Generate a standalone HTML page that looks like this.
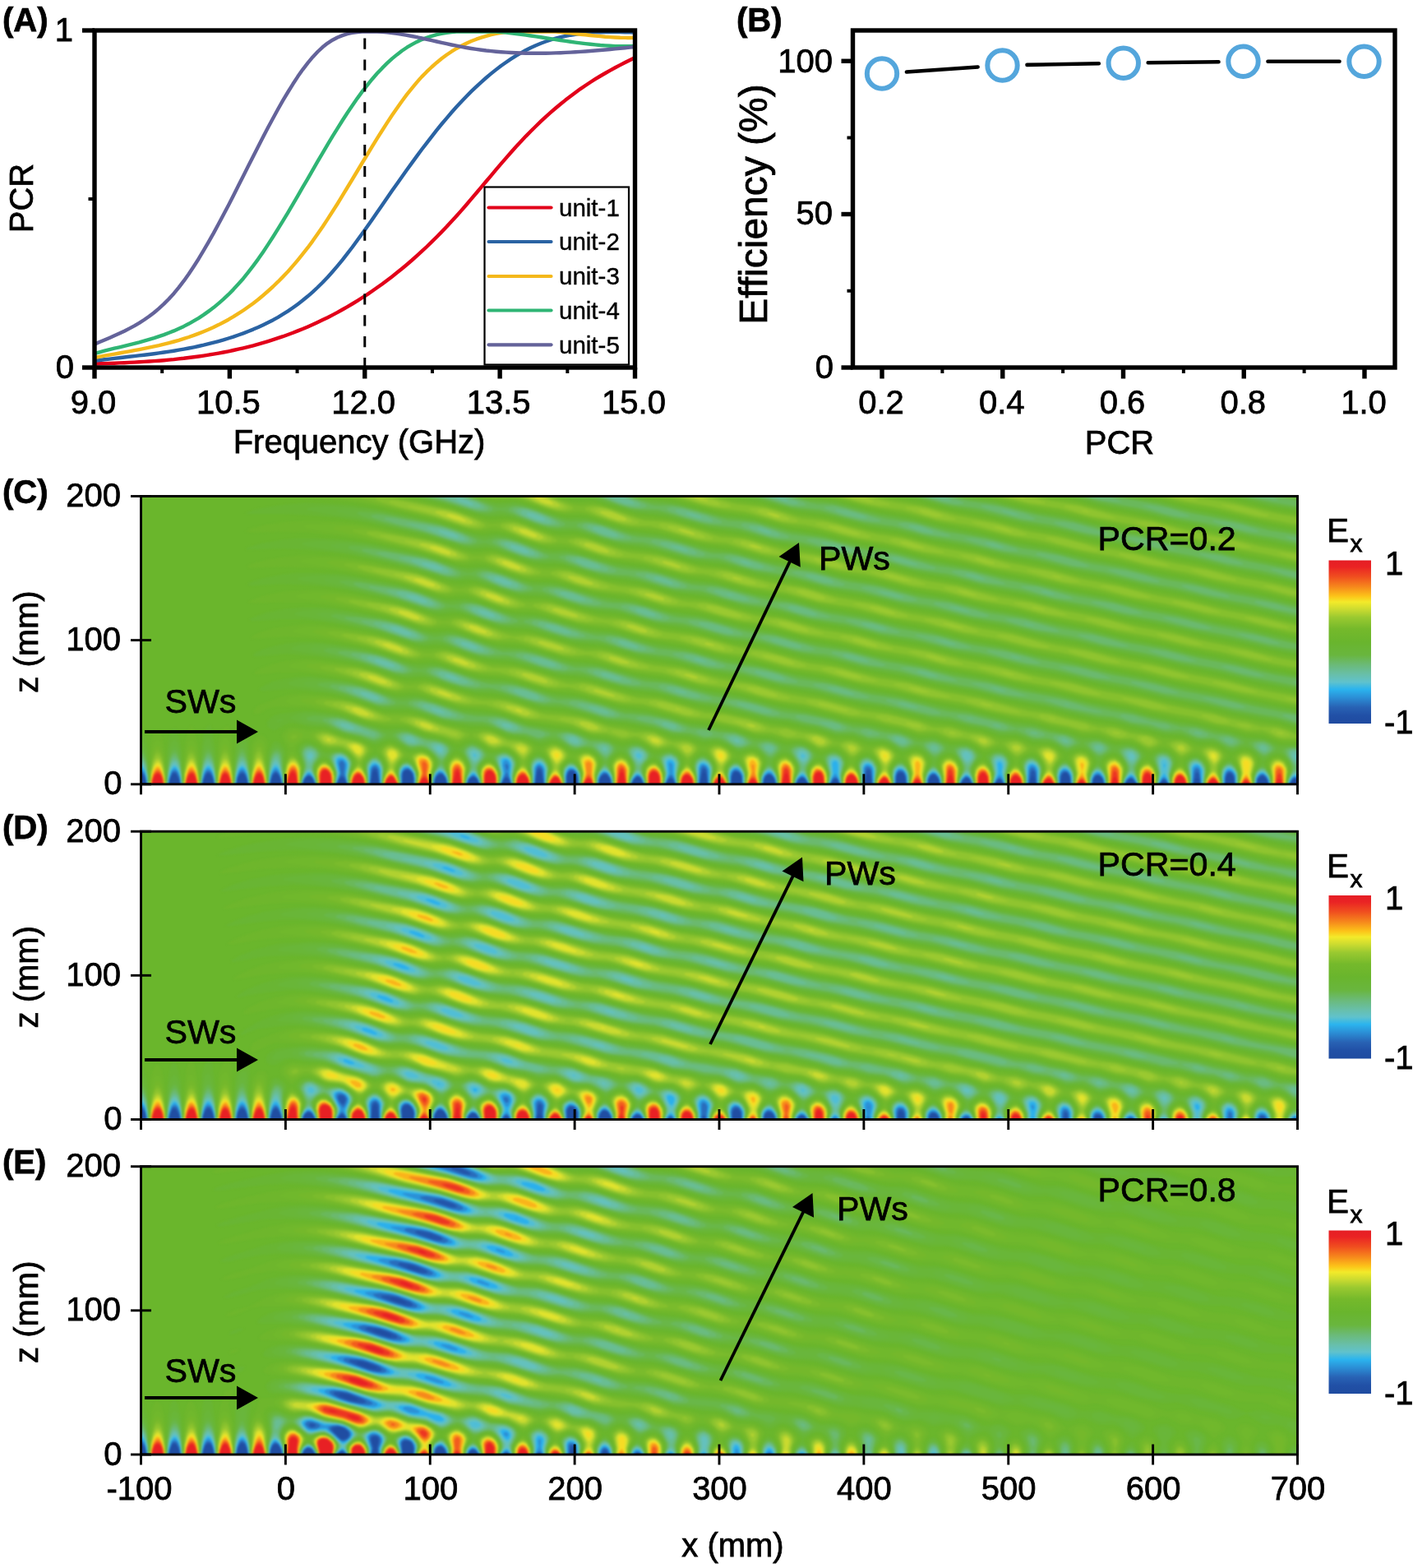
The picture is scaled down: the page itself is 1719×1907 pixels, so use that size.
<!DOCTYPE html>
<html lang="en"><head><meta charset="utf-8"><title>Figure</title>
<style>html,body{margin:0;padding:0;background:#fff;}body{width:1719px;height:1907px;overflow:hidden;}svg{display:block;}text{font-family:'Liberation Sans', sans-serif;font-size:40px;fill:#000;stroke:#000;stroke-width:0.75px;}</style></head><body>
<svg width="1719" height="1907" viewBox="0 0 1719 1907">
<defs><linearGradient id="cb" x1="0" y1="0" x2="0" y2="1"><stop offset="0" stop-color="#e51e25"/><stop offset="0.04" stop-color="#ea2324"/><stop offset="0.1" stop-color="#f04e1f"/><stop offset="0.16" stop-color="#f6861c"/><stop offset="0.22" stop-color="#fcc419"/><stop offset="0.255" stop-color="#f3ea2a"/><stop offset="0.3" stop-color="#cbdb30"/><stop offset="0.35" stop-color="#9ac930"/><stop offset="0.42" stop-color="#75b92b"/><stop offset="0.5" stop-color="#69b52d"/><stop offset="0.58" stop-color="#69b63e"/><stop offset="0.64" stop-color="#6bba78"/><stop offset="0.7" stop-color="#68bfaa"/><stop offset="0.745" stop-color="#60c2cc"/><stop offset="0.79" stop-color="#2bb4ee"/><stop offset="0.84" stop-color="#2b8fd6"/><stop offset="0.9" stop-color="#2862b4"/><stop offset="0.95" stop-color="#2150a6"/><stop offset="1" stop-color="#1f4ba0"/></linearGradient><filter id="blur" x="-2%" y="-5%" width="104%" height="110%" color-interpolation-filters="sRGB"><feGaussianBlur stdDeviation="1.3"/></filter></defs>
<rect width="1719" height="1907" fill="#fff"/>
<g id="panelA">
<clipPath id="clipA"><rect x="115" y="37" width="657.5" height="410"/></clipPath>
<g clip-path="url(#clipA)" fill="none" stroke-width="4.4" stroke-linejoin="round">
<path d="M115.0 442.5 121.0 442.3 127.1 442.1 133.1 441.9 139.1 441.7 145.2 441.4 151.2 441.2 157.2 440.9 163.3 440.6 169.3 440.3 175.3 439.9 181.4 439.5 187.4 439.1 193.4 438.7 199.4 438.2 205.5 437.6 211.5 437.1 217.5 436.4 223.6 435.8 229.6 435.0 235.6 434.3 241.7 433.5 247.7 432.6 253.7 431.6 259.8 430.6 265.8 429.6 271.8 428.5 277.9 427.3 283.9 426.0 289.9 424.7 296.0 423.3 302.0 421.8 308.0 420.3 314.1 418.6 320.1 416.9 326.1 415.1 332.2 413.2 338.2 411.2 344.2 409.2 350.3 407.0 356.3 404.8 362.3 402.4 368.3 400.0 374.4 397.4 380.4 394.8 386.4 392.0 392.5 389.1 398.5 386.2 404.5 383.1 410.6 379.9 416.6 376.5 422.6 373.1 428.7 369.5 434.7 365.8 440.7 362.0 446.8 358.1 452.8 354.0 458.8 349.8 464.9 345.5 470.9 341.0 476.9 336.4 483.0 331.6 489.0 326.7 495.0 321.7 501.1 316.5 507.1 311.1 513.1 305.6 519.2 300.0 525.2 294.2 531.2 288.2 537.2 282.1 543.3 275.8 549.3 269.3 555.3 262.7 561.4 255.9 567.4 249.0 573.4 241.9 579.5 234.8 585.5 227.7 591.5 220.5 597.6 213.3 603.6 206.1 609.6 199.1 615.7 192.1 621.7 185.2 627.7 178.5 633.8 172.0 639.8 165.6 645.8 159.5 651.9 153.5 657.9 147.7 663.9 142.1 670.0 136.7 676.0 131.5 682.0 126.5 688.1 121.6 694.1 117.0 700.1 112.5 706.1 108.1 712.2 104.0 718.2 100.0 724.2 96.2 730.3 92.5 736.3 89.0 742.3 85.6 748.4 82.3 754.4 79.1 760.4 76.0 766.5 73.0 772.5 70.1" stroke="#e2001a"/>
<path d="M115.0 438.8 121.0 438.0 127.1 437.3 133.1 436.6 139.1 435.9 145.2 435.2 151.2 434.5 157.2 433.8 163.3 433.1 169.3 432.4 175.3 431.7 181.4 431.0 187.4 430.2 193.4 429.4 199.4 428.5 205.5 427.6 211.5 426.7 217.5 425.7 223.6 424.6 229.6 423.5 235.6 422.3 241.7 421.0 247.7 419.7 253.7 418.2 259.8 416.7 265.8 415.1 271.8 413.4 277.9 411.5 283.9 409.6 289.9 407.5 296.0 405.4 302.0 403.0 308.0 400.6 314.1 398.0 320.1 395.2 326.1 392.3 332.2 389.2 338.2 385.8 344.2 382.2 350.3 378.4 356.3 374.3 362.3 369.9 368.3 365.3 374.4 360.3 380.4 355.1 386.4 349.5 392.5 343.5 398.5 337.2 404.5 330.5 410.6 323.4 416.6 316.1 422.6 308.4 428.7 300.5 434.7 292.3 440.7 284.0 446.8 275.5 452.8 266.9 458.8 258.3 464.9 249.5 470.9 240.8 476.9 232.1 483.0 223.5 489.0 214.9 495.0 206.5 501.1 198.1 507.1 189.9 513.1 181.8 519.2 173.8 525.2 166.1 531.2 158.4 537.2 151.0 543.3 143.8 549.3 136.8 555.3 130.0 561.4 123.5 567.4 117.2 573.4 111.1 579.5 105.3 585.5 99.8 591.5 94.5 597.6 89.4 603.6 84.6 609.6 80.0 615.7 75.7 621.7 71.6 627.7 67.8 633.8 64.3 639.8 61.0 645.8 58.0 651.9 55.2 657.9 52.7 663.9 50.5 670.0 48.5 676.0 46.7 682.0 45.2 688.1 43.9 694.1 42.7 700.1 41.8 706.1 41.0 712.2 40.3 718.2 39.8 724.2 39.4 730.3 39.2 736.3 39.0 742.3 39.0 748.4 39.0 754.4 39.0 760.4 39.2 766.5 39.3 772.5 39.5" stroke="#2a63a3"/>
<path d="M115.0 435.0 121.0 433.8 127.1 432.7 133.1 431.6 139.1 430.6 145.2 429.5 151.2 428.4 157.2 427.3 163.3 426.2 169.3 425.1 175.3 423.9 181.4 422.7 187.4 421.4 193.4 420.1 199.4 418.6 205.5 417.1 211.5 415.5 217.5 413.8 223.6 411.9 229.6 410.0 235.6 407.9 241.7 405.6 247.7 403.2 253.7 400.7 259.8 398.0 265.8 395.1 271.8 392.0 277.9 388.7 283.9 385.2 289.9 381.4 296.0 377.5 302.0 373.3 308.0 368.9 314.1 364.2 320.1 359.2 326.1 354.0 332.2 348.5 338.2 342.7 344.2 336.6 350.3 330.2 356.3 323.4 362.3 316.3 368.3 308.9 374.4 301.2 380.4 293.1 386.4 284.6 392.5 275.8 398.5 266.6 404.5 257.3 410.6 247.7 416.6 237.9 422.6 228.0 428.7 218.0 434.7 208.0 440.7 198.0 446.8 188.0 452.8 178.1 458.8 168.4 464.9 158.8 470.9 149.4 476.9 140.3 483.0 131.5 489.0 123.0 495.0 114.9 501.1 107.3 507.1 100.1 513.1 93.4 519.2 87.2 525.2 81.5 531.2 76.2 537.2 71.3 543.3 66.8 549.3 62.7 555.3 59.0 561.4 55.7 567.4 52.7 573.4 50.0 579.5 47.7 585.5 45.6 591.5 43.8 597.6 42.2 603.6 40.9 609.6 39.8 615.7 38.9 621.7 38.6 627.7 38.6 633.8 38.6 639.8 38.6 645.8 38.6 651.9 38.6 657.9 38.6 663.9 38.6 670.0 38.6 676.0 38.6 682.0 39.1 688.1 39.7 694.1 40.3 700.1 41.0 706.1 41.7 712.2 42.3 718.2 43.0 724.2 43.6 730.3 44.1 736.3 44.7 742.3 45.1 748.4 45.5 754.4 45.8 760.4 45.9 766.5 46.0 772.5 45.9" stroke="#f4b81a"/>
<path d="M115.0 430.0 121.0 428.3 127.1 426.7 133.1 425.2 139.1 423.7 145.2 422.3 151.2 420.8 157.2 419.3 163.3 417.8 169.3 416.3 175.3 414.6 181.4 412.9 187.4 411.1 193.4 409.1 199.4 407.1 205.5 404.8 211.5 402.4 217.5 399.7 223.6 396.9 229.6 393.8 235.6 390.4 241.7 386.8 247.7 382.9 253.7 378.6 259.8 374.1 265.8 369.1 271.8 363.9 277.9 358.2 283.9 352.1 289.9 345.6 296.0 338.7 302.0 331.2 308.0 323.4 314.1 315.1 320.1 306.4 326.1 297.4 332.2 288.0 338.2 278.4 344.2 268.6 350.3 258.6 356.3 248.4 362.3 238.1 368.3 227.7 374.4 217.3 380.4 206.8 386.4 196.4 392.5 186.1 398.5 175.9 404.5 165.9 410.6 156.1 416.6 146.5 422.6 137.2 428.7 128.2 434.7 119.6 440.7 111.4 446.8 103.6 452.8 96.2 458.8 89.3 464.9 82.9 470.9 76.9 476.9 71.4 483.0 66.4 489.0 61.8 495.0 57.7 501.1 54.1 507.1 50.9 513.1 48.1 519.2 45.8 525.2 43.8 531.2 42.2 537.2 40.9 543.3 39.8 549.3 39.0 555.3 38.6 561.4 38.6 567.4 38.6 573.4 38.6 579.5 38.6 585.5 38.6 591.5 38.6 597.6 38.6 603.6 38.6 609.6 39.1 615.7 39.6 621.7 40.3 627.7 41.0 633.8 41.8 639.8 42.6 645.8 43.5 651.9 44.4 657.9 45.3 663.9 46.2 670.0 47.1 676.0 48.1 682.0 49.0 688.1 49.9 694.1 50.7 700.1 51.6 706.1 52.4 712.2 53.1 718.2 53.8 724.2 54.4 730.3 55.0 736.3 55.4 742.3 55.8 748.4 56.1 754.4 56.2 760.4 56.3 766.5 56.2 772.5 56.0" stroke="#2fb574"/>
<path d="M115.0 418.7 121.0 416.1 127.1 413.5 133.1 410.9 139.1 408.3 145.2 405.5 151.2 402.7 157.2 399.6 163.3 396.4 169.3 392.8 175.3 389.0 181.4 384.8 187.4 380.2 193.4 375.1 199.4 369.6 205.5 363.5 211.5 356.9 217.5 349.6 223.6 341.7 229.6 333.2 235.6 324.2 241.7 314.7 247.7 304.7 253.7 294.3 259.8 283.6 265.8 272.5 271.8 261.2 277.9 249.7 283.9 237.9 289.9 226.1 296.0 214.1 302.0 202.1 308.0 190.2 314.1 178.3 320.1 166.6 326.1 155.0 332.2 143.8 338.2 132.8 344.2 122.2 350.3 112.0 356.3 102.3 362.3 93.1 368.3 84.6 374.4 76.6 380.4 69.4 386.4 63.0 392.5 57.3 398.5 52.6 404.5 48.7 410.6 45.5 416.6 43.1 422.6 41.2 428.7 39.9 434.7 39.0 440.7 38.6 446.8 38.6 452.8 38.6 458.8 38.6 464.9 38.8 470.9 39.3 476.9 40.0 483.0 40.8 489.0 41.8 495.0 42.8 501.1 44.0 507.1 45.2 513.1 46.5 519.2 47.8 525.2 49.1 531.2 50.5 537.2 51.8 543.3 53.2 549.3 54.5 555.3 55.7 561.4 56.9 567.4 58.0 573.4 59.0 579.5 59.9 585.5 60.7 591.5 61.5 597.6 62.1 603.6 62.7 609.6 63.2 615.7 63.6 621.7 64.0 627.7 64.3 633.8 64.5 639.8 64.7 645.8 64.7 651.9 64.8 657.9 64.8 663.9 64.7 670.0 64.6 676.0 64.4 682.0 64.2 688.1 63.9 694.1 63.6 700.1 63.3 706.1 62.9 712.2 62.5 718.2 62.0 724.2 61.5 730.3 61.0 736.3 60.5 742.3 60.0 748.4 59.4 754.4 58.8 760.4 58.2 766.5 57.6 772.5 57.0" stroke="#64639a"/>
</g>
<line x1="443.75" y1="46.5" x2="443.75" y2="445" stroke="#000" stroke-width="3" stroke-dasharray="13.2 12.7"/>
<rect x="589.5" y="227.5" width="175.5" height="216" fill="#fff" stroke="#000" stroke-width="2.2"/>
<line x1="594.5" y1="252.5" x2="670.5" y2="252.5" stroke="#e2001a" stroke-width="4.2" stroke-linecap="round"/>
<text x="680" y="262.8" style="font-size:29.5px;stroke-width:0.4px">unit-1</text>
<line x1="594.5" y1="294" x2="670.5" y2="294" stroke="#2a63a3" stroke-width="4.2" stroke-linecap="round"/>
<text x="680" y="304.3" style="font-size:29.5px;stroke-width:0.4px">unit-2</text>
<line x1="594.5" y1="336" x2="670.5" y2="336" stroke="#f4b81a" stroke-width="4.2" stroke-linecap="round"/>
<text x="680" y="346.3" style="font-size:29.5px;stroke-width:0.4px">unit-3</text>
<line x1="594.5" y1="377.5" x2="670.5" y2="377.5" stroke="#2fb574" stroke-width="4.2" stroke-linecap="round"/>
<text x="680" y="387.8" style="font-size:29.5px;stroke-width:0.4px">unit-4</text>
<line x1="594.5" y1="419.3" x2="670.5" y2="419.3" stroke="#64639a" stroke-width="4.2" stroke-linecap="round"/>
<text x="680" y="429.6" style="font-size:29.5px;stroke-width:0.4px">unit-5</text>
<g stroke="#000" stroke-width="5.4" fill="none">
<rect x="115" y="37" width="657.5" height="410"/>
<line x1="100" y1="37" x2="115" y2="37"/>
<line x1="100" y1="447" x2="115" y2="447"/>
<line x1="107.5" y1="242" x2="115" y2="242" stroke-width="4"/>
<line x1="115.00" y1="447" x2="115.00" y2="460.5"/>
<line x1="279.38" y1="447" x2="279.38" y2="460.5"/>
<line x1="443.75" y1="447" x2="443.75" y2="460.5"/>
<line x1="608.12" y1="447" x2="608.12" y2="460.5"/>
<line x1="772.50" y1="447" x2="772.50" y2="460.5"/>
<line x1="197.19" y1="447" x2="197.19" y2="454" stroke-width="4"/>
<line x1="361.56" y1="447" x2="361.56" y2="454" stroke-width="4"/>
<line x1="525.94" y1="447" x2="525.94" y2="454" stroke-width="4"/>
<line x1="690.31" y1="447" x2="690.31" y2="454" stroke-width="4"/>
</g>
<text x="3" y="38" font-weight="bold">(A)</text>
<text x="89" y="50" text-anchor="end">1</text>
<text x="90" y="460" text-anchor="end">0</text>
<text x="113.5" y="502.5" text-anchor="middle">9.0</text>
<text x="277.9" y="502.5" text-anchor="middle">10.5</text>
<text x="442.2" y="502.5" text-anchor="middle">12.0</text>
<text x="606.6" y="502.5" text-anchor="middle">13.5</text>
<text x="771.0" y="502.5" text-anchor="middle">15.0</text>
<text x="437" y="551" text-anchor="middle">Frequency (GHz)</text>
<text transform="translate(40,241) rotate(-90)" text-anchor="middle">PCR</text>
</g>
<g id="panelB">
<g stroke="#000" stroke-width="4.6" stroke-linecap="round">
<line x1="1102.9" y1="87.5" x2="1189.6" y2="81.5"/>
<line x1="1249.5" y1="78.9" x2="1336.8" y2="77.3"/>
<line x1="1396.7" y1="76.3" x2="1482.5" y2="75.2"/>
<line x1="1542.5" y1="74.8" x2="1629.5" y2="74.8"/>
</g>
<circle cx="1073" cy="89.5" r="18.2" fill="#fff" stroke="#54a6dc" stroke-width="6"/>
<circle cx="1219.5" cy="79.5" r="18.2" fill="#fff" stroke="#54a6dc" stroke-width="6"/>
<circle cx="1366.75" cy="76.75" r="18.2" fill="#fff" stroke="#54a6dc" stroke-width="6"/>
<circle cx="1512.5" cy="74.75" r="18.2" fill="#fff" stroke="#54a6dc" stroke-width="6"/>
<circle cx="1659.5" cy="74.75" r="18.2" fill="#fff" stroke="#54a6dc" stroke-width="6"/>
<g stroke="#000" stroke-width="5.4" fill="none">
<rect x="1037.5" y="37" width="659.5" height="410"/>
<line x1="1023.5" y1="74.25" x2="1037.5" y2="74.25"/>
<line x1="1023.5" y1="260.5" x2="1037.5" y2="260.5"/>
<line x1="1023.5" y1="447" x2="1037.5" y2="447"/>
<line x1="1030.5" y1="167.5" x2="1037.5" y2="167.5" stroke-width="4"/>
<line x1="1030.5" y1="353.75" x2="1037.5" y2="353.75" stroke-width="4"/>
<line x1="1073.00" y1="447" x2="1073.00" y2="460.5"/>
<line x1="1219.75" y1="447" x2="1219.75" y2="460.5"/>
<line x1="1366.50" y1="447" x2="1366.50" y2="460.5"/>
<line x1="1513.25" y1="447" x2="1513.25" y2="460.5"/>
<line x1="1660.00" y1="447" x2="1660.00" y2="460.5"/>
<line x1="1146.38" y1="447" x2="1146.38" y2="454" stroke-width="4"/>
<line x1="1293.12" y1="447" x2="1293.12" y2="454" stroke-width="4"/>
<line x1="1439.88" y1="447" x2="1439.88" y2="454" stroke-width="4"/>
<line x1="1586.62" y1="447" x2="1586.62" y2="454" stroke-width="4"/>
</g>
<text x="896" y="38" font-weight="bold">(B)</text>
<text x="1013" y="87.5" text-anchor="end">100</text>
<text x="1013" y="273" text-anchor="end">50</text>
<text x="1014" y="460" text-anchor="end">0</text>
<text x="1072.0" y="502.5" text-anchor="middle">0.2</text>
<text x="1218.8" y="502.5" text-anchor="middle">0.4</text>
<text x="1365.5" y="502.5" text-anchor="middle">0.6</text>
<text x="1512.2" y="502.5" text-anchor="middle">0.8</text>
<text x="1659.0" y="502.5" text-anchor="middle">1.0</text>
<text x="1362" y="552" text-anchor="middle">PCR</text>
<text transform="translate(932.5,248.5) rotate(-90)" text-anchor="middle" style="font-size:48px">Efficiency (%)</text>
</g>
<g id="panelC">
<clipPath id="clipC"><rect x="171.5" y="603.5" width="1407.0" height="350.3"/></clipPath>
<rect x="171.5" y="603.5" width="1407.0" height="350.3" fill="#6ab62c"/>
<g clip-path="url(#clipC)"><g transform="translate(171.5,603.5)" filter="url(#blur)">
<path fill="#6eb62c" d="M10 351l20 0 0-30-2-18-3-13-2-4-2-2-2 0-2 1-2 4-3 12-1 20zM51 351l21 0-1-30-2-19-4-17-2-4-2-1-2 2-2 3-3 14-2 20zM92 351l21 0-1-28-3-36-2-6-2-1-4 2-2 2-2 4-2 7-2 20zM134 351l20 0-1-34 1-18-1-3-2-3-4-3-4 1-2 1-4 5-2 6-1 12zM175 351l19 0 2-22-2-6-6-14 0-2 2-4 7-5 4-2 4 1 4 1 12 8 4 2 18 0 6 2 4 3 5 6 2 6-6 14-1 4 1 8 21 0 0-8-4-14 0-4 3-6 10-10-1-2-7-6-7-4-6-2-16-3-22-9-8 0-14 1-16-3-8 1-6 5-2 4 1 4 6 10 1 4-4 18zM215 351l20 0 1-10-1-7-4-8-4-4-2-1-2 0-4 1-4 4-2 3-1 6zM294 351l20 0-3-16 1-6 2-4 3-3 6-3 2 1 4 3 4 5 2 5 2 8-2 10 18 0 0-10 5-14-1-6-4-6-4-3-4-2-6-1-10 2-4 0-14-9-4-2-6-1-5 2-7 4-2 2-1 2 8 10 4 8 0 4-3 12zM376 351l18 0 0-8 3-10 0-6-2-4-4-6-4-3-2-1-4 1-4 3-3 4-2 4 0 4 3 14zM415 351l20 0 1-10-1-7-4-7-2-3-4-2-4 0-4 2-3 3-2 4 0 6zM454 351l21 0 0-10-4-16 1-4 3-4 4-4 4-2 4 1 4 3 4 6 3 6 0 6-3 10-1 8 20 0-3-16 0-4 2-4 4-4 4-3 4 0 2 1 4 4 4 8 1 8-1 10 18 0 0-10 5-14-1-6-4-6-6-4-6-1-12 2-4 0-12-8-8-4-6 0-12 4-4 0-14-8-6-1-16-2-18-8-6-2-6-1-14 1-6-1-28-6-26-9-14-4-32-1-10-3-28-10-28-6-32-3-18 1-8 2-27 10-6 4-3 4 0 2 2 2 2 0 4-1 10-6 8-2 36 1 10 1 32 6 28 10 14 4 16 2 16 0 8 1 24 9 20 4 16 8 4 0 10-4 6-1 4 1 4 2 14 9 4 1 10-2 6 0 6 3 4 4 3 4 1 4 0 4-5 12zM576 351l18 0 0-6 3-12 0-4-1-4-3-5-4-4-4-2-4 0-4 3-5 6 0 4 3 14zM615 351l20 0 1-10-2-8-5-9-4-2-2 0-4 2-4 3-2 4-1 6zM654 351l21 0 0-10-5-14 0-4 4-6 7-5 4 0 4 2 6 7 3 6 0 6-3 12-1 6 20 0-2-14 0-6 2-4 3-4 4-3 4-1 2 1 2 2 4 6 2 5 1 8-1 10 18 0 0-12 5-14 0-4-2-4-3-3-4-3-4-1-6 0-12 4-2 0-12-9-8-4-6-1-12 2-4 0-16-7-16-1-6-1-14-6-8-3-18-2-18-4-18-2-26-8-24-6-32-3-32-11-16-4-28-2-10-2-50-16-8-1-16 1-8-1-42-14-22-5-40-5-14-1-14 1-15 2-15 4-15 6-5 4 2 1 2 1 28-3 24 0 18 2 30 5 24 5 40 14 8 1 16-1 8 1 50 16 10 1 20 2 12 2 12 3 28 9 52 8 8 2 18 7 20 3 16 5 4 1 12-2 6 1 6 2 14 9 4 0 10-2 6 0 4 2 4 2 4 5 2 4 1 4-6 14zM776 351l18 0 0-6 3-12 0-4-1-4-3-4-4-4-4-2-4 0-4 2-3 2-3 4 1 6 3 14zM815 351l20 0 1-10-1-8-6-9-4-2-2 0-4 2-4 4-2 3-1 6zM854 351l21 0 0-10-6-14 0-4 3-4 3-3 4-2 4-1 4 1 4 3 4 5 3 5 0 6-3 12-1 6 20 0-2-14 0-6 2-4 3-4 8-6-1-2-11-10-8-4-6 0-14 1-18-8-22-1-22-8-18-3-18-4-22-3-22-7-28-6-36-6-48-13-34-5-52-14-8-2-18-1-10-1-48-15-12-2-20-1-10-2-48-15-8-1-16 1-8-1-40-14-24-5-48-8-14-1-16 0-18 2-19 3-14 4-12 6 1 2 2 0 38-2 26 1 20 2 34 6 28 6 42 14 10 2 14-1 8 0 10 3 28 10 12 3 12 2 20 2 10 2 46 13 8 2 18 1 10 2 52 14 30 4 28 7 26 8 22 2 32 6 26 9 20 2 18 6 14-1 6 1 6 3 14 9 4 0 12-4 6 1 4 2 4 4 5 7 0 4-5 10-1 4zM935 351l18 0 0-12 5-14 0-4-4-6-3-3-4-2-4-1-6 1-6 3-6 4 2 1 4 6 4 9 2 6zM976 351l18 0 0-6 3-12 0-4-2-4-2-4-4-4-4-2-4 0-4 2-4 3-2 3 0 4 4 16zM1015 351l20 0 1-10-1-6-4-9-4-4-2-1-4 1-4 3-4 6-1 6zM1054 351l21 0 0-10-6-14-1-4 3-4 4-3 4-2 4-1 4 1 4 3 5 6 2 6 0 4-3 12-1 6 20 0-2-14 0-6 3-5 8-9 0-2-8-8-4-3-6-2-6-1-14 1-14-7-6-1-20-1-20-7-20-4-18-5-24-3-56-14-28-4-54-14-44-8-40-10-44-8-42-11-44-7-44-13-10-2-18-1-10-2-52-15-10-1-18-1-8-1-12-4-26-9-12-4-8-1-16 2-8-1-48-16-50-10-18-3-18-2-20 0-20 1-18 2-18 4-12 4-7 4 7 1 36-1 28 0 24 3 24 4 50 10 48 16 8 0 14-1 8 1 8 2 30 11 12 3 8 2 18 1 10 1 54 15 10 2 16 1 10 2 46 13 42 6 44 12 42 7 42 11 14 3 26 4 54 14 26 4 16 4 20 4 20 7 22 1 14 6 6 1 12 0 6 1 6 2 14 9 4 0 12-4 6 1 4 2 6 5 3 4 1 4-7 14-1 6zM1135 351l18 0 0-12 6-14 0-4-4-6-4-3-4-2-4-1-6 1-9 5-1 2 7 12 2 6 1 6zM1176 351l18 0 0-6 3-10 0-6-2-4-3-4-3-3-4-2-4 0-6 2-3 3-2 4 5 16zM1215 351l20 0 1-10-1-6-4-9-4-4-2-1-4 1-4 3-4 6 0 6zM1254 351l21 0-1-10-5-14-1-4 3-4 4-3 4-2 4 0 4 1 4 3 4 5 3 6 0 4-3 12-1 6 20 0-2-14 0-6 3-6 8-8 0-2-3-4-5-4-4-3-6-2-6-1-10 1-4 0-14-7-6-1-20-1-18-6-20-4-22-6-22-3-36-8-22-6-50-10-38-9-46-9-40-10-40-7-48-13-36-5-52-14-34-5-50-13-40-6-42-13-10-2-20-1-12-3-52-15-10-1-16 0-8-1-10-3-30-11-10-3-8-1-16 1-8-1-46-15-60-12-18-3-20-2-22-1-20 0-18 2-22 3-15 4-9 4 2 2 2 0 40-1 30 1 28 2 26 5 62 13 46 15 8 1 18-1 8 1 48 16 10 2 16 0 10 2 54 15 38 5 42 12 42 7 48 13 36 5 50 13 36 6 48 12 40 7 44 11 44 8 56 14 24 4 22 6 20 4 18 6 16 0 6 1 18 7 20 1 6 2 14 9 4 0 10-4 6 0 4 1 6 5 5 6 2 4-8 14-1 6zM1335 351l18 0 0-12 6-14 0-4-2-4-4-4-4-3-4-1-4 0-6 2-7 4-1 2 7 12 2 6 1 6zM1376 351l18 0 0-6 3-10 0-6-2-4-3-4-3-3-4-2-4 0-6 3-3 2-2 4 1 4 4 12zM1384 299l5 1 18 0 0-17-4 0-18-6-20-3-36-8-26-6-52-11-44-10-38-7-46-12-42-8-46-11-40-7-42-11-46-8-40-11-46-8-42-11-38-6-52-14-36-5-44-13-44-6-48-15-10-1-16 0-10-2-12-3-28-10-10-3-8-1-16 1-8-1-48-15-64-14-22-4-22-2-24-1-22 0-20 1-27 4-15 4-5 2-3 2 8 1 40-1 28 1 36 4 30 5 70 15 46 15 8 1 16-1 10 1 38 13 12 4 10 1 16 0 8 1 50 15 42 6 46 13 36 5 50 13 38 6 46 12 40 7 44 12 44 8 44 11 40 7 42 10 50 10 36 9 50 10 26 7 36 7 22 4 22 6 20 4 18 5 20 1zM1401 257l6 1 0-20-46-8-46-11-44-9-42-10-42-8-46-12-36-6-52-13-34-6-52-13-36-6-48-12-40-7-42-11-44-8-46-12-34-4-52-15-40-5-48-15-10-1-18 0-8-2-40-14-10-2-10-1-16 1-8-2-44-14-51-11 0-2-126 0 0 2 41 4 26 3 22 4 74 17 38 12 10 3 8 1 16-2 6 1 8 2 32 12 12 3 8 2 18 0 8 1 48 14 42 6 50 14 34 5 48 13 42 6 42 12 44 8 44 11 40 7 46 12 38 6 50 13 38 7 48 11 36 7 48 11 36 7 48 12zM1399 213l8 1 0-19-26-5-48-11-44-9-38-9-46-9-40-10-46-9-42-10-44-8-42-11-38-7-52-13-36-6-46-12-42-7-44-12-38-5-52-15-38-5-48-14-10-2-14 1-8-1-17-5 0-2-95 0 0 2 16 4 6 0 14-1 10 1 38 14 12 3 8 1 18 0 8 1 48 15 40 6 52 14 36 5 44 12 44 7 44 12 38 6 50 13 36 6 48 12 42 8 40 10 46 9 42 10 44 9 40 9 44 9 44 10zM1404 171l3 0 0-19-12-2-44-11-38-7-48-12-36-6-50-12-38-7-46-12-42-7-40-11-48-9-42-11-36-5-52-14-38-6-42-12-40-6-5-1 0-2-94 0 0 2 23 2 10 2 52 14 40 6 42 12 38 6 52 13 36 6 46 12 44 8 40 10 46 9 42 10 40 8 48 11 38 7 48 12 38 7 46 11zM1401 127l6 1 0-20-28-6-50-10-40-10-42-8-46-11-36-7-54-13-34-6-49-12-41-7-40-11-36-6 0-2-87 0 0 2 19 3 48 12 42 8 40 10 46 9 44 11 36 6 52 13 38 7 46 11 40 8 38 9 50 10zM1402 83l5 1 0-20-52-10-46-11-46-9-36-9-48-9-42-11-24-4 0-2-85 0 0 2 57 14 38 7 46 11 40 8 42 10 46 9 40 10 36 7zM1401 39l6 1 0-20-28-4-63-15 0-2-89 0 0 2 44 11 36 6 54 13z"/>
<path fill="#70b82c" d="M10 351l20 0 0-22-2-16-3-11-2-4-2-1-2 0-2 1-2 4-2 8-2 17zM51 351l20 0 0-22-2-16-2-9-2-5-2-2-2-1-2 1-2 3-3 11-2 16zM93 351l20 0-1-22-2-16-3-14-2-4-2-2-2 1-2 2-2 5-2 9-2 17zM134 351l20 0-3-48-1-4-3-3-4 0-2 1-3 4-2 6-1 14zM175 351l19 0 2-18-1-6-2-6-4-6-4-4-2-1-4 6-3 9-1 8zM215 351l20 0 1-10-1-6-4-8-2-2-4-3-2 0-4 1-3 2-3 4-1 6zM254 351l21 0 0-8-5-14 0-4 2-4 8-10 1-2-1-2-3-4-6-4-4-2-20-5-22-8-8 0-14 2-14-3-4 0-4 1-4 3-2 4 0 4 4 7 4 4 2-1 12-10 6-1 6 3 12 8 4 2 18 0 4 1 6 4 6 7 1 6-6 14 0 4zM294 351l20 0-3-16 0-6 4-6 4-3 4-2 2 0 4 4 4 5 3 6 1 8-2 10 18 0 0-12 4-12 0-6-5-6-7-4-6-1-14 2-16-10-6-2-6 2-5 3-3 4 1 2 7 12 1 4 0 4-3 12zM376 351l17 0 1-8 3-10-1-6-1-4-4-5-2-2-4-1-2 0-4 2-4 4-2 4 0 4 3 14zM415 351l20 0 1-10-1-6-4-8-4-3-2-1-2-1-4 2-4 3-2 4-1 6zM454 351l21 0 0-8-5-16 0-4 2-4 9-10 1-2-6-6-7-4-6-1-16-2-16-7-8-3-8-1-14 1-28-6-28-10-12-3-10-1-18 0-8-1-8-3-28-10-22-5-20-2-26 0-11 2-4 2-2 2 1 2 5 2 25 3 32 6 30 11 10 3 18 3 16 0 8 0 8 3 16 7 22 5 16 6 4 0 10-4 6 0 6 2 16 10 4 1 12-2 6 1 4 3 5 4 3 4 1 4 0 4-6 12zM494 351l20 0-3-16 0-4 2-4 2-3 6-5 4-1 6 6 5 9 1 8-2 10 18 0 0-12 4-14-1-6-5-5-6-3-8 0-10 4-2 0-11-10-7-4-4 0-4 0-7 2-5 4 0 2 9 12 2 4 1 4 0 4-4 12zM576 351l17 0 1-6 3-12 0-4-2-4-2-4-4-4-4-2-4 0-4 3-3 3-2 4 0 4 4 14zM615 351l20 0 1-10-1-6-4-7-4-4-4-1-4 1-4 4-2 3 0 6zM654 351l21 0-1-10-5-14 0-4 2-4 4-4 4-3 4-2 4 1 4 4 4 6 4 6 0 6-4 11-1 7 20 0-3-16 0-4 4-6 8-8 0-2-3-4-5-4-4-3-6-2-8-1-10 3-4 0-14-7-6-2-16 0-18-8-6-2-18-2-16-3-20-3-24-8-18-4-14-3-26-2-32-11-14-3-36-4-54-17-10-1-14 1-8-1-36-13-18-4-34-5-22-2-12 1-11 2-5 2-1 2 4 2 69 13 52 17 8 1 14-2 8 1 52 17 10 1 28 3 16 4 28 10 52 7 28 10 18 1 18 6 14-1 6 1 6 2 12 8 4 1 14-2 6 1 4 2 4 3 3 4 3 4 0 4-7 14zM735 351l18 0 0-12 4-12 0-4-1-4-3-4-4-3-4-1-4-1-6 2-6 3-1 2 0 2 6 10 2 6 1 6zM776 351l17 0 1-6 3-12 0-4-2-4-3-4-3-3-4-2-4 0-4 2-5 5 0 4 3 14zM815 351l20 0 1-10-1-6-4-8-4-4-2 0-4 0-4 3-3 5-1 6zM854 351l21 0-1-10-6-16 0-2 2-4 5-4 4-3 4-1 4 1 4 4 4 5 3 6 1 6-4 11-1 7 20 0-3-18 2-6 8-10 0-2-1-2-7-7-8-4-6 0-14 1-18-7-6-1-10 0-6 0-14-6-8-3-18-3-18-4-22-3-23-7-25-6-36-5-50-14-32-4-54-15-34-4-48-14-12-2-20-2-10-1-48-16-10-1-14 1-8-1-38-13-20-5-38-6-22-2-20 0-12 2-6 2 0 2 6 2 32 5 54 12 48 15 8 1 16-1 8 1 34 12 14 4 10 2 20 1 10 2 14 3 34 11 10 2 24 2 54 15 8 1 24 3 52 14 24 3 32 7 26 8 20 2 18 6 18 0 6 2 16 9 4 1 12-4 6 1 6 4 5 4 3 4 1 4-7 14-1 6zM936 351l17 0 0-12 5-14-1-4-4-6-4-3-4-2-4 0-4 1-7 4-1 2 1 4 4 8 2 6 1 6zM976 351l17 0 1-6 2-10 0-6-1-4-3-4-3-3-4-2-4 0-4 2-4 3-1 4 0 4 4 14zM1015 351l20 0 1-10-2-8-5-8-4-3-2 0-4 2-3 3-2 4-1 6zM1054 351l21 0 0-6-1-6-8-16 4-4 5-4 8-3 4 1 4 3 4 5 3 6 1 6-4 12-1 6 20 0-3-18 2-6 8-10-1-4-7-7-8-3-6-1-14 1-18-8-6-1-16 1-14-6-8-3-18-2-20-6-22-2-18-6-36-9-32-5-52-13-40-7-44-11-42-7-44-12-40-6-48-14-10-2-16 0-10-2-52-15-10-2-18-1-8-1-12-3-26-10-12-3-8-1-16 1-8-1-39-13-19-5-48-9-21-2-27 0-13 2-6 2 1 2 9 2 33 5 62 14 52 16 10 1 14-1 6 0 8 2 29 11 13 4 10 2 18 0 8 1 54 16 10 2 18 1 8 1 44 13 14 3 30 4 42 12 44 7 42 11 14 3 26 4 56 14 24 3 18 5 20 4 20 7 20 0 6 2 14 6 18 0 6 2 16 10 4 0 12-4 6 0 4 2 5 5 5 6 3 4-7 9-2 5-1 6zM1136 351l17 0 0-12 5-14 0-4-5-7-4-3-4-1-4 0-4 1-4 2-3 4 0 4 4 8 3 6 0 6zM1176 351l17 0 1-6 2-10 0-6-1-4-3-4-3-2-4-2-4 0-4 1-4 3-2 4 1 4 4 14zM1215 351l20 0 1-12-2-6-5-8-4-3-2 0-4 2-5 7-1 6zM1254 351l21 0 0-8-2-6-4-8-4-5-2 1-4 5-4 6-1 7zM1294 351l20 0-3-14 0-6 2-4 6-8 1-4-2-4-5-4-8-4-6-1-10 2-4-1-14-7-6-1-20-1-18-6-22-4-18-6-24-3-58-14-28-5-28-6-28-8-46-8-43-11-41-7-48-13-34-5-52-14-34-4-50-14-40-6-44-13-38-5-54-15-10-2-16 0-8-1-50-16-10-2-16 2-8-1-38-13-20-5-50-10-26-3-16-1-16 0-16 2-5 2 3 2 52 9 64 14 14 4 40 13 8 1 16-1 8 0 38 14 12 3 8 2 18 0 8 1 40 12 16 4 36 4 44 13 40 6 48 13 36 6 50 13 38 6 48 12 42 8 36 9 48 9 26 7 32 7 26 4 18 5 22 5 18 5 20 1 20 8 20 1 6 2 14 8 4 0 12-4 4 0 4 2 4 3 12 12 12-8 4-1 4-1 4 3 4 4 4 6 2 4 0 4-4 12zM1336 351l17 0 0-12 5-14 0-4-5-7-4-3-4-1-4 0-4 1-4 2-3 4 1 4 4 9 2 5 0 6zM1376 351l17 0 1-6 2-10 0-6-2-4-3-4-6-4-4 0-4 1-3 3-3 4 1 4 4 14zM1382 297l7 2 18 0 0-15-4 0-18-6-24-4-36-7-22-6-52-11-38-9-46-9-46-11-38-7-44-11-42-8-42-11-46-8-42-11-42-7-46-12-36-6-52-14-36-4-44-13-44-7-50-15-10-1-14 0-8-1-12-3-26-10-14-4-10-1-14 1-8 0-46-15-64-14-27-4-29-2-26 1-9 1-2 2 4 2 61 11 70 16 50 15 10 2 16-2 8 1 38 14 12 3 10 2 16-1 8 1 50 15 42 6 46 14 36 4 52 14 36 6 44 11 42 8 46 12 42 7 43 11 41 7 42 11 48 9 38 10 54 10 26 7 36 7 20 4 22 6 20 3 16 5 22 2zM1397 255l10 2 0-17-42-8-48-12-44-8-43-11-39-7-48-12-36-6-51-13-37-7-50-12-36-6-50-13-40-7-41-11-43-7-48-13-34-4-48-14-44-6-48-15-10-1-16 0-8-1-38-13-12-4-10-1-16 1-8-1-46-15-56-12 0-2-85 0 0 2 49 9 76 18 46 14 10 1 14-1 8 1 8 2 30 11 14 4 10 1 16 0 8 1 49 15 41 6 50 14 36 4 46 13 44 7 42 12 42 7 44 11 38 7 50 12 36 7 50 12 38 7 46 11 38 7 52 13 32 6 52 12zM1405 213l2 0 0-17-24-4-46-11-46-9-36-9-48-9-43-11-45-8-38-10-46-9-44-11-38-7-50-12-36-6-48-13-42-7-42-12-36-4-54-15-38-5-50-15-10-1-20-1-8-1-13-5 0-2-90 0 0 2 11 2 8 1 14-1 8 1 38 13 12 4 10 1 16 0 8 1 48 15 38 5 54 14 36 5 44 13 44 7 46 12 36 6 52 13 34 6 50 12 40 7 43 11 45 9 38 9 46 9 42 10 42 8 45 11zM1400 169l7 1 0-17-8-1-45-11-37-7-50-12-36-7-51-12-37-7-45-11-41-7-42-11-48-9-42-11-34-5-56-15-36-5-44-13-38-5-11-3 0-2-80 0 0 2 13 1 10 2 50 14 42 6 42 12 38 6 52 13 34 5 48 13 42 7 42 11 46 9 40 10 42 8 47 11 37 7 46 11 38 7zM1397 125l10 2 0-18-30-7-46-9-42-10-40-7-46-12-36-6-52-13-38-7-45-11-43-8-40-10-42-8-1 0 0-2-72 0 0 2 55 14 42 7 41 11 43 8 46 11 36 7 51 12 39 7 44 11 44 8 39 10 47 9zM1398 81l9 2 0-18-50-9-44-11-46-9-40-10-52-10-38-10-30-5 0-2-74 0 0 2 48 12 40 7 44 11 46 9 36 9 48 9 44 11 36 7zM1398 37l9 2 0-17-24-4-53-13-20-4 0-2-78 0 0 2 39 10 38 7 52 12z"/>
<path fill="#74b82b" d="M10 351l20 0-1-20-1-14-3-9-2-3-2-2-2 1-2 1-4 10-1 14zM52 351l19 0-1-20-1-14-4-11-2-2-2-1-2 1-2 3-2 8-2 14zM93 351l19 0-1-20-1-14-3-9-2-4-2-2-2 0-2 2-3 11-2 16zM134 351l19 0 0-18-3-26-2-4-1-2-2-1-2 1-2 1-2 3-2 6-2 14zM175 351l18 0 2-18 0-5-4-9-6-5-2 0-2 1-2 3-3 7-1 8zM215 351l20 0 1-10-1-6-4-7-4-4-2-1-2-1-4 2-4 3-2 4 0 6zM254 351l21 0-1-10-4-12-1-4 2-4 7-10 1-4-2-2-4-4-6-3-20-5-20-7-10-1-7 2-4 2 0 2 1 2 10 8 6 4 6 2 10-1 6 1 6 3 7 7 3 4 0 4-6 14-1 4zM294 351l20 0 0-4-4-14 0-4 5-7 9-7-8-8-9-5-6-1-4 2-3 2-3 4 1 4 7 12 0 4-4 15zM336 351l17 0 0-10 4-14 0-4-2-4-4-4-4-3-4-1-8 0-9 4 0 2 7 10 4 8 0 6zM376 351l17 0 1-8 2-10 0-4-3-7-6-6-4 0-4 2-3 3-2 4-1 4 3 14zM415 351l20 0 1-10-1-6-4-7-2-2-4-3-2 0-4 1-3 3-3 4 0 6zM454 351l21 0-1-10-5-16 1-4 8-10 1-4-2-4-8-5-6-1-16-2-17-8-7-2-6-1-12 2-6 0-14-5-16-3-22-8-10-3-12-2-18 0-10-1-34-13-18-4-18-2-14 0-17 2-2 2 4 2 43 11 24 9 10 3 20 3 18 0 6 1 8 2 18 8 22 5 16 6 4 0 12-5 4 0 6 2 12 9 4 2 6 1 10-2 6 1 4 3 6 5 3 4 1 4-1 4-5 12-1 4zM494 351l20 0 0-4-4-12 0-4 2-4 10-10 0-2-3-4-4-4-6-4-4-1-4 0-4 0-5 3-2 2 0 4 8 12 2 6-1 4-4 11zM536 351l17 0 0-10 3-14 0-4-1-4-2-3-4-3-4-1-4-1-6 1-5 3-2 2 8 18 1 6zM576 351l17 0 1-6 2-12 0-4-1-4-3-4-3-3-4-2-4 0-4 3-2 2-2 4 0 4 3 14zM615 351l20 0 0-10-1-6-3-7-4-4-2 0-4 0-4 3-3 4-1 6zM654 351l21 0 0-6-1-6-6-12-1-4 2-4 11-10 1-2-3-4-9-5-6-2-16 0-16-7-10-3-18-2-14-3-20-3-22-7-12-4-22-3-24-3-30-10-16-4-36-4-54-17-10-1-14 2-6 0-38-14-18-5-22-3-26-2-14 1-3 1-1 2 4 2 6 2 46 11 46 15 10 1 14-1 6 0 48 16 12 3 22 1 10 2 14 3 30 11 20 2 32 5 26 9 20 2 16 6 4 0 10-1 6 0 6 2 12 8 6 2 4 0 10-2 6 0 4 3 5 4 5 6 2 4-8 14-1 6zM694 351l20 0-4-16 0-4 2-4 7-8 1-2 1-2-3-4-4-4-9-4-4-1-6 1-6 2-2 2 0 2 10 14 3 6-1 4-4 12zM736 351l17 0 0-12 3-12 1-4-2-4-2-3-4-3-4-2-4 0-4 1-5 3-2 2 1 4 6 14 0 6zM776 351l17 0 1-6 2-12 0-4-1-4-3-4-3-2-4-2-4 0-4 2-3 2-1 4 0 4 3 14zM815 351l20 0 0-10-1-6-3-7-4-4-2 0-4 0-4 3-3 4-1 6zM854 351l21 0 0-6-2-7-4-9-4-5-2 1-4 5-4 7-1 6zM894 351l20 0-4-16 1-4 1-4 7-8 1-4-3-4-4-4-8-4-8 0-12 3-12-7-6-2-6-1-12 1-4-1-14-7-8-2-18-3-20-4-18-2-29-9-27-6-26-3-54-15-30-3-54-16-10-1-18-1-8-2-35-11-13-3-10-2-28-2-12-3-28-11-12-3-8-1-16 2-6-1-38-13-18-5-38-6-18-2-16 1-5 1-1 2 4 2 13 4 53 13 44 14 10 1 14-2 8 1 35 13 15 4 12 2 18 1 10 1 48 15 10 2 18 0 8 2 52 15 32 3 52 15 24 3 32 7 26 8 20 1 18 6 18 1 8 3 14 8 6 0 12-3 4 0 6 4 10 11 2 1 16-11 4-1 4 3 6 8 3 5 2 4-1 4-4 12zM936 351l17 0-1-12 4-12 0-6-4-6-3-2-4-2-4 0-4 1-5 3-1 2 0 4 5 10 1 6zM976 351l17 0 1-6 2-10 0-6-2-4-3-4-6-4-4 0-4 2-3 2-2 4 0 4 4 14zM1015 351l20 0 0-10-1-6-3-7-4-4-2-1-4 1-4 3-3 4-1 6zM1054 351l21 0 0-6-2-7-4-8-4-4-2 0-2 2-5 7-2 6zM1094 351l20 0-4-18 2-6 6-8 1-4-1-2-3-4-4-3-6-2-8-1-12 2-11-6-7-3-6-1-12 2-4-1-14-6-8-3-18-2-20-6-20-2-21-6-33-8-32-5-50-13-42-7-44-12-42-7-44-12-40-6-48-14-10-1-16-1-8-1-43-13-15-4-10-1-16 0-8-2-48-16-10-1-16 2-6-1-38-13-22-6-42-7-18-2-18 0-6 1-1 2 3 2 14 4 64 16 44 14 10 1 14-2 6 0 8 3 32 12 12 3 8 1 18 1 8 1 56 16 10 2 16 0 8 1 44 14 16 3 28 3 46 13 42 6 42 12 40 6 54 15 26 3 18 5 20 4 20 7 20 0 4 1 16 7 20 1 6 2 10 7 4 1 4 0 12-4 4 0 6 3 12 11 2 2 4-2 12-7 4-1 4 3 4 4 5 8 1 4 0 4-4 12zM1136 351l17 0-1-12 5-14 0-4-4-6-4-3-4-1-4 0-4 1-4 3-2 2 1 4 4 10 1 6zM1176 351l17 0 1-6 2-10 0-6-2-4-3-4-6-3-4-1-4 2-2 2-3 4 0 4 4 14zM1215 351l20 0 0-10 0-6-4-7-4-4-2-1-4 1-4 3-3 4-1 6zM1254 351l21 0 0-6-2-7-4-7-4-4-2 0-2 2-4 4-2 4-1 6zM1294 351l20 0-4-16 1-4 1-4 6-8 1-4-1-2-3-4-6-4-4-1-6-1-14 3-12-7-8-3-6-1-14 1-18-7-20-3-20-6-24-3-56-15-28-4-28-7-30-7-42-8-44-11-40-7-50-13-34-5-52-14-36-5-34-10-16-4-38-5-44-13-38-5-54-16-10-1-16 0-8-1-50-17-10-1-16 2-8-1-38-14-18-5-49-9-17-2-24-1-7 1-2 2 3 2 14 4 76 19 42 13 12 2 14-2 8 0 37 14 13 4 10 1 16 0 8 1 54 16 12 2 26 3 44 13 40 6 48 13 34 5 54 14 36 5 49 13 41 7 34 9 22 5 28 4 26 7 34 8 24 3 22 7 20 3 18 6 20 1 20 8 6 0 10 0 6 1 18 10 4 0 12-4 4 0 6 3 10 9 4 3 4-1 10-6 4-2 2 0 4 3 4 4 5 8 1 4 0 4-4 12zM1336 351l17 0-1-12 5-12 0-4-1-4-3-4-4-3-4-1-4 0-4 1-4 3-2 2 1 4 4 10 1 6zM1376 351l17 0 1-6 2-10 0-6-2-4-3-3-6-4-4 0-4 1-2 2-3 4 0 4 4 14zM181 299l2 1 4 0 9-7 1-2 0-2-4-2-4-1-4 0-4 1-2 2-1 4 1 4zM1386 297l21 1 0-12-2 0-20-7-22-3-16-4-20-4-24-6-50-10-36-9-48-9-44-11-40-7-42-11-46-9-44-11-42-7-40-11-44-8-46-12-36-5-54-15-34-4-46-13-42-6-50-15-10-2-16 1-8-1-10-3-29-11-13-4-10-1-14 2-6 0-36-13-14-4-70-14-17-2-15-1-14 1-4 2 4 2 6 2 96 24 42 13 10 1 16-2 8 1 36 14 14 4 10 1 16 0 8 1 35 11 15 4 12 2 30 4 48 14 32 3 54 15 36 5 48 13 42 7 42 11 42 7 42 11 46 9 40 10 44 8 44 11 50 9 30 8 33 7 19 3 22 6 22 4 16 5 22 2zM1402 255l5 1 0-15-44-8-48-12-38-7-44-11-40-8-51-12-31-5-52-13-38-7-52-13-34-5-48-13-42-7-40-11-44-7-48-14-34-4-48-13-12-3-22-2-10-2-48-14-10-2-16 1-8-1-38-14-12-4-10-1-16 2-8-1-44-15-65-14 0-2-61 0 0 2 71 18 33 7 46 15 10 1 16-2 6 1 10 2 30 12 14 4 10 1 14-1 8 1 48 15 44 7 48 13 10 2 16 1 10 2 31 9 16 4 43 7 40 11 42 7 48 12 36 6 50 13 38 6 46 12 40 7 44 11 40 8 51 12 37 7 46 11 28 5zM1401 211l6 1 0-14-22-4-44-11-46-9-46-11-38-7-43-11-47-9-40-10-42-8-44-11-40-7-51-13-35-5-47-13-43-7-44-12-34-5-54-15-12-2-26-2-50-16-10-1-14 1-8-1-10-3-13-5 0-2-53 0 0 2 10 3 30 11 14 4 10 2 18-1 8 1 34 12 14 4 38 4 52 15 10 2 26 2 44 13 44 7 48 13 34 5 50 13 40 7 44 11 40 7 43 11 47 9 38 10 46 8 44 11 38 7 45 11zM1396 167l11 2 0-14-50-12-38-7-53-13-35-6-47-12-39-7-43-11-47-9-38-10-46-8-44-12-38-6-50-13-38-5-44-13-38-6-17-4 0-2-60 0 0 2 55 15 12 2 28 4 46 13 36 5 50 13 40 7 43 11 43 8 40 10 48 9 44 11 38 7 45 11 39 7 45 11 39 7zM1402 125l5 1 0-15-24-6-48-9-43-11-39-7-52-13-32-5-52-13-38-7-43-11-47-9-40-10-42-8-6-1 0-2-60 0 0 2 44 12 44 7 40 11 46 8 45 12 39 7 46 11 38 7 44 11 46 9 37 9 49 9zM1403 81l4 1 0-16-46-8-44-11-48-9-42-11-48-9-42-11-34-5-2-1 0-2-63 0 0 2 39 10 42 7 42 11 48 9 36 9 46 9 44 11 38 7zM1403 37l4 0 0-14-26-4-48-12-31-6 0-2-65 0 0 2 32 8 38 7 54 13zM420 1l7 1 8 0 10-1 0-2-25 0z"/>
<path fill="#7abb2c" d="M11 351l19 0-1-19-2-13-2-6-2-3-2-2-2 0-2 2-3 9-2 14zM52 351l19 0-1-18-2-14-3-8-2-2-2-1-2 1-2 3-2 7-2 14zM93 351l19 0-1-18-2-12-2-8-2-4-2-1-2 0-2 2-3 9-2 14zM134 351l19 0 0-14-2-13-3-13-1-4-2-2-2 0-2 2-2 3-2 7-2 14zM175 351l18 0 2-18 0-4-4-8-4-4-2-1-2 0-2 1-2 3-2 5-2 8zM215 351l20 0 0-10-1-6-3-7-2-2-4-3-4 0-2 1-3 3-2 4-1 6zM254 351l21 0-1-10-6-16 2-4 7-10 0-2-1-4-4-4-7-3-18-4-20-7-8-1-4 1-4 2-1 2 2 4 9 8 6 2 12 0 6 1 8 5 7 8 3 4 0 2-8 14-1 4zM294 351l20 0-1-6-4-12 1-4 2-4 7-8 1-2 0-2-5-6-8-4-4-1-4 1-4 3-2 3 0 4 5 10 2 6-5 14zM336 351l17 0-1-10 4-14 0-4-2-4-3-4-4-2-4-2-4 0-6 2-4 2 0 2 6 13 2 5 0 6zM376 351l17 0 1-8 2-10 0-4-3-6-2-3-4-3-2 0-4 0-4 4-3 4 0 4 2 14zM415 351l20 0 0-10-1-6-3-6-2-2-4-3-2 0-4 1-3 2-2 4-1 6zM454 351l21 0-1-10-6-14-1-4 9-12 1-4-1-2-4-4-5-2-6-2-14-1-16-8-6-2-10 0-11 3-1 2 20 14 6 2 12-2 6 1 6 4 6 7 3 4 1 4-6 9-2 5-1 4zM494 351l20 0-1-6-3-10-1-4 2-4 7-8 2-4-2-4-4-4-5-3-4-1-4-1-4 1-4 3-2 3 2 4 6 12 1 4 0 4-5 12zM536 351l17 0 0-12 3-12 0-4-3-6-4-3-4-2-4 0-4 1-5 2-2 2 1 4 5 10 1 6zM576 351l17 0 0-6 3-12 0-4-2-4-3-4-6-4-2 0-4 1-3 3-2 4-1 4 3 14zM615 351l19 0 1-10-1-6-3-6-4-4-2-1-4 1-4 2-3 4-1 6zM654 351l21 0 0-6-2-7-4-8-4-5-2 1-2 2-5 9-2 6zM694 351l20 0-1-4-3-12 0-4 1-4 7-8 1-4-1-2-3-4-6-4-4-2-6 0-4 1-5 3 0 2 1 4 7 10 2 6 0 4-5 12zM736 351l17 0-1-12 4-12 0-4-3-6-4-3-4-2-4 0-4 1-4 2-1 2 0 4 4 10 1 6zM776 351l17 0 0-6 3-12 0-4-2-4-3-4-6-4-4 0-3 2-3 3-2 3 0 4 3 14zM815 351l19 0 1-10-1-6-3-6-4-4-2-1-4 1-4 3-2 3-2 6zM854 351l21 0 0-6-2-7-4-7-4-4-2 0-2 1-5 7-2 6zM894 351l20 0-1-4-3-12 0-4 2-4 5-8 1-4 0-2-4-4-5-4-4-1-4-1-6 1-6 3 0 2 9 14 2 6 0 4-5 12zM936 351l17 0-1-12 4-12 0-4-3-6-4-3-4-2-4 0-4 1-3 2-2 4 5 18zM976 351l17 0 0-6 3-10-1-6-1-4-3-3-6-4-4 0-4 2-2 1-2 4 0 4 3 14zM1015 351l19 0 1-10-1-6-3-6-4-4-2-1-4 1-4 3-2 3-1 6zM1054 351l21 0-1-8-2-6-3-6-4-3-2 0-2 1-4 5-2 3-1 6zM1094 351l20 0-1-4-3-12 0-4 2-4 5-8 1-4-2-4-2-2-5-3-4-2-4 0-6 1-6 2-1 2 10 14 2 6 0 4-5 12zM1136 351l17 0-1-12 4-12 0-4-1-4-2-2-4-4-4-1-4 0-4 1-3 2-2 4 6 18zM1176 351l17 0 0-6 3-10-1-6-4-7-6-4-4 0-4 2-3 3-1 2 0 4 3 14zM1215 351l19 0 1-10-1-6-3-6-4-4-2-1-4 1-4 3-2 3-1 6zM1254 351l21 0-1-8-2-6-3-5-4-4-4 2-4 4-1 3-2 6zM1295 351l19 0-1-4-3-12 0-4 1-4 6-8 0-4-1-2-3-4-4-3-4-1-4-1-6 1-5 2-1 2 0 2 9 12 2 6 0 4-5 12zM1336 351l17 0-1-12 4-12 0-4-1-4-2-2-4-4-4-1-4 0-4 1-3 2-1 2 0 4 3 10 2 6zM1376 351l17 0 0-6 2-10 0-6-4-7-6-3-4 0-4 1-4 5 0 4 3 14zM663 319l2 2 2-1 9-9 2-4-2-4-5-3-6-2-18-1-16-7-6-3-8-1-14 0-16-4-16-2-25-9-11-3-22-3-18-1-6-1-27-10-17-5-10-1-18-1-8-1-12-3-32-11-12-4-10 0-16 3-6-2-32-13-22-6-16-2-18-1-8 0-7 1 0 2 4 2 33 9 46 16 12 1 14-3 4 0 33 13 19 6 12 2 18 0 8 1 16 5 30 10 26 3 28 4 6 2 16 7 6 2 18 1 18 6 14-2 4 0 6 3 14 9 4 1 4 0 14-2 6 2zM862 317l3 1 2 0 4-3 8-6 1-2-1-2-6-5-8-3-6 0-10 2-4-1-13-7-9-3-18-2-19-5-19-2-26-8-30-7-24-2-54-16-30-2-42-13-16-4-8-1-16 0-8-2-34-11-15-4-11-2-26-1-12-4-26-9-14-5-12 0-12 3-4 0-35-14-21-6-42-6-14-1-8 1 0 2 9 4 41 11 32 11 14 4 10 1 14-3 4 0 36 14 14 4 12 2 26 2 12 3 28 9 14 4 10 1 16 0 8 2 51 15 11 2 22 1 52 16 8 1 18 1 34 8 22 8 6 1 16 0 18 6 18 0 6 3 12 7 4 2 6 0 10-3 6-1 4 3zM1064 317l3 0 2-1 8-5 3-2 1-2-1-2-8-6-9-2-8 0-6 2-3 2 1 0 14 14zM1262 315l3 2 4-1 9-5 2-2 1-2-1-2-5-4-8-4-8-1-10 3-2 2zM1025 307l4 0 7-2 9-4-1-2-11-7-10-4-18-2-20-6-16 0-6-1-16-6-38-9-28-4-50-13-40-7-49-13-33-5-10-2-40-12-10-1-22-2-10-2-46-14-12-2-14 0-8-1-41-13-15-4-10-1-18 0-8-2-37-13-13-4-12-1-12 4-4 0-37-15-22-6-53-8-16 0-1 0-2 2 3 2 12 4 44 11 46 15 12 2 14-4 4 0 34 14 18 6 10 1 16 0 8 1 56 17 10 1 18 0 6 1 33 11 15 4 12 2 28 3 44 13 44 7 40 11 16 3 28 4 56 15 18 1 8 2 17 5 19 4 18 6 6 1 12-1 6 1 18 7 20 1 4 2 12 7zM1221 305l4 2 6-1 11-5 1-2-5-4-9-4-8-2-16-2-18-6-24-3-17-5-17-3-24-7-24-3-32-8-27-7-41-7-50-13-34-5-48-13-36-5-54-15-36-5-30-9-16-4-12-2-28-3-46-14-10-2-16-1-10-1-42-13-14-4-10-1-16 1-6-1-36-13-14-5-12-1-6 1-8 2-4 1-40-16-20-5-60-10-15-1-6 2 3 2 10 4 58 15 44 14 12 1 14-3 4 0 32 13 20 7 10 1 18-1 8 1 35 12 17 5 12 2 26 2 44 13 10 2 28 3 52 15 36 5 49 13 35 5 49 13 41 7 43 11 43 7 31 9 29 6 26 4 20 6 20 4 20 6 16 0 6 1 18 7 20 1 6 3zM381 297l6 0 4-1 9-5 0-2-13-6-20-5-24-9-14-2-20 0-8-1-8-2-26-11-12-3-14-2-14-1-10 0-6 2 1 2 3 2 30 9 26 10 10 2 10 2 20-1 6 1 8 2 20 9 22 5zM183 295l2 1 2-1 3-2 0-2-3-1-2 0-2 1-1 2zM1383 295l6 1 18 0 0-9-4 0-18-7-22-2-18-5-18-3-24-7-48-9-35-9-49-9-42-11-40-7-51-13-39-7-43-11-41-7-42-11-42-7-48-13-36-5-53-15-13-2-16-1-8-1-29-10-15-4-40-5-52-16-12-1-14 1-6-1-10-3-29-11-14-4-7-1-6 0-14 3-2 0-37-14-21-6-64-12-18-1-10 1 1 2 5 2 12 4 21 6 43 11 42 13 12 1 16-4 37 15 19 6 10 1 16-1 6 0 34 12 16 5 12 2 22 2 10 1 45 14 11 2 22 1 52 15 12 2 26 3 46 13 44 7 40 11 42 7 50 13 34 6 49 12 41 7 42 11 52 10 32 8 52 9 22 7 20 3 18 6 22 1zM1400 253l7 1 0-12-36-6-52-13-40-7-42-11-40-7-51-13-39-7-46-12-38-6-50-13-36-6-46-12-44-7-42-12-40-6-50-14-10-2-16-1-8-1-36-11-16-4-40-5-48-15-12-1-14 1-6-1-8-2-33-13-13-4-12 0-16 3-46-17-16-4-60-12 0-2-38 0 0 2 4 2 12 4 36 10 38 9 42 13 12 2 6-1 10-3 4 0 33 14 21 7 10 1 16-2 6 1 37 13 13 3 12 2 20 2 10 2 38 11 16 4 22 1 8 2 45 13 45 7 40 11 42 7 49 13 35 5 49 13 39 7 44 11 42 7 51 13 37 7 46 11 38 7 45 11 31 6zM1399 209l8 1 0-11-20-3-43-11-47-9-44-11-40-7-42-11-48-9-42-11-40-7-46-12-38-6-50-13-36-5-45-13-45-7-44-13-36-4-40-12-14-4-12-1-24-2-50-16-10-2-16 2-6-1-28-10 0-2-43 0 0 2 14 6 21 8 12 3 10 2 16-2 6 1 35 12 13 4 12 2 18 1 10 1 54 16 12 2 22 2 44 13 42 6 48 13 36 5 48 13 42 7 42 11 42 7 41 11 49 9 43 11 39 7 44 11 40 7 44 11zM1404 167l3 0 0-11-46-11-40-7-52-13-36-6-46-12-40-7-41-11-49-9-42-11-40-7-50-13-34-5-50-13-12-3-26-3-44-13-36-4-25-7 0-2-50 0 0 2 33 10 16 4 11 2 27 3 44 13 38 5 52 14 38 6 41 11 49 9 38 10 44 8 44 11 40 7 44 11 40 7 52 13 32 5 52 13zM1399 123l8 1 0-12-30-7-38-7-44-11-38-7-53-13-33-6-50-12-40-7-41-11-49-9-41-11-41-7-13-3 0-2-50 0 0 2 35 10 20 4 26 4 44 12 42 7 44 11 40 7 44 11 40 7 43 11 47 9 36 9 50 10zM1400 79l7 1 0-12-44-8-42-11-50-9-41-11-49-9-42-11-32-5-12-3 0-2-52 0 0 2 40 10 34 5 40 11 50 9 42 11 40 7 43 11 39 7zM1401 35l6 1 0-12-24-4-55-13-33-6-1 0 0-2-51 0 0 2 22 6 40 7 53 13zM426 1l7 0 0-2-7 0z"/>
<path fill="#85c02d" d="M11 351l19 0-1-15-2-13-2-6-2-4-2-1-2 0-2 2-3 7-2 12zM52 351l19 0-1-16-2-12-3-8-2-2-2-1-2 1-2 3-2 6-2 11zM93 351l19 0-1-17-2-11-2-6-2-4-2-1-2 0-2 2-3 7-2 12zM134 351l19 0-2-24-3-12-3-5-2 0-2 1-2 4-2 6-2 14zM175 351l18 0 1-16 0-6-3-7-4-4-2-1-2 0-2 2-2 2-2 5-1 9zM215 351l19 0 1-10-1-6-3-6-2-2-4-3-4 0-2 1-2 2-3 4 0 6zM254 351l21 0-1-6-1-6-4-9-4-5 1-2 1-1 4-4 5-7 0-4-1-2-5-4-5-2-18-4-18-7-8-1-6 2-2 2 1 4 7 7 6 2 14 0 6 2 8 6 10 11 0 2-6 7-4 7-1 4zM295 351l19 0-1-6-4-12 0-4 2-4 7-8 1-2-1-2-5-6-6-3-4-1-4 1-4 3-1 2 0 4 6 12 1 4-5 14zM336 351l17 0-1-10 4-14-1-4-1-4-3-3-4-3-4-1-4 0-5 1-3 2-1 2 1 4 5 10 2 6 0 4zM376 351l17 0 0-6 2-12 0-4-2-6-6-5-2 0-4 0-4 4-2 3-1 6 2 12zM415 351l19 0 1-10-1-6-3-6-4-3-2-1-2 0-4 1-2 1-3 4-1 6zM454 351l21 0-1-8-2-6-3-7-4-4-4 3-5 8-2 6zM495 351l19 0-1-4-4-16 1-4 7-8 2-4-1-2-3-4-6-4-4-1-4-1-4 2-3 2-1 2 1 4 6 12 1 4-1 4-4 10zM536 351l17 0-1-12 3-12 0-4-3-6-3-2-4-2-4 0-4 0-3 2-2 2 0 4 4 10 1 6zM576 351l17 0 0-6 3-12-1-4-1-4-3-4-6-3-4 0-2 1-2 2-3 4 0 4 2 14zM615 351l19 0 1-8-1-6-3-7-4-4-2-1-4 0-4 3-2 3-1 6zM654 351l21 0-1-8-2-6-3-6-4-4-2 0-2 2-5 8-2 6zM695 351l19 0-1-5-4-11 0-4 2-4 6-8 1-4-1-2-3-4-5-3-4-2-4 0-4 0-4 3-1 2 1 4 7 12 1 4 0 4-6 12zM736 351l17 0-1-12 3-12 0-4-3-6-3-2-4-2-4 0-4 1-4 3-1 2 6 18zM776 351l17 0 0-6 3-12-1-4-2-4-2-3-6-4-6 1-3 2-2 4 0 4 2 14zM815 351l19 0 1-10-1-6-3-5-4-4-2-1-4 1-4 2-2 3-1 6zM854 351l21 0-1-8-2-6-3-5-4-4-2 0-2 1-5 8-2 6zM895 351l19 0-1-5-4-11 0-4 2-4 5-8 1-4-1-2-3-4-8-4-4-1-5 1-4 2-1 2 1 4 8 12 1 4 0 4-6 12zM936 351l17 0-1-12 3-12 0-4-3-6-3-3-4-1-4 0-4 1-3 3-1 2 1 4 3 8 1 6zM976 351l17 0 0-6 2-10 0-6-4-7-6-3-6 0-2 2-3 4 0 4 2 14zM1015 351l19 0 1-10-1-6-3-5-4-4-2-1-4 1-4 3-2 3-1 5zM1054 351l21 0-1-6-1-5-2-5-4-5-2-1-2 0-2 1-4 5-2 6zM1095 351l19 0-1-5-4-11 0-4 2-4 5-8 0-4-1-3-3-3-7-4-8 0-4 2-2 2 1 4 6 10 3 6 0 4-5 12zM1136 351l16 0 0-12 3-12 0-4-3-6-3-3-4-1-4 0-4 1-3 3 0 2 0 4 4 14zM1177 351l16 0 0-6 2-10 0-6-4-6-6-4-6 1-4 3-1 2 0 4 2 14zM1215 351l19 0 1-10-1-6-3-5-4-4-2-1-4 1-4 3-2 3-1 5zM1254 351l21 0-1-6-1-5-2-4-4-5-2-1-2 0-4 2-2 3-2 6zM1295 351l19 0-1-5-4-11 0-4 1-4 5-8 1-4-2-4-2-2-7-3-8 0-3 1-2 2 0 4 8 12 1 4 0 4-5 12zM1336 351l16 0-1-12 4-12 0-4-3-6-3-3-4-1-4 0-4 1-3 3 0 2 0 4 4 10 0 4zM1377 351l16 0 2-16-1-6-3-6-6-3-6 0-4 3-1 2 0 4 3 14zM463 319l2 2 2-1 8-9 1-4-1-2-5-4-7-3-16-1-16-8-8-2-8 0-5 2-1 2 1 2 3 4 8 6 4 2 6 1 12-2 6 2 6 5zM663 317l2 1 4-2 5-5 2-4-2-4-3-2-5-2-7-1-12 2-14-8-8-4-8-1-16 1-14-4-18-3-20-8-10-3-24-3-22-1-6-2-22-9-18-5-12-2-18 1-6-1-42-15-14-4-10-1-5 1-3 2-1 2 3 2 7 4 15 6 20 6 12 2 20 0 6 0 46 17 10 1 18 0 24 5 8 2 16 8 8 2 18 0 18 6 6 0 8-2 4 0 4 2 14 10 6 2 4 0 14-4 2 0zM862 315l3 1 2 0 4-2 5-5 1-2-1-2-4-4-7-3-8 0-6 3 0 2 1 2zM1063 315l4 1 5-3 5-4 1-2-1-2-4-4-6-3-6 0-6 1-3 2 0 2 4 6zM1264 315l5 0 6-4 2-2 1-2-1-2-4-4-6-3-6 0-7 1-2 2 0 2 1 2 6 6zM823 305l4 1 6-1 8-4 0-2-2-2-5-4-11-4-18-1-20-6-18 0-16-7-12-4-30-6-22-1-26-9-28-7-8-1-20-1-34-11-22-6-12-2-14 2-6-1-28-11-22-6-12-2-20 0-6 0-41-16-11-3-6-1-6 0-7 2-1 2 1 2 3 2 8 4 15 6 15 5 14 2 18-1 6 1 38 13 16 5 12 1 18-1 26 9 27 8 13 2 22 1 50 15 10 2 22 1 15 5 19 4 20 8 6 0 16 0 18 7 18 0 6 2zM1023 305l4 1 5-1 7-4 0-2-1-2-5-4-10-3-18-2-14-5-8-2-18 1-18-8-38-9-28-3-23-7-31-8-26-3-10-2-45-13-39-5-48-14-36-4-52-16-12-2-18 1-35-12-21-6-16-2-14 2-6-1-32-13-20-6-6-1-6 0-5 1-2 2 0 2 3 2 7 4 19 8 13 4 15 2 16-3 6 2 36 13 20 6 12 1 14-1 6 0 32 12 14 4 14 2 28 3 42 13 10 2 26 3 10 1 38 12 20 4 26 3 24 7 32 8 26 2 17 6 21 4 20 7 6 0 12-1 4 0 11 6 7 3 6 0 10 0 4 1 4 1zM1225 305l4 0 6-2 2-2 1-2-1-2-5-4-7-2-20-2-14-6-8-2-6 0-12 1-17-7-23-5-17-5-27-3-55-15-41-7-51-13-35-5-48-13-10-2-26-3-53-15-12-2-21-2-33-10-15-4-14-2-28-3-32-11-14-4-12-1-16 0-8-2-40-13-15-4-9-1-6 0-8 1-3 2 7 4 16 6 18 6 14 4 12 1 18 0 6 1 33 12 13 3 10 2 26 2 51 15 12 2 21 1 52 15 10 2 28 3 46 13 44 7 39 11 45 7 30 9 30 6 10 2 16 1 20 7 24 5 17 5 7 1 14-2 13 7 7 3 6 1 14-1 4 2 11 7zM379 295l6 1 4-1 5-4 0-2-6-4-19-5-20-8-10-3-14-1-6 1-5 2 2 2 29 13 22 5zM1382 293l9 2 16-1 0-4-2 0-10-5-10-3-6-1-16 0-17-6-17-3-23-7-29-5-28-6-26-7-50-9-41-11-43-7-31-9-17-4-40-7-41-11-43-7-47-13-37-5-48-14-10-2-18-1-8-1-52-15-12-2-18 0-6-1-30-11-14-4-12-2-22-1-8-2-41-13-13-4-12-1-6 1-5 2 1 2 13 6 15 6 18 5 14 2 26 2 50 16 10 1 22 1 36 11 16 4 14 3 24 2 44 13 46 7 38 11 46 7 47 13 35 5 48 13 42 7 42 11 50 9 33 9 53 9 28 9 16 2 22 6 16-1 6 2zM278 273l17 1 7-1 4-2-32-14-17-6-12-2-12 0-7 0-4 2 1 2 5 2 15 5 22 9zM1398 251l9 2 0-9-36-6-50-13-40-7-51-13-31-5-50-13-34-5-58-15-32-5-49-13-37-5-45-13-45-7-29-9-15-4-38-5-52-15-10-1-20-1-37-12-15-4-14-2-20-1-8-2-33-11-15-5-8-1-6 0-8 2-2 2 7 4 14 6 25 8 12 2 18 0 8 1 40 13 16 4 10 1 14 0 6 1 31 10 15 4 12 2 34 5 30 9 14 4 38 5 47 13 37 5 48 13 42 7 42 11 42 7 50 13 34 5 50 13 38 7 45 11 31 5zM302 235l7 1 6-1 4-2 1-2-5-4-13-6-15-6-12-3-14-3-14 0-11 0-1 2 9 4 44 16zM1398 207l9 1 0-7-20-3-41-11-47-9-43-11-41-7-41-11-49-9-41-11-35-5-56-15-34-5-48-13-12-2-26-3-44-13-12-2-34-5-44-13-10-2-24-1-33-11-23-6-14-2-22-1-37-13-14-4-13-1-6 1-3 2 1 2 12 6 16 6 16 5 12 2 22 0 57 17 13 2 22 1 33 11 15 4 28 3 10 2 48 13 10 2 26 3 47 13 13 3 30 4 41 11 21 4 22 3 40 11 50 9 42 11 42 7 42 11 40 7 43 11zM318 195l13 1 7-1 2-2 0-2-3-2-8-4-19-8-13-4-14-3-22-2-12-1-4 1-2 1 9 4 23 7zM1403 165l4 0 0-7-44-11-40-7-51-13-33-5-49-13-41-7-40-11-50-9-40-11-42-7-49-13-31-4-52-14-14-3-26-2-32-11-16-4-32-3-30-9 0-2-42 0 0 2 25 8 15 4 14 2 26 3 44 13 10 2 20 1 8 2 38 11 17 4 13 2 18 2 43 12 45 7 48 13 34 5 49 13 35 5 49 13 41 7 52 13 32 5 43 11zM345 157l6 0 4 0 4-2 1-2-1-2-3-2-13-6-16-6-14-4-44-6-12-1-5 1 2 2 11 4 32 9 38 13zM445 135l12 1 11-3-1-2-8-4-19-8-17-6-14-3-6 1-5 2 0 2 2 2 11 6 20 8zM1397 121l10 2 0-10-27-6-39-7-43-11-41-7-50-13-34-5-57-15-33-5-40-11-50-9-39-11-37-5-25-7 0-2-42 0 0 2 28 8 20 4 27 3 44 13 36 5 48 13 12 2 24 3 49 13 20 4 23 3 40 11 50 9 33 9 51 9zM360 117l9 1 6-1 4-2 0-2-5-4-13-6-16-6-10-3-55-9-11-1-6 1 1 2 9 4 42 11zM461 95l8 1 8 0 7-1 3-2-2-2-4-2-13-6-27-10-8-2-6 0-8 2-1 2 1 2 2 2 8 4 19 8zM377 77l8 1 6 0 6-1 2-2-1-2-2-2-8-4-20-8-14-4-67-12-11 0-2 2 3 2 11 4 49 13zM1398 77l9 2 0-10-44-7-40-11-50-9-40-11-42-7-49-13-35-5-17-5 0-2-42 0 0 2 32 8 35 5 39 11 51 9 41 11 41 7 43 11 39 7zM487 57l13 0 6-2 0-2-6-4-14-6-15-6-12-4-12-1-7 1-3 2 1 2 2 2 12 6 20 8zM404 39l9 0 5-2 1-2-2-2-3-2-13-6-16-6-12-3-66-13-14-1-4 0-4 1 2 2 5 2 18 6 45 11 38 13zM1400 33l7 1 0-8-24-4-53-13-33-5-11-3 0-2-38 0 0 2 15 4 10 2 30 5 53 13 31 5zM503 17l8 1 6 0 6-1 3-2-1-2-3-2-23-10 0-2-37 0 0 2 13 6 15 6z"/>
<path fill="#8fc42f" d="M11 351l19 0-1-12-2-13-2-6-2-4-2-1-2 0-2 2-3 6-2 12zM52 351l19 0-1-14-2-10-2-8-3-3-2-1-2 1-2 3-2 6-2 12zM93 351l19 0-1-14-2-12-2-5-2-4-2-1-2 0-2 2-2 6-3 12zM134 351l19 0-2-21-2-8-2-5-2-3-2-1-2 2-3 8-3 12zM175 351l18 0 1-16 0-6-3-6-4-4-2 0-4 1-4 7-1 8zM215 351l19 0 1-10-1-6-3-6-6-4-2-1-4 2-2 1-2 4-1 6zM254 351l21 0-1-8-2-6-3-6-2-2-2-2-4 3-5 7-1 6zM295 351l19 0-1-5-5-13 0-4 2-4 6-8 1-4-4-5-6-3-4-1-3 1-3 2-1 2 0 4 5 12 1 4-6 14zM336 351l17 0-1-10 3-12 0-6-4-6-4-3-4-1-6 0-4 2-2 2 1 4 4 10 2 6 0 4zM376 351l17 0 0-6 2-12 0-4-3-6-5-4-2-1-4 1-3 2-2 4-1 6 1 12zM415 351l19 0 1-10-1-6-5-7-4-3-4 0-2 1-4 5-1 6zM454 351l21 0-1-8-2-6-3-6-4-3-2 0-2 2-5 7-1 6zM495 351l19 0-1-5-5-15 1-4 7-8 1-4 0-2-3-4-5-3-4-2-6 1-3 2-2 2 1 4 6 12 1 4 0 2-6 12zM536 351l17 0-1-12 3-12-1-4-3-6-6-3-4-1-4 1-4 3 0 2 5 18zM577 351l16 0 0-6 2-12 0-4-4-7-2-2-4-1-4 0-2 1-2 2-2 3-1 4 3 14zM615 351l19 0 1-8-1-6-3-7-4-3-2-1-4 0-4 3-2 3-1 5zM654 351l21 0-1-8-2-6-3-5-4-4-2 1-2 1-4 5-2 8zM695 351l19 0-1-4-5-16 2-4 6-8 1-4-1-2-3-4-8-4-4 0-4 1-2 1-2 2 1 4 8 16-1 4-5 10zM736 351l16 0 0-12 2-12 0-4-3-6-6-3-4 0-4 1-2 2-1 2 0 4 4 14zM777 351l16 0 0-6 2-10 0-6-4-6-6-4-4 0-2 1-2 1-2 4-1 4 3 14zM816 351l18 0 1-8-1-6-3-7-4-3-2-1-4 0-4 3-2 4-1 6zM854 351l21 0-2-11-2-5-4-5-2-1-2 0-4 3-2 3-2 6zM895 351l19 0-1-4-5-16 2-4 5-8 1-4-2-4-2-2-7-3-4-1-4 1-2 1-2 2 0 4 9 16 0 4-6 12zM936 351l16 0-1-12 3-12 0-4-1-4-2-2-6-3-4 0-3 1-3 2-1 2 0 4 4 14zM977 351l16 0 0-6 2-10-1-6-3-6-6-4-6 1-2 2-2 3-1 4 3 14zM1016 351l18 0 1-8-1-6-3-7-4-3-2-1-4 0-4 4-2 3-1 6zM1054 351l21 0-2-11-2-4-4-5-2-1-2 0-4 3-2 3-2 5zM1095 351l18 0 0-4-5-16 2-4 5-8 0-4-2-4-2-2-6-3-6 0-3 1-3 2 0 4 8 14 1 4-5 12zM1136 351l16 0-1-12 3-12 0-4-1-4-2-2-6-3-6 0-3 3-1 2 0 4 3 14zM1177 351l16 0 2-16 0-4-2-4-2-3-6-4-4 0-3 1-2 2-2 4 3 16zM1216 351l18 0 1-8-1-6-3-7-4-3-2-1-4 1-4 3-2 3-1 6zM1255 351l20 0-2-10-2-5-4-5-4-1-4 3-2 3-2 7zM1295 351l18 0 0-4-5-16 0-2 6-10 1-4-1-2-3-3-6-3-4-1-4 1-3 2-1 2 2 4 7 14 0 4-6 12zM1336 351l16 0-1-12 3-12 0-4-1-4-2-2-6-3-6 0-3 3-1 2 0 4 3 10 1 4zM1377 351l15 0 3-16-1-4-1-4-2-3-2-2-4-2-6 1-3 2-2 4 0 4 3 12zM263 319l2 1 2 0 4-4 3-5 0-4-1-2-4-4-8-3-16-2-11-5-7-2-6 0-5 2-1 2 1 2 6 6 7 2 12 0 6 1 6 5zM462 317l3 2 2-1 4-4 2-3 1-4-1-2-5-4-8-2-13 1-14-9-8-3-8 0-3 1-2 2 0 2 3 4 8 6 4 1 4 1 14-3 4 2zM663 315l2 1 2 0 4-3 3-4 0-2-1-2-4-4-4-1-6 0-6 1-1 2 1 2zM862 313l3 2 4-1 5-5 1-2-1-2-5-4-4-1-6 0-4 1-1 2 0 2zM1063 313l4 1 4-2 4-3 0-2 0-2-5-4-5-2-4 0-5 2-1 2 0 2 3 4zM1263 313l4 1 6-3 2-2 0-2 0-2-4-4-4-1-6-1-4 1-2 2 0 3 4 5zM627 305l4 0 6-2 3-2 1-2-2-2-5-4-9-4-10 0-2 0-4 2 0 2 7 6 6 4zM827 305l6-1 4-3 1-2-1-2-5-4-9-3-8-1-8 2 1 2 10 8 5 3zM1022 303l3 1 4 0 4-1 2-2 1-2-3-4-8-4-8-1-8 1-1 2zM1223 303l4 1 4-1 3-2 1-2-1-2-5-4-6-2-8 0-4 2 3 4zM378 293l5 1 4 0 3-3 0-2-2-2-4-2-17-5-24-9-12-2-7 2-1 2 2 2 10 6 8 4 8 2 16 2zM1188 293l5 0 6-2 0-2-3-2-9-3-9-1-4 2 1 2 6 4zM1388 293l7-1 3-1-1-2-7-4-7-2-6 0-3 2 1 2 6 4zM581 291l4 1 4 0 3-1 2-2-3-2-6-2-13 0 1 2zM782 291l5 1 4 0 5-1 2-2-3-2-8-3-6 0-5 1 0 2zM982 291l7 2 11-2-1-2-3-2-9-3-8-1-4 2 1 2zM550 287l9 0 12-2-2 0-9-6-9-4-10-3-10-2-18-1-4 1-2 1 16 5 19 9zM743 285l10 1 5-1 3-2-2-2-6-4-12-4-32-6-6 0-4 2 2 2 5 2 19 5zM939 283l6 2 6 0 5-2 0-2-6-4-5-2-22-5-13-3-9-1-8 1 2 2 8 4 22 5zM1143 283l8 0 1 0 2-2-2-2-4-2-23-5-16-5-12-2-4 1-2 1 6 4 6 2 6 2 18 3zM1340 281l7 1 5-1-2-2-5-2-10-1-4 1zM1309 275l8 1 9-1-7-4-12-4-14-2-2 1-2 1 13 6zM273 271l8 1 8 0 6-1 0-2-6-4-12-6-17-6-11-2-8 0-5 0-4 2 3 2 21 10zM466 269l7 1 6 0 5-1 2-2-5-4-8-4-17-6-15-3-6 0-6 1-1 2 3 2 23 10zM663 267l12 1 5-1 1-2-3-2-9-4-30-9-14-2-6 1-2 2 3 2 9 4zM859 265l8 1 8-1 0-2-9-4-28-8-9-2-10-1-8 0-3 1 8 4 11 4zM1056 263l11 1 5-1-10-4-35-10-12-2-13 0 2 2 5 2 17 6zM1240 259l15 0-4-1-13-5-14-4-28-4-7 0 4 0 2 2 24 8 8 2zM384 251l13 1 4-1 2-2-6-4-9-4-28-10-7-1-6 0-5 1-1 2 4 4 8 4 16 6zM580 249l7 1 6-1 2 0 2-2-3-2-9-4-32-10-12-2-4 0-5 2 1 2 3 2 9 4 19 6zM1400 249l7 1 0-4-12-1-6 0zM780 247l8 0 2-2-21-8-20-6-12-2-14 0 0 2 26 10 16 4zM977 245l10 0-2-1-1-1-25-8-22-6-16-2-4 1-3 1 28 10 19 4zM1154 241l9 1 7-1-15-6-22-6-20-3-6 0-3 1 32 10zM1350 239l9 0-3-2-11-4-24-6-16-2-2 2 26 8zM297 233l12 1 5-1 1-2-1-2-2-2-8-4-14-6-9-3-12-2-10-1-8 0-3 2 3 2 13 6 21 8zM494 231l11 0 4-2-1-2-3-2-9-4-24-8-10-2-7 0-6 0-3 2 6 4 15 6 18 6zM681 227l14 1 9-1-18-8-21-7-16-2-11 1 2 2 4 2 15 6 12 4zM876 225l15 1 7-1-16-6-27-8-16-3-11 1 1 2 16 6 13 4zM1071 223l15 0-3-2-11-4-20-6-25-4-11 0 3 1 1 1 25 8 14 4zM1267 221l9 0-2-2-6-2-28-8-15-3-6 0-5 1 10 4 13 4 17 4zM400 211l9 1 6 0 6-1 0-2-6-4-9-4-23-9-8-1-6-1-4 1-3 2 1 2 2 2 7 4 14 6zM597 209l12 1 9-1-1-2-5-2-35-12-8-2-8-1-6 1-1 2 5 4 15 6 13 4zM792 207l9 1 9-1-2-2-9-4-18-6-16-4-16-2-4 0-4 2 9 4 11 4 21 6zM990 205l11 0-2-2-10-4-27-8-17-3-8 0-5 1 35 12 8 2zM1185 203l7 0-2-2-5-2-27-8-21-4-10 0 2 2 5 2 19 6 18 4zM1365 199l8 1 5-1-16-6-15-4-16-2-6-1-3 1 24 8zM324 195l6 0 3-1 2-1 0-2-5-4-7-4-22-8-10-2-12-2-16 0-1 2 9 4 37 14zM511 191l14 1 5-1 0-2-6-4-10-4-26-8-15-2-4 0-4 2 1 2 4 2 9 4 17 6zM708 189l11 0 3-2-7-4-11-4-20-6-17-3-12 1 1 2 5 2 16 6 20 6zM892 185l19 2 4-1 1-1-29-10-15-4-17-2-4 1-2 1 20 8zM1087 183l14 2 4-1 1-1-23-8-24-6-14-1-6 1 10 4 13 4zM1282 181l12 0-9-4-20-6-24-4-8 0 9 4 20 6zM425 173l10 0 5-2-1-2-6-4-14-6-14-5-14-3-4 0-4 2 0 2 1 2 11 6 15 6zM612 169l13 2 10-2-2-2-8-4-15-6-13-4-14-2-9 2 1 2 12 6 11 4zM809 167l16 1 4 0 3-1-16-6-25-8-16-3-11 1 1 2 14 6 12 4zM1002 165l13 1 6-1-8-4-12-4-23-6-15-2-11 0 2 2 17 6zM1200 163l11 0-4-2-11-4-20-6-19-3-6 0-4 1 30 10zM1381 159l14 2 2-1 0-1-11-4-23-6-12-2-9 0 2 2 12 4zM339 155l10 1 4-1 2-2-1-2-2-2-7-4-14-6-13-4-10-2-15-2-16-1-5 1 8 4 46 16zM529 151l14 2 8-2-1-2-8-4-29-10-18-4-6 1-3 1 0 2 2 2 9 4 16 6zM724 149l11 1 9-1-2-2-9-4-32-10-11-2-7 0-5 0-2 2 7 4 11 4 13 4zM919 147l14 0 0-2-10-4-26-8-22-3-6 0-4 1 35 12zM1119 145l9 0-3-2-18-6-21-6-14-2-11 0 2 2 23 8 17 4zM1297 141l14 1 2 0 1-1-17-6-25-6-15-2-2 1-1 1 18 6zM440 133l13 1 5-1 2-2-5-4-8-4-24-9-8-2-6 0-5 1-1 2 1 2 2 2 7 4 14 6zM638 131l13 0 3-2-2-2-8-4-23-8-14-2-13 0-1 2 13 6 16 6zM823 127l16 2 6-1 3-1-20-8-20-6-17-2-4 0-4 2 20 8zM1036 127l7 0-1-2-6-2-32-10-9-2-10-1-6 0-4 1 8 4 18 6 18 4zM1213 123l12 1 5-1-16-6-23-6-18-3-9 1 24 8zM1397 119l10 1 0-4-28-7-10-1-5 1 17 6zM356 115l7 1 6 0 5-1 1-2-4-4-8-4-15-6-13-4-12-2-31-4-12 0 3 2 5 2 25 7zM545 111l16 2 6-1 4-1-3-2-14-6-29-10-8-1-6 0-4 1-1 2 5 4 9 4 10 4zM741 109l16 2 6-1 2-1-26-10-20-6-12-2-4 1-5 1 1 2 4 2 9 4 12 4zM935 107l14 1 4 0 3-1-15-6-28-8-14-2-12 0 1 2 16 6zM1129 105l15 0-3-2-10-4-21-6-15-3-18-1 2 2 25 8 14 4zM1329 103l6 0-2 0-1-2-6-2-27-8-12-2-11 0 3 2 17 6 17 4zM467 95l6 0 4-1 2-1 0-2-5-4-9-4-21-8-13-2-5 0-3 2 0 2 2 2 11 6 15 6zM654 91l13 2 9-2-1-2-4-2-9-4-25-8-18-2-6 0-3 2 3 2 16 6zM850 89l9 1 8-1-1-2-8-4-26-8-21-3-8 0-4 1 28 10zM1051 87l7 0 0-2-5-2-17-6-15-4-14-2-13 0 8 4 24 8 9 2zM1244 85l8 0-3-2-5-2-36-10-15-2-2 0-2 2 10 4 13 4 18 4zM383 77l8-1 3-1 0-2-2-2-7-4-20-8-15-4-12-2-39-6-9 0 1 2 11 4 33 9 38 13zM1399 75l8 2 0-6-18-2-8 0zM572 73l13 0 3-2-3-2-9-4-27-10-14-2-5 0-4 2 1 2 3 2 13 6 18 6zM755 69l18 2 6-1 2-1-19-8-19-6-9-2-7 0-5 0-3 2 7 4 10 4zM969 69l9 0-2-2-6-2-39-12-14-2-4 1-4 1 8 4 17 6 18 4zM1146 65l15 2 2 0 2-2-16-6-23-6-17-3-6 0-4 1 15 6zM1340 63l12 0-3-2-5-2-20-6-10-2-17-2-1 2 25 8zM482 55l11 1 5-1 2-2-1-2-7-4-24-10-15-4-6 1-4 1-1 2 2 2 6 4 19 8zM683 53l11 0 3-2-7-4-10-4-28-8-15-2-4 0-4 2 6 4 17 6 20 6zM867 49l16 2 4-1 2-1-13-6-28-8-17-3-6 0-5 1 2 2 10 4 19 6zM1061 47l10 1 8-1-3-2-10-4-21-6-24-4-12 0 4 2 24 8zM1260 45l8 0-3-2-5-2-26-8-13-2-13 0 9 4 19 6 9 2zM399 37l10 0 2 0 3-2-1-2-2-2-8-4-15-6-13-4-60-11-10-1-2 1-2 1 4 2 11 4 35 9 33 11zM586 33l9 1 6 0 4-1 1-2-17-8-22-8-12-2-8 2 0 2 2 2 7 4 15 6zM781 31l14 1 4-1 0-2-18-8-20-6-12-1-10 1 2 2 13 6 18 6zM1404 31l3 0 0-2-4 0zM980 29l11 0 0-2-21-8-13-4-14-2-13 0 1 2 21 8 14 4zM1177 27l11 0-16-6-28-8-13-2-7 0-1 1 0 1 4 2 18 6 17 4zM1356 23l13 2 2-1 2-1-18-6-25-6-13-1-2 0-1 1 17 6zM499 15l8 2 6 0 6-2 1-2-6-4-17-8 0-2-32 0 0 2 8 4 14 6zM700 13l9 1 9-1-1-2-4-2-22-8 0-2-33 0 0 2 11 4 13 4zM897 11l15 0-2-2-23-8 0-2-32 0 0 2 12 4 17 4zM1092 9l8 0 0-2-17-6 0-2-29 0 0 2 7 2 17 4zM1271 5l10 1 6-1-8-4 0-2-25 0 0 2z"/>
<path fill="#9ac930" d="M11 351l19 0-1-12-2-11-2-6-2-3-2-1-2 0-2 2-2 5-3 10zM52 351l19 0-1-12-2-10-3-8-2-3-2 0-2 1-3 6-3 12zM93 351l19 0-1-11-2-12-2-6-2-3-2-1-2 0-2 2-2 4-2 11zM134 351l19 0-1-14-3-12-2-5-2-3-2 0-2 1-2 3-2 7-2 11zM176 351l17 0 1-20-3-7-4-4-4 0-2 1-3 6-2 8zM216 351l18 0 1-10-1-6-5-7-4-3-4 0-2 1-4 5-1 6zM255 351l19 0 0-6-2-6-3-7-2-2-2-1-2 0-6 7-2 7zM295 351l19 0-2-8-6-14 2-4 7-8 1-4-3-4-6-3-6 0-2 1-2 4 0 4 5 10 1 4-6 11-2 7zM336 351l16 0 0-10 2-12 0-6-4-6-3-2-4-2-4 0-4 2-2 2-1 2 6 18zM377 351l16 0 1-18 0-4-3-6-4-3-4-1-2 1-4 3-1 4-1 4 2 12zM416 351l18 0 1-10-2-6-4-7-4-2-4 0-2 1-4 5-1 5zM455 351l19 0-1-11-2-5-4-5-2-1-2 0-4 4-2 3-2 7zM495 351l18 0-1-6-6-14 0-2 9-10 1-4-1-3-3-3-3-2-4-2-6 1-3 3 0 2 0 4 8 14-7 12-2 6zM536 351l16 0 0-12 2-12 0-4-3-5-6-4-4 0-3 1-3 2-1 2 0 4 4 14zM577 351l16 0 0-6 2-12-1-4-3-6-2-2-4-2-4 1-2 1-2 2-2 4 2 16zM616 351l18 0 0-8 0-6-3-6-4-4-2-1-4 1-4 2-2 4-1 6zM655 351l19 0-1-10-2-5-4-6-2-1-2 1-4 3-2 3-2 7zM695 351l18 0-1-8-6-12 2-4 7-8 0-4-2-4-2-2-6-3-6 0-2 1-2 2 0 2 1 4 8 14 0 2-7 11-2 5zM736 351l16 0-1-12 3-12 0-4-3-5-6-3-6 0-3 2-1 2 0 4 3 14zM777 351l16 0 0-6 2-10-1-6-3-5-2-2-4-2-4 0-2 1-2 2-2 4 0 4 2 12zM816 351l18 0 0-8 0-6-3-6-4-4-2 0-4 0-4 3-2 3-1 6zM855 351l19 0-1-10-2-5-4-5-2-1-2 0-4 3-2 3-2 7zM895 351l18 0-1-6-5-14 0-2 7-10 1-4-1-2-3-3-6-3-4-1-3 1-3 2-1 2 2 4 8 14 0 2-7 11zM936 351l16 0-1-12 3-12 0-4-3-5-2-2-4-1-6 0-2 2-2 2 0 4 4 14zM977 351l15 0 2-20-1-4-2-3-2-2-4-2-4 0-2 1-2 2-2 3 0 5 2 12zM1016 351l18 0 0-8 0-6-3-6-4-4-2 0-4 0-3 2-2 4-1 6zM1055 351l19 0-1-10-2-4-4-5-2-1-4 1-4 4-2 7zM1095 351l18 0-2-9-5-11 7-11 1-5-3-5-6-3-6 0-3 2-1 2 1 4 8 14 0 2-7 12zM1136 351l16 0-1-12 3-12 0-4-3-5-2-2-4-1-6 1-3 3 0 4 3 14zM1177 351l15 0 2-16 0-4-3-6-2-2-4-2-4 0-2 1-2 1-2 4 0 4 2 12zM1216 351l18 0 0-8 0-6-3-6-4-4-2 0-4 0-2 2-3 4-1 6zM1255 351l19 0-1-10-2-4-4-5-2-1-4 1-4 5-2 6zM1295 351l18 0-2-9-6-11 1-2 1-1 5-7 1-4 0-2-2-4-6-3-6 0-2 1-2 2 1 4 9 14 0 2-4 5-4 7zM1337 351l15 0-1-12 3-12 0-4-3-5-2-2-4-1-4 0-2 1-3 3 0 4 3 14zM1377 351l15 0 2-16 0-4-3-6-2-2-4-2-4 0-2 1-2 2-2 3 0 4 2 12zM262 317l3 2 2-1 4-3 2-4 0-4-1-2-5-4-8-2-14-1-10-5-8-3-6 0-2 1-1 2 1 4 6 4 6 1 12-1 4 1zM462 315l3 2 4-2 3-6-1-4-2-2-6-3-4 0-6 1-2 2 1 2zM662 313l3 1 3-1 3-3 1-3-1-2-4-3-4-1-4 0-4 2 0 2 3 4zM861 311l4 2 4-1 3-3 0-2 0-2-2-2-5-2-6 0-2 2 0 2zM1062 311l5 1 3-1 2-2 1-2-1-2-1-2-5-2-3 0-4 1-1 1 0 2 1 3zM1263 311l4 1 3-1 2-2 1-2-1-2-1-2-5-2-3 0-4 1-1 1 0 2 2 4zM426 303l3 1 6-1 5-2 1-2-1-2-6-4-7-3-8-1-4 2-1 2 3 4 5 4zM624 303l5 1 4-1 4-2 1-2-3-4-8-4-8-1-5 1-1 2 1 2 4 4zM824 303l5 1 4-2 1-1 1-2-1-2-5-4-6-2-6 0-4 1-1 1 1 2 2 2 5 4zM1021 301l4 2 4 0 3-2 1-2 0-2-3-2-4-2-7-1-5 1 0 2 2 2zM1223 301l4 1 3-1 1-2 0-2-3-2-5-2-4 0-2 1-1 1 1 2zM378 291l5 1 2-1 1-2-3-2-16-5-20-9-12-2-4 0-3 2 1 2 5 4 11 6 8 1 16 2zM984 289l5 1 3-1-2-2-5-1-3 1zM1183 289l6 1 3-1-2-2-5-1-2 0-2 1zM1383 289l4 1 4-1-2-2-6-1-2 1zM546 285l9 1 4-1 2-2-4-4-12-5-10-2-9 1 1 2 6 4zM741 283l6 1 4 0 3-1 1-2-6-4-8-2-12-2-10 0zM939 281l8 1 3-1-1-2-4-2-10-2-5 0 1 2zM280 271l5 0 4-2-1-2-6-4-7-4-11-4-15-2-5 0-2 2 5 4 16 8 8 3zM907 271l6 1 1-1-5-1zM1105 271l6 1 2-1-8-2zM463 267l6 1 6 0 4-1 0-2-2-2-7-4-11-4-14-3-9 1 1 2 2 2 13 6zM661 265l6 1 5-1 0-2-3-2-18-6-17-4-6 0-1 1 0 1 3 2 4 2zM851 261l8 1 3-1-4-2-20-6-9-2-6 0 1 2 4 2zM1027 255l8 1 2-1-4-2-8-2-5 0 2 2zM380 249l9 1 7-1 0-2-7-4-20-8-8-2-8-2-4 0-3 2 0 2 3 2 7 4 10 4zM577 247l10 0 1 0 0-2-3-2-10-4-19-6-11-2-5 2 1 2 8 4 12 4zM764 243l7 1 4-1-2-2-4-2-18-6-10-1-5 1 3 2 9 4zM951 239l9 0-3-2-12-4-10-1-2 1 10 4zM294 231l11 2 6-2 0-2-5-4-19-8-10-3-10-1-8 0-2 2 3 2 8 4zM491 229l8 0 2 0 1-2-2-2-7-4-18-6-14-2-4 0-2 2 6 4 9 4zM678 225l7 1 5-1-1-2-3-2-16-6-11-2-6-1-4 1 1 2 8 4 11 4zM866 221l9 1 3-1-8-4-15-4-8-1-4 1 9 4zM1054 217l7 1 2-1-6-2-12-2 2 1 1 1zM396 209l11 2 4-1 4-1-1-2-7-4-19-8-13-3-4 0-4 1 0 2 4 4 12 6zM594 207l11 0 0-2-8-4-16-6-12-3-8 1 0 2 3 2 8 4 12 4zM781 203l12 2 3-2-8-4-13-4-12-2-8 0 2 2 4 2zM967 199l10 2 2 0 1-2-10-4-9-2-7 0 2 2zM319 193l8 0 2 0 2-2-1-2-6-4-19-8-10-2-12-2-6 0-3 2 7 4 14 6 16 6zM508 189l9 1 6-1-1-2-3-2-9-4-11-4-8-2-12-2-4 0-2 2 2 2 8 4 11 4zM695 185l12 2 2 0 2-2-6-4-19-6-13-2-2 0-2 2 8 4zM882 181l11 2 2 0 1-2-15-6-9-2-7 0 1 2 4 2zM1073 177l6 0-6-1zM1066 175l5 1 1-1zM420 171l11 0 2 0 1-2-2-2-6-4-20-8-13-2-4 0-2 2 1 2 2 2 7 4 10 4zM609 167l10 1 6-1-1-2-8-4-17-6-12-2-5 2 2 2 7 4zM797 163l12 2 2 0 2-2-8-4-13-4-9-2-7 0 0 2 3 2zM995 161l7 0-4-2-13-4-8-1-2 1 11 4zM335 153l8 1 4 0 3-1 0-2-1-2-7-4-9-4-12-4-8-2-12-1-8 0-3 1 3 2 14 6zM526 149l11 1 5-1-1-2-8-4-24-8-12-2-5 2 1 2 7 4 11 4zM723 147l8 0 0-2-9-4-19-6-12-2-2 0-2 2 2 2 10 4 14 4zM908 143l7 1 4-1-7-4-15-4-8-1-4 1 9 4zM1097 139l3 0-2-2-7-2-6-1-2 1 5 2zM437 131l10 2 4-1 3-1 0-2-6-4-18-8-15-4-4 1-4 1 0 2 5 4 13 6zM635 129l10 0 1-2-6-4-17-6-10-2-9 0-1 2 7 4 10 4zM822 125l7 1 4-1-1-2-4-2-11-4-12-3-4 0-4 1 2 2 9 4zM1011 121l7 0-3-2-12-4-8-1-3 1 10 4zM352 113l13 2 5-2 0-2-3-2-7-4-9-4-12-4-11-2-9-1-10 0-3 1 24 10zM542 109l13 2 5-2-6-4-20-8-13-3-6 0-3 1 0 2 7 4 9 4zM739 107l10 0-1-2-4-2-16-6-13-3-4 0-4 1 1 2 8 4 13 4zM926 103l9 1 3-1-10-4-15-4-8-1-2 1 8 4zM1113 99l6 1 2-1-6-2-6-1-1 1zM462 93l9 0 2 0 2-2-2-2-6-4-20-8-8-2-6-1-5 1-1 2 4 4 8 4 10 4zM652 89l9 1 4 0 2-1-1-2-4-2-15-6-18-3-4-1-3 2 2 2 9 4zM839 85l12 2 2 0 2-2-8-4-13-4-13-2-2 0-1 2 9 4zM1026 81l11 2 2-2-11-4-9-2-5 0 1 2zM378 75l9 0 3-2-2-2-6-4-8-4-13-4-22-4-16-1-2 0-1 1 43 16zM568 71l9 0 1-2-2-2-8-4-17-6-8-2-6 0-3 0-2 2 5 4 9 4 12 4zM753 67l10 1 5-1-2-2-4-2-16-6-13-2-3 0-1 2 2 2 9 4zM941 63l10 1 3-1-15-6-8-2-8 0 1 2 4 2zM478 53l7 1 6 0 3-1 0-2-2-2-7-4-20-8-12-2-4 0-2 2 1 2 2 2 7 4 9 4zM670 49l13 2 2 0 2-2-7-4-17-6-16-3-4 0-3 1 2 2 9 4zM867 47l8 0-1-2-5-2-20-6-10-1-2 0-2 1 15 6zM1053 43l6 1 2-1-9-4-9-2-7 0 4 2zM394 35l11 1 3-1 1-2-2-2-7-4-9-4-12-4-12-2-44-6 2 1 1 1 25 7 30 11zM582 31l9 1 7-1-1-2-3-2-19-8-8-3-8-1-4 1-3 1 1 2 7 4 9 4zM779 29l9 0 1-2-12-6-14-4-8-1-5 1 1 2 8 4 11 4zM966 25l10 0-2-2-4-2-13-4-8-1-4 1 7 4zM1148 19l5 1 2-1-6-2-7 0zM505 15l7 0 3-2-1-2-3-2-16-8 0-2-26 0 0 2 10 6 16 6zM699 11l5 0 1-2-7-4-12-4 0-2-23 0 0 2 10 4 14 4zM885 7l7 0-2-2-9-4 0-2-20 0 0 2 6 2zM1072 3l6 0-3-1-1-1 0-2-11 0 0 2z"/>
<path fill="#b0d130" d="M11 351l18 0-2-20-2-6-2-4-2-1-2 0-2 2-2 4-2 11zM52 351l19 0-3-20-3-8-2-3-2 0-2 1-3 6-2 10zM93 351l19 0-1-10-2-11-2-6-2-3-2-1-2 0-2 2-2 5-2 10zM135 351l18 0-1-10-2-10-3-9-2-2-2-1-2 1-2 5-3 12zM176 351l17 0 0-20-2-6-4-4-4 0-2 2-3 4-1 8zM216 351l18 0 0-10-1-6-4-7-4-2-4 0-2 1-2 2-2 3-1 5zM255 351l19 0 0-6-2-6-3-6-2-2-2-1-2 0-4 4-2 3-2 6zM295 351l18 0 0-4-2-6-4-8-2-2-2 1-5 7-2 6zM336 351l16 0-1-10 3-12 0-6-4-6-7-3-4 0-3 1-2 2-1 2 5 18zM377 351l15 0 2-18 0-4-3-5-4-3-4-1-2 1-3 2-2 4 0 4 1 12zM416 351l18 0 0-10-1-6-4-6-4-2-4 0-2 1-2 1-2 4-1 4zM455 351l19 0 0-6-2-6-3-6-2-2-2-1-2 0-5 5-3 8zM495 351l18 0 0-3-2-6-4-8-2-2-2 1-4 5-3 7zM536 351l16 0-1-12 3-12-1-4-2-4-6-4-6 0-3 2-1 2 0 4 4 14zM577 351l15 0 2-18 0-4-4-6-5-3-4 1-2 1-2 2-1 3 0 4 1 12zM616 351l18 0 0-8-1-6-2-5-4-4-2-1-4 0-4 3-2 3 0 6zM655 351l19 0-1-10-2-5-4-5-2-1-2 0-2 2-3 3-3 6zM695 351l18 0-2-9-4-8-2-1-2 1-4 5-3 6zM737 351l15 0-1-12 2-12 0-4-2-4-6-3-6 0-2 1-2 4 4 16zM777 351l15 0 2-16 0-6-4-6-5-3-4 1-2 1-2 2-1 3-1 4 2 12zM816 351l18 0 0-8-1-6-2-5-4-4-2-1-4 1-2 1-3 4-1 6zM855 351l19 0-1-10-2-4-4-5-4-1-2 1-3 3-3 6zM895 351l18 0-2-9-4-7-2-2-2 1-4 5-3 6zM937 351l15 0-1-12 2-12 0-4-2-4-3-2-3-1-4 0-2 0-2 2-1 3 3 16zM977 351l15 0 2-20-3-6-2-2-4-2-4 0-2 1-2 2-2 3 0 4 2 12zM1016 351l18 0 0-8-1-6-2-5-4-4-2-1-4 1-2 1-3 4-1 6zM1055 351l19 0-1-10-2-4-4-5-2 0-4 0-4 5-2 6zM1095 351l18 0-2-9-4-7-2-2-2 1-4 5-3 6zM1137 351l15 0-2-12 3-12 0-4-2-4-3-2-3-1-4 0-2 1-2 2-1 2 3 16zM1177 351l15 0 2-16 0-4-3-6-6-4-4 1-2 0-2 2-1 3-1 4 2 12zM1216 351l18 0 0-8-1-6-2-5-4-4-2-1-4 1-2 1-3 4-1 6zM1255 351l19 0-2-10-2-4-3-4-4-1-4 3-2 2-2 6zM1295 351l18 0-2-8-4-8-2-1-2 1-4 5-3 5zM1337 351l15 0-2-12 3-12 0-4-2-4-3-2-3-1-4 0-2 1-2 4 3 16zM1377 351l15 0 2-16-1-4-3-6-5-3-4 0-2 1-3 4-1 4 2 12zM905 327l2 0 4-5 2-3 0-4-2-4-2-2-4-1-4-1-4 2-1 2 0 2 3 7zM304 325l1 1 4-3 3-4 2-4-1-4-2-2-6-3-3 1-3 2-1 4 3 8zM504 325l1 1 2 0 2-2 5-5 1-4-2-4-2-2-4-2-4-1-4 2-2 3 1 6zM703 325l2 2 2 0 6-7 1-5-2-4-3-2-4-2-4 0-4 2-1 4 3 6zM1103 325l2 2 2-1 2-2 3-5 1-4-1-2-3-3-4-2-4 0-4 2-1 3 3 6zM1304 325l1 1 2-1 2-2 3-4 0-4-1-2-4-3-6-1-4 2 0 2 2 6zM262 315l3 2 2 0 2-2 2-2 1-4-1-4-4-3-6-2-6 0-5 1 1 2 1 2zM461 313l4 2 2-1 3-3 1-4-2-3-4-2-4-1-4 1-2 1 0 2 2 4zM662 311l3 1 3-1 2-2 0-2-1-2-4-2-4 0-2 1-1 1 1 2zM862 309l3 2 2-1 2-1 1-2-1-2-4-2-4 0-1 2zM1063 309l2 1 4-1 1-2 0-2-3-2-5 0-2 2 1 2zM1263 309l4 1 2-1 1-2-1-2-2-2-5 0-1 2 0 2zM231 301l7-2 0-2-5-4-4-1-4-1-4 2 0 2 2 3 4 2zM424 301l3 1 4 0 5-1 2-2-1-2-2-2-6-3-6-2-4 1-2 2 0 2 4 4zM623 301l6 2 5-2 1-2-1-2-2-2-3-2-8-2-4 1-1 1 0 2 4 4zM823 301l4 1 4-1 1-2 0-2-3-2-4-2-4-1-4 1-1 2 2 2zM1021 299l4 2 2 0 3-2-1-2-2-2-6-1-2 1 0 2zM351 285l11 0 1-2-9-6-9-3-8-1-3 0-1 2 1 2 6 4zM544 283l5 1 4 0 3-1 0-2-6-4-6-2-7-1-4 1 1 2 2 2zM742 281l6 0-1-2-4-2-7 0 2 2zM274 269l8 0 2-2-4-4-13-6-10-2-6 0-2 0-1 2 3 2 6 4 9 4zM461 265l8 2 5-2-1-2-3-2-9-4-10-2-7 0 0 2 3 2zM656 261l4 0-3-1zM650 259l5 1 1-1-5-1zM377 247l8 1 5-1-1-2-7-4-16-6-11-2-2 0-2 2 1 2 7 4zM569 243l6 1 2-1-3-2-11-4-8-2-5 0 1 2 4 2zM300 231l4 0 2-2-1-2-2-2-8-4-11-4-10-2-7 0-2 2 6 4 9 4 11 4zM489 227l5 0 1-2-6-4-12-4-10-2-2 0-2 2 3 2 8 4zM670 221l5 1 3-1-3-2-6-2-6-1-3 1zM393 207l10 2 4-1 1-1-4-4-14-6-11-3-4 0-4 1 1 2 5 4zM583 203l8 1 4-1-3-2-10-4-8-2-4 0-1 2 3 2zM315 191l8 1 3-1 0-2-2-2-7-4-16-6-12-2-4 1-2 1 6 4 9 4zM507 187l8 0-1-2-3-2-11-4-13-3-5 1 2 2 9 4zM689 181l8 1 1-1-9-3-4 1zM417 169l6 1 4-1 1 0 0-2-5-4-14-6-10-2-7 0 0 2 4 4 8 4zM607 165l6 1 3-1-1-2-3-2-12-4-7-1-3 1 2 2 4 2zM332 151l9 1 5-1-1-2-5-4-15-6-8-2-8-1-4 0-4 1 2 2 8 4zM525 147l7 0-1-2-3-2-11-4-12-3-5 1 1 2 9 4zM434 129l11 2 2 0 2-2-1-2-7-4-15-6-9-2-4 1-1 1 1 2 6 4zM625 125l10 2 2-2-2-2-11-4-9-1-3 1 3 2zM358 113l5 0 2-2-1-2-6-4-16-6-13-2-10 0 2 2 12 6 16 6zM540 107l7 1 4-1-2-2-4-2-10-4-10-2-6 0 1 2 3 2 9 4zM723 101l8 1 1-1-7-2-4-1-2 1zM458 91l9 1 2-1 0-2-5-4-14-6-11-3-4 0-3 1 0 2 5 4 9 4zM652 87l5 0-1-2-9-4-9-2-4 0 1 2 4 2zM374 73l9 0 1 0 0-2-1-2-8-4-17-6-15-2-4 1-1 1 18 8zM556 67l11 2 2-1 1-1-6-4-11-4-8-2-4 0-2 1 0 1 2 2zM746 63l7 1 2 0 1-1-10-4-7 0 2 2zM475 51l10 2 5-2-1-2-6-4-15-6-11-2-4 0-1 2 1 2 7 4zM672 47l2 0-1-2-4-2-10-3-4 0-2 1 10 4zM391 33l8 1 5-1-1-2-6-4-15-6-15-3-6 0-4 1 3 2 8 4zM580 29l7 1 4-1-1-2-3-2-15-6-9-1-2 0-3 1 2 2 8 4zM771 25l4 1 3-1-3-2-5-2-7-1-2 1zM500 13l8 0 2-2-5-4-13-6 0-2-20 0 0 2 6 4 9 4zM680 5l9 1 1-1-11-4 0-2-8 0 0 2z"/>
<path fill="#c9da30" d="M11 351l18 0-1-10-2-10-2-6-3-3-2 1-2 2-2 4-2 10zM53 351l17 0-2-18-3-8-2-2-2-1-2 1-3 6-2 10zM94 351l17 0-2-18-2-6-2-3-2-2-2 1-2 2-2 4-2 8zM135 351l18 0-3-18-3-8-2-3-2 0-2 1-2 4-3 10zM176 351l16 0 0-20-1-4-4-4-4 0-2 1-2 3-2 8zM216 351l18 0 0-10-1-6-4-6-4-2-4 0-2 1-2 2-2 3 0 6zM255 351l19 0-1-10-3-6-3-3-2-1-2 0-2 2-3 4-3 6zM295 351l18 0-2-9-4-7-2-2-2 0-4 5-3 7zM337 351l15 0-1-10 2-12 0-6-4-6-6-2-6 1-3 3 1 4 4 14zM377 351l15 0 1-20-2-6-4-3-4-1-2 1-2 1-2 4-1 4zM416 351l18 0 0-8-1-6-2-5-4-4-2-1-4 0-4 3-2 3 0 6zM455 351l19 0-1-10-2-4-4-5-2-1-2 0-4 4-4 8zM495 351l18 0-2-9-4-6-2-2-2 0-4 5-3 6zM537 351l15 0-1-12 2-14-2-4-1-2-5-3-6 0-3 3-1 2 4 16zM577 351l15 0 2-16-1-6-4-6-4-2-4 1-2 1-3 4 0 4 1 12zM616 351l18 0 0-8-1-6-2-4-4-4-2-1-4 0-2 1-3 4-1 6zM655 351l19 0-1-10-2-4-4-5-4-1-4 4-3 6zM695 351l18 0-2-8-4-7-2-1-2 0-2 2-4 6zM737 351l15 0-2-12 2-14-1-4-2-2-4-2-4 0-2 0-3 4 1 4 2 12zM777 351l15 0 1-20-2-6-3-2-3-2-4 1-2 1-3 4 0 4 1 12zM816 351l18 0 0-8-1-6-2-4-4-4-2-1-4 0-2 2-3 3-1 6zM855 351l19 0-2-10-1-4-4-4-4-1-2 1-4 4-2 6zM895 351l18 0-2-8-4-7-2-1-2 0-2 2-4 7zM937 351l15 0-2-12 2-12 0-4-3-4-4-2-4 0-3 2-1 2 0 4 3 12zM977 351l15 0 1-16 0-4-3-6-5-3-4 0-2 1-3 4 0 4 2 12zM1016 351l17 0 1-8-1-6-2-4-4-4-2-1-4 1-4 4-2 6zM1055 351l19 0-2-10-2-4-3-4-4-1-2 1-3 4-3 6zM1095 351l18 0-2-8-4-6-2-2-2 1-2 2-4 6zM1137 351l15 0-2-12 2-12 0-4-3-4-4-2-4 0-2 2-1 2 0 4 2 12zM1177 351l15 0 1-16 0-4-4-6-4-3-5 1-2 2-2 2 0 4 2 12zM1216 351l17 0 1-8-1-6-2-4-4-4-2-1-4 1-4 4-1 6zM1255 351l19 0-1-6-1-4-3-5-2-2-4-1-2 1-3 3-3 6zM1296 351l17 0-2-7-4-7-2-1-2 0-2 2-4 6zM1337 351l15 0-3-12 3-12 0-4-3-4-4-2-4 0-2 2-1 2 0 4 2 12zM1378 351l14 0 1-16 0-4-4-6-4-2-4 0-2 1-2 3-1 4 2 12zM504 323l1 1 2 0 2-2 3-3 1-4-2-4-2-2-6-1-3 1-1 2-1 2 3 6zM703 323l2 1 2 0 2-1 3-4 1-4-1-2-3-3-6-2-4 1-1 4 1 4zM903 323l2 1 2 0 3-3 2-4-1-4-2-2-6-2-4 1-1 3 1 4zM1104 323l1 1 2 0 3-3 1-4 0-2-2-3-2-1-4-1-4 1-1 2 1 4zM1305 323l2 0 2-2 1-4 0-2-1-2-3-2-5 0-2 2 0 2 2 4zM303 321l2 2 2-1 5-5 0-4-3-4-4-1-2 0-2 1-1 2 0 4zM261 313l4 2 2 0 3-4 0-4-3-3-4-2-4-1-4 1-1 1 0 2zM462 311l3 1 2-1 1-2 0-2-2-2-5-1-3 1 0 2zM424 299l3 1 4 0 3-1 0-2-5-4-6-1-2 1-1 2zM623 299l4 1 2 0 2-1 0-2-3-2-3-1-4 0-1 1 1 2zM226 297l3 1 3-1-2-2-3-1-1 1zM823 297l2 1 1-1-1-1zM351 283l2 0 3-2-7-4-4-1-4-1-2 2 2 2 3 2zM543 279l2 1 2-1zM274 267l3-1 1-1-6-4-4-2-7-2-4 1-1 1 5 4 4 2zM457 261l6 2 1-2-5-2-4 0zM371 243l6 1 2-1-8-4-7-2-4 0 1 2zM290 227l7 1 3-1-2-2-3-2-11-4-7-1-2 1 5 4zM393 205l6 0-1-2-7-4-7-2-5 0 0 2 3 2zM316 189l2 0 1-2-6-4-12-4-8 0 2 2 7 4zM409 165l10 2 2-2-3-2-9-4-8-2-2 1 0 1 2 2zM331 149l6 1 2-1-1-2-3-2-9-4-11-2-2 1 0 1 3 2 9 4zM433 127l6 1 3-1-2-2-7-4-8-2-4-1-2 1 1 2 3 2zM349 109l6 1 3-1-1-2-4-2-11-4-7-1-4 1 7 4zM450 87l9 2 2 0 1-2-3-2-8-4-7-2-4 0-1 2 3 2zM366 69l9 2 2-2-2-2-9-4-9-2-6 0 1 2 4 2zM475 49l4 1 3-1-1-2-3-2-9-4-8-1-2 1 5 4zM393 31l2 0 0-2-7-4-11-3-4 0-2 1 8 4zM492 9l7 1 2 0 1-1-5-4-11-4 0-2-7 0 1 4 7 4z"/>
<path fill="#e1e32d" d="M12 351l17 0-1-10-2-8-2-6-3-3-2 1-2 2-2 4-2 7zM53 351l17 0-1-10-2-8-2-6-2-2-2-1-2 2-2 3-3 8zM94 351l17 0-1-10-2-8-2-6-3-2-2 0-2 2-2 4-2 9zM135 351l17 0-1-10-2-8-2-6-2-2-2-1-2 2-2 3-3 10zM176 351l16 0 0-18-1-4-4-5-4 0-2 2-2 3-2 8zM216 351l18 0 0-10-1-5-4-6-4-3-4 0-2 1-3 5-1 6zM255 351l19 0-2-10-3-6-2-2-2-1-2 0-5 5-2 6zM295 351l18 0-2-8-4-7-2-2-2 1-4 4-3 6zM337 351l15 0-1-12 2-10 0-4-2-4-1-2-3-2-4-1-4 0-2 1-1 2-1 4 4 14zM377 351l15 0 1-20-2-5-4-4-4 0-2 1-3 4-1 4zM416 351l17 0 1-8-1-6-4-7-4-2-4 0-2 1-3 4-1 6zM455 351l19 0-2-10-3-6-2-2-2-1-2 0-4 3-3 8zM495 351l18 0-2-8-4-6-2-2-2 1-2 1-4 6zM537 351l15 0-2-12 2-14-1-3-2-3-4-2-4 0-2 1-2 3 0 4 2 12zM577 351l15 0 1-20-3-6-5-3-5 1-2 2-1 3zM616 351l17 0 1-8-1-5-2-5-4-4-2-1-4 1-2 1-2 3-2 6zM655 351l19 0-2-10-2-4-3-4-2-1-2 0-4 3-3 8zM696 351l17 0-2-7-4-7-2-1-2 0-2 2-4 6zM737 351l15 0-2-12 1-14-2-5-4-2-4 0-2 1-1 2 0 4 2 12zM777 351l15 0 1-20-3-6-5-3-5 1-2 2-1 2 0 4 1 12zM816 351l17 0 1-8-2-6-2-4-3-3-2-1-4 0-4 4-1 6zM855 351l19 0-2-10-3-5-2-2-4-1-2 1-3 3-2 6zM896 351l17 0-2-7-4-7-2-1-2 1-2 1-4 6zM937 351l15 0-3-12 2-14-2-5-4-2-4 0-2 3-1 4 2 12zM978 351l14 0 1-16 0-4-2-4-2-2-4-2-4 0-3 2-1 3 0 3 1 12zM1016 351l17 0 0-8-1-6-2-4-3-3-4-1-2 1-4 4-1 5zM1055 351l19 0-1-6-1-4-3-5-2-2-4-1-2 1-3 3-2 6zM1096 351l17 0-2-7-4-6-2-1-2 0-2 1-4 7zM1137 351l14 0-2-14 2-12-2-4-4-3-4 1-2 3 0 3 2 12zM1178 351l14 0 1-16-1-4-3-5-4-3-4 1-2 1-2 3 0 5 1 10zM1216 351l17 0 0-8-1-6-2-4-3-3-2-1-4 1-2 1-2 3-1 5zM1255 351l19 0-1-6-1-4-3-5-2-1-4-1-2 1-3 2-2 6zM1296 351l17 0-2-7-4-6-2-1-2 0-2 2-4 6zM1337 351l14 0-2-14 2-12-2-4-4-2-4 0-2 4 2 14-4 12zM1378 351l14 0 0-16 0-4-3-5-4-2-2 0-3 1-3 4 1 14zM504 321l3 0 2-1 2-3 1-2-1-2-2-2-4-2-4 2-1 2 1 4zM703 321l2 1 2 0 2-1 2-4-1-4-2-2-3-1-4 0-1 3 1 4zM903 321l2 1 2 0 2-2 1-3-1-4-3-2-3-1-2 1-1 2 0 2 1 3zM1105 321l2 0 2-2 0-4-2-2-4-1-2 1-1 2 2 4zM304 319l1 1 2 0 3-3 1-2-1-2-1-2-4-1-3 1-1 2 0 2zM1304 319l1 1 2-1 1-2-1-2-2-2-2 0-1 2 0 2zM261 311l4 2 2-1 1-3 0-2-3-3-4-1-2 0-2 2 1 2z"/>
<path fill="#f6dc24" d="M12 351l17 0-3-16-3-7-2-1-2 0-2 2-2 4-2 8zM53 351l17 0-1-9-2-8-2-5-2-2-2 0-2 1-2 3-3 8zM94 351l17 0-3-16-2-6-3-2-2 0-2 2-2 5-2 8zM135 351l17 0-1-8-2-8-2-6-2-2-2 0-2 1-2 3-2 8zM176 351l16 0 0-18-2-4-3-4-2 0-2 0-2 2-2 4-2 8zM216 351l17 0 1-8-1-6-4-6-4-3-2 0-4 1-3 4 0 6zM255 351l19 0-2-10-3-5-2-2-4-1-4 3-3 7zM296 351l17 0-2-8-4-6-2-1-2 0-2 1-4 7zM337 351l15 0-2-12 2-10 0-4-3-5-2-2-4-1-4 0-2 2-1 2 4 16zM377 351l15 0 0-20-1-4-4-3-4-1-2 1-2 2-1 3zM416 351l17 0 0-12-2-5-4-4-4-2-2 1-2 1-2 3-1 6zM455 351l19 0-2-10-3-5-2-2-4-1-4 3-3 7zM496 351l17 0-2-7-4-6-2-1-2 0-2 1-4 6zM537 351l15 0-2-12 1-14-2-4-4-3-4 0-3 3 0 4 2 12zM578 351l14 0 0-20-1-3-2-3-4-2-4 1-2 2-1 3zM616 351l17 0 0-12-2-5-4-4-2-1-4 1-4 4-1 5zM655 351l19 0-1-6-1-4-3-5-2-2-4-1-4 3-3 7zM696 351l17 0-2-7-4-6-2-1-2 0-2 2-4 6zM737 351l14 0-2-12 1-14-2-4-3-2-4 1-2 3 2 14zM778 351l14 0 0-16 0-4-3-5-4-3-4 1-2 2-1 3 0 14zM817 351l16 0 0-12-2-4-4-5-2 0-4 0-2 2-2 3-1 4zM855 351l19 0-1-6-1-4-3-5-2-1-4-1-4 2-3 7zM896 351l17 0 0-2-3-6-3-4-2-2-2 1-2 1-3 4-2 4zM937 351l14 0-2-14 1-12-3-4-2-1-4 1-1 2 1 14zM978 351l13 0 1-16 0-4-3-5-4-2-2 0-3 1-2 4 0 14zM1017 351l16 0-1-12-1-4-4-4-2-1-4 1-2 1-2 3-1 6zM1056 351l17 0 0-5-2-5-4-6-4-1-4 3-3 6zM1096 351l16 0 0-2-3-8-4-3-2 0-4 4-2 5zM1138 351l13 0-3-14 1-12-2-4-2-1-3 1-1 2 1 14-4 12zM1178 351l13 0 1-16-1-4-2-4-4-3-4 1-2 2-1 2zM1217 351l16 0-1-12-1-4-4-4-4-1-2 1-4 4-1 6zM1256 351l17 0 0-5-2-5-4-5-4-1-4 2-3 6zM1296 351l16 0 0-2-3-7-4-4-2 0-4 4-2 5zM1338 351l13 0 0-2-4-12 2-12-2-3-2-1-2 0-2 2 0 4 1 6 0 4-4 12zM1378 351l13 0 1-18-3-5-4-3-4 1-3 3zM504 317l1 1 2 0 1-1 1-2-1-2-3-1-2 1 0 2zM703 317l2 2 2 0 1-2 0-2-1-2-2-1-2 1-1 2zM904 317l1 1 2-1 0-2-2-1-2 1z"/>
<path fill="#fab41a" d="M12 351l17 0-1-8-3-8-2-5-2-1-2 0-2 2-2 4-2 8zM53 351l17 0-1-7-2-8-2-4-2-3-2 0-2 1-2 3-2 8zM94 351l17 0-1-8-2-8-3-5-2-1-2 0-2 3-2 4-2 8zM135 351l17 0-1-8-2-7-2-4-2-3-2 0-2 1-2 4-2 7zM177 351l15 0-1-17-2-5-2-2-2 0-2 0-3 4-2 6zM217 351l16 0 0-8-1-6-3-6-4-2-4 0-2 1-2 3-1 6zM255 351l18 0 0-5-2-5-2-4-2-2-2-1-2 0-4 3-3 6zM296 351l17 0-2-7-4-6-2-1-2 0-2 1-4 7zM337 351l14 0-2-12 2-10 0-4-2-4-4-2-4-1-2 1-1 2 0 4 3 12zM378 351l14 0-1-20-2-4-2-2-4 0-2 1-2 3-1 4zM417 351l16 0 0-12-2-4-4-5-2 0-4 0-2 1-2 3-1 5zM456 351l17 0 0-5-2-5-2-4-2-2-2-1-2 0-4 3-3 6zM496 351l16 0 0-2-3-8-4-3-2 0-2 1-3 4-2 4zM537 351l14 0-2-12 1-14-3-4-2-1-4 1-2 2 2 14zM578 351l13 0 0-20-2-4-4-3-4 1-2 4zM617 351l16 0-1-12-1-4-4-4-2-1-4 1-2 1-2 3-1 4zM656 351l17 0 0-5-2-5-4-6-4-1-4 3-3 6zM696 351l16 0 0-2-2-6-3-4-2-1-2 0-2 2-3 3-1 4zM738 351l13 0-3-14 1-10-2-4-2-2-2 0-2 2-1 4 2 10-4 12zM778 351l13 0 1-16-1-4-2-4-4-2-4 0-2 4zM817 351l16 0-1-12-2-4-3-3-4-1-2 0-3 4-2 6zM856 351l17 0 0-4-2-6-4-5-4-1-4 3-2 5zM896 351l16 0 0-2-3-7-2-2-2-1-2 0-4 4-2 4zM938 351l13 0 0-2-4-12 1-10-1-3-2-2-2 1-1 2 0 12-4 12zM978 351l13 0 1-16-1-3-2-4-4-3-4 1-2 3zM1017 351l16 0-1-12-2-4-3-3-4-1-4 2-1 2-1 6zM1056 351l17 0 0-4-2-6-4-5-4-1-4 3-2 5zM1096 351l16 0 0-2-3-7-2-2-2-1-2 0-4 4-2 4zM1138 351l13 0 0-2-6-14 2-8-1-2-1-1-2 1 0 2 2 8-6 11zM1178 351l13 0 0-18-2-4-4-3-4 1-2 2zM1217 351l15 0 0-12-2-4-3-3-4-1-2 1-3 3-1 6zM1256 351l17 0 0-4-2-5-4-5-4-1-4 2-2 5zM1296 351l16 0 0-2-3-6-2-3-2-1-2 1-4 3-2 4zM1338 351l13 0-2-6-4-7-2 2-2 3-3 6zM1379 351l12 0 0-18-2-4-4-2-4 0-2 4zM1345 327l0 1 0-2z"/>
<path fill="#f6891c" d="M12 351l16 0-1-9-2-6-2-3-2-2-2 1-2 2-2 4-2 7zM54 351l15 0-2-13-2-4-2-2-2-1-2 1-2 3-2 6zM95 351l15 0-1-8-1-6-3-4-2-2-2 1-2 2-2 4zM136 351l16 0-3-13-2-4-2-2-2-1-2 2-2 3-2 6zM177 351l14 0-1-16-1-4-2-2-2-1-2 1-2 2-2 6zM217 351l16 0 0-8-1-6-3-5-4-2-4 0-2 2-2 3-1 4zM256 351l17 0 0-4-2-6-4-5-4-1-4 3-2 5zM296 351l16 0 0-2-3-7-4-4-2 0-2 1-3 4-1 4zM338 351l13 0-3-12 2-10-1-4-2-4-2-1-4 1-2 2 3 14-4 12zM378 351l13 0 0-18-2-4-2-2-2-1-2 0-2 2-2 3zM417 351l16 0-1-12-2-4-3-4-4-1-2 1-2 1-2 3 0 4zM456 351l17 0 0-4-2-6-4-5-4-1-4 3-2 5zM496 351l16 0 0-2-3-7-2-2-2-1-2 0-2 1-2 3-2 4zM538 351l13 0-3-14 0-10-1-3-2-1-2 0-2 2 1 12-4 12zM578 351l13 0 0-18-2-4-4-3-2 0-2 1-2 4zM617 351l15 0 0-12-2-4-3-3-4-1-2 1-3 3-1 4zM656 351l17 0 0-4-2-6-4-5-4-1-4 4-2 4zM696 351l16 0 0-2-3-6-2-3-2-1-2 0-4 4-2 4zM738 351l13 0 0-2-5-14 0-6-1-3-2 1 1 8-5 11zM778 351l13 0 0-18-2-4-4-3-2 0-2 2-2 3zM817 351l15 0-1-12-2-4-2-2-4-1-2 0-2 3-2 6zM856 351l17 0 0-4-2-5-4-5-4-1-4 3-2 4zM897 351l15 0 0-2-3-6-2-2-2-1-2 0-4 4-2 4zM938 351l12 0-1-6-4-7-2 2-2 3-3 6zM979 351l12 0-1-18-2-4-3-2-2 0-2 1-1 3zM1017 351l15 0-1-12-2-4-2-2-4-1-2 1-2 2-2 6zM1056 351l17 0-2-9-4-5-4-1-4 3-2 5zM1097 351l15 0 0-2-3-6-2-2-2-1-2 0-4 4-2 4zM1138 351l12 0-1-5-2-4-2-2-2 1-2 3-3 5zM1179 351l11 0 0-18-3-4-2-1-2 0-2 1-1 2zM1217 351l15 0-1-12-2-4-2-2-4 0-2 0-2 3-1 5zM1256 351l17 0-2-8-4-5-4-1-4 3-2 4zM1297 351l15 0 0-2-3-5-2-2-2-1-2 0-4 3-2 5zM1339 351l11 0 0-2-3-6-2-2-2 1-2 2-2 5zM1379 351l11 0-1-18-2-3-2-1-2 0-2 1-1 3z"/>
<path fill="#f25c1e" d="M13 351l15 0-1-7-2-6-2-3-2-1-2 0-2 2-2 3-2 8zM54 351l15 0-2-10-2-5-2-2-2 0-2 1-2 3-2 6zM95 351l15 0-1-7-2-6-2-3-2-1-2 0-3 5zM136 351l15 0-2-11-2-4-2-2-2 0-2 1-2 3-2 6zM177 351l14 0-1-14-1-3-2-3-2 0-2 0-2 3-2 6zM217 351l15 0 0-8-1-6-2-3-4-3-4 0-3 4-1 5zM256 351l17 0-2-9-4-5-4-1-4 3-2 6zM297 351l15 0 0-2-3-6-2-3-2-1-2 0-4 4-2 4zM338 351l13 0 0-2-4-12 1-10-1-2-2-2-2 0-1 2 1 12-5 12zM378 351l13 0-2-18-2-4-2-1-3 1-2 4zM417 351l15 0 0-8-1-5-2-4-4-2-4 0-3 3-1 6zM456 351l17 0-2-9-4-5-4-1-4 4-2 5zM497 351l15 0 0-2-3-6-2-2-2-1-2 0-4 4-2 4zM538 351l12 0-1-6-4-7-2 2-2 3-3 6zM579 351l12 0-2-18-2-4-2-1-2 0-2 3zM617 351l15 0 0-8-1-4-2-4-2-2-4-1-2 1-2 2-2 6zM656 351l17 0-2-8-4-6-4 0-4 3-2 5zM697 351l15 0 0-2-3-5-2-2-2-2-2 1-4 3-2 4zM738 351l12 0-1-5-2-4-2-2-2 1-2 3-3 5zM779 351l11 0-1-18-2-4-2-1-2 1-2 2zM818 351l14 0-1-11-2-4-2-2-4-1-2 1-2 2-1 5zM857 351l16 0-2-8-4-5-4-1-4 3-2 5zM897 351l14 0 0-2-2-5-2-2-2-1-2 0-4 4-2 4zM939 351l11 0 0-2-3-6-2-2-2 1-2 2-2 5zM979 351l11 0-1-17-2-4-2-1-2 0-2 3zM1018 351l14 0-1-10-2-4-2-3-4 0-2 1-2 2-1 4zM1057 351l15 0-1-7-4-6-4-1-4 4-2 4zM1097 351l14 0 0-2-4-7-2-1-2 0-4 4-2 4zM1139 351l11 0 0-2-3-5-2-1-2 0-2 2-2 4zM1179 351l11 0-1-16-2-4-2-1-2 0-2 4zM1218 351l14 0-1-10-2-4-2-2-4-1-3 3-2 4zM1257 351l15 0-1-6-2-4-4-3-4 1-3 4zM1297 351l14 0 0-2-4-6-2-1-2 0-4 4-2 3zM1339 351l11 0 0-2-3-4-2-2-2 1-2 2-2 3zM1380 351l10 0-2-16-1-2-2-2-2 1-2 3z"/>
<path fill="#ec3522" d="M13 351l14 0 0-4-2-7-2-3-2-1-2 0-3 3-2 6zM54 351l15 0-2-8-2-5-2-2-2 0-2 1-2 3-2 6zM95 351l15 0-1-5-2-6-2-3-2-1-2 0-2 2-2 5zM136 351l15 0-2-9-2-4-2-2-2 0-2 1-2 3-2 7zM178 351l13 0-2-13-2-4-2-1-2 1-2 3-2 6zM218 351l14 0-1-12-2-4-4-3-4 1-2 2-1 6zM256 351l16 0-1-7-4-6-4-1-4 4-2 5zM297 351l15 0 0-2-3-5-2-3-2-1-2 0-4 4-2 5zM339 351l11 0-1-5-2-4-2-2-2 2-2 2-2 5zM379 351l11 0-2-16-1-3-2-1-2 1-2 3zM418 351l14 0 0-8-1-4-3-4-3-2-4 1-2 3-1 4zM457 351l15 0-1-7-4-6-4 0-4 3-2 6zM497 351l14 0 0-2-2-5-2-2-2-1-2 0-4 4-2 4zM539 351l11 0 0-2-3-6-2-1-2 0-4 6zM579 351l11 0-2-16-1-3-2-1-2 1-1 3zM618 351l14 0-1-10-2-4-2-2-4-1-2 1-2 2-1 4zM657 351l15 0-1-7-4-5-4-1-4 3-1 4zM697 351l14 0 0-2-4-6-2-1-2 0-4 3-2 4zM739 351l11 0 0-2-3-5-2-1-2 0-2 2-2 4zM779 351l11 0-2-16-1-2-2-2-2 1-1 3zM818 351l13 0-1-10-1-3-2-3-4 0-3 2-2 4zM857 351l15 0-1-6-2-4-2-2-4-1-4 3-1 4zM898 351l13 0 0-2-4-6-2-1-2 0-4 4-1 3zM939 351l10 0 0-2-2-4-2-1-2 0-2 2-2 3zM980 351l10 0-3-16-2-3-2 1-1 2zM1018 351l13 0-1-10-3-5-2-1-2 0-2 2-2 4zM1057 351l15 0-1-5-2-4-4-3-4 1-3 5zM1098 351l13 0 0-2-4-5-2-1-2 0-4 3-1 3zM1140 351l9 0 0-2-2-3-2-2-2 1-3 4zM1180 351l9 0-2-14-2-3-2 1zM1218 351l13 0-1-8-1-4-2-2-2-1-2 0-2 1-2 5zM1257 351l15 0-1-5-2-4-4-3-4 1-3 5zM1298 351l13 0 0-2-4-5-2-1-2 0-4 4zM1340 351l9 0 0-2-2-3-2-1-2 0-3 4zM1380 351l9 0-2-11-2-4-2 3z"/>
<path fill="#e82024" d="M14 351l13 0-2-9-2-3-2-1-2 0-2 2-2 4zM55 351l13 0-1-6-2-5-2-2-2 0-2 1-1 2-3 7zM96 351l13 0-1-6-3-6-2-1-2 0-2 2-2 5zM137 351l13 0-1-7-2-4-2-2-2 0-3 3-3 6zM178 351l12 0-1-10-2-4-2-1-2 0-2 3-2 6zM218 351l14 0-1-8-1-4-2-4-3-2-2 0-2 1-2 3zM257 351l15 0-1-6-2-4-4-3-4 2-3 5zM297 351l14 0 0-2-4-7-2-1-2 0-2 2-2 2-2 4zM339 351l11 0 0-2-3-5-2-1-2 0-2 3-2 3zM379 351l11 0-3-14-2-3-2 2 0 1zM418 351l13 0 0-8-1-4-3-4-2-1-2 0-2 1-2 3zM457 351l15 0-1-6-2-3-4-3-4 1-3 5zM498 351l13 0 0-2-4-6-2-1-2 0-4 4-1 3zM539 351l10 0 0-2-2-4-2-1-2 0-2 2-2 3zM580 351l10 0-3-14-2-2-2 2zM618 351l13 0-1-10-2-4-3-2-2 0-2 1-2 3zM657 351l15 0-1-5-2-4-4-3-2 0-2 1-3 5zM698 351l13 0 0-2-4-5-2-1-2 0-4 3-1 3zM740 351l9 0 0-2-2-3-2-2-2 1-2 2-1 2zM780 351l9 0-2-12-2-3-2 3zM819 351l12 0-1-8-1-3-2-3-2-1-2 0-2 1-2 6zM857 351l15 0-1-4-2-5-4-3-2 0-2 2-3 4zM898 351l12 0 0-2-3-5-2-1-2 0-4 4zM940 351l9 0 0-2-2-3-2-1-2 0-3 4zM980 351l9 0-2-9-2-4-2 3-3 8zM1019 351l12 0-2-10-2-3-2-1-2 0-2 2-2 4zM1058 351l13 0 0-4-2-4-4-3-2 0-2 1-2 4zM1098 351l12 0 0-2-3-4-2-1-2 0-4 3zM1140 351l8 0 0-2-3-3-2 0-3 3zM1181 351l8 0-2-7-2-3-2 2-2 6zM1219 351l11 0-1-9-2-3-2-2-2 1-2 2-2 5zM1258 351l13 0 0-2-2-5-2-3-4-1-2 2-2 3zM1299 351l11 0 0-2-3-4-2-1-2 0-4 4zM1341 351l7 0 0-2-3-2-2 0-2 2zM1381 351l7 0-1-5-2-2-2 1-2 4z"/>
<path fill="#69b533" d="M-1 351l11 0-1-28-1-18-3-13-4-7-2 0zM31 351l20 0-1-28-1-18-4-17-2-4-2-2-2 1-2 2-2 5-2 10-2 21zM72 351l20 0 0-26-2-18-3-21-2-6-2-1-2 1-3 3-1 4-2 8-2 20zM113 351l20 0-2-44 1-16-1-4-2-2-2-1-4 0-4 4-2 4-2 7-1 16zM154 351l20 0 0-22 2-18-3-6-4-5-4-2-2 0-2 1-2 3-4 9-1 10zM194 351l20 0-3-16 1-6 2-4 3-3 6-3 4 1 2 2 4 6 2 5 2 8-2 10 18 0 0-10 5-14 0-6-5-6-4-3-4-2-6-1-14 2-2-1-14-9-6-2-4 1-5 3-1 2-2 4 1 4 4 10 1 6zM276 351l18 0 0-8 3-10 0-6-4-7-6-6-4 0-4 2-5 5-2 4 0 4 3 14zM315 351l20 0 1-10-1-7-4-7-2-3-4-2-2-1-4 1-4 4-2 3-1 6zM354 351l21 0 0-8-4-14 0-4 3-6 7-8 3-2 1-2-12-8-6-3-20-4-24-9-6-1-14 1-6 0-26-7-28-10-34-5-12 0-30 4-6 2-3 2-5 6 1 4 1 2 2 2 4 2 4-1 10-6 6-2 6 0 16 4 18 1 8 2 18 7 20 5 16 7 4 0 10-4 6-1 6 2 16 9 4 1 10-1 6 0 4 2 6 5 3 4 1 4 0 4-5 14zM394 351l20 0-3-16 0-4 2-4 2-2 4-4 4-1 2 0 4 3 6 9 1 7-1 12 18 0 1-12 4-14-2-6-5-6-6-3-6 0-12 2-4-1-10-8-6-3-6-1-6 2-10 6 0 2 4 3 6 8 3 7 0 4-3 12zM476 351l18 0 0-6 3-12 0-6-2-4-4-5-6-4-4 0-4 3-3 4-2 4 0 4 3 14zM515 351l20 0 1-10-1-6-4-8-2-3-4-2-4 0-4 3-2 2-3 4 0 6zM554 351l21 0 0-10-5-16 3-6 4-4 4-3 4 0 4 2 6 7 3 6 0 6-4 12 0 6 20 0-2-14 0-6 2-4 3-4 4-3 4-1 4 3 4 6 2 5 1 8-1 10 18 0 0-12 5-12 0-6-4-6-7-5-6 0-14 3-2 0-12-9-8-4-6 0-12 3-4 0-14-7-6-1-16-2-16-7-8-2-20-2-32-5-8-3-20-7-10-3-42-5-52-16-8-1-16 1-8-1-38-13-22-5-38-5-12 0-10 1-12 2-14 3-9 4-7 4-1 2 1 1 2 1 4 0 26-2 10 0 44 5 26 6 36 13 8 1 16 0 8 0 14 4 24 8 10 3 26 5 16 0 8 1 22 9 6 2 16 2 16 6 4 1 12-3 6 0 6 3 12 8 4 1 12-2 6 0 4 2 6 5 3 4 2 4-1 4-5 12zM676 351l18 0 0-6 3-12 0-4-1-4-3-4-4-4-4-2-4 0-4 2-3 2-2 4-1 4 4 14zM715 351l20 0 1-10-2-8-5-9-4-2-2 0-4 2-4 3-2 4-1 6zM754 351l21 0 0-10-5-14-1-4 1-2 4-4 7-4 4 0 4 2 6 6 3 6 0 6-3 12-1 6 20 0-2-14 0-6 2-4 3-3 4-4 4-2 2 1 4 5 4 9 1 8-1 10 18 0 0-12 5-14 0-4-2-4-3-3-4-3-4-1-6 0-12 5-2 0-12-10-8-4-6-1-14 2-18-7-20-1-24-9-18-3-18-4-20-2-24-8-28-7-30-3-54-15-32-4-48-14-12-2-20-1-10-2-48-16-8-1-16 1-8-1-40-13-24-6-44-6-14-1-14 0-16 2-19 4-12 4-8 4-2 2 1 1 4 1 34-3 20 1 20 2 34 6 24 5 34 12 10 2 8 1 14-1 8 1 48 15 12 3 22 1 10 2 46 14 24 2 10 2 24 6 24 8 22 2 32 6 8 2 16 7 6 1 16 1 16 6 4 0 10-1 6 1 8 3 14 8 4 1 10-3 6 0 4 1 4 3 5 5 2 4 0 4-6 14zM876 351l18 0 0-6 3-12 0-4-1-4-3-4-4-4-4-2-4 0-4 2-3 2-3 4 0 6 4 14zM915 351l20 0 1-10-1-6-4-9-4-4-2-1-4 1-4 3-4 6-1 6zM954 351l21 0 0-10-6-14 0-4 2-4 4-3 4-2 4-1 4 1 4 3 4 5 3 5 0 6-3 12-1 6 20 0-2-14 0-6 3-5 9-9 0-2-9-8-4-3-6-2-6-1-14 1-18-8-6-1-12 1-4-1-22-8-18-3-20-5-22-3-50-13-34-5-50-13-42-7-44-12-40-6-48-14-34-4-40-12-16-3-34-4-12-3-26-10-12-3-8-1-16 1-8-1-40-13-26-6-50-9-18-1-18 0-22 2-21 4-17 6-4 2-1 2 5 1 32-2 26 0 22 2 26 4 46 10 48 15 8 1 14-1 8 1 10 2 28 11 12 3 10 1 20 2 10 2 50 14 34 4 52 14 36 5 50 14 32 5 54 14 22 2 18 5 16 3 24 8 22 1 18 7 14 0 6 1 6 2 14 9 4 0 12-4 6 1 4 2 4 3 3 4 3 4-1 4-4 8-2 6zM1035 351l18 0 0-12 6-14-1-4-3-6-4-3-4-2-4-1-6 1-9 5-1 2 6 10 3 8 1 6zM1076 351l18 0 0-6 3-12 0-4-2-4-2-4-4-3-4-2-4 0-4 1-4 3-2 3 0 4 4 14zM1115 351l20 0 1-10-1-6-4-9-4-4-2-1-4 1-4 3-4 6-1 6zM1154 351l21 0 0-10-6-14-1-4 3-4 4-3 4-2 4-1 4 1 4 3 4 6 3 6 0 4-3 12-1 6 20 0-2-14 0-6 3-5 8-9 0-2-3-4-5-4-4-3-6-2-6-1-12 1-4-1-12-6-6-1-20-1-18-6-22-4-18-6-24-3-56-14-34-6-54-13-38-7-46-12-40-6-50-13-36-6-46-12-42-7-44-13-28-3-10-2-54-15-34-3-50-16-8-1-16 1-8-1-46-15-54-11-20-4-18-1-20-1-20 0-19 2-21 4-14 4-8 4 2 1 4 1 36-2 30 1 26 2 24 4 56 12 48 16 10 1 14-1 8 0 8 2 30 11 12 4 8 1 18 1 10 1 54 16 10 1 26 3 44 13 44 7 44 12 40 6 44 12 40 7 52 13 36 6 54 14 26 3 20 6 18 3 20 7 20 0 6 2 14 6 20 1 6 2 14 9 4 0 10-4 6 0 4 1 6 5 5 6 2 4-8 14-1 6zM1235 351l18 0 0-12 6-14 0-4-2-4-4-4-4-3-4-1-4 0-6 2-7 4-1 2 7 12 2 6 1 6zM1276 351l18 0 0-6 3-10 0-6-2-4-3-4-3-3-4-2-4 0-6 3-3 2-2 4 1 4 4 12zM1315 351l20 0 1-10-1-6-3-8-5-5-2-1-4 1-4 3-4 6 0 6zM1354 351l21 0-1-10-6-14 0-4 3-4 4-2 4-2 4-1 4 1 4 3 4 5 3 6 0 4-3 12-1 6 13 0 0-49-8 0-10 0-4 0-14-7-6-1-20-1-18-6-20-4-22-6-22-3-36-8-24-7-50-9-38-10-46-8-40-11-44-8-42-10-44-8-44-12-40-7-48-12-36-6-50-13-38-5-44-13-32-4-14-3-46-14-10-1-16-1-10-1-12-4-28-10-10-3-8 0-16 1-8-1-48-16-64-13-20-3-22-2-22-1-22 0-21 2-22 4-15 4-4 2-1 2 7 0 40-1 24 1 32 3 28 4 70 16 46 14 8 1 18-1 8 2 38 13 12 3 10 1 16 1 8 1 48 14 14 3 30 3 44 13 40 6 48 13 36 5 50 14 38 6 46 12 40 7 42 10 48 9 34 9 52 10 24 7 34 7 24 4 22 6 20 4 18 5 20 1 20 8 20 1 6 2 14 9 4 0 10-4 6 0 4 1 6 5 6 6 1 4-8 14-1 6zM1399 279l8 2 0-21-60-12-42-10-42-8-46-11-38-7-48-12-36-6-52-13-36-6-48-12-40-8-42-11-46-8-42-11-40-6-50-14-34-4-48-14-42-6-48-14-10-2-16 0-10-1-40-14-10-3-10-1-16 1-8-1-44-14-68-15-23-4-23-3-26-1-22-1-24 2-23 3-18 4-9 4 6 1 42 0 28 1 36 3 36 6 74 17 46 14 10 1 16-1 8 1 38 14 12 3 8 1 16 0 10 1 48 15 44 6 46 13 36 5 50 14 40 6 42 11 46 8 40 11 44 8 44 11 40 7 46 12 38 7 48 11 34 7 50 12 50 9 30 8 36 8 18 2zM1400 235l7 1 0-19-36-7-46-11-46-9-38-9-46-9-42-11-42-8-44-11-38-6-51-13-35-6-52-13-36-6-44-12-46-8-44-12-34-4-54-15-38-5-48-15-10-1-18 0-8-1-40-14-10-3-8-1-16 1-8-1-20-6 0-2-79 0 0 2 41 9 44 14 8 1 16-1 8 1 10 2 28 11 14 4 8 1 18 0 8 1 48 15 40 5 52 15 36 4 44 13 46 7 42 12 40 6 48 13 36 6 50 12 36 7 50 12 38 7 46 11 40 8 44 10 42 8 48 12zM1396 191l11 2 0-19-18-4-48-11-36-7-48-11-38-8-46-11-44-8-40-10-46-9-40-10-42-8-48-12-36-6-52-13-38-6-44-13-38-5-52-14-10-2-26-3-10-2 0-2-94 0 0 2 10 2 8 1 14 0 8 1 48 15 38 5 54 14 38 6 42 12 42 6 48 13 36 6 50 12 40 7 40 11 46 8 42 11 46 9 40 9 44 9 42 10 40 8 46 11zM1402 149l5 1 0-20-40-9-44-9-48-11-36-7-50-12-34-6-53-13-37-7-44-11-44-8-42-11-38-6-52-14-36-5-1-2-88 0 0 2 33 5 42 12 36 5 54 14 36 6 42 11 46 8 42 11 40 7 48 12 36 7 52 12 36 7 47 11 39 8zM1401 105l6 1 0-20-66-13-40-10-46-9-42-10-42-8-46-12-36-6-52-13-24-4 0-2-88 0 0 2 24 4 36 10 40 7 50 13 34 5 52 13 38 7 40 10 50 10 36 9 48 9zM1401 61l6 1 0-20-38-7-52-12-42-8-34-9-26-5 0-2-87 0 0 2 43 11 52 10 38 9 38 8 52 12zM1400 17l7 1 0-19-80 0 0 2 44 11z"/>
<path fill="#69b638" d="M-1 351l11 0-1-24-2-14-2-10-2-4-2-2-2 0zM31 351l20 0-1-22-1-16-4-12-2-3-2-2-2 1-2 2-2 5-2 7-1 16zM72 351l20 0-1-24-2-17-4-12-2-3-2 0-2 1-2 4-3 11-1 16zM113 351l20 0-1-24-3-26-2-6-2-2-2 0-3 2-2 4-2 6-2 18zM154 351l20 0-1-22 1-18-3-6-4-3-4 0-2 1-3 4-2 6-1 10zM194 351l20 0-3-16 0-6 4-6 4-4 4-2 2 0 4 4 4 6 3 6 1 6-2 12 18 0 0-10 4-14 0-6-5-6-3-3-4-2-8 0-12 3-2-1-8-7-6-3-6-1-4 0-5 4-1 4 0 4 3 10 2 6-3 16zM276 351l17 0 3-22-1-4-2-4-6-6-4 0-4 2-4 4-2 4 0 4 2 14zM315 351l20 0 1-10-1-6-4-8-4-4-2-1-2 0-4 1-4 3-2 4-1 5zM354 351l21 0-1-10-3-12-1-4 2-4 7-10 1-2 0-2-3-4-8-5-6-2-18-4-14-6-8-2-8-1-12 2-6-1-26-7-24-9-10-2-27-3-9 0-11 2-9 4 1 2 16 6 7 1 12 1 8 1 22 9 20 5 16 7 4 0 12-5 4-1 6 2 12 8 4 2 4 1 12-1 6 1 4 3 5 4 3 4 1 4 0 4-6 14zM394 351l20 0-3-16 0-6 3-4 3-3 6-4 2 0 2 1 4 5 5 9 1 8-2 10 18 0 0-12 4-14-1-6-5-5-6-3-6-1-12 3-2 0-12-9-6-3-6-1-6 2-4 3-2 2 0 2 8 14 2 6-1 4-3 12zM476 351l17 0 1-6 3-12-1-6-2-4-3-4-6-4-4 0-4 3-3 3-1 4 0 4 3 14zM515 351l20 0 1-10-1-6-4-7-4-4-4-1-4 1-4 4-2 3 0 6zM554 351l21 0-1-10-4-14-1-4 2-4 4-4 8-6 2 0 2 2 4 4 5 6 3 6 0 6-4 11-1 7 20 0-3-16 0-4 4-7 9-7 0-2-9-9-6-3-4-2-8 0-12 5-16-9-6-1-16-2-17-7-7-2-20-2-32-5-26-10-12-3-32-3-10-1-38-13-14-4-8 0-14 1-8-1-36-13-18-5-24-3-26-2-16 2-7 2-3 2 0 2 7 2 41 7 20 5 46 15 8 1 16-1 8 1 12 3 26 10 10 2 26 4 22 2 8 2 16 8 6 1 16 2 16 6 4 0 12-3 6 1 6 3 12 8 4 1 14-2 6 1 4 2 5 5 3 4 2 4-1 4-6 12zM635 351l18 0 0-12 4-12 0-4-1-4-3-4-4-3-4-1-4-1-6 2-7 3-2 2 7 10 3 8 1 6zM676 351l17 0 1-6 3-12 0-4-2-4-2-4-4-4-4-2-4 1-4 2-3 3-2 4 0 4 4 14zM715 351l20 0 1-10-1-6-4-8-4-3-4-1-4 1-3 3-3 4 0 6zM754 351l21 0-1-10-6-16 0-2 2-4 5-4 4-3 4-1 4 1 4 4 4 5 3 6 1 6-4 11-1 7 20 0-3-16 0-4 2-4 9-10 0-2-3-4-4-4-6-4-4-1-8-1-12 3-16-8-6-1-12 0-6-1-14-6-8-2-18-3-18-4-20-2-24-8-28-6-28-4-30-9-24-6-10-1-16-1-8-2-46-14-10-1-20-2-10-1-14-4-36-12-10-1-16 1-8-1-36-13-19-5-39-6-20-2-10 1-12 1-7 2-4 2 2 2 9 2 30 5 40 8 52 17 8 1 16-1 6 0 10 3 26 10 16 4 10 2 20 1 10 2 46 14 34 3 24 6 26 9 24 2 32 7 24 8 20 2 18 6 14-1 6 1 6 3 14 8 4 1 12-3 6 0 4 2 6 6 3 4 1 4-7 16zM835 351l18 0 0-12 4-14 0-4-4-6-4-3-4-2-4 0-6 2-5 3-1 2 0 2 5 10 2 6 1 6zM876 351l17 0 1-6 3-12 0-4-2-4-3-4-3-3-4-2-4 0-4 2-5 5 0 4 3 14zM915 351l20 0 1-10-1-6-4-8-4-4-2 0-4 0-4 3-3 5-1 6zM954 351l21 0 0-6-1-6-7-14 0-2 1-2 5-5 6-3 4-1 4 1 4 3 4 5 3 6 1 6-4 11-1 7 20 0-3-18 2-6 8-10-1-4-7-7-8-4-6 0-14 1-18-8-6-1-12 1-4 0-14-6-8-3-18-3-20-5-20-2-22-6-28-7-34-6-50-13-42-7-44-12-38-5-50-14-10-2-24-2-40-12-16-4-10-1-18-1-8-2-48-16-10-1-14 2-8-1-38-13-20-5-42-8-24-2-14 0-15 1-9 2-3 2 4 2 39 7 54 11 52 17 8 1 16-2 8 1 36 13 12 3 10 2 18 1 10 2 52 15 8 1 18 1 10 2 48 13 12 3 26 3 52 14 32 4 52 14 24 3 19 5 17 3 22 8 22 1 18 7 18 0 6 2 16 10 4 0 12-4 6 0 4 3 5 4 5 6 2 4-8 14-1 6zM1036 351l17 0 0-12 5-14-1-4-4-7-4-2-4-2-4 0-4 1-4 2-4 4 1 4 4 8 2 6 1 6zM1076 351l17 0 1-6 2-10 0-6-1-4-3-4-3-3-4-1-4-1-4 2-4 3-2 4 1 4 4 14zM1115 351l20 0 1-10-2-8-5-8-4-3-2 0-4 2-5 7-1 6zM1154 351l21 0 0-8-2-6-8-14 10-8 8-3 4 1 4 3 4 5 3 6 1 6-4 12-1 6 20 0-3-18 2-6 7-10 0-4-7-6-8-4-6-1-14 1-18-8-6-1-16 1-18-7-22-4-18-6-24-3-56-14-30-5-54-13-40-7-50-13-36-6-48-12-40-7-44-12-42-6-44-13-10-2-18-1-10-2-52-15-12-2-16 0-8-1-50-17-8-1-16 1-8 0-40-14-18-5-50-9-24-3-18 0-18 1-11 2-2 2 6 2 43 7 62 14 16 4 38 13 8 1 16-2 8 1 48 16 10 2 18 1 8 1 56 16 34 3 44 13 44 7 46 13 36 5 48 13 42 7 42 11 16 3 26 4 58 15 24 3 18 5 22 5 18 6 20 0 20 8 20 1 6 2 14 9 4-1 12-3 6 0 8 6 10 11-6 6-4 7-1 7zM1236 351l17 0 0-12 5-14 0-4-5-7-4-3-4-1-4 0-4 1-4 2-3 4 1 4 4 9 2 5 0 6zM1276 351l17 0 1-6 2-10 0-6-1-4-4-4-2-2-4-2-4 0-4 1-4 3-2 4 1 4 4 14zM1315 351l20 0 1-12-2-6-5-8-4-3-2 0-4 2-3 3-2 4-1 6zM1354 351l21 0 0-6-2-8-4-7-4-5-2 1-2 2-6 8-1 7zM1394 351l13 0 0-48-8 0-10 1-4 0-14-7-6-2-20-1-18-6-22-4-20-6-24-3-34-8-22-6-50-10-40-10-46-8-38-10-46-9-42-10-42-8-44-11-40-7-49-13-35-5-52-14-38-5-42-13-42-6-52-15-8-1-18 0-8-1-10-3-30-11-10-3-10-1-14 1-8-1-40-13-20-5-50-10-29-4-35-1-13 1-8 2 0 2 7 2 52 9 70 16 48 15 10 1 16-1 8 1 38 13 12 4 8 1 18 0 8 1 46 14 16 3 22 2 10 2 43 13 37 5 50 14 38 5 50 13 36 6 48 13 40 7 44 11 42 7 36 10 54 10 26 7 32 7 24 4 22 6 20 4 18 5 20 1 20 8 20 1 6 2 10 7 4 1 4 0 12-4 4 0 4 2 4 3 12 11 2 0 12-8 6 0 4 2 4 4 4 6 2 4 0 4-4 12zM1402 279l5 1 0-19-58-11-46-11-38-7-44-11-40-8-50-12-38-7-46-11-38-7-46-12-40-7-46-11-44-8-42-12-40-6-50-13-34-5-48-13-44-7-48-14-10-2-16 1-8-2-38-13-12-3-10-2-14 2-8-1-50-16-62-13-24-4-22-2-24-1-21 1-7 2 2 2 8 2 54 9 78 18 50 16 10 1 16-1 8 1 38 13 12 4 10 1 16 0 8 1 36 11 14 4 42 6 46 13 36 5 50 13 40 6 42 12 46 8 42 11 42 7 42 11 40 7 50 13 38 7 46 11 38 7 46 11 54 11 28 7 54 10zM165 275l2 0 5-2 2-2-6 0-3 2zM1397 233l10 2 0-17-34-6-44-11-48-9-38-10-44-8-43-11-41-8-48-11-34-6-52-13-38-7-52-13-34-5-46-13-44-7-44-12-34-5-52-14-12-2-28-3-48-15-10-2-16 1-10-2-40-14-12-3-8-1-14 1-8 0-10-3-15-5 0-2-72 0 0 2 37 8 42 13 10 2 16-2 8 1 38 14 12 3 10 2 16-1 8 1 48 15 40 6 52 14 36 5 44 12 46 8 42 11 40 7 48 12 36 6 51 13 37 6 46 12 40 7 44 11 44 9 40 9 44 9 46 11zM1403 191l4 0 0-16-16-3-46-11-38-7-53-13-37-7-45-11-39-7-43-11-47-9-40-10-42-8-46-12-38-6-51-13-37-6-44-12-38-5-54-15-36-5-13-3 0-2-88 0 0 2 7 1 22 0 8 2 34 11 14 4 28 3 10 1 52 15 36 5 44 12 42 7 50 13 34 5 51 13 39 7 44 11 42 8 41 10 47 9 40 10 42 8 46 11 36 7 48 11zM1398 147l9 1 0-17-44-10-38-7-46-11-38-7-52-13-32-6-51-12-39-7-43-11-47-9-40-10-38-7-54-14-36-5-5-1 0-2-76 0 0 2 23 3 42 12 38 6 50 13 40 7 42 11 44 8 42 10 38 7 52 13 36 6 48 12 38 7 45 11 45 9zM1397 103l10 2 0-18-66-13-40-10-44-8-42-11-40-7-52-13-32-5-52-13-34-6 0-2-72 0 0 2 16 3 34 10 38 6 52 13 38 7 46 11 40 8 42 10 46 9 37 9 47 9zM1398 59l9 2 0-18-38-7-48-11-44-9-37-9-31-6 0-2-76 0 0 2 40 10 46 9 42 10 40 8 47 11zM1395 15l12 2 0-18-75 0 0 2 41 10z"/>
<path fill="#69b63c" d="M-1 351l11 0-1-20-2-14-2-7-2-4-2-2-2 0zM31 351l20 0-1-20-2-14-3-10-2-3-2-1-2 1-2 2-3 9-2 14zM72 351l20 0-1-20-2-14-2-8-2-4-2-2-2 0-2 1-2 4-2 7-2 16zM113 351l20 0-1-20-2-14-3-12-2-4-2-1-2 2-2 2-3 11-2 14zM154 351l20 0-1-22 0-16-2-5-4-3-4 0-2 1-2 3-2 5-2 11zM194 351l20 0-3-16 0-6 2-5 8-9 0-2-6-6-8-5-4 0-4 1-3 2-2 4 0 4 4 12 0 4-3 15zM236 351l17 0 0-10 4-14 0-4-2-4-3-4-5-3-4-2-9 1-4 2-3 2 0 2 7 12 3 6 0 6zM276 351l17 0 3-22-3-7-6-6-4 0-4 2-3 3-2 4-1 4 3 14zM315 351l20 0 1-10-1-6-4-7-4-4-2-1-2 0-4 1-4 3-2 4 0 6zM354 351l21 0-1-10-5-16 2-4 7-10 0-4-2-4-6-4-7-3-16-2-16-7-8-2-6-1-12 3-6 0-28-9-22-8-10-3-34-2-8 1-4 3 0 2 3 2 4 2 7 2 16 1 22 10 22 5 16 6 5 0 11-5 4-1 6 3 10 7 6 3 4 1 12-1 6 2 4 2 5 5 3 4 2 4 0 4-6 12-1 4zM394 351l20 0 0-4-4-12 0-4 3-6 9-8 1-2-3-4-5-5-6-3-4-2-4 0-5 2-3 2-2 4 1 4 6 10 2 6-1 4-4 11zM436 351l17 0 0-10 4-14 0-4-4-6-4-4-4-2-4 0-6 1-7 3-1 2 7 12 2 6 1 6zM476 351l17 0 1-6 2-12 0-4-1-4-3-4-3-3-4-2-2 0-4 1-4 4-2 4 0 4 3 14zM515 351l20 0 0-10-1-6-3-7-2-2-4-2-2-1-4 2-3 2-2 4-1 6zM554 351l21 0-1-10-5-14-1-4 2-4 8-8 2-4-3-4-8-5-6-1-16-2-16-7-8-2-22-1-14-4-18-3-22-8-10-3-32-3-12-2-34-11-16-5-10-1-14 1-8 0-34-13-22-6-18-2-22-1-12 1-6 2 1 2 5 2 46 11 42 14 8 1 16 0 8 0 16 5 30 10 29 5 21 1 8 3 20 8 20 3 16 6 6-1 10-2 6 1 6 3 12 8 4 1 14-2 6 1 4 2 4 4 5 6 2 4-7 16zM594 351l20 0 0-4-4-12 0-4 2-4 9-10 0-2-2-4-5-4-5-3-4-2-4 0-6 1-4 2-2 2-1 2 1 2 9 12 2 6-1 4-4 12zM636 351l17 0 0-12 3-12 0-4-1-4-2-3-4-3-4-1-4-1-4 1-6 3-2 2 1 4 4 8 3 6 0 6zM676 351l17 0 1-6 2-12 0-4-1-4-3-4-3-3-4-2-4 0-4 3-2 2-2 4 0 4 3 14zM715 351l20 0 0-10-1-6-3-7-4-4-2 0-4 0-4 3-3 4-1 6zM754 351l21 0 0-6-1-6-8-16 7-8 10-8 1 0-1 0-7-6-8-4-7-1-14 0-16-7-8-2-20-3-16-4-18-2-26-8-28-6-28-3-31-10-23-6-10-1-14-1-8-1-34-11-14-4-38-4-12-3-28-10-12-3-10-1-14 2-8-2-36-13-18-4-22-4-28-3-16 1-6 2 1 2 5 2 54 13 48 16 10 1 14-2 8 1 32 11 20 6 10 2 18 0 8 1 14 4 34 11 10 2 16 0 8 2 26 7 26 8 24 2 30 6 26 9 20 2 18 6 18-1 6 2 16 10 6 0 10-2 6 0 4 2 5 5 6 6 2 4-5 7-4 7-1 6zM794 351l20 0-4-16 1-4 1-4 7-8 1-4-2-4-5-4-4-3-6-2-9 1-9 4 1 2 10 12 4 8-1 4-4 12zM836 351l17 0 0-12 3-12 1-4-2-4-2-3-4-3-4-2-4 0-4 1-5 3-1 2 0 4 4 10 2 6zM876 351l17 0 1-6 2-10 0-6-2-4-3-4-2-2-4-2-4 0-4 2-3 2-2 4 1 4 3 14zM915 351l20 0 0-10-1-6-3-7-4-4-2 0-4 0-4 3-3 4-1 6zM954 351l21 0 0-6-2-7-4-8-4-5-2 1-2 2-5 7-2 6zM994 351l20 0-4-16 1-4 1-4 6-8 1-4 0-2-4-4-6-4-4-2-8 0-12 3-11-7-7-3-6 0-12 1-4-1-14-6-8-3-18-2-20-6-20-2-28-8-28-6-30-5-48-13-38-6-48-13-36-5-50-14-10-2-24-1-41-13-17-4-26-2-8-1-48-16-10-1-16 1-6 0-38-14-20-5-36-6-20-2-18 0-8 2 2 2 5 2 67 16 46 15 10 2 14-2 8 0 34 13 14 4 10 2 20 1 8 1 52 15 10 2 18 1 8 1 48 14 14 3 26 3 48 13 11 2 23 3 54 14 24 3 18 5 16 3 24 8 20 0 20 7 14 1 6 0 6 3 10 7 4 1 4 0 12-3 4-1 6 3 14 13 2 0 14-10 4 0 4 3 5 6 4 6 1 4 0 4-4 12zM1036 351l17 0-1-12 4-12 1-6-5-6-3-3-4-1-4 0-4 1-4 3-2 2 0 4 5 10 1 6zM1076 351l17 0 1-6 2-10 0-6-2-4-3-4-6-4-4 0-4 2-3 2-2 4 0 4 4 14zM1115 351l20 0 0-10 0-6-4-7-4-4-2-1-4 1-4 3-3 4-1 6zM1154 351l21 0 0-6-2-7-4-8-4-3-4 1-4 5-2 4-1 6zM1194 351l20 0-4-16 1-4 1-4 6-8 1-4-1-2-3-4-6-4-4-1-6-1-14 2-12-6-8-3-6-1-10 2-4-1-18-7-20-4-20-6-24-2-18-5-38-10-28-4-56-14-36-6-50-13-40-7-44-11-42-7-46-13-40-6-46-13-34-4-54-16-12-2-16 0-8-1-10-2-26-10-14-4-10-2-16 2-6 0-38-14-20-5-49-9-15-2-20 0-9 2 1 2 5 2 79 19 46 15 10 1 16-2 6 1 38 14 12 4 10 1 18 0 8 1 54 16 10 2 24 2 46 13 42 7 44 12 38 6 48 12 42 7 40 11 20 4 24 4 58 14 24 3 22 7 18 3 20 6 20 1 4 1 16 7 20 1 6 2 10 6 4 2 4 0 12-4 4 0 6 3 12 11 2 1 4-1 10-6 4-2 2 0 4 3 4 4 5 8 1 4 0 4-4 12zM1236 351l17 0-1-12 5-14 0-4-4-6-4-3-4-1-4 0-4 1-4 3-2 2 1 4 4 10 1 6zM1276 351l17 0 1-6 2-10 0-6-2-4-3-4-6-3-4 0-4 1-2 2-3 4 0 4 4 14zM1315 351l20 0 0-10 0-6-4-7-4-4-2-1-4 1-4 3-3 4-1 6zM1354 351l21 0 0-6-2-7-4-7-4-4-2 1-4 3-4 6-1 6zM1394 351l13 0 0-47-8 0-14 2-12-7-8-3-6-1-14 1-18-7-20-3-22-7-22-3-16-4-20-4-22-6-52-10-36-9-46-9-38-10-46-8-42-11-42-7-46-12-36-6-50-13-36-5-54-15-36-5-44-13-40-5-52-15-10-2-16 0-8-1-10-3-28-10-14-4-8-1-16 2-6-1-48-16-72-14-26-2-10 1-7 1 1 2 5 2 93 23 44 14 10 1 14-2 8 1 36 13 14 4 10 2 16-1 8 1 37 12 15 4 12 2 28 3 46 14 36 4 52 15 36 5 50 13 36 6 47 12 41 7 43 11 47 9 36 9 50 9 26 7 36 8 22 3 20 6 22 4 16 5 22 2 20 8 6 0 10 0 6 1 18 10 4 0 12-4 4 0 6 3 10 9 4 3 4-1 12-7 4-1 4 3 4 4 5 8 1 4 0 4-4 12zM1400 277l7 2 0-17-56-10-44-11-40-8-42-10-46-9-45-11-39-7-44-11-40-7-51-13-39-7-42-11-42-7-44-12-38-6-52-14-10-2-24-2-48-14-42-6-50-15-10-1-16 0-6 0-12-4-30-11-12-3-10-1-14 2-6-1-48-16-73-15-15-2-16-1-14 0-9 1 0 2 6 2 62 16 41 9 44 14 12 2 14-2 6 0 8 2 33 13 11 3 10 2 16-1 8 1 48 15 10 2 24 2 12 3 46 13 10 2 18 1 8 1 49 14 37 5 46 13 44 7 40 11 42 7 46 12 42 8 45 11 39 7 45 11 39 7 46 12 54 10 28 7 56 11zM1402 233l5 1 0-15-30-5-44-11-48-9-43-11-39-7-46-12-38-6-50-13-38-7-50-12-36-6-50-13-40-7-41-11-45-7-44-13-36-4-50-15-12-2-20-2-10-1-48-15-10-1-16 0-8-1-36-13-14-4-10-2-16 2-8-1-27-9 0-2-65 0 0 2 30 7 42 13 10 1 16-2 8 1 37 14 13 4 10 2 16-1 8 1 37 12 13 3 10 2 20 2 10 2 50 14 10 1 26 3 45 13 45 7 42 12 38 6 51 13 35 6 49 12 39 7 44 11 42 8 42 10 46 9 46 11 38 7 45 11zM1399 189l8 1 0-14-14-2-53-13-31-6-51-12-39-7-43-11-41-7-41-11-49-9-42-11-40-7-50-13-34-5-49-13-41-6-42-13-36-4-54-15-12-2-26-3-17-5 0-2-55 0 0 2 10 2 27 10 15 4 10 2 18 1 10 2 52 14 38 5 42 13 40 6 50 13 36 5 49 13 41 7 42 11 46 8 38 10 46 9 45 11 37 7 46 11 38 7 46 11zM1404 147l3 0 0-14-41-10-37-7-52-12-32-6-53-13-37-7-46-11-40-7-42-11-48-9-41-11-39-6-52-14-36-5-11-3 0-2-61 0 0 2 16 3 36 11 38 5 48 13 42 7 41 11 47 8 42 11 36 7 50 12 38 7 46 11 40 7 43 11 47 9zM1402 103l5 1 0-16-62-12-38-9-54-11-36-9-38-7-52-13-34-6-56-14-34-5-3-1 0-2-61 0 0 2 42 11 38 7 50 12 40 7 43 11 47 9 36 9 48 9 36 9 54 11zM1403 59l4 1 0-16-36-6-46-11-46-9-36-9-41-8 0-2-64 0 0 2 31 8 48 9 44 11 38 7 46 11 36 7zM1403 15l4 0 0-13-5-1 0-2-65 0 0 2 16 4 27 6zM522 1l14 0 0-2-14 0z"/>
<path fill="#69b748" d="M-1 351l10 0 0-16-2-13-2-8-2-4-2-2-2 0zM31 351l20 0-2-20-2-12-2-7-2-3-2-1-2 1-2 2-3 8-2 14zM72 351l20 0-1-16-2-14-2-7-2-4-2-2-2 0-2 2-2 3-2 6-2 14zM113 351l20 0-1-18-2-12-3-10-2-3-2-1-2 0-2 3-3 9-2 14zM154 351l20 0-2-36-1-4-4-4-4 1-2 1-2 3-2 5-1 12zM194 351l20 0 0-4-4-14 0-4 2-4 6-8 1-4-5-6-7-4-4 0-4 1-2 2-2 3 0 6 3 10 1 4-4 16zM236 351l17 0-1-10 4-14 0-4-2-4-3-4-4-3-4-1-5 0-5 1-3 3-1 2 8 18 0 6zM276 351l17 0 2-22-2-6-2-3-4-3-2 0-4 1-4 3-3 4 0 6 2 12zM315 351l20 0 0-10-1-6-3-6-2-3-4-2-2-1-4 2-3 2-2 4-1 6zM354 351l21 0-1-10-6-16 1-4 7-10 1-4-1-2-4-4-5-2-6-2-16-3-14-6-6-2-10 0-4 1-4 2-1 2 2 2 10 8 5 3 6 2 10-1 6 1 6 3 8 8 3 4 0 4-7 14-1 6zM394 351l20 0-5-20 2-4 9-10 1-2-1-2-3-4-5-4-5-2-4-1-5 1-3 2-3 4 1 4 6 10 1 6-1 4-3 10zM436 351l17 0-1-10 4-14 0-4-3-6-4-3-4-2-4 0-6 1-4 2-2 2 1 2 5 11 2 5 0 6zM476 351l17 0 0-6 3-12 0-4-2-4-3-5-6-3-2 0-4 1-3 3-2 4 0 4 2 14zM515 351l19 0 1-10-1-6-3-6-2-2-4-3-2 0-4 1-5 6-1 6zM554 351l21 0 0-6-2-7-8-15 11-12 2-4-3-4-6-4-8-2-14 0-16-8-8-2-6-1-16 1-12-4-18-3-24-9-10-3-8-1-20-1-14-2-38-13-14-4-10-1-14 3-6-1-33-13-21-6-16-2-14-1-12 1-3 2 3 2 36 11 36 13 12 1 14-2 4 0 50 18 26 3 22 1 10 4 20 8 20 3 16 5 4 0 12-3 4 0 6 3 13 9 5 2 4 0 10-2 6 1 4 2 4 3 10 12-6 8-3 6-2 6zM594 351l20 0-1-4-3-12 0-4 1-4 7-8 2-4-2-4-5-4-8-4-6 0-4 1-4 3-1 2 2 4 6 10 2 6 0 4-5 12zM636 351l17 0-1-12 4-12 0-4-3-6-4-3-4-2-4 0-4 1-4 2-2 2 0 4 5 10 1 6zM676 351l17 0 0-6 3-12 0-4-2-4-3-4-6-4-4 0-3 2-3 3-1 3-1 4 3 14zM715 351l19 0 1-10-1-6-3-6-4-4-2-1-4 1-4 3-3 3-1 6zM754 351l21 0 0-6-2-7-4-8-4-4-2 0-2 2-6 9-1 6zM794 351l20 0-1-4-3-12 0-4 2-4 6-8 1-4-1-2-3-4-6-4-4-1-6-1-4 1-5 3-1 2 9 14 2 6 0 4-5 12zM836 351l17 0-1-12 4-12 0-4-3-6-4-3-4-2-4 0-4 1-3 2-2 2 0 2 5 18zM876 351l17 0 0-6 3-10 0-6-2-4-3-4-6-3-4 0-3 1-3 2-2 4 0 4 3 14zM915 351l19 0 1-10-1-6-3-6-4-4-2-1-4 1-4 3-2 3-1 6zM954 351l21 0 0-6-2-6-4-8-4-4-2 0-2 2-5 6-2 6zM994 351l20 0-1-4-3-12 0-4 2-4 5-8 1-4-1-2-3-4-5-3-4-2-4 0-6 0-6 3 0 2 9 14 2 6 0 4-5 12zM1036 351l17 0-1-12 4-12 0-4-1-4-2-2-4-4-4-1-4 0-4 1-3 2-2 4 6 18zM1076 351l17 0 0-6 3-10-1-6-2-4-2-3-6-4-4 0-4 2-3 3-1 2 0 4 3 14zM1115 351l19 0 1-10-1-6-3-6-4-4-2-1-4 1-4 3-2 3-1 6zM1154 351l21 0-1-8-2-6-3-6-4-3-2 0-2 1-4 5-2 3-1 6zM1195 351l19 0-1-4-3-12 0-4 1-4 6-8 0-4 0-2-4-4-4-3-4-1-6-1-5 1-4 2-2 2 10 14 2 6 0 4-5 12zM1236 351l17 0-1-12 4-12 0-4-1-4-2-2-4-4-4-1-4 0-4 1-3 2-2 4 6 18zM1276 351l17 0 0-6 2-10 0-6-4-7-6-3-4 0-4 1-3 3-1 2 0 4 3 14zM1315 351l19 0 1-10-1-6-3-6-4-4-2-1-4 1-4 3-2 3-1 6zM1354 351l21 0 0-6-2-6-2-4-4-5-2-1-2 0-2 1-4 4-3 7zM1395 351l12 0 0-46-11 0-5 2-2 2 0 2 9 12 2 6 0 4-5 12zM765 319l2 0 4-3 7-7 1-2-1-2-1-2-6-4-4-1-6-1-14 1-16-8-8-3-18-1-18-4-18-2-25-9-28-6-27-2-29-10-24-6-9-1-16-1-8-1-32-11-16-4-12-2-16 0-8-1-14-4-30-11-10-3-12-1-12 3-4 0-39-15-19-5-19-3-22-2-11 0-5 2 2 2 5 2 40 11 42 14 12 1 14-3 4 0 31 13 21 6 12 2 18 0 8 1 50 16 8 2 16 0 8 1 26 7 28 9 24 2 32 7 24 8 20 1 18 6 14 0 6 1 20 11 4 0 14-3 4 0 4 3 12 11zM963 317l2 1 2 0 7-5 5-4 1-2-1-2-4-4-8-4-8 0-12 2-4-1-11-7-9-3-18-2-20-5-18-2-26-8-32-7-28-4-47-13-37-5-52-15-32-3-54-16-10-1-22-1-39-13-15-4-12-2-18 0-8-1-36-13-14-4-12-1-14 3-2 0-36-14-22-6-50-7-12-1-6 2 2 2 10 4 44 11 44 15 12 1 14-3 4 0 35 14 15 5 12 2 18 0 6 0 12 4 44 13 10 2 16 0 8 1 34 11 16 4 12 2 26 3 30 9 16 4 12 2 26 3 54 15 26 3 18 5 16 3 22 8 6 0 14 0 6 2 14 5 18 1 6 2 12 7 4 2 6 0 14-5 4 2zM1165 317l4-1 9-5 2-2 1-2-1-2-7-5-8-3-8 0-8 2-2 2 14 14zM1362 315l3 2 4-1 9-5 2-2 1-2-1-2-5-4-9-4-9 0-9 2-1 2zM1127 307l4-1 8-3 4-2 0-2-8-6-8-3-22-4-18-5-24-3-17-5-39-10-26-3-58-15-34-5-50-13-40-7-32-9-16-4-38-5-44-13-40-5-49-15-9-1-16-1-8-1-43-13-15-4-10-1-16 0-6 0-10-4-30-11-12-3-12-1-12 3-4 0-39-15-21-6-52-8-14-1-10 1 1 2 10 4 57 15 42 14 12 1 14-4 4 1 33 13 19 6 12 2 14-1 6 0 8 2 32 11 18 5 10 1 18 1 8 1 44 14 40 5 46 14 40 5 50 14 36 5 40 11 19 4 31 5 26 7 30 7 24 3 20 6 22 4 18 6 16 0 6 1 18 7 20 1 6 3 10 6zM1321 305l6 1 4 0 11-5 1-2-5-4-9-4-8-2-14-2-20-6-24-3-18-5-16-3-25-7-23-4-32-7-28-7-48-9-43-11-41-7-42-11-40-7-49-13-35-5-52-14-34-5-52-14-11-2-19-1-8-2-44-13-10-2-18-1-10-2-54-16-10-1-18 0-6 0-36-14-14-4-12-2-6 1-8 3-4 0-36-14-24-7-62-11-18-1-4 1-1 2 3 2 12 4 21 6 39 10 44 13 12 2 4-1 10-3 4 0 36 15 16 5 10 2 18-2 6 1 35 12 17 5 12 2 28 2 34 11 14 4 32 3 54 15 36 5 48 13 38 6 45 12 43 7 42 11 48 9 34 9 52 10 32 8 32 7 20 2 22 7 20 4 18 5 6 1 16 0 20 8 20 1 6 3zM279 297l6 1 5-1 6-4 2-2 0-2-9-5-46-15-10-1-22-1-6 1-3 1-1 2 3 2 17 3 25 11 21 5zM1404 277l3 0 0-13-54-10-34-9-48-9-52-13-38-7-44-11-40-7-51-13-33-5-49-13-41-7-40-11-44-7-46-13-36-5-54-15-10-1-22-2-35-11-15-4-14-2-18-2-10-1-48-15-12-2-14 1-6 0-8-2-32-13-14-4-12-1-16 4-38-15-22-6-66-13-22-1-4 0-3 2 8 4 12 4 29 8 38 9 41 13 7 1 6 0 16-3 42 16 14 4 10 1 16-1 6 1 32 11 18 5 12 2 22 2 10 2 36 11 14 3 24 2 8 1 47 14 11 2 32 4 40 12 44 7 42 12 40 6 50 13 34 5 50 13 40 7 44 11 40 7 51 13 27 5 22 4 32 9 52 9zM1400 231l7 1 0-12-28-4-44-11-48-9-42-11-40-7-51-13-37-7-45-11-39-7-52-13-34-5-48-13-42-7-40-11-44-7-46-13-10-2-18-1-8-1-38-12-14-3-40-5-36-12-13-4-11-1-16 1-6-1-36-13-16-5-12-1-14 3-4 0-33-13 0-2-59 0 0 2 28 7 38 12 12 1 6-1 10-3 4 1 38 15 16 5 10 1 16-1 6 0 36 13 14 4 12 2 18 1 10 2 52 15 10 1 24 2 44 13 44 7 47 13 35 5 50 13 36 6 48 12 40 7 43 11 47 9 36 9 48 9 44 11 40 7 44 11zM1397 187l10 1 0-10-12-2-52-13-36-7-46-11-40-7-42-11-46-9-36-9-48-9-42-11-40-7-50-13-36-5-47-13-13-2-30-5-44-13-34-4-56-15-12-2-24-2-22-7 0-2-45 0 0 2 27 10 16 5 10 1 20 1 8 2 53 15 39 5 29 9 15 4 36 5 50 13 10 2 26 3 47 13 43 7 40 11 48 9 44 11 40 7 43 11 39 7 45 11 39 7 53 13zM1401 145l6 1 0-12-38-9-38-7-53-13-31-5-51-13-39-7-53-13-33-5-40-11-50-9-40-11-40-7-50-13-10-2-28-3-16-5 0-2-50 0 0 2 42 12 10 2 26 3 56 15 36 5 39 11 49 9 43 11 39 7 45 11 39 7 44 11 42 8 42 10 48 9zM1399 101l8 1 0-12-60-12-35-9-49-9-50-13-32-5-50-13-40-7-52-13-34-5-10-3 0-2-50 0 0 2 36 10 34 5 54 14 38 6 42 11 48 9 35 9 49 9 43 11 39 7zM1400 57l7 1 0-12-36-6-42-11-50-9-41-11-41-7-2-1 0-2-52 0 0 2 22 6 50 9 42 11 38 7 54 13 30 5zM1400 13l7 1 0-11-13-2 0-2-53 0 0 2 8 2 28 6z"/>
<path fill="#6ab85b" d="M-1 351l10 0-2-26-2-7-2-4-2-2-2 0zM31 351l19 0-1-16-1-12-3-7-2-3-2-1-2 1-2 2-2 6-2 12zM72 351l20 0-1-14-2-12-2-7-2-4-2-2-2 0-2 2-3 7-2 12zM114 351l19 0-1-16-2-12-3-8-2-3-2-1-2 1-2 3-2 6-2 12zM155 351l19 0-3-34-1-4-3-3-4 0-2 2-3 5-2 12zM195 351l19 0-1-6-4-12 0-4 2-4 6-8 0-4-4-6-6-3-4 0-3 1-2 2-2 4 0 4 3 10 1 4-4 14zM236 351l17 0-1-10 4-14 0-4-2-4-3-3-4-3-4-1-4 0-4 1-4 2-1 2 1 4 5 10 2 6zM276 351l17 0 2-18 0-4-3-6-5-5-2 0-4 1-4 3-2 3-1 6 2 12zM315 351l19 0 1-10-1-6-3-6-6-5-2 0-4 1-2 2-3 4-1 6zM354 351l21 0-1-6-1-6-4-9-3-5 0-2 5-6 4-6 0-4-1-2-3-3-5-3-7-2-12-1-16-7-6-2-8 0-6 2-1 2 1 2 3 4 7 5 7 3 13-1 6 2 8 6 10 11-1 2-5 7-4 7-1 6zM395 351l19 0-1-5-4-15 1-4 7-8 2-4-1-2-2-4-5-3-4-2-4-1-4 1-4 3-1 2 0 4 6 12 1 4-1 4-4 10zM436 351l17 0-1-10 3-14 0-4-3-6-3-2-4-2-4-1-4 1-4 2-2 2 0 4 5 10 1 6zM476 351l17 0 0-6 2-12 0-4-1-4-3-4-2-2-4-1-4 0-2 1-2 2-2 4-1 4 2 14zM515 351l19 0 1-8-1-6-3-7-4-4-4-1-2 0-4 3-2 3-1 6zM554 351l21 0-1-8-2-6-3-7-4-4-2 1-2 2-5 8-2 6zM595 351l19 0-1-4-4-12 0-4 1-4 7-8 1-4 0-2-4-4-5-4-4-1-4 0-4 0-4 3-1 2 1 4 7 12 1 4 0 4-6 12zM636 351l17 0-1-12 3-12 0-4-3-6-3-2-4-2-4 0-4 1-4 3-1 2 6 18zM676 351l17 0 0-6 3-12-1-4-1-4-3-3-6-4-4 0-2 1-3 2-2 4 0 4 2 12zM715 351l19 0 1-8-1-6-3-7-4-4-2-1-4 1-4 2-2 3-1 6zM754 351l21 0-1-8-2-6-3-6-4-3-2 0-2 1-5 8-2 6zM795 351l19 0-1-5-4-11 0-4 2-4 6-8 0-4 0-2-4-4-4-3-4-1-4-1-6 1-3 2-1 2 1 4 8 12 1 4 0 4-6 12zM836 351l17 0-1-12 3-12 0-4-3-6-3-2-4-2-4 0-4 1-3 3-1 2 0 4 3 8 2 6zM876 351l17 0 0-6 2-10 0-6-4-7-6-4-6 1-3 2-2 4 0 4 2 14zM915 351l19 0 1-10-1-6-3-5-4-4-2-1-4 1-4 3-2 3-1 5zM954 351l21 0-1-8-2-6-3-5-4-3-4 1-5 7-2 6zM995 351l19 0-1-5-4-11 0-4 2-4 5-8 1-4-2-3-2-3-8-4-8 0-5 2-1 2 1 4 7 10 2 6 0 4-5 12zM1036 351l17 0-1-12 3-12 0-4-3-6-3-3-4-1-4 0-4 1-3 3-1 2 1 4 4 14zM1077 351l16 0 0-6 2-10 0-6-4-6-6-4-6 1-2 1-3 4 0 4 2 12zM1115 351l19 0 1-10-1-6-3-5-4-4-2-1-4 1-4 3-2 3-1 5zM1154 351l21 0-1-6-1-5-2-5-4-5-2-1-2 0-4 3-2 3-2 6zM1195 351l19 0-1-5-4-11 0-4 2-4 5-8 0-4-2-4-2-2-7-3-8 0-4 1-2 2 1 4 8 12 1 4 0 4-5 12zM1236 351l16 0-1-12 4-12 0-4-3-6-3-3-4-1-4 0-4 1-3 3 0 2 0 4 4 10 0 4zM1277 351l16 0 2-16 0-6-4-6-6-4-6 1-4 3-1 2 0 4 2 14zM1315 351l19 0 1-10-1-6-3-5-4-4-2-1-4 1-4 3-1 2-2 6zM1354 351l21 0-1-6-1-5-2-4-4-5-2-1-2 0-4 3-2 2-2 6zM1395 351l12 0 0-45-10 0-3 1-2 2 0 4 8 12 1 4 0 4-5 12zM565 319l2 0 2-2 4-4 2-4 0-4-2-2-4-3-8-2-14 0-16-8-10-3-10 1-4 1-1 2 12 10 7 4 6 1 12-2 4 0 4 2 12 12zM765 317l4-1 7-7 0-2-2-4-5-3-6-2-8 1-5 2 0 2 3 4 8 8zM963 315l2 1 2 0 5-3 5-4 0-2 0-2-4-4-6-2-6-1-6 1-3 2 0 2 4 6zM1164 315l3 0 2 0 6-4 3-4-1-2-4-4-6-3-6 0-6 1-3 2 0 2 1 2 6 6zM1365 315l4 0 6-4 2-2 1-2-1-2-4-4-6-3-6 0-7 1-2 2 1 4 6 6zM723 305l6 1 6-1 8-4 0-2-8-6-12-5-20-1-16-4-18-1-22-9-28-6-10-1-14-1-6 0-26-10-26-7-12-1-18 1-33-13-17-5-12-1-18 0-6-1-43-15-13-4-6-1-7 1-4 2-1 2 5 4 13 6 24 8 16 3 18-1 6 1 37 13 15 4 10 1 14-1 6 1 53 17 9 1 18 0 32 8 24 9 22 1 16 6 18-1 6 3zM923 305l4 1 6-1 7-4 0-2-1-2-6-4-10-4-18-1-20-6-18 0-17-7-9-3-33-7-19-1-6-1-31-10-21-5-32-4-51-15-11-2-22-1-56-17-10-1-20 1-32-12-21-6-15-2-20 1-39-15-15-5-6-1-6 0-6 2-2 2 1 2 3 2 12 6 15 6 13 4 12 1 16-1 6 0 39 14 17 5 12 1 16-1 4 0 29 11 21 6 14 2 20 1 8 2 27 9 15 4 16 3 24 2 23 7 33 9 26 2 16 5 20 4 20 7 6 1 12-1 4 0 18 8 18 0 6 2zM1124 305l3 1 4-1 7-4 1-2-4-4-10-5-20-2-14-5-8-2-18 1-17-7-21-5-19-5-27-3-55-15-35-5-47-13-11-2-24-3-8-1-31-10-16-4-39-5-42-13-12-2-30-3-48-15-12-2-16 1-4-1-37-12-21-6-8-1-8-1-10 2-2 2 31 12 27 8 12 1 20 0 30 11 14 4 12 2 30 3 50 15 32 3 53 15 37 5 47 13 13 2 26 4 29 8 33 8 22 1 20 7 24 5 16 5 8 1 14-2 13 7 7 3 6 1 10-1 4 1 4 1zM1320 303l5 2 4 0 5-2 3-2 1-2-1-2-2-2-10-4-6-1-12 0-17-7-7-2-18 0-18-6-18-4-22-6-24-3-34-8-25-7-49-9-42-11-42-7-40-11-42-7-48-13-36-5-54-15-32-3-35-11-15-4-14-2-18-1-8-1-33-12-13-3-12-2-16 0-8-1-42-14-14-4-14-1-6 1-4 2 2 2 4 2 14 6 28 9 16 2 26 2 33 11 13 4 12 2 16 0 8 1 50 15 12 2 18 1 8 1 46 14 14 3 26 2 44 13 44 7 40 11 50 9 33 9 53 9 32 9 34 7 20 2 22 8 22 3 18 6 6 0 10-1 4 0 13 7 7 3 6 1 14-1 4 2zM277 295l6 2 6-2 4-2 1-2-1-2-6-4-16-5-24-9-14-2-12 2 0 2 22 12 8 3 18 4zM478 293l5 2 6-1 8-3 1-2-3-2-6-2-22-5-24-10-12-2-22 0-12-2-36-13-15-4-7-1-6 0-5 1-3 2 0 2 7 4 35 13 16 3 32 1 8 2 22 11 8 2 14 0zM1402 275l5 1 0-11-22-3-30-6-43-11-41-7-40-11-48-9-43-11-41-7-33-9-17-4-34-5-47-13-43-7-40-11-44-7-44-13-11-2-17-1-10-2-52-15-12-2-16 0-8-1-38-13-20-4-20-1-10-2-40-13-12-3-12-1-10 2 0 2 12 6 21 8 15 4 12 2 24 1 14 4 27 9 16 4 29 1 32 11 15 4 17 3 24 2 42 13 10 2 36 5 47 13 35 5 49 13 35 5 49 13 41 7 43 11 41 7 51 13 31 5 52 13 52 9zM295 255l10-1 3-1 2-2-2-2-3-2-12-6-10-4-14-5-12-2-12-1-12 0-4 2 3 2 4 2 43 16 8 3zM1399 229l8 2 0-9-26-4-52-13-38-7-43-11-41-7-50-13-34-5-48-13-40-6-50-14-36-5-46-13-14-3-26-3-44-13-44-6-48-14-10-2-22 0-32-11-22-6-14-2-22-1-8-2-30-11-14-4-8-1-6 0-7 1-2 2 1 2 13 6 16 6 13 4 12 2 26 1 56 17 12 2 16 0 6 0 28 10 16 5 44 6 45 13 37 5 48 13 12 2 26 3 46 13 14 3 30 4 40 11 44 7 39 11 49 9 44 11 40 7 43 11 39 7zM310 215l9 1 6-1 5-2 0-2-6-4-13-6-24-8-24-4-16-1-8 1 1 2 5 2zM1396 185l11 1 0-6-10-2-43-11-41-7-50-13-40-7-41-11-43-7-48-13-40-7-40-11-42-6-49-14-11-2-18-1-8-2-45-13-15-3-22-2-8-1-44-14-12-2-22-1-42-13-16-4-12-2-16 1-6-1-27-10 0-2-38 0 0 2 9 4 16 6 14 4 12 1 20 0 40 13 15 4 13 2 24 2 46 14 12 2 16 1 10 2 54 15 32 3 45 13 21 4 24 3 38 11 50 8 43 12 41 7 42 11 40 7 44 11 40 7 53 13zM327 175l8 2 6 0 7-2 2-2-1-2-3-2-12-6-15-6-14-4-14-3-28-3-15 0 0 2 5 2 36 11zM438 155l13 0 7-2 1-2-33-14-17-6-12-1-6 1-3 2 0 2 2 2 16 8 17 6zM1399 143l8 1 0-8-36-9-40-7-51-13-31-5-50-13-40-6-42-12-21-4-23-3-30-9-17-4-43-7-42-12-34-4-54-15-12-3-18 0-8-2-21-7 0-2-41 0 0 2 24 8 14 4 34 3 29 9 24 6 37 5 38 11 44 7 48 13 36 5 48 13 42 7 42 11 20 4 22 3 41 11 20 4 29 5 35 9zM352 137l7 1 6-1 4-2 1-2-5-4-13-6-16-6-15-4-54-8-7 0-2 2 8 4 39 11 33 11zM453 115l8 1 6 0 6-1 4-2-1-2-13-6-19-8-13-4-8-2-8 0-6 2-1 2 4 4 13 6 14 6zM1405 101l2 0 0-10-58-11-34-9-50-9-50-13-32-5-50-13-10-2-26-4-38-10-17-4-35-5-17-5 0-2-40 0 0 2 27 8 11 2 27 3 56 15 34 5 41 11 49 9 34 9 50 9 42 11 42 7zM369 97l12 1 6-1 2-2 0-2-2-2-8-4-20-8-13-4-57-10-14-1-4 0-3 1 2 2 11 4 48 13zM481 77l10-1 4-1 2-2-7-4-13-6-15-6-13-4-8-1-6 0-5 1-3 2 1 2 3 2 16 8 20 7zM386 57l9 2 6 0 6-2 2-2-1-2-3-2-13-6-16-6-13-4-66-12-10-1-7 1 0 2 4 2 11 4 50 13zM1399 55l8 2 0-10-34-5-42-11-48-9-42-11-50-9-3-1 0-2-40 0 0 2 15 4 50 9 41 11 41 7 52 13 32 5zM495 37l12 1 5-1 4-2 0-2-7-4-19-8-17-6-8-2-8-1-6 1-3 2-1 2 2 2 12 6 20 8zM412 19l11 0 5-2 0-2-1-2-8-4-19-8 0-2-51 0 0 2 20 5 28 9zM1400 11l7 1 0-7-8-1-12-3-1 0 0-2-39 0 0 2 8 2 20 4z"/>
<path fill="#6bb96e" d="M-1 351l10 0-1-12-1-12-3-8-3-4-2 0zM31 351l19 0-1-16-2-11-2-5-2-3-2-1-2 1-2 2-2 5-2 12zM73 351l18 0-2-23-2-7-2-4-2-2-2 0-2 2-3 6-2 12zM114 351l18 0-1-16-2-11-2-5-2-3-2-1-2 0-2 3-2 5-2 12zM155 351l19 0-4-32-1-4-2-2-2-1-2 1-2 1-3 7-2 12zM195 351l19 0-1-5-4-13 0-4 1-4 5-8 1-4-3-4-6-4-4 0-2 1-2 1-2 4 0 4 3 10 0 4-4 14zM236 351l17 0-1-10 3-14 0-4-2-4-2-2-4-3-4-2-7 1-3 2-1 2 0 4 4 10 2 6zM276 351l17 0 2-18-1-4-2-6-5-4-2 0-4 0-4 4-2 4 0 4 1 12zM315 351l19 0 1-10-1-6-4-6-5-4-2 0-4 1-2 1-3 4 0 6zM354 351l21 0-1-8-2-6-3-6-2-3-2-1-2 1-2 2-5 7-1 6zM395 351l19 0-1-6-5-12 0-4 2-4 6-6 1-4 0-2-3-4-7-4-4-1-4 1-3 2-1 2 0 4 6 12 1 4-6 14zM436 351l17 0-1-10 3-14 0-4-4-6-6-3-4-1-4 1-4 2-1 3 6 18zM476 351l17 0 0-6 2-12 0-4-2-4-2-3-2-2-4-2-4 1-2 1-3 3-1 3 0 5 1 12zM515 351l19 0 1-8-1-6-3-7-4-4-2 0-4 0-4 2-2 3-1 6zM554 351l21 0-1-8-2-6-3-6-4-3-2 0-2 2-5 7-1 6zM595 351l19 0-1-5-5-15 1-4 7-8 1-4-1-2-3-4-4-3-4-1-6 0-4 2-1 2 0 4 7 12 1 4 0 2-6 12zM636 351l16 0 0-12 2-12 0-4-3-6-6-3-4 0-4 1-3 2-1 2 1 4 4 14zM677 351l16 0 0-6 2-12 0-4-4-7-6-3-4 0-2 1-2 1-2 4-1 4 3 14zM715 351l19 0 1-8-1-6-3-7-4-3-2-1-4 0-4 3-2 3-1 5zM754 351l21 0-1-6-1-5-2-5-4-5-2-1-2 0-4 3-2 3-2 8zM795 351l19 0-1-4-5-16 2-4 5-8 1-4-1-3-3-3-7-4-4 0-4 1-2 1-2 2 1 4 8 16-1 4-5 12zM836 351l16 0-1-12 3-12 0-4-1-3-2-3-6-3-4 0-4 1-2 2-1 2 0 4 4 14zM877 351l16 0 0-6 2-10-1-6-3-6-6-4-4 0-2 1-2 1-2 4-1 4 3 14zM916 351l18 0 1-8-1-6-3-7-4-3-2-1-4 0-4 3-2 4-1 6zM954 351l21 0-2-11-2-4-4-5-2-1-2 0-4 3-2 2-2 6zM995 351l19 0-1-4-4-12-1-4 2-4 5-8 0-4-2-4-2-2-6-3-4 0-4 0-4 3 0 4 9 16 0 4-6 12zM1036 351l16 0-1-12 3-12 0-4-1-4-2-2-6-3-6 0-4 3 0 2 0 4 3 14zM1077 351l16 0 2-16-1-6-3-5-6-4-6 0-3 3-1 2-1 4 3 14zM1116 351l18 0 1-8-1-6-3-7-4-3-2-1-4 0-4 4-2 3-1 6zM1155 351l20 0-2-10-2-5-4-5-2-1-2 0-4 3-2 3-2 7zM1195 351l18 0 0-4-5-16 0-2 6-10 1-4-1-2-3-3-6-3-4-1-4 1-3 2-1 2 1 4 8 14 0 4-6 12zM1236 351l16 0-1-12 3-12 0-4-1-4-2-2-6-3-6 0-3 3-1 2 0 4 4 14zM1277 351l16 0 2-16-1-4-1-4-2-3-6-4-4 0-2 1-3 2-2 4 0 4 3 12zM1316 351l18 0 0-8 0-6-3-6-4-4-2-1-4 1-3 2-3 4 0 6zM1355 351l19 0-1-10-2-4-4-5-4-1-4 2-2 3-2 7zM1395 351l12 0 0-44-8 0-4 2-1 2 1 4 8 14-1 4-6 12zM363 319l2 1 2 0 4-4 3-5 0-4-1-2-5-4-7-2-14-2-14-6-8-3-8 0-2 1-2 2 0 2 3 4 5 4 4 2 6 1 12-1 4 1 6 5zM565 317l2 0 2-2 4-4 1-4-1-2-4-4-6-1-6 0-6 1-1 2 2 2 9 10zM764 315l3 0 5-4 2-4 0-2-5-4-4-1-6 0-4 1-2 2 2 4 6 6zM962 313l3 1 5-1 4-4 1-2 0-2-5-4-5-2-4 0-5 2-2 2 1 2 3 4zM1163 313l4 1 4-2 4-3 0-2 0-2-5-4-5-2-6 0-3 2-1 2 0 2 3 4zM1364 313l3 1 6-3 2-2 0-2 0-2-4-3-4-2-6-1-4 1-2 2 0 3 4 5zM528 305l5 0 6-2 4-2 0-2-8-6-10-4-8-1-4 1-2 2 0 2 1 2 5 4 6 4zM727 305l4 0 5-2 3-2 0-2-1-2-5-4-8-3-10-1-4 0-3 2 0 2 10 8 5 3zM921 303l6 2 4-1 5-3 1-2-3-4-9-4-8-1-9 1 0 2 2 2zM1122 303l5 1 4-1 4-2 0-2 0-2-2-2-4-2-6-2-11 0-3 2 7 6zM1324 303l5 0 4-2 1-2 0-2-5-3-6-2-6 0-5 1 0 2 5 4zM283 295l4-1 2-1 1-2 0-2-2-2-5-2-14-5-17-7-7-2-6-1-6 1-2 0-3 2 1 2 5 4 11 6 7 2 15 3zM1089 293l4 0 7-2-1-2-3-2-9-3-8-1-4 2 1 2 5 4zM1288 293l5 0 4-1 1-1 0-2-7-4-8-2-6 0-3 2 1 2 6 4zM477 291l6 2 4 0 4-2 1-2-2-2-5-2-12-1-6-2-14-7-12-4-8-1-6 0-4 1-1 2 12 8 11 5 8 2 16 0zM682 291l5 1 4 0 3-1 2-2-2-2-6-2-7-1-5 1-1 2zM882 291l5 1 4 0 7-1 1-2-8-4-4-1-6-1-6 2 1 2zM643 285l6 1 6 1 7-2 2-2-10-6-13-5-28-4-6 0-5 1 1 2 5 2 17 4zM845 285l8 0 5-2 0-2-7-4-12-4-30-6-8-1-5 1 0 2 8 4 21 5zM1040 283l7 1 4 0 3-1 1-2-6-4-6-2-16-3-17-5-11-1-4 0-3 1 2 2 8 4 7 2 18 3zM1238 281l9 2 4-1 2-1-2-2-4-2-20-3-19-7-13-2-5 2 7 4 8 3 6 1 14 1 6 2zM1402 273l5 1 0-7-14-2-4 1-1 1zM378 271l11 0 6-2-7-4-14-6-17-6-16-4-6 1-4 1 0 2 2 2 12 6 20 8zM570 269l7 0 6-2-1-2-6-4-10-4-14-4-21-4-7 0-4 2 2 2 9 4 29 10zM756 265l13 2 6-1 3-1-2-2-9-4-27-8-15-3-12 1 1 2 9 4zM963 265l9 0 1-2-9-4-35-10-18-2-4 0-1 2 20 8zM1161 263l10 0-4-2-14-3-27-9-15-2-14 0 29 10zM1328 257l11 1 6-1-9-4-14-4-24-4-9 0 24 8zM289 253l10 0 2 0 3-2 0-2-5-4-13-6-11-4-10-3-12-1-10 0-3 2 2 2 9 4 25 10zM476 249l13 2 4 0 5-2 0-2-7-4-14-6-13-4-9-2-8-1-8 1-2 2 3 2 8 4zM673 247l14 1 8-1-2-2-10-4-31-10-15-2-4 0-4 2 2 2 3 2 10 4 12 4zM869 245l12 1 7-1-14-6-27-8-18-3-8 0-5 1 9 4 18 6zM1068 243l13 0-4-1-26-9-16-4-15-2-13 0 35 12 9 2zM1245 239l14 1 2 0 2-1-16-6-26-6-14-2-2 0-1 2 18 6zM392 231l15 1 5-1 1-2-3-2-13-6-15-6-13-4-6-1-6 0-3 1-2 2 1 2 2 2 12 6 10 4zM589 229l10 1 9-1 0-2-4-2-34-12-15-3-6 0-6 1 0 2 3 2 8 4 18 6zM785 227l13 0 1-2-20-8-22-6-13-2-7 0-5 0-1 2 10 4 24 8zM1403 227l4 1 0-3-6 0zM986 225l8 0-3-2-5-2-32-10-19-3-8 0-4 1 16 6 19 6 11 2zM1162 221l13 1 4 0 1-1-16-6-23-6-16-2-10 0 16 6zM1358 219l11 0-10-4-21-6-15-3-6 0-4 1 11 4 13 4zM306 213l7 1 6 1 5-2 1-2-4-4-8-4-14-6-10-3-10-2-12-1-10 0-2 2 13 6zM503 211l12 1 3-1 2-2-6-4-9-4-25-8-11-2-6 0-4 0-4 2 2 2 4 2 10 4 16 6zM688 207l15 2 6-1 3-1-3-2-14-6-19-6-17-3-13 1 2 2 9 4 17 6zM884 205l17 2 4-1 2-1-22-8-21-6-17-2-7 0 0 2 20 8zM1078 203l11 1 7-1-15-6-21-6-11-2-16-2-3 0-1 2 24 8zM1275 201l11 0-16-6-22-6-12-2-11 0 3 2 18 6 16 4zM408 191l13 2 6-1 3-1 0-2-6-4-19-8-11-4-13-2-5 0-3 2 0 2 2 2 6 4 14 6zM604 189l13 1 9-1-1-2-9-4-28-10-15-2-5 0-4 2 2 2 3 2 9 4 11 4zM800 187l13 1 8-1-3-2-10-4-34-10-13-2-4 1-4 1 2 2 4 2 10 4 14 4zM995 185l16 0-3-2-16-6-22-6-17-2-8-1-5 1 29 10 15 4zM1193 183l10 0-4-2-18-6-23-6-15-1-2 0-2 1 16 6 14 4zM1372 179l11 1 4-1-16-6-17-4-15-2-8 0 17 6zM331 175l11 0 3-2 0-2-5-4-8-4-23-8-10-2-14-2-18 0 2 2 4 2 44 16zM520 171l13 1 8-1-1-2-7-4-29-10-19-4-6 0-4 2 1 2 3 2 9 4 17 6zM715 169l14 0 3 0 0-2-8-4-11-4-21-6-15-2-11 0 0 2 8 4 24 8zM899 165l20 2 4-1 1-1-21-8-16-4-20-3-8 0-3 1 28 10zM1110 165l8 0-2-2-5-2-34-10-14-2-13 0 8 4 19 6 18 4zM1288 161l11 1 5-1-10-4-21-6-23-4-8 0 3 2 12 4 22 6zM432 153l11 1 4-1 3-2-1-2-3-2-8-4-25-10-12-2-6 1-2 2 0 1 1 2 10 6 14 6zM632 151l7 0 5-2-2-2-8-4-22-8-15-3-6 0-7 1 0 2 4 2 19 8 13 4zM816 147l17 1 4 0 3-1-27-10-14-4-10-2-8 0-5 0-1 2 18 8zM1011 145l16 2 4-1 1-1-16-6-30-8-17-2-3 0-2 2 10 4 12 4zM1205 143l14 0-3-2-11-4-22-6-18-3-8 0-2 1 31 10zM1404 141l3 0 0-2-4-1-23-7-9-2-12-2-4 1-1 1 11 4 15 4zM348 135l11 1 4-1 2-2-1-2-3-2-7-4-15-6-13-4-13-2-28-3-6-1-2 2zM537 131l16 2 4-1 4-1-2-2-9-4-29-10-16-3-9 1 0 2 2 2 8 4 16 6zM733 129l14 1 8-1-3-2-10-4-32-10-15-2-4 0-4 2 2 2 4 2 10 4 12 4zM926 127l11 1 8-1-2-2-10-4-28-8-18-3-8 0-4 1 4 2 17 6zM1125 125l10 0-2-1-1-1-5-2-25-8-13-3-19-1 1 1 0 1 24 8 15 4zM1320 123l5 0-2-2-5-2-28-8-17-3-6 0-2 1 9 4 14 4 18 4zM449 113l8 2 6 0 6-2 1-2-6-4-8-4-21-8-8-2-6-1-6 1-2 2 0 2 3 2 7 4 13 6zM646 111l13 1 5-1 0-2-6-4-10-4-20-6-11-2-8 0-6 0-2 2 9 4 15 6zM843 109l11 0 3-2-19-8-23-6-16-2-6 1-2 1 33 12zM1045 107l8 0-2-1-1-1-6-2-31-10-16-3-12 1 3 2 10 4 19 6 10 2zM1221 103l16 2 2-1 1-1-17-6-24-6-12-2-11 0 2 2 12 4zM1405 99l2 0 0-6-22-4-8-1-4 1 17 6zM365 95l8 2 6 0 5-2 0-2-4-4-8-4-15-6-12-3-48-8-8 0-4 1 10 4 32 9zM566 93l9 0 4-2-2-2-14-6-26-9-8-1-6-1-5 1-2 2 1 2 3 2 19 8 14 4zM748 89l17 2 6-1 2-1-20-8-18-6-14-3-6 0-5 1-1 2 12 6 11 4zM944 87l19 2 2 0 2-2-17-6-28-8-15-2-7 0-1 1 0 1 3 2 11 4 13 4zM1137 85l12 1 6-1-15-6-22-6-23-4-4 0-2 1-1 1 25 8zM1336 83l5 0-1-2-5-2-19-6-11-2-18-2 1 2 17 6 16 4zM474 75l11 0 5-2-1-2-6-4-13-6-13-5-14-3-6 0-4 2 0 2 2 2 10 6 15 6zM677 73l6 0 4-2-2-2-4-2-10-4-27-8-17-2-4 0-4 2 8 4 22 8 14 4zM858 69l13 1 7-1-2-2-9-4-27-8-21-3-6 0-4 1 3 2 17 6zM1054 67l14 0-2-2-4-2-25-8-24-4-13 0 10 4 25 8zM1253 65l8 0-9-4-26-8-17-3-6 0-4 1 15 6 14 4zM390 57l10 0 4-2-1-2-5-4-8-4-23-8-57-10-11-1-4 1 3 2 11 4 34 9 32 11zM578 53l15 0 2 0 2-2-3-2-14-6-22-8-13-2-4 0-4 2 0 2 2 2 8 4 16 6zM1400 53l7 1 0-4-10-1-6 0zM775 51l12 0 2-2-18-8-18-6-16-2-4 0-4 2 6 4 15 6 14 4zM977 49l8 0-1-2-36-12-17-3-11 1 2 2 9 4 19 6 11 2zM1168 47l9 0-2-2-5-2-35-10-14-2-11 0 2 2 5 2 19 6 18 4zM1347 43l10 1 5-1-9-4-13-4-19-4-17-2 0 2 6 2 20 6zM490 35l13 1 6-1 1-2-5-4-8-4-14-6-12-4-12-1-6 1-1 2 4 4 8 4 14 6zM691 33l14 0 1 0 1-2-8-4-10-4-28-8-14-2-4 1-4 1 2 2 3 2 16 6 21 6zM889 31l10 0 1-2-16-6-27-8-14-3-12 1 1 2 4 2 16 6 24 6zM1069 27l14 2 4-1 2-1-14-6-22-6-22-4-9 0 0 2 11 4zM1264 25l13 0-3-2-5-2-18-6-23-4-12 0 29 10zM407 17l10 1 4-1 2-2-1-2-6-4-19-8 0-2-42 0 0 2 12 3zM594 13l13 2 8-2 0-2-3-2-18-8 0-2-32 0 0 2 8 4 10 4zM789 11l12 1 9-1-2-2-3-2-15-6 0-2-32 0 0 2 6 2zM985 9l8 1 8-1-1-2-15-6 0-2-30 0 0 2 6 2 14 4zM1185 7l10 0-15-6 0-2-27 0 0 2 7 2 9 2zM1378 5l6 0-2-2-5-2 0-2-22 0 0 2z"/>
<path fill="#6abb80" d="M-1 351l10 0-2-22-2-6-2-3-2-2-2 0zM32 351l18 0-1-14-2-11-2-5-2-2-2-1-2 0-2 3-2 5-2 11zM73 351l18 0-2-21-2-7-2-3-2-2-2 0-2 1-3 6-2 12zM114 351l18 0-1-14-2-11-2-5-2-3-2-1-2 1-2 3-2 5-2 10zM155 351l18 0 0-8-4-24-2-4-2-1-2 1-2 2-3 6-2 12zM195 351l19 0-1-5-5-13 0-4 1-4 5-8 0-4-2-4-5-2-5 0-3 2-1 2 0 4 3 10 0 4-5 14zM236 351l16 0 0-10 3-14 0-4-4-6-4-3-4-1-6 0-3 2-1 2 0 4 4 10 1 6zM277 351l16 0 1-18 0-4-3-6-4-3-2-1-4 1-3 3-2 4-1 4 2 12zM316 351l18 0 1-10-2-6-4-7-4-2-4 0-2 0-4 5-1 6zM355 351l19 0-1-11-2-5-4-5-2-1-2 0-4 4-2 4-2 6zM395 351l19 0-2-8-6-14 8-10 2-4 0-2-3-4-6-3-6-1-3 2-1 2-1 2 1 4 7 14-7 12-2 6zM436 351l16 0 0-10 2-14 0-4-3-5-6-4-4 0-4 1-3 2-1 2 1 4 4 14zM477 351l16 0 2-18-1-4-3-6-4-3-4-1-2 1-2 1-3 4-1 6 2 12zM516 351l18 0 1-8-1-6-3-6-4-4-2-1-4 0-4 3-2 3-1 5zM555 351l19 0-1-11-2-4-4-6-2-1-2 0-4 4-2 3-2 7zM595 351l18 0-1-8-6-12 2-4 7-8 1-4-1-2-3-4-7-3-6 0-4 3 0 2 1 4 8 14 0 2-7 11-2 5zM636 351l16 0-1-12 3-12 0-4-3-5-6-3-6 0-4 2-1 2 0 4 4 14zM677 351l16 0 0-6 2-10-1-6-3-6-2-2-4-1-4 0-2 1-2 2-2 4 2 16zM716 351l18 0 0-8 0-6-3-6-4-4-2 0-4 0-4 3-2 3-1 6zM755 351l19 0-1-10-2-5-4-5-2-1-2 0-4 3-2 3-2 7zM795 351l18 0-1-6-6-14 2-4 6-8 1-4-2-4-2-2-6-3-4 0-4 1-2 2-1 2 2 4 8 14 0 2-7 12zM836 351l16 0-1-12 3-12 0-4-3-5-2-2-4-1-6 0-3 2-1 2 0 4 3 14zM877 351l15 0 2-16 0-6-3-5-2-2-4-2-4 0-2 1-2 2-2 3 0 5 2 12zM916 351l18 0 0-8 0-6-3-6-4-4-2 0-4 0-4 3-2 3 0 6zM955 351l19 0-1-10-2-5-4-5-2-1-2 0-4 3-2 3-2 7zM995 351l18 0-1-6-6-14 8-12 0-4-3-5-6-3-7 0-3 2-1 2 2 4 7 12 1 4-7 11zM1036 351l16 0-1-12 3-12 0-4-3-5-2-2-4-1-6 0-3 4-1 4 4 14zM1077 351l15 0 2-16 0-4-3-7-2-2-4-2-4 0-2 1-2 2-2 4 0 4 2 12zM1116 351l18 0 0-8 0-6-3-6-4-4-2 0-4 0-3 2-2 4-1 6zM1155 351l19 0-1-10-2-4-4-5-2-1-4 1-4 4-2 7zM1195 351l18 0-2-9-5-11 0-2 6-8 2-4 0-2-3-4-6-3-6 0-3 1-1 2 1 4 8 14 0 2-7 12zM1237 351l15 0-1-12 3-12 0-4-3-5-2-2-4-1-6 1-3 3 0 4 3 14zM1277 351l15 0 2-16 0-4-3-6-2-2-4-2-4 0-2 1-2 1-2 4 0 4 2 12zM1316 351l18 0 0-8 0-6-3-6-4-3-2-1-4 0-2 2-3 4-1 6zM1355 351l19 0-1-10-2-4-4-5-2 0-4 0-4 5-2 6zM1395 351l12 0 0-19-2 0-2 1-4 6-3 6zM1404 327l1 2 2 0 0-21-6 0-4 1-1 2 0 2 1 4zM363 317l2 1 2 0 3-3 3-4 0-4-1-2-5-4-4-1-6-1-12 2-1-2-5-4-10-5-8-1-5 2-1 2 3 4 7 5 6 1 12-2 4 1zM564 315l3 0 4-4 1-4-1-2-2-2-5-2-5 0-4 1-1 1 1 4 6 6zM764 313l3 0 3-2 2-4 0-2-3-2-4-2-6 0-3 2 0 2 3 4zM962 311l3 1 4 0 3-3 1-2-1-2-2-2-4-2-5 0-2 1-2 1 0 2 2 3zM1163 311l4 1 3-1 2-2 1-2-1-2-1-2-5-2-3 0-4 1-1 1 0 2 2 4zM1363 311l4 1 3-1 2-2 1-2-1-2-2-2-4-2-3 0-4 1-1 1 0 2 3 4zM525 303l4 1 6-1 4-2 0-2-3-4-9-5-8-1-5 2 0 2 2 4 5 4zM724 303l5 1 3-1 4-2 0-2-3-4-6-3-6-2-7 1-2 2 1 2 4 4zM925 303l4 0 4-2 1-2-1-2-4-3-6-2-6-1-4 2 0 2 4 4zM1122 301l5 1 4-1 1-2 0-2-3-2-4-2-4-1-5 1-1 2 1 2zM1325 301l2 0 2-1 1-1 0-2-3-2-4-1-4 0-2 1 1 2 2 2zM274 291l9 2 3-2 0-2-2-2-35-14-10-1-5 1-1 1 1 3 3 2 10 6 18 3zM885 289l5 0-2-2-5 0zM1083 289l6 1 3-1-2-2-5-1-4 1zM1283 289l6 1 3-1-3-2-6-1-2 1zM445 285l6 1 6 0 7-1 0-2-9-6-10-4-10-2-4 1-3 1 0 2 5 4zM648 285l7 0 3-2-1-2-6-4-10-3-10-2-9 1 14 8zM843 283l8 0 1-2-1-2-4-2-7-2-15-1 0 1zM1042 281l5 0-1-2-5-2-5 0 1 2zM1005 271l8 1 1-1-9-2zM1206 271l4 0-3-1zM371 269l12 0 2-2-2-2-7-4-9-4-12-4-12-2-4 0-3 2 1 2 3 2 8 4 15 6zM566 267l8 0 3-2-2-2-3-2-17-6-18-3-4 0-3 1 7 4 21 8zM756 263l7 1 5-1-2-2-5-2-19-6-13-2-3 0-1 2 9 4zM935 257l8 1 3-1-11-4-8-2-7 0 2 2zM1123 253l6 1 1-1-5-1zM285 251l10 1 4-1 1-2-4-4-7-4-17-6-15-2-7 0-1 2 2 2 8 4zM482 249l7 0 3-2-2-2-7-4-16-6-12-2-9 0 0 2 2 2 8 4 17 6zM672 245l9 0-1-2-3-2-23-8-11-2-5 2 2 2 8 4 14 4zM858 241l7 1 4-1-8-4-14-4-10-1-3 1 9 4zM1044 237l5 1 4-1-11-4-5-1-4 1zM388 229l11 1 6-1 0-2-7-4-19-8-14-3-4 0-4 1 0 2 2 2 6 4 10 4zM587 227l9 0 1-2-13-6-19-6-10-1-5 1 1 2 3 2 9 4 14 4zM772 223l9 1 4-1-6-4-12-4-12-2-6-1-3 1 2 2 5 2zM959 219l8 1 3-1-9-4-8-2-6-1-4 1 3 2zM311 213l7 0 3-2-1-2-5-4-8-4-12-4-10-3-10-1-6 0-3 2 6 4 19 8 11 4zM499 209l10 1 3-1 0-2-2-2-8-4-19-6-14-2-2 0-3 2 2 2 8 4 11 4zM686 205l9 1 6-1-2-2-4-2-10-4-16-4-8 0-1 2 3 2 10 4zM874 201l9 1 4-1-9-4-14-4-7-1-4 1 3 2 4 2zM1063 197l6 1 2-1-6-2-6-1-2 1zM413 191l8 0 3-2-1-2-7-4-19-8-8-2-6-1-5 1-1 2 4 4 12 6 11 4zM601 187l8 1 6-1-1-2-3-2-21-8-13-2-3 0-2 2 2 2 7 4 12 4zM789 183l12 2 2-1 2-1-9-4-13-4-10-2-9 0 2 2 4 2zM985 181l7 0-2-2-12-4-11-1-1 1 11 4zM327 173l10 1 3-1 1-2-2-2-6-4-20-8-10-2-12-2-6 0-3 2 7 4 14 6zM517 169l10 1 6-1-1-2-4-2-21-8-18-4-4 0-3 2 2 2 8 4 11 4zM714 167l6 0 1-2-7-4-20-6-13-2-2 1-1 1 3 2 10 4 13 4zM899 163l9 0-2-2-4-2-12-4-11-1-2 0-1 1 8 4zM1080 157l5 1 2-1-8-2-4-1-1 1zM428 151l11 1 5-1 0-2-2-2-7-4-20-8-12-2-4 1-2 1 1 2 2 2 7 4 9 4zM628 149l5 0 2-2-5-4-15-6-14-3-8 1 1 2 3 2 8 4 12 4zM816 145l6 0 0-2-8-4-13-4-10-2-2 1-3 1 3 2 9 4zM1004 141l6 0-4-2-12-4-9-1-2 1 12 4zM344 133l11 2 5-2 0-2-2-2-7-4-9-4-12-4-9-2-12-1-8 0-3 1 8 4 15 6zM534 129l11 1 6-1-2-2-3-2-21-8-16-3-4 0-3 1 1 2 6 4 10 4zM732 127l8 0-1-2-3-2-17-6-16-3-4 0-3 1 3 2 9 4 13 4zM917 123l8 1 4-1-4-2-12-4-12-2-7 0 9 4zM1104 119l5 1 3-1-5-2-7-2-6 0 3 2zM455 113l6 0 3-2 0-2-6-4-19-8-14-3-4 0-3 1-1 2 2 2 10 6 16 6zM643 109l8 1 5-1 0-2-7-4-18-6-14-2-2 0-2 2 2 2 9 4zM830 105l9 1 5-1-6-4-12-4-10-2-8 0 1 2 3 2zM1018 101l7 1 3-1-9-4-7-2-7-1-3 1 3 2zM370 95l7 0 3-2-1-2-2-2-8-4-9-4-13-4-12-2-10-1-8 0-4 1 42 16zM550 89l13 2 4 0 2-2-2-2-8-4-16-6-12-3-8 1-1 2 6 4 9 4zM746 87l7 1 5-1-1-2-4-2-16-6-10-2-9 0 0 2 8 4 11 4zM934 83l9 1 3-1-10-4-14-4-7-1-3 1 3 2 4 2zM470 73l11 1 3-1 0-2-1-2-7-4-20-8-7-2-6 0-4 0-2 2 1 2 3 2 7 4 9 4zM661 69l12 2 4-2-5-4-17-6-16-3-6 0-2 1 2 2 9 4zM858 67l7 0 0-2-4-2-12-4-18-3-2 0-2 1 15 6zM1044 63l7 0-3-2-11-4-8-1-3 1 9 4zM386 55l9 1 3-1 1-2-1-2-7-4-9-4-12-4-22-4-19-2-8 0 51 18zM575 51l10 0 2 0 1-2-11-6-16-6-14-2-2 0-3 2 2 2 3 2 8 4 11 4zM761 47l12 2 4-1 1-1-6-4-17-6-10-1-4 0-2 1 2 2 4 2zM961 45l2 0 1-2-15-6-12-2-2 0-1 2 9 4 6 2zM487 33l12 2 6-2-1-2-5-4-19-8-15-4-4 0-4 2 0 2 5 4 13 6zM692 31l3 0 1-2-7-4-11-4-19-5-6 0-4 1 2 2 3 2 11 4 14 4zM876 27l8 0-2-2-4-2-20-6-11-1-2 0-1 1 3 2 11 4zM1062 23l8 0-11-4-10-2-3 0 3 2zM403 15l8 1 4 0 3-1 0-2-2-2-7-4-15-6 0-2-33 0 0 2zM590 11l11 2 4-1 3-1-1-2-3-2-14-6 0-2-25 0 0 2 4 2 9 4zM787 9l8 1 5-1-1-2-4-2-9-4 0-2-22 0 0 2 4 2zM974 5l9 1 4-1-8-4 0-2-17 0 0 2zM1163 1l6 0 0-2-6 0z"/>
<path fill="#69bd93" d="M-1 351l10 0-3-20-1-6-2-3-2-2-2 0zM32 351l18 0-1-12-2-10-2-6-2-2-2-1-2 1-2 2-2 5-2 9zM73 351l18 0-2-20-2-6-2-3-2-2-2 0-2 2-3 5-2 10zM114 351l18 0-1-13-2-10-2-5-2-2-2-1-2 1-2 2-2 5-2 11zM155 351l18 0-1-10-3-18-2-5-2-1-2 0-2 3-2 4-2 11zM195 351l18 0-1-8-6-14 2-4 5-8 0-4-2-3-4-2-2 0-4 1-2 4 1 4 2 8 1 4-6 12zM236 351l16 0-1-10 3-14 0-4-4-6-3-2-4-1-4 0-3 1-2 2-1 2 5 18zM277 351l16 0 1-18-1-4-2-5-4-3-2-1-4 1-2 2-3 4 0 4zM316 351l18 0 0-10-1-6-4-6-4-3-4 0-2 1-2 2-2 3-1 5zM355 351l19 0 0-6-2-6-3-6-2-2-2-1-2 0-4 4-2 3-2 6zM395 351l18 0 0-4-2-5-4-8-2-2-2 1-4 5-3 7zM436 351l16 0-1-10 3-14-1-4-2-4-6-4-7 0-3 2-1 2 0 4 4 14zM477 351l15 0 2-20-2-6-5-4-4-1-2 1-3 2-2 4zM516 351l18 0 0-8 0-6-3-5-4-4-4-1-2 0-4 3-2 3 0 6zM555 351l19 0-1-10-2-5-4-5-2-1-2 0-5 5-3 6zM595 351l18 0-2-9-4-8-2-1-2 0-4 5-3 7zM636 351l16 0-1-12 2-12 0-4-2-4-6-4-6 1-2 1-2 2 0 4 4 14zM677 351l15 0 1-6 1-10 0-6-4-6-5-3-4 1-2 1-2 2-1 3-1 4 2 12zM716 351l18 0 0-8-1-6-2-5-4-4-2-1-4 0-4 4-1 2-1 6zM755 351l19 0-1-10-2-4-4-5-2-1-2 0-2 1-3 3-3 6zM795 351l18 0-2-9-4-8-2-1-2 1-4 5-3 6zM837 351l15 0-1-12 2-12 0-4-2-4-3-2-3-1-6 0-2 2-1 3 3 16zM877 351l15 0 2-20-3-6-2-2-4-2-4 0-2 1-2 2-2 3 0 4 2 12zM916 351l18 0 0-8-1-6-2-5-4-4-2-1-4 1-2 1-3 4-1 6zM955 351l19 0-1-10-2-4-4-5-2-1-4 1-4 5-2 6zM995 351l18 0-2-9-4-7-2-2-2 1-4 5-3 6zM1037 351l15 0-2-12 3-12 0-4-2-4-3-2-3-1-4 0-2 1-2 2-1 2 3 16zM1077 351l15 0 2-16 0-4-3-6-2-2-4-2-4 0-2 1-2 2-1 3-1 4 2 12zM1116 351l18 0 0-8-1-6-2-5-4-4-2-1-4 1-2 1-3 4-1 6zM1155 351l19 0-1-10-2-4-4-4-4-1-4 2-2 3-2 6zM1195 351l18 0-2-8-4-8-2-1-2 0-4 6-3 5zM1237 351l15 0-2-12 3-12 0-4-2-4-3-2-3-1-4 0-2 1-2 2 0 2 3 16zM1277 351l15 0 2-16-1-4-3-6-5-3-4 0-2 1-2 1-1 3-1 4 2 12zM1316 351l18 0 0-8-1-6-2-5-4-4-2 0-4 0-2 1-3 4-1 6zM1355 351l19 0-2-10-2-4-3-4-4-1-4 3-2 2-2 6zM1395 351l12 0 0-17-4 1-4 5-3 5zM805 327l2 0 4-4 2-4 1-4-2-4-3-2-4-2-4 0-4 2-1 4 3 6zM1005 327l2 0 4-5 2-3 0-4-2-4-4-2-4-1-4 0-3 3 1 4 4 8zM404 325l1 1 4-2 4-5 2-4-2-4-2-2-6-3-5 1-2 2-1 2 2 6zM603 325l2 2 2-1 2-1 5-6 1-4-2-4-3-2-3-2-4-1-4 1-2 2-1 2 2 6zM1203 325l2 1 2 0 2-2 3-5 0-4-1-2-4-4-6 0-2 0-2 2-1 2 3 6zM1404 325l3 0 0-16-6 0-3 2-1 2 1 2 3 7zM362 315l3 1 2 0 2-1 2-3 1-3-2-4-3-2-4-2-6-1-4 1-1 2 1 2zM564 313l3 0 2-2 1-4-1-2-3-2-3-1-5 1-1 2 0 2 4 4zM764 311l3 0 2-2 1-2-1-2-2-1-2-1-4 0-2 2 0 2 2 2zM962 309l3 1 4-1 1-2-1-2-3-2-4 0-2 2 1 2zM1163 309l4 1 2-1 1-2 0-2-3-2-5 0-2 2 1 2zM1364 309l3 1 2-1 1-2-1-2-3-2-4 0-1 2 0 2zM325 301l8 1 3-1 3-2-1-2-2-2-7-4-6-1-4 1-1 2 0 2 4 4zM523 301l4 1 4 1 4-2 1-2 0-2-5-4-6-2-6 0-3 2 1 2 3 4zM723 301l6 1 3-1 2-2-1-2-2-2-4-2-6-1-5 1 0 2 1 2zM924 301l5 0 2-2-1-2-2-2-3-1-6-1-2 2 1 2zM1123 299l4 1 1-1 0-2-5-2-2 0-1 2zM276 289l3 0-2-2-4-1-12-7-10-4-8-2-4 1-2 1 0 2 2 2 8 4 6 2 18 2zM451 285l4 0 4-2-1-2-2-2-9-4-10-2-2 0-3 2 2 2 5 4 6 3zM646 283l4 0 2-2-1-2-4-2-8-2-4 0-1 2 2 2zM368 267l9 0 1 0 0-2-2-2-8-4-11-4-10-2-2 0-3 2 2 2 7 4 9 4zM567 265l2-1 1-1-7-4-14-3-4 0-1 1 13 6zM282 249l9 2 5-2-1-2-2-2-12-6-15-4-7 0-2 1 0 1 6 4zM480 247l3 0 2-2-5-4-11-4-8-2-7 0-1 2 7 4 11 4zM655 239l8 1 1-1-4-2-11-2 1 2zM385 227l8 1 6-1-2-2-7-4-15-6-10-2-4 2 1 2 6 4zM576 223l5 1 4-1-2-2-10-4-8-2-6 0 1 2 3 2zM307 211l8 0 1-2-1-2-7-4-16-6-13-2-2 0-3 2 6 4 9 4zM498 207l7 0 0-2-7-4-13-4-8-1-4 1 2 2 9 4zM679 201l8 1 1-1-10-4-6 0 2 2zM409 189l8 0 1-2-5-4-13-6-11-3-4 0-3 1 0 2 2 2 7 4 10 4zM601 185l3 0 1-2-8-4-6-2-8-2-2 1-1 1 6 4 6 2zM324 171l7 1 5-1 0-2-6-4-14-6-7-2-10-1-4 0-3 1 2 2 8 4zM516 167l7 0 0-2-4-2-11-4-11-3-4 0-2 1 2 2 8 4zM699 161l6 0-4-1zM425 149l8 1 4 0 2-1-1-2-6-4-14-6-11-2-3 0-2 2 1 2 6 4zM616 145l7 1 4-1-2-2-9-4-8-2-6 0 0 2 3 2zM341 131l10 2 2 0 3-2-1-2-6-4-16-6-14-3-6 0-3 1 2 2 7 4zM532 127l9 0-1-2-4-2-10-4-11-3-6 1 1 2 8 4zM716 121l6 0-6-2-5 0zM450 111l8 0 1-2-1-2-7-4-16-6-8-1-5 1 0 2 3 2 7 4 10 4zM643 107l4 0 0-2-8-4-7-2-5-1-4 1 2 2 4 2zM366 93l7 0 1 0 1-2-5-4-13-6-18-4-10 0 0 2 8 4 15 6zM548 87l9 1 3-1-5-4-11-4-9-2-6 0 0 2 3 2 9 4zM738 83l7 0-9-4-5-1-3 1 4 2zM467 71l8 1 4-1 0-2-2-2-12-6-14-4-6-1-3 1 0 2 5 4 8 4zM662 67l4 0-1-2-10-4-8-1-2 0-1 1 10 4zM383 53l8 1 3-1 0-2-6-4-15-6-8-2-10-1-6 0-2 1 17 8zM573 49l7 0 0-2-7-4-10-4-10-2-2 0-2 2 2 2 8 4zM762 45l5 0-1-2-5-2-8-2-3 0 1 2zM493 33l4 0 3-2-5-4-7-4-11-4-8-2-4 0-2 1-1 1 1 2 2 2 8 4 11 4zM672 25l9 2 1-2-11-4-6-1-3 1zM400 13l9 1 4-1 0-2-7-4-16-6 0-2-21 0 0 2 4 2 15 6zM588 9l9 1 4-1-2-2-3-2-9-4 0-2-17 0 0 2 3 2zM780 5l5 1 3-1-4-2-6-2 0-2-6 0 0 2 3 2z"/>
<path fill="#68bfa8" d="M-1 351l10 0-1-12-2-8-3-7-2-1-2 0zM32 351l18 0-1-10-2-10-2-5-2-3-2-1-2 1-2 2-2 5-2 10zM73 351l18 0-2-18-2-6-2-3-2-1-2-1-2 2-2 4-2 9zM114 351l18 0-1-11-2-9-2-5-2-3-2-1-2 1-2 3-2 5-2 10zM155 351l18 0-1-10-3-14-2-5-2-2-2 0-2 3-2 4-2 10zM195 351l18 0-2-9-4-9-2-2-2 1-4 5-3 8zM237 351l15 0-1-10 3-14-1-4-4-6-6-3-6 1-2 2-1 2 1 4 3 10 1 4zM277 351l15 0 1-20-2-6-4-3-4-1-2 1-2 2-2 3-1 4zM316 351l18 0 0-10-1-5-4-7-4-2-4 0-2 1-2 2-2 3 0 4zM355 351l19 0-1-10-3-6-3-3-2-1-2 0-2 2-3 4-3 6zM395 351l18 0-2-9-4-7-2-1-2 0-4 4-3 7zM437 351l15 0-1-12 2-14-3-6-5-3-6 0-2 1-2 2 0 4 4 14zM477 351l15 0 2-20-3-6-4-3-4-1-2 1-2 1-2 4-1 4 1 12zM516 351l18 0 0-8-1-6-2-5-4-4-2 0-4 0-4 3-1 2-1 6zM555 351l19 0-1-10-2-4-4-5-2-1-2 0-4 4-3 6zM595 351l18 0-2-8-4-7-2-2-2 1-4 4-3 6zM637 351l15 0-1-12 1-14-1-4-2-2-4-3-6 1-2 2-1 2 3 16zM677 351l15 0 2-20-3-6-2-2-4-2-4 1-2 1-3 4 0 4 1 12zM716 351l18 0 0-8-1-6-2-4-4-4-2-1-4 0-2 1-3 4-1 6zM755 351l19 0-2-10-1-4-4-4-4-1-4 3-3 6zM795 351l18 0-2-8-4-7-2-1-2 0-2 2-4 6zM837 351l15 0-2-12 2-12 0-4-3-4-4-2-5 0-2 2-1 2 0 4 2 12zM877 351l15 0 1-20-3-6-5-3-4 0-2 1-3 4 0 4 1 12zM916 351l17 0 1-8-1-6-2-4-4-4-2-1-4 1-2 1-2 3-2 6zM955 351l19 0-2-10-2-4-3-4-4-1-2 1-3 4-3 6zM995 351l18 0-2-8-4-7-2-1-2 1-2 1-4 7zM1037 351l15 0-2-12 2-12 0-4-3-4-4-2-4 0-3 2 0 2 0 4 2 12zM1077 351l15 0 1-16 0-4-3-6-5-3-2 0-3 1-4 4 0 4 2 12zM1116 351l17 0 1-8-1-6-2-4-4-4-2-1-4 1-4 4-2 6zM1155 351l19 0-1-6-1-4-2-4-3-3-4-1-2 0-3 4-3 6zM1196 351l17 0-2-8-4-6-2-2-2 1-2 2-4 6zM1237 351l15 0-2-12 2-12 0-4-3-4-4-2-4 0-2 2-1 2 0 4 2 12zM1277 351l15 0 1-16 0-4-4-6-4-2-4 0-3 2-1 2-1 4 2 12zM1316 351l17 0 1-8-1-6-2-4-4-4-2-1-4 1-4 4-1 6zM1355 351l19 0-1-6-1-4-3-5-2-2-4-1-2 1-3 3-2 6zM1396 351l11 0 0-15-4 0-2 2-4 6zM204 323l1 1 2-1 4-6 0-4-2-2-2-1-4 0-2 3 0 4 2 5zM405 323l2 0 2-1 3-3 1-4 0-2-2-3-2-1-4-1-5 1-1 2 0 2 2 6zM604 323l1 1 2 0 2-1 3-4 1-4-2-4-2-1-6-2-4 2-1 3 1 4zM803 323l2 1 2 0 4-3 1-4-1-4-1-2-3-2-4-1-4 2-1 3 1 4zM1003 323l2 1 2 0 3-3 2-4-1-3-2-3-6-2-4 1-1 3 1 4zM1204 323l3 0 2-2 2-4-1-2-3-4-4-1-2 0-2 2 0 3 2 5zM1403 321l2 1 2 0 0-11-4 0-3 2 0 4zM362 313l3 1 2 0 2-3 0-4-2-3-4-2-4 0-3 1-1 2 1 2zM562 309l3 1 2-1 0-2-2-2-3 0-1 2zM325 299l6 1 3-1 0-2-2-2-3-2-4-1-3 1-1 2 2 2zM523 299l6 2 4-2-1-2-2-2-3-2-5 0-2 2 1 2zM724 299l3 1 2-1 0-2-4-2-3 0-1 2zM251 283l6 1 3-1-1-2-7-4-7-1-3 1 1 2 3 2zM443 281l6 1 2 0 2-1-2-2-4-2-6-1-2 1 1 2zM361 263l6 1 2 0 1-1-7-4-10-2 0 2zM281 247l6 1 3-1-1-2-3-2-10-4-7-1-3 1 5 4zM378 223l7 1 2 0 1-1-7-4-6-2-6 0 1 2zM299 207l8 1 2-1-2-2-8-4-8-2-4-1-3 1 1 2 4 2zM401 185l6 1 3-1-2-2-8-4-9-2-2 1 2 3zM323 169l6 0 0-2-3-2-9-4-8-2-6 0 1 2 3 2 9 4zM425 147l6 0-1-2-2-2-10-4-7-1-2 1 5 4zM340 129l5 1 4-1-2-2-3-2-10-4-9-1-2 0-1 1 7 4zM442 107l7 1 3-1-2-2-8-4-7-2-6 0 1 2 2 2zM357 89l8 1 3-1-2-2-9-4-10-2-6 0 2 2 4 2zM466 69l6 0 0-2-7-4-6-2-8-2-2 2 2 2 4 2zM375 49l10 2 1-2-6-4-7-2-10-2-1 2zM483 29l6 1 3-1-1-2-4-2-10-4-6-1-2 1 1 2 3 2zM401 11l3 0 0-2-7-4-7-2-5-1-3 1 6 4z"/>
<path fill="#64c1bd" d="M-1 351l9 0 0-10-2-8-3-6-2-2-2 0zM32 351l18 0-3-18-2-5-2-3-2-1-2 1-2 3-2 4-2 10zM73 351l18 0-1-10-2-8-3-7-2-1-2 0-2 1-2 4-2 9zM114 351l18 0-1-9-2-9-2-5-2-3-2-1-2 1-2 3-2 5-2 10zM155 351l18 0-1-10-3-11-2-5-2-2-2 0-2 2-2 5-2 9zM195 351l18 0-2-9-4-7-2-2-2 0-4 5-3 7zM237 351l15 0-1-12 2-10 0-4-3-6-3-2-4-2-4 1-2 1-1 2 0 4 3 14zM277 351l15 0 1-20-2-5-4-3-4-1-2 1-2 2-2 4zM316 351l18 0 0-8-1-6-4-7-4-3-4 0-2 1-3 5-1 6zM355 351l19 0-2-10-3-6-2-2-2-1-2 0-4 4-3 7zM395 351l18 0-2-8-4-7-2-1-2 0-2 2-4 6zM437 351l15 0-2-12 2-14-1-4-2-2-4-2-6 0-2 2-1 2 3 16zM477 351l15 0 1-20-2-5-4-4-4 0-2 1-4 4 0 4 1 12zM516 351l17 0 1-8-1-5-2-5-4-4-2-1-4 0-2 2-3 3-1 6zM555 351l19 0-2-10-2-4-3-4-2-1-2 0-4 3-3 8zM595 351l18 0-2-8-4-6-2-1-2 0-2 1-4 7zM637 351l15 0-2-12 2-14-3-5-4-2-4 0-3 1-1 2 0 4 3 12zM677 351l15 0 1-20-3-6-5-3-5 1-2 2-1 2zM716 351l17 0 1-8-1-6-2-4-4-4-2 0-4 0-4 4-2 6zM755 351l19 0-2-10-2-4-3-4-4-1-4 3-3 6zM796 351l17 0-2-7-4-7-2-1-2 0-2 2-4 6zM837 351l15 0-2-12 1-14-2-5-4-2-4 0-3 3 0 4 2 12zM877 351l15 0 1-16 0-4-4-6-4-2-4 0-3 2-1 2 0 4 1 12zM916 351l17 0 0-8-1-6-2-4-3-3-2-1-4 0-4 4-1 6zM955 351l19 0-1-6-1-4-3-5-2-2-4-1-2 1-3 3-2 6zM996 351l17 0-2-7-4-6-2-2-2 1-2 1-4 7zM1037 351l14 0-2-12 2-14-2-5-4-2-4 1-2 2 0 4 1 12zM1078 351l14 0 1-16-1-4-3-6-4-2-4 0-2 2-2 3 0 5 1 10zM1116 351l17 0 0-8-1-6-2-4-3-3-2-1-4 1-4 4-1 5zM1155 351l19 0-1-6-1-4-3-5-2-2-4-1-2 1-3 3-2 6zM1196 351l17 0-2-7-4-6-2-1-2 0-2 2-4 6zM1237 351l14 0-2-14 2-12-2-4-4-3-4 1-2 4 2 14zM1278 351l14 0 1-16-1-4-3-5-4-2-4 0-2 1-2 4 1 14zM1317 351l16 0 0-8-1-6-2-4-3-3-4-1-2 1-2 1-2 4-1 4zM1355 351l19 0-1-6-1-4-3-4-2-2-4-1-4 3-3 6zM1396 351l11 0 0-14-4 0-2 2-4 6zM604 321l3 1 2-1 2-4 0-4-2-2-4-2-4 1-1 3 1 4zM803 321l2 1 2 0 2-2 2-3 0-2-2-3-2-1-4-1-2 1-1 2 0 4zM1004 321l1 1 2-1 2-2 1-2-2-4-3-2-2 0-3 2 0 2 1 3zM204 319l1 1 2-1 2-2 0-2-2-3-2 0-2 3 0 2zM403 319l2 2 2 0 3-2 2-4-1-2-2-2-4-2-4 2 0 4zM1203 319l2 2 2-1 1-1 1-2-1-2-2-2-3-1-1 1-1 2zM1403 317l2 2 2 0 0-4-4 0zM362 311l3 1 1-1 1-2 0-2-4-3-4 1 0 2z"/>
<path fill="#51bed5" d="M-1 351l9 0-2-16-3-6-2-2-2 0zM32 351l17 0-2-16-2-5-2-2-2-1-2 0-2 3-2 5zM73 351l17 0-2-16-3-6-2-2-2 0-2 2-2 3-2 9zM115 351l17 0-3-16-2-5-2-2-2-1-2 1-2 2-2 5zM156 351l17 0-1-8-3-10-2-5-2-2-2 0-2 2-2 4-2 8zM196 351l17 0-1-4-2-6-3-5-2-1-2 0-4 4-2 6zM237 351l15 0-2-12 2-10 0-4-1-3-2-3-6-3-4 1-2 2-1 2 4 16zM277 351l15 0 0-20-2-4-3-3-4-1-2 1-3 5-1 4zM316 351l17 0 1-8-1-6-4-6-4-3-2 0-3 1-4 4-1 6zM355 351l19 0-2-10-3-5-2-2-2-1-2 0-4 3-3 7zM396 351l17 0-2-7-4-7-2-1-2 0-2 2-4 6zM437 351l15 0-2-12 1-10 0-4-2-5-4-2-4 0-3 1-1 2 0 4 3 12zM477 351l15 0 0-20-1-3-2-3-4-2-4 1-2 2-1 3zM516 351l17 0 0-12-2-5-4-4-4-1-2 0-4 4-1 6zM555 351l19 0-2-10-3-5-2-2-4-1-4 3-3 7zM596 351l17 0-2-7-4-6-2-1-2 0-2 1-4 7zM637 351l14 0-2-12 1-14-2-4-3-2-4 0-2 2-1 2 2 14zM678 351l14 0 0-20-3-6-4-2-4 1-2 2-1 3zM716 351l17 0 0-12-2-4-4-5-2 0-4 0-2 1-2 3-1 5zM755 351l19 0-1-6-1-4-3-5-2-2-4-1-4 3-3 7zM796 351l17 0-2-6-4-7-2-1-2 0-2 2-4 6zM837 351l14 0-2-12 1-14-2-4-3-1-4 0-2 3 2 14zM878 351l14 0 0-16 0-4-3-5-4-2-2 0-3 1-2 4 0 14zM917 351l16 0-1-12-1-4-4-4-2-1-4 0-2 2-2 3-1 6zM956 351l18 0-1-6-1-4-3-4-2-2-4-1-4 3-3 6zM996 351l16 0 0-2-3-8-4-3-2 0-4 4-3 5zM1037 351l14 0-3-14 2-12-3-4-2-1-4 1-1 2 1 14-4 12zM1078 351l13 0 1-16 0-4-3-4-4-3-5 1-2 4 0 14zM1117 351l16 0-1-12-1-4-4-4-2-1-4 1-4 4-1 6zM1156 351l17 0 0-5-2-5-4-6-4-1-4 3-3 6zM1196 351l16 0 0-2-3-8-4-3-2 0-4 4-2 5zM1238 351l13 0-3-14 1-12-2-4-2-1-2 1-2 2 1 14-4 12zM1278 351l13 0 1-18-3-6-4-2-4 0-2 2-1 2zM1317 351l16 0-1-12-1-4-4-4-4-1-2 1-3 4-2 6zM1356 351l17 0 0-4-2-6-4-5-4-1-4 2-3 6zM1396 351l11 0 0-13-4 1-2 1-4 6zM405 317l3 0 0-2-1-2-3 0 0 2zM603 317l2 2 2 0 2-2 0-2-2-2-2-1-2 1-1 2zM803 317l2 2 2-1 1-1 0-2-3-2-1 0-1 1 0 1z"/>
<path fill="#2bb0ec" d="M-1 351l9 0-1-9-2-7-2-4-2-2-2 0zM33 351l16 0-1-8-2-8-3-5-2-1-2 1-3 5-2 8zM74 351l16 0-1-9-2-7-2-4-2-2-2 0-2 2-2 3-2 7zM115 351l16 0-2-14-2-5-2-2-2-1-2 1-2 2-3 9zM156 351l16 0-1-8-2-8-2-4-2-2-2 0-2 2-2 4-2 7zM196 351l17 0-2-7-4-7-2-1-2 0-2 2-4 7zM237 351l14 0-2-12 2-10 0-4-2-4-4-3-4 0-2 1-1 2 0 4 3 12zM278 351l14 0-1-20-2-4-4-2-4 1-2 3-1 2zM317 351l16 0 0-8-1-6-3-5-4-3-4 0-2 1-2 3-1 6zM356 351l17 0 0-5-2-5-2-4-2-2-2-1-2 0-4 3-3 6zM396 351l16 0-1-6-4-7-2-1-2 0-2 2-4 6zM437 351l14 0-2-12 1-10 0-4-2-4-3-2-4 0-2 2 0 2 2 14zM478 351l13 0 0-20-2-4-4-3-4 2-2 3zM517 351l16 0-1-12-1-4-4-4-2-1-4 0-2 2-2 3-1 4zM556 351l17 0 0-5-2-5-2-4-2-2-4-1-4 3-3 6zM596 351l16 0 0-2-2-6-3-4-2-1-2 0-2 1-3 4-1 4zM638 351l13 0-2-12 0-14-2-3-2-1-3 0-2 2 0 4 1 10-3 12zM678 351l13 0 1-16-1-4-2-4-4-2-4 0-2 4zM717 351l16 0-1-12-2-4-3-4-2-1-4 1-4 4-1 6zM756 351l17 0 0-4-2-6-4-6-4-1-4 3-3 6zM796 351l16 0 0-2-3-7-2-3-2-1-2 1-2 1-2 3-2 4zM838 351l13 0-3-14 0-10-1-4-2-1-2 0-2 3 1 12-4 12zM878 351l13 0 1-16-1-4-2-4-4-2-4 1-2 3zM917 351l16 0-1-12-2-4-3-3-4-1-2 0-3 4-1 6zM956 351l17 0 0-4-2-6-4-5-4-1-4 3-2 5zM996 351l16 0 0-2-3-7-2-2-2-1-2 0-4 4-2 4zM1038 351l13 0 0-2-4-14 1-6-1-4-2-2-2 1-1 1 1 10-1 4-4 10zM1078 351l13 0 0-18-2-5-4-2-4 0-2 3zM1117 351l16 0-1-12-2-4-3-3-4-1-2 1-3 3-1 6zM1156 351l17 0 0-4-2-6-4-5-4-1-4 3-2 5zM1196 351l16 0 0-2-3-6-2-3-2-1-2 0-4 4-2 4zM1238 351l13 0-2-7-4-7-4 5-3 7zM1278 351l13 0 0-18-2-4-4-3-4 1-2 3zM1317 351l15 0 0-12-2-4-3-3-4-1-2 1-2 3-2 6zM1356 351l17 0 0-4-2-5-4-5-4-1-4 3-2 4zM1397 351l10 0 0-11-4 0-2 1-4 6zM1245 331l1-4-1-2-1 2z"/>
<path fill="#2b91d7" d="M-1 351l9 0-1-6-2-8-2-4-2-1-2 0zM33 351l16 0-2-11-2-5-2-3-2-1-2 1-2 2-2 7zM74 351l16 0-1-7-2-7-2-4-2-1-2-1-2 2-2 4-2 7zM115 351l16 0-2-12-2-4-2-3-2-1-2 1-2 3-2 6zM156 351l16 0-1-8-2-6-2-4-2-2-2 0-2 2-2 4-2 8zM196 351l16 0-1-6-4-6-2-2-2 0-2 2-4 6zM238 351l13 0-2-12 1-10 0-4-3-4-2-1-4 0-2 3 3 14-4 12zM278 351l13 0 0-18-2-4-2-2-2-1-2 1-2 1-2 3zM317 351l16 0 0-8-1-6-3-4-4-3-4 0-2 2-2 3-1 4zM356 351l17 0 0-4-2-6-4-5-4-1-4 3-2 5zM396 351l16 0 0-2-2-6-3-3-2-2-2 1-2 1-3 3-1 4zM438 351l13 0-3-12 1-12-2-4-2-2-2 0-2 2-1 4 2 10-4 12zM478 351l13 0 0-18-2-4-4-3-2 0-2 2-2 3zM517 351l16 0-1-12-2-4-3-3-4-1-2 0-3 4-1 4zM556 351l17 0 0-4-2-6-4-5-4-1-4 3-2 5zM596 351l16 0 0-2-3-7-2-2-2-1-2 0-4 4-2 4zM638 351l13 0 0-2-4-12 0-10-2-3-2 0-1 1 1 12-5 12zM678 351l13 0 0-18-2-4-4-3-2 0-2 1-2 4zM717 351l15 0 0-12-2-4-3-3-4-1-2 1-3 3-1 4zM756 351l17 0 0-4-2-5-4-6-4 0-4 3-2 4zM797 351l15 0 0-2-3-6-2-2-2-1-2 0-4 3-2 4zM838 351l13 0-2-7-4-7-4 5-3 7zM879 351l12 0-1-18-1-4-4-2-2 0-2 1-2 3zM917 351l15 0-1-12-2-4-2-2-4-1-2 1-2 2-2 6zM956 351l17 0-2-9-4-5-4-1-4 3-2 4zM997 351l15 0 0-2-3-6-2-2-2-1-2 0-4 4-2 4zM1038 351l12 0-1-6-2-4-2-2-2 1-2 3-3 6zM1079 351l12 0-1-18-2-4-3-2-2 0-2 2-1 2zM1117 351l15 0-1-12-2-4-2-2-4-1-2 1-2 2-2 6zM1156 351l17 0-2-8-4-6-4-1-4 3-2 5zM1197 351l15 0 0-2-3-5-2-3-2-1-2 1-4 3-2 4zM1238 351l12 0 0-2-3-6-2-2-2 1-4 6zM1279 351l11 0-1-18-2-4-2-1-3 1-2 2zM1318 351l14 0-1-12-2-3-2-2-4-1-2 1-2 2-1 5zM1356 351l17 0-1-6-3-5-4-3-4 1-4 5zM1397 351l10 0 0-10-4 0-2 1-3 5z"/>
<path fill="#296dbc" d="M-1 351l8 0-2-11-2-4-2-2-2 0zM33 351l15 0-1-9-2-5-2-3-2 0-2 0-2 3-2 6zM74 351l16 0-1-5-2-7-2-4-2-1-2 0-2 1-2 4-2 7zM116 351l15 0-2-9-2-5-2-3-2 0-2 0-2 3-2 5zM157 351l15 0-1-5-2-7-2-3-2-2-2 0-2 2-2 3-2 8zM197 351l15 0 0-2-3-7-2-2-2-1-2 0-4 3-2 5zM238 351l13 0 0-2-4-12 1-10-1-3-2-2-2 0-2 3 2 12-5 12zM278 351l13 0-2-18-2-4-2-1-3 1-2 4zM317 351l15 0 0-8-1-6-2-3-4-3-4 1-3 3-1 4zM356 351l17 0-2-9-4-5-4-1-4 4-2 5zM397 351l15 0 0-2-3-6-2-2-2-1-2 0-4 3-2 5zM438 351l13 0-2-6-3-8-1-2 2-6-2-4-2 2 2 8-1 2-5 10zM479 351l12 0-2-18-2-4-2-1-2 0-2 3zM517 351l15 0 0-8-1-4-2-4-2-2-4-1-2 1-2 2-2 6zM556 351l17 0-2-8-4-6-4-1-4 4-2 5zM597 351l15 0 0-2-3-6-2-2-2-1-2 0-4 4-2 4zM638 351l12 0-1-6-2-4-2-2-2 1-2 3-3 6zM679 351l11 0-1-18-2-4-2-1-2 0-2 3zM717 351l15 0-1-11-2-4-2-2-4-1-2 1-2 2-1 5zM756 351l17 0-2-8-4-5-4-1-4 3-2 5zM797 351l15 0 0-2-3-5-2-2-2-1-2 0-4 3-2 5zM839 351l11 0-1-5-2-3-2-2-2 1-2 2-2 5zM879 351l11 0-1-18-2-3-2-1-2 0-2 2zM918 351l14 0-1-10-2-5-2-2-4-1-2 1-2 3-1 4zM957 351l15 0-1-7-4-6-4-1-4 3-2 5zM997 351l14 0 0-2-2-5-2-2-2-1-2 0-4 4-2 4zM1039 351l11 0 0-2-3-5-2-2-2 1-2 2-2 4zM1079 351l11 0-1-16-2-4-2-1-2 0-2 3zM1118 351l14 0-1-10-2-4-2-2-4-1-2 1-2 2-1 4zM1157 351l15 0-1-6-2-4-4-3-4 1-3 4zM1197 351l14 0 0-2-4-6-2-1-2 0-4 3-2 4zM1239 351l11 0 0-2-3-5-2-1-2 0-2 3-2 3zM1279 351l11 0-2-16-1-3-2-1-2 0-2 4zM1318 351l13 0 0-10-2-4-2-2-4-1-3 3-1 4zM1357 351l15 0-1-6-2-4-4-3-4 1-3 4zM1397 351l10 0 0-9-4 0-2 1-3 4z"/>
<path fill="#2355aa" d="M-1 351l8 0-2-9-2-4-2-2-2 0zM34 351l14 0-2-8-3-6-2-1-2 0-2 3-2 5zM75 351l14 0-2-10-2-3-2-2-2 0-3 3-2 6zM116 351l14 0-1-7-2-5-2-2-2-1-2 1-2 2-2 5zM157 351l14 0 0-3-2-7-2-3-2-2-2 0-3 3-2 6zM197 351l15 0 0-2-3-6-2-2-2-1-2 0-4 4-2 5zM238 351l12 0-1-5-2-4-2-2-2 1-2 3-3 5zM279 351l11 0-2-16-1-3-2-1-2 0-2 4zM318 351l14 0 0-8-1-4-2-4-4-3-4 1-2 2-1 6zM357 351l15 0-1-7-4-6-4 0-4 3-2 5zM397 351l14 0 0-2-2-5-2-2-2-1-2 0-4 3-2 5zM439 351l11 0-1-5-2-3-2-2-2 1-2 3-2 4zM479 351l11 0-2-16-1-3-2-1-2 0-2 4zM518 351l14 0-1-8-1-4-2-4-3-2-4 1-2 3-1 4zM557 351l15 0-1-7-4-6-4 0-4 3-2 4zM597 351l14 0 0-2-4-7-2-1-2 0-4 4-2 4zM639 351l11 0 0-2-3-5-2-2-2 1-2 2-2 4zM679 351l11 0-2-16-1-3-2-1-2 1-1 3zM718 351l14 0-1-10-2-4-2-2-4-1-2 1-1 2-2 4zM757 351l15 0-1-6-2-4-2-2-4-1-4 3-1 4zM797 351l14 0 0-2-4-6-2-1-2 0-4 4-2 3zM839 351l11 0 0-2-3-5-2-1-2 1-2 2-2 3zM880 351l10 0-2-16-1-2-2-1-2 1-1 2zM918 351l13 0-1-10-3-5-4-1-3 2-1 4zM957 351l15 0-1-6-2-4-4-3-4 1-3 6zM998 351l13 0 0-2-4-6-2-1-2 0-4 4-1 3zM1039 351l10 0 0-2-2-4-2-1-2 0-2 2-2 3zM1080 351l9 0-1-14-1-2-2-2-2 2zM1118 351l13 0-1-10-3-5-2-1-2 1-2 1-2 4zM1157 351l15 0-1-5-2-4-4-3-4 1-3 5zM1198 351l13 0 0-2-4-5-2-1-2 0-4 4-1 2zM1240 351l9 0 0-2-2-3-2-1-2 0-3 4zM1280 351l9 0-2-13-2-3-2 2zM1319 351l12 0-1-8-1-3-2-3-2-1-2 0-2 2-2 5zM1357 351l15 0-1-4-2-4-4-4-4 2-3 4zM1398 351l9 0 0-8-4 0-2 2-3 4z"/>
<path fill="#204da2" d="M-1 351l7 0-1-7-2-4-2-2-2 0zM34 351l14 0-2-6-3-6-2-1-2 0-2 3-2 5zM75 351l14 0-2-8-2-3-2-2-2 0-2 2-3 5zM116 351l14 0-1-6-2-4-2-3-2 0-2 1-2 2-2 5zM157 351l14 0-2-8-2-3-2-2-2 0-2 2-2 5zM197 351l14 0 0-2-4-7-2-1-2 0-2 1-2 3-2 4zM239 351l11 0 0-2-3-5-2-1-2 0-2 2-2 4zM279 351l11 0-3-14-2-3-2 1-1 2zM318 351l13 0 0-8-1-4-3-4-2-1-2 0-2 0-2 3zM357 351l15 0-1-6-2-4-4-3-4 2-3 5zM397 351l14 0 0-2-4-6-2-1-2 0-4 3-2 4zM439 351l11 0 0-2-3-4-2-2-2 1-2 2-2 3zM480 351l10 0-3-14-2-3-2 2zM518 351l13 0-1-10-2-4-3-2-2 0-2 1-2 3zM557 351l15 0-1-5-2-4-4-3-4 1-3 5zM598 351l13 0 0-2-4-6-2-1-2 0-4 4-1 3zM639 351l10 0 0-2-2-4-2-1-2 0-2 2-2 3zM680 351l9 0-2-13-2-3-2 3zM718 351l13 0-1-10-3-4-2-1-2 0-2 1-1 2-1 4zM757 351l15 0-1-5-2-4-4-3-2 0-2 1-3 5zM798 351l13 0 0-2-4-5-2-1-2 0-4 4zM840 351l9 0 0-2-2-3-2-1-2 0-3 4zM880 351l9 0-2-10-2-4-2 3zM919 351l12 0-2-10-2-4-2-1-2 1-3 2-1 5zM958 351l14 0-1-4-2-4-4-3-2 0-2 1-3 4zM998 351l12 0 0-2-3-5-2-1-2 1-4 3zM1040 351l9 0 0-2-2-2-2-2-2 1-3 3zM1081 351l8 0-2-8-2-3-2 2-2 7zM1119 351l12 0-2-10-2-3-2-1-2 0-2 2-1 4zM1158 351l13 0 0-2-2-6-2-2-4-1-2 1-2 3zM1198 351l12 0 0-2-3-4-2-1-2 0-4 4zM1240 351l8 0 0-2-3-3-2 0-3 3zM1281 351l7 0-1-6-2-2-2 1-2 5zM1319 351l11 0-1-9-2-3-2-1-2 0-2 2zM1358 351l13 0 0-2-2-5-2-2-2-1-2 0-2 1-2 3zM1399 351l8 0 0-7-4 0-2 2-2 3z"/>
</g></g>
<g stroke="#000" stroke-width="2.9" fill="none">
<rect x="171.5" y="603.5" width="1407.0" height="350.3"/>
<line x1="171.50" y1="941.3" x2="171.50" y2="966.3"/>
<line x1="347.38" y1="941.3" x2="347.38" y2="966.3"/>
<line x1="523.25" y1="941.3" x2="523.25" y2="966.3"/>
<line x1="699.12" y1="941.3" x2="699.12" y2="966.3"/>
<line x1="875.00" y1="941.3" x2="875.00" y2="966.3"/>
<line x1="1050.88" y1="941.3" x2="1050.88" y2="966.3"/>
<line x1="1226.75" y1="941.3" x2="1226.75" y2="966.3"/>
<line x1="1402.62" y1="941.3" x2="1402.62" y2="966.3"/>
<line x1="1578.50" y1="941.3" x2="1578.50" y2="966.3"/>
<line x1="159" y1="603.5" x2="184" y2="603.5"/>
<line x1="159" y1="778.6" x2="184" y2="778.6"/>
<line x1="159" y1="953.8" x2="184" y2="953.8"/>
</g>
<text x="3" y="612.0" font-weight="bold">(C)</text>
<text x="147" y="616.1" text-anchor="end">200</text>
<text x="147" y="791.2" text-anchor="end">100</text>
<text x="148.5" y="966.4" text-anchor="end">0</text>
<text transform="translate(46,780.5) rotate(-90)" text-anchor="middle">z (mm)</text>
<text x="200.5" y="867" style="font-size:41.2px">SWs</text>
<line x1="176" y1="890" x2="292" y2="890" stroke="#000" stroke-width="3.8"/>
<path d="M314 890 L288 875.5 L288 904.5 Z" fill="#000"/>
<line x1="862" y1="888" x2="962.0" y2="680.7" stroke="#000" stroke-width="3.8"/>
<path d="M972.0 660.0 L973.8 689.7 L947.6 677.1 Z" fill="#000"/>
<text x="996" y="692.5" style="font-size:41.2px">PWs</text>
<text x="1335.5" y="668.5" style="font-size:41.2px">PCR=0.2</text>
<rect x="1616.5" y="681.5" width="51.5" height="198.5" fill="url(#cb)"/>
<text x="1614" y="658.5" style="font-size:40.5px">E<tspan dy="12.7" dx="1.5" style="font-size:30px">x</tspan></text>
<text x="1685" y="698.5">1</text>
<text x="1684" y="892">-1</text>
</g>
<g id="panelD">
<clipPath id="clipD"><rect x="171.5" y="1011.2" width="1407.0" height="350.3"/></clipPath>
<rect x="171.5" y="1011.2" width="1407.0" height="350.3" fill="#6ab62c"/>
<g clip-path="url(#clipD)"><g transform="translate(171.5,1011.2)" filter="url(#blur)">
<path fill="#6eb62c" d="M10 351l20 0 0-30-2-18-2-10-3-7-2-2-2-1-2 2-2 4-3 12-1 20zM51 351l21 0-1-28-2-18-4-21-2-4-2-1-2 1-2 4-2 6-1 9-2 20zM92 351l21 0-1-24-2-28 0-14-1-4-2-2-4 0-4 4-2 4-2 7-2 19zM134 351l20 0-1-36 1-18-2-4-3-2-4 0-4 2-3 4-3 6-1 12zM175 351l18 0 1-6 3-12 0-6-6-9-8-8-5 7-3 8-1 8zM215 351l20 0 2-10-1-6-5-7-6-5-4 0-4 1-4 3-2 4 0 4 3 12zM253 351l23 0-1-10-6-12 0-4 6-6 8-5 4 0 4 3 6 6 3 6-1 4-4 10-1 8 20 0-1-6-4-10 0-4 3-4 3-3 4-1 4-1 4 2 4 3 5 8 1 6-1 10 17 0 0-10 1-4 6-10 0-4-3-4-4-4-8-4-6-1-14-1-14-7-6-2-6 0-12 4-4 0-16-8-18-4-24-9-8-1-14 1-14-2-6 0-7 2-5 4-2 4 1 4 13 13 12-9 4-1 4 0 6 1 16 8 18 2 4 1 6 4 8 7 2 4-1 2-8 12-1 4zM376 351l17 0 1-6 5-12 0-4-2-4-3-4-7-5-4 0-4 1-5 4-3 4 0 4 5 14zM415 351l20 0 2-10-1-4-3-7-6-5-4-1-4 0-5 3-3 4-1 4 4 12zM453 351l23 0-1-10-8-16 1-2 5-4 8-5 4 0 6 3 6 6 4 6-1 4-5 10-1 8 20 0 0-4-5-12 0-4 2-2 4-3 4-2 4-1 4 1 4 3 5 8 1 6-1 10 17 0-1-8 1-4 7-12 0-4-4-6-7-5-8-2-12 1-4-1-14-7-6-2-6-1-12 2-4 0-16-6-20-4-24-9-8-1-16 0-20-4-14-4-24-8-12-3-10-1-14 0-8-1-10-3-30-10-24-5-38-4-10 1-8 1-8 2-26 10-6 4-4 6 1 2 1 2 4 0 4-1 12-6 8-3 32 1 14 1 32 5 30 11 14 4 12 1 18 0 8 2 22 8 20 4 18 7 4 0 12-3 6 1 6 2 14 7 6 1 10 0 6 1 6 3 6 6 4 4 0 2-9 14-1 4zM576 351l17 0 1-6 5-12 0-4-4-6-6-5-4-2-4 0-6 3-3 2-3 4 1 4 5 12zM615 351l20 0 2-8-1-6-3-6-6-6-4-1-4 1-4 2-4 4-1 4 4 12zM653 351l23 0 0-6-2-6-5-9-4-3-2 0-2 2-7 8-1 6zM694 351l20 0 0-4-5-12 0-4 6-5 4-2 4-1 4 1 4 3 6 8 1 6-2 10 17 0-1-8 0-4 3-5 7-9 0-2-3-4-5-4-5-3-4-1-6-1-12 1-4-1-12-6-6-2-6-1-16-1-16-5-20-2-26-9-52-8-24-8-16-4-16-3-28-3-30-10-14-4-40-5-52-16-8 0-16 0-8-1-40-13-22-5-46-6-14-1-14 1-15 3-20 6-16 8-5 4-1 2 1 1 4 0 32-6 22-2 22 2 34 5 26 5 40 14 8 1 16-1 8 1 52 16 42 5 12 4 26 8 52 8 26 9 20 3 16 5 16 0 6 1 6 2 14 7 6 1 10-1 6 1 6 3 12 8 12-5 4-1 4 0 4 2 6 4 5 6 1 4-1 4-6 10zM776 351l17 0 1-6 5-12 0-4-4-6-6-5-4-1-4 0-6 1-5 3-2 2 0 2 7 16zM815 351l20 0 2-10-1-4-3-7-6-5-4-1-4 1-4 3-3 3-2 4 5 14zM853 351l23 0 0-6-2-6-3-5-4-4-2-1-4 1-6 6-2 5zM893 351l21 0 0-4-5-10 0-4 0-2 4-4 8-4 4 0 4 2 4 4 3 4 2 4 0 4-2 10 16 0 0-8 1-6 6-8 4-3 2-1 4 5 6 9 1 6 1 6 16 0 1-6 5-10 1-4-2-4-4-4-5-4-4-2-4 0-4 1-12 5-12-9-8-3-6-1-10 2-4-1-14-7-8-2-18-2-18-5-22-3-24-7-34-7-22-4-52-13-32-5-50-13-36-5-52-15-34-4-50-14-40-5-48-16-8-1-16 1-8-1-48-15-48-9-18-3-18-1-18 1-18 2-18 3-13 4-19 8-9 6 1 1 2 0 36-6 28-2 24 0 28 4 48 10 48 15 8 1 16-1 8 1 34 12 14 4 40 5 50 14 32 4 54 14 34 5 50 13 22 3 32 7 26 8 20 2 18 5 18 2 6 2 16 7 4 1 10-1 6 0 6 2 10 7 4 1 4 0 10-4 6 0 4 2 5 4 6 6 2 4-1 4-6 10zM1015 351l20 0 2-10 0-4-4-7-6-5-4 0-4 1-5 3-3 4 0 4 3 10zM1053 351l23 0 0-6-1-4-4-6-4-4-2-1-4 0-6 6-3 5zM1093 351l21 0 0-4-6-12 0-2 1-2 4-4 8-4 4 0 4 2 4 3 3 5 2 4 0 4-2 10 16 0-1-8 2-6 6-7 4-2 2 0 4 3 6 8 2 6 0 6 16 0 1-6 5-10 1-4-2-4-4-4-5-3-4-2-6 0-14 3-13-8-7-2-6-1-10 2-4-1-14-6-6-2-20-3-20-6-20-2-20-6-20-4-16-4-26-4-54-14-38-6-46-12-42-7-44-12-44-7-40-11-44-8-46-13-34-4-56-15-34-4-12-3-26-9-12-4-8-1-16 1-8-1-48-15-60-12-18-3-20-1-22 0-20 2-22 4-20 6-15 6-7 4-2 2 8 0 28-5 22-2 24-1 26 2 26 3 56 11 14 4 28 10 10 3 8 1 16-1 8 1 48 16 10 1 24 2 16 4 40 12 36 4 48 13 42 7 40 11 44 8 46 11 36 7 52 13 26 4 36 8 22 6 20 2 20 6 18 2 6 2 16 7 4 0 10-1 6 1 6 2 10 6 4 1 4 0 10-2 6 0 4 2 5 3 6 6 2 4 0 2-1 2-6 10zM1215 351l20 0 2-10 0-4-4-7-6-4-4-1-4 1-5 3-4 4 0 4 4 10zM1253 351l23 0 0-4-1-5-2-4-4-5-2-1-4-1-4 1-4 4-3 5zM1293 351l21 0-1-5-7-13 2-2 5-4 8-4 4 0 4 2 5 4 4 6 1 6-3 8 0 2 16 0-1-8 0-4 3-4 3-3 6-3 4 1 6 6 3 7 1 8 16 0 1-6 6-10 0-4-2-4-4-4-5-3-4-1-6-1-10 3-4 0-14-8-6-2-6-1-10 1-4 0-20-8-20-3-20-6-22-2-16-5-20-4-20-5-24-4-58-14-52-11-34-8-46-9-42-10-40-8-48-12-38-6-50-13-34-5-50-13-40-7-42-12-40-6-54-15-8-1-18-1-8-1-50-16-10-1-16 1-8-1-46-15-66-14-22-3-24-2-24 0-20 1-20 3-26 6-17 6-12 6 1 1 4 0 40-5 26-2 24 0 26 2 28 4 66 13 52 17 8 1 16-1 8 1 48 15 10 2 18 1 10 1 52 15 38 5 42 12 44 8 46 12 36 6 50 12 36 6 50 13 38 7 42 10 46 9 56 13 26 5 20 5 18 3 18 6 22 2 20 6 18 3 6 1 16 7 20 0 6 2 14 7 4 0 10-2 6 0 6 3 5 4 6 6 2 4-9 11zM1404 301l3 0 0-18-22-6-26-5-30-6-30-7-46-9-44-11-44-9-46-11-38-7-46-11-40-8-42-10-46-9-40-10-46-8-42-11-38-7-52-13-36-5-44-13-44-7-50-14-10-1-16-1-8-1-50-16-10-1-16 0-8-1-46-15-72-15-26-4-28-2-24 0-22 1-28 3-27 6-19 6-8 4-1 2 6 0 43-5 38-2 40 2 42 6 74 16 46 15 8 1 18-1 8 1 12 4 26 9 12 4 8 1 16 0 10 2 50 14 44 7 44 12 36 5 52 14 36 6 46 11 42 8 42 11 46 8 38 10 46 9 42 10 46 9 38 9 48 10 36 8 48 10 60 14 22 3 22 7zM1400 257l7 1 0-20-46-8-44-11-46-9-42-10-42-8-44-11-38-7-52-13-32-6-54-13-36-6-48-12-42-8-40-10-46-8-44-12-36-5-50-14-42-6-48-14-10-2-16 0-8-1-50-17-8-1-16 1-10-1-44-14-51-11 0-2-217 0 0 2-10 4-2 2 2 1 6-1 30-3 24-2 36 0 40 2 48 7 80 18 46 15 8 1 16-1 10 1 50 17 8 1 18 0 8 1 48 14 42 7 50 13 34 5 48 13 42 7 42 11 46 8 42 11 38 7 50 12 36 7 52 12 36 7 48 11 36 7 48 11 36 7 48 12zM1398 213l9 1 0-19-28-5-46-11-44-9-38-9-46-9-38-9-48-10-41-10-47-9-40-10-36-6-54-14-36-6-46-12-44-7-42-12-36-5-56-15-38-5-46-14-10-2-22-1-16-4 0-2-96 0 0 2 16 4 8 0 12 0 10 1 50 16 8 2 18 0 8 1 48 14 40 6 52 14 36 5 42 12 48 8 42 11 38 7 52 12 34 6 52 13 38 7 40 10 46 9 42 10 46 9 38 9 44 9 44 10zM1404 171l3 0 0-19-56-13-36-7-50-12-36-6-52-13-36-7-47-11-41-8-40-10-48-9-42-11-34-5-56-14-36-6-42-12-40-6-4-1 0-2-96 0 0 2 34 4 54 14 40 7 40 11 40 7 52 13 34 5 44 11 48 9 38 10 50 10 38 9 38 7 50 12 38 8 48 11 36 7zM1401 127l6 1 0-20-28-6-50-10-40-10-42-8-46-11-36-7-54-13-32-6-52-12-40-8-40-10-34-6 0-2-91 0 0 2 21 3 50 13 40 7 40 10 48 9 42 11 36 6 53 13 35 6 48 12 40 8 36 8 52 11zM1401 83l6 1 0-20-52-10-45-11-47-9-36-9-54-11-36-9-23-4 0-2-87 0 0 2 58 14 38 7 46 11 44 9 38 9 48 9 38 10zM1401 39l6 1 0-20-28-5-62-14 0-2-91 0 0 2 45 11 36 7 56 13z"/>
<path fill="#70b82c" d="M10 351l20 0 0-22-2-16-3-11-2-4-2-1-2 0-2 1-2 4-2 8-2 17zM51 351l20 0 0-22-2-16-4-13-2-3-2-2-2 1-2 3-3 12-2 16zM93 351l20 0-1-22-2-16-3-14-2-5-2-2-2 1-2 2-2 5-2 9-2 18zM134 351l20 0-3-50-2-4-2-1-4 0-2 2-2 3-3 6-1 12zM175 351l18 0 1-6 3-12 0-4-4-8-4-4-4-3-2 0-4 3-3 8-2 8zM215 351l20 0 2-10-1-6-5-7-6-4-4-1-4 2-3 2-2 4-1 4zM253 351l23 0-2-10-3-8-4-6 0-2 8-7 8-5 4 0 4 3 7 7 3 6-1 4-5 10-1 8 20 0 0-4-6-14 0-2 3-4 4-3 4-2 4 0 4 1 4 3 6 9 1 6-2 10 17 0-1-10 2-4 5-10 0-4-2-4-4-3-8-5-6-1-14-1-14-6-6-2-6 0-14 4-18-8-20-6-22-7-8-1-14 1-18-2-6 2-5 3-2 4 1 4 3 4 5 4 4 0 10-5 4-1 4-1 6 2 16 8 14 2 6 1 6 3 4 3 6 6 3 4 0 2-7 7-3 5-1 4zM376 351l17 0 1-6 4-12 0-4-2-4-3-4-6-4-4-1-4 2-5 3-2 4-1 4 5 14zM415 351l20 0 1-8 0-6-3-6-6-5-4-2-4 1-4 2-4 4 0 4 3 12zM453 351l23 0-1-8-2-6-4-7-4-3-4 2-6 8-2 6zM494 351l20 0-1-6-4-10-1-4 2-2 5-4 4-2 4-1 2 0 4 2 4 5 3 4 1 4 1 4-2 10 17 0-1-10 2-6 5-8 0-2-1-4-5-6-6-3-6-1-14 0-4-1-12-7-6-2-6 0-12 2-4 0-16-6-22-5-22-8-8-1-14 0-8-1-24-6-26-9-12-3-10-1-16 0-8-1-8-2-28-11-18-4-24-3-28-1-12 2-5 2-6 4 0 2 1 1 3 1 5 1 28 3 32 5 12 4 22 8 12 3 12 2 18 0 8 1 26 10 18 4 18 6 4 0 12-3 6 1 6 2 14 7 6 1 12 1 6 2 6 3 10 9 2-1 12-8 4-1 4 1 4 2 7 7 2 4 2 4-7 12zM576 351l17 0 1-6 4-12 0-4-3-5-4-4-6-3-4 0-4 1-4 3-3 4 1 4 5 14zM615 351l20 0 1-8 0-6-3-6-6-5-4-1-4 1-4 2-3 3-1 2 0 4 3 10zM653 351l23 0-1-6-1-6-3-5-4-4-2-1-4 1-6 7-2 6zM694 351l20 0-1-6-5-10 0-2 0-2 7-6 8-3 2 0 4 2 4 4 3 5 2 4 0 4-2 10 16 0 0-8 0-4 2-4 5-8 1-4-3-4-4-4-8-3-6-1-10 1-4 0-14-8-6-2-6-1-16 0-16-5-20-3-26-8-52-8-26-9-20-4-38-6-42-12-40-5-12-4-40-12-8-2-16 1-8-1-38-13-16-4-40-6-22-1-20 2-8 2-9 4 0 2 5 1 34 4 46 8 16 4 30 11 10 3 8 0 14-1 8 1 48 16 10 2 24 2 12 2 36 11 54 8 28 10 18 2 18 5 18 0 6 2 16 8 6 1 10-1 6 1 6 3 8 6 4 2 4-1 10-5 6 0 4 2 6 5 5 6 2 4 0 2-7 11zM777 351l16 0 1-6 5-12-1-4-3-5-4-3-6-3-4-1-6 2-3 2-3 4 1 4 6 12zM815 351l20 0 1-8 0-6-3-6-6-5-4-1-4 1-5 3-3 4 0 4 4 12zM853 351l23 0-1-6-1-4-3-6-4-4-2-1-4 1-6 5-2 7zM894 351l20 0-1-5-6-13 1-2 4-4 5-3 6-2 4 0 4 4 4 4 2 5 1 6-2 10 16 0-1-8 1-4 3-6 5-6 1-2 0-2-3-4-5-4-8-4-6 0-10 2-4 0-14-8-6-2-6-1-14-1-18-5-20-2-24-8-34-7-24-4-50-13-32-5-50-13-38-6-50-13-34-4-50-15-10-2-30-3-12-3-26-9-12-4-10-1-14 1-8-1-38-13-18-4-46-8-24-2-12 0-16 2-10 2-6 2-3 2 2 2 45 5 56 10 16 5 30 10 12 3 8 1 16-1 6 1 10 3 26 9 14 4 40 5 48 14 34 4 52 14 34 5 50 13 26 4 30 6 26 8 20 2 18 5 18 2 6 2 16 7 4 1 16-1 6 2 10 6 4 2 4 0 10-4 6 0 4 2 6 5 6 6 2 4 0 2-8 12zM977 351l16 0 1-6 4-10 1-4-4-6-4-4-6-3-4 0-6 1-6 4-1 2 0 2 8 14 1 4zM1015 351l20 0 2-10-1-4-3-6-6-5-4 0-4 0-4 3-3 4-1 4 4 12zM1053 351l23 0 0-6-2-4-5-8-2-1-4-1-4 1-3 3-3 6zM1094 351l20 0 0-2-3-7-4-6-2-2-4 3-4 5-3 5zM1136 351l16 0-1-8 1-6 3-4 8-8 0-2-7-6-9-5-6-1-12 2-4 0-14-7-6-3-20-2-20-6-20-2-20-6-18-3-18-5-26-4-52-13-36-7-50-12-40-7-44-12-46-8-38-10-46-8-44-12-34-4-56-16-10-2-16 0-10-2-48-16-10-1-16 1-8-1-40-14-18-4-54-10-24-2-18 0-19 2-11 2-6 2-1 2 7 2 32 3 18 2 64 13 16 5 30 10 12 3 8 1 14-1 8 1 48 15 10 2 26 2 56 16 34 4 46 13 44 7 40 11 46 8 44 11 38 7 54 13 28 5 34 7 20 6 20 2 20 6 20 3 20 8 4 0 16 0 6 2 10 6 4 1 4 0 10-2 6 0 4 2 4 2 12 12 2 0 12-8 6-1 6 3 4 5 3 5 1 6zM1177 351l15 0 1-6 5-10 1-4-2-4-6-5-6-3-4-1-6 2-7 3-2 2 10 16 1 4zM1215 351l20 0 2-10-1-4-3-6-4-3-4-2-4 0-6 3-3 4-1 4 4 11zM1253 351l23 0-1-8-2-4-4-5-4-2-4 0-4 3-3 4-2 4zM1294 351l20 0 0-2-5-10-4-3-4 2-4 4-3 5zM1337 351l15 0-2-10 1-4 8-8 4-2 2-1 4 4 6 9 2 6 1 6 14 0 1-6 6-10 0-4-3-4-3-3-4-3-4-2-8 0-12 4-12-8-8-3-6-1-10 2-4 0-14-7-6-2-20-2-20-7-20-2-18-5-20-4-20-5-26-5-56-13-46-9-42-11-42-7-42-11-40-7-50-13-34-5-52-14-36-5-50-14-38-5-44-13-38-5-54-16-10-1-16-1-8-1-12-3-26-9-12-4-10-1-16 1-8-1-38-13-18-5-59-11-27-3-22-1-18 1-14 2-7 1-5 2 1 2 5 1 40 4 26 4 66 14 16 4 30 11 12 3 8 1 16-1 6 0 12 4 26 9 12 4 10 1 18 1 8 1 52 15 12 2 26 3 44 13 42 6 46 13 38 6 48 12 36 6 52 13 38 7 38 9 48 9 56 14 28 4 58 15 22 3 18 5 22 4 18 7 20-1 6 2 14 8 4 0 10-2 6 0 8 5 12 10 4-2 10-5 6-1 4 1 4 4 4 6 2 4 1 4-3 8zM1398 299l9 1 0-16-24-6-52-10-30-8-50-10-38-9-46-9-45-11-39-7-43-11-45-9-40-10-46-8-41-11-47-9-42-11-36-5-54-14-36-6-42-12-44-6-50-15-10-1-18-1-8-1-48-16-10-2-16 2-8-1-36-12-14-4-66-14-20-3-28-2-26-1-22 2-9 2-4 2 5 2 56 7 34 6 70 16 36 12 12 3 8 0 16-1 8 1 36 13 12 4 10 1 16 0 8 1 51 15 43 6 44 13 34 5 56 14 34 5 46 12 44 8 42 11 42 7 42 11 46 9 40 10 46 8 40 10 50 10 36 9 48 9 20 5 38 9 22 3 20 6zM1405 257l2 0 0-18-42-8-48-11-42-8-45-11-39-8-48-11-40-8-46-11-38-7-52-13-34-6-50-12-40-7-40-11-44-8-48-12-34-5-50-14-42-6-48-14-8-2-18 0-8-1-12-3-30-11-10-3-8-1-16 1-8-1-46-15-54-11 0-2-98 0 0 2 54 9 80 18 48 15 10 1 16-1 8 1 10 3 30 11 12 3 10 1 16 0 8 1 46 14 44 7 48 13 36 5 46 12 44 8 42 11 42 7 44 12 38 6 52 13 36 7 48 11 38 7 46 11 38 8 52 12 36 7 47 11zM1404 213l3 0 0-17-24-4-45-11-47-9-36-9-48-10-42-10-46-9-38-9-46-9-44-11-38-7-52-13-34-5-48-13-42-7-42-12-38-5-52-14-42-7-46-14-10-1-14 0-8-1-18-5 0-2-93 0 0 2 15 3 20 0 8 1 12 3 28 10 12 4 10 1 16 0 8 1 46 14 40 6 52 14 38 5 42 12 44 7 46 12 36 6 52 13 36 6 47 12 41 8 42 10 46 9 38 9 46 9 44 11 40 8 44 10zM1399 169l8 1 0-17-54-12-36-7-54-13-30-5-52-13-38-7-44-11-46-9-36-9-50-10-42-10-36-6-54-14-36-6-44-12-38-6-9-2 0-2-87 0 0 2 26 3 54 14 40 6 42 12 38 6 52 13 36 6 46 12 46 9 37 9 47 9 40 10 42 8 46 11 38 7 46 11 38 7zM1396 125l11 2 0-18-28-6-52-11-38-9-38-7-48-12-36-7-52-12-38-7-44-11-46-9-38-10-40-7-1 0 0-2-77 0 0 2 14 3 44 11 42 8 40 10 48 9 44 11 36 6 50 12 36 7 46 11 44 9 38 9 48 9zM1397 81l10 2 0-18-50-10-43-10-53-11-32-8-52-10-38-10-31-5 0-2-77 0 0 2 52 13 38 6 43 11 47 9 36 9 48 9 44 11zM1397 37l10 2 0-18-24-4-72-16 0-2-80 0 0 2 41 10 35 6 58 14z"/>
<path fill="#74b82b" d="M10 351l20 0-1-20-1-14-3-9-2-3-2-1-2 0-2 2-3 9-2 14zM52 351l19 0-1-20-1-14-4-11-2-2-2-1-2 1-2 3-2 8-2 14zM93 351l19 0 0-18-2-14-3-11-2-4-2-2-2 0-2 2-4 11-1 16zM134 351l19 0 0-18-3-26-1-4-2-2-2-1-4 2-2 3-2 6-2 13zM175 351l18 0 1-6 2-12 0-4-1-4-4-5-6-4-2 0-2 1-3 4-2 4-1 8zM215 351l20 0 1-10-1-6-4-7-6-4-4 0-4 1-2 2-3 4 0 4zM254 351l21 0 0-6-2-6-2-5-4-5-2-1-2 1-4 3-3 5-3 6zM294 351l20 0-1-6-5-12 0-4 7-6 4-2 4 0 4 1 4 4 6 9 1 6-2 10 17 0-1-10 7-14-1-4-2-4-3-3-8-4-6-1-14-1-14-7-8-2-6 1-12 6-11-7-7-3-20-6-22-7-8-1-16 2-16-2-6 2-3 3-1 2 1 4 5 5 4 1 14-6 6 0 20 11 16 1 6 2 6 4 12 10 2 0 2-1 12-10 4-2 4 3 6 6 5 6 2 4 0 2-7 12zM376 351l17 0 1-8 4-10 0-4-2-4-3-3-6-4-4-1-4 1-4 3-3 4 0 4 4 14zM415 351l20 0 1-8 0-6-3-6-6-5-4-1-4 0-4 3-3 3-1 4zM454 351l21 0 0-6-2-6-2-5-4-5-2-1-4 2-6 7-2 6zM494 351l20 0-1-5-5-11-1-4 1-2 7-5 4-2 4-1 4 1 2 1 4 5 3 5 2 4 0 4-2 10 16 0 0-10 1-4 5-10 0-4-1-2-4-5-6-3-6-1-12 1-4-1-14-8-6-2-6 0-12 3-4-1-14-6-22-4-22-9-8-1-14 0-6-1-26-6-26-9-14-3-10-1-16 0-6-1-10-3-26-9-16-4-22-3-26-1-15 2-4 2-1 2 2 2 6 2 22 3 30 6 30 11 12 3 14 2 18 0 8 2 26 9 20 5 14 4 6 1 12-3 6 1 20 10 6 1 12 0 6 2 16 11 4-1 12-8 4-1 4 3 6 5 6 8 2 4-7 12zM577 351l16 0 0-6 5-12 0-4-3-4-4-4-6-3-4 0-4 1-4 3-2 3 1 4 4 14zM615 351l20 0 1-8 0-6-4-6-5-5-4 0-4 0-4 3-2 2-1 2 0 4zM654 351l22 0-1-6-2-6-2-4-4-4-4-1-4 2-2 3-3 6zM694 351l20 0-1-6-4-7-4-5 0-2 12-8 6-2 4 1 4 3 4 5 3 5 0 6-2 10 16 0-1-8 1-4 6-12 1-4-1-2-6-6-7-3-6 0-10 2-4-1-12-7-8-3-6-1-12 1-4 0-16-6-22-3-22-8-52-8-28-9-18-4-38-5-42-13-10-2-20-2-10-1-54-17-8-1-14 1-8 0-39-14-15-4-30-4-24-2-16 1-6 1-4 2 0 2 4 2 64 13 48 16 10 1 14-1 8 1 38 13 14 3 40 5 14 4 28 9 50 7 8 2 20 8 20 2 16 5 16 0 6 1 20 9 4 1 12-1 6 1 18 10 4 0 10-5 6 0 4 2 4 3 12 13 0 2-4 3-5 7-2 4zM777 351l16 0 0-6 4-10 1-4-3-6-4-4-6-3-4 0-4 1-4 3-2 3 0 4 6 14zM815 351l20 0 1-8 0-6-4-6-5-4-4-1-4 1-4 2-3 4 0 4zM853 351l23 0-1-6-1-4-3-5-4-4-2-1-4 0-6 6-2 6zM894 351l20 0 0-2-5-10-2-3-2-1-4 2-4 5-2 5zM936 351l16 0-1-8 0-4 2-4 6-10 0-2-2-4-5-4-5-2-8-1-10 2-4 0-12-7-8-3-6-1-14 0-18-6-22-3-22-7-36-7-22-4-26-7-25-6-31-5-50-13-34-5-54-15-34-4-34-10-16-4-40-5-48-16-10-1-14 1-8 0-38-14-18-4-42-7-20-2-18 1-8 1-4 2 0 2 6 2 80 17 44 15 10 1 16-1 8 1 34 12 14 4 10 1 18 2 12 1 50 15 32 3 53 15 35 5 50 13 24 4 32 6 26 8 20 2 18 5 18 2 6 2 16 7 6 1 10-1 6 1 6 2 8 5 4 2 4 0 10-4 6 0 8 5 12 12 2 0 12-8 6-2 6 4 4 5 3 6 1 6zM977 351l15 0 1-6 5-10 0-4-3-5-4-4-6-3-4 0-4 0-4 2-3 4 1 4 5 12 1 4zM1015 351l20 0 1-8 0-6-4-6-5-4-4-1-4 1-4 3-3 3 0 4zM1053 351l23 0-1-8-2-4-4-5-4-2-2 0-2 0-4 3-4 6zM1094 351l20 0 0-2-5-9-4-4-4 2-4 4-2 5zM1137 351l15 0-2-8 0-4 2-4 8-10 0-2-3-4-5-4-5-2-8-1-10 3-4 0-13-8-7-3-20-1-20-7-20-1-22-8-18-3-20-5-22-3-51-13-37-7-48-12-40-7-46-12-42-7-40-11-46-8-46-13-34-4-54-15-10-2-18-1-8-1-12-3-26-9-12-4-8-1-16 1-8-1-39-13-17-4-50-9-18-2-12-1-12 1-10 1-5 2 2 2 7 2 88 19 50 16 8 1 16-1 8 1 36 12 12 4 10 1 24 2 12 3 44 13 10 1 18 2 8 1 46 13 42 6 42 12 44 7 44 12 38 6 54 14 28 4 36 9 20 5 20 2 20 6 18 2 6 2 16 7 4 0 16 0 6 2 10 5 4 2 4 0 10-2 6 0 6 3 14 12 4-1 10-6 6-2 2 1 4 3 8 11 1 6-3 8zM1178 351l14 0 1-6 5-10 0-4-2-4-5-5-6-2-4-1-6 2-4 2-2 2 1 4 6 12 1 4zM1215 351l20 0 1-8 0-4-2-6-5-4-4-2-4 0-5 2-3 4-1 4zM1253 351l23 0-2-8-2-4-3-4-4-2-4 0-4 2-3 4-1 4zM1294 351l20 0 0-2-5-9-4-3-2 1-6 5-2 4zM1337 351l14 0-2-8 0-4 3-4 9-10 0-2-2-2-4-4-6-3-4-1-6-1-14 3-12-7-8-3-20-2-20-7-20-1-18-6-22-5-18-4-24-4-56-14-32-6-55-13-47-9-38-10-38-6-50-13-38-6-52-14-34-5-48-13-42-7-42-12-40-5-54-16-8-1-18-1-8-1-10-3-30-10-10-3-8-1-16 1-8-1-40-13-18-5-53-10-19-3-16 0-14 0-12 1-6 2 3 2 8 2 35 7 68 16 46 14 10 2 16-2 8 1 48 17 10 1 18 1 8 1 52 15 12 2 28 3 42 12 42 7 48 13 36 5 50 13 38 6 46 12 40 7 43 11 45 8 57 14 27 4 56 14 24 3 18 6 22 4 18 6 20 0 6 2 14 7 4 1 12-2 4 0 6 3 10 8 4 3 4-1 12-7 4 0 4 2 4 4 5 7 2 4 1 4-4 8zM1378 351l14 0 1-6 5-10 0-4-3-4-4-4-6-3-4 0-6 1-4 2-2 2 1 4 5 9 2 5zM1405 299l2 0 0-14-20-5-26-5-32-7-29-7-47-9-35-9-47-9-44-11-46-9-38-9-46-9-43-11-45-8-38-10-46-9-44-11-38-6-52-14-36-5-44-13-46-7-48-14-8-1-16-1-8 0-12-4-26-9-14-4-10-2-14 2-8-1-48-16-78-15-20-2-22-1-19 1-5 2 4 2 8 2 36 7 78 18 48 15 10 1 16-1 8 1 38 14 12 3 8 1 18 0 8 1 48 15 44 6 46 13 34 5 52 13 38 6 45 12 43 8 40 10 48 9 38 10 46 8 44 11 40 8 43 10 49 9 34 9 50 10 24 6 36 8 22 3 22 7zM1401 255l6 1 0-16-44-8-47-11-45-9-38-9-44-9-45-11-37-7-52-12-32-6-53-13-37-7-45-11-43-8-40-11-46-8-46-12-34-5-52-14-40-6-48-14-10-2-16 0-10-1-38-13-12-4-10-1-16 1-8-1-42-14-61-13 0-2-78 0 0 2 37 7 52 13 32 7 44 14 10 1 14-1 8 0 12 4 30 11 10 3 10 1 16 0 8 1 48 14 42 7 50 13 34 5 46 12 44 8 40 10 46 9 45 11 33 6 52 12 38 7 48 12 36 6 53 13 37 7 46 11 38 7 45 11zM1400 211l7 1 0-15-22-4-43-10-47-9-36-9-52-10-38-10-48-9-42-11-40-7-46-12-36-6-52-13-38-6-44-12-48-9-40-11-36-5-56-15-38-5-46-14-10-2-16 0-8-1-20-6 0-2-89 0 0 2 11 2 8 1 14-2 8 2 38 13 12 3 10 2 16 0 8 1 48 14 38 5 54 15 36 5 42 12 46 7 44 12 34 5 54 14 36 6 44 11 46 9 38 9 48 9 44 11 38 7 45 11 39 8 44 10zM1394 167l13 2 0-15-52-12-34-6-54-13-36-7-46-11-40-8-42-10-48-9-40-11-48-9-42-10-34-6-54-14-38-6-40-11-34-5-16-4-4-1 0-2-72 0 0 2 18 3 48 13 42 7 40 11 36 5 56 14 34 6 43 11 49 9 36 9 46 9 44 11 38 7 46 11 38 7 54 13 36 7zM1401 125l6 1 0-16-23-5-53-11-38-9-38-7-53-13-35-6-56-14-30-5-44-11-48-9-40-11-45-8 0-2-67 0 0 2 47 12 49 9 36 10 46 8 44 11 38 7 54 13 32 5 43 11 47 9 36 9 54 11zM1402 81l5 1 0-16-52-10-37-9-55-11-35-9-49-10-42-10-32-6-2 0 0-2-67 0 0 2 49 12 32 5 42 11 48 9 38 10 52 10 37 9 37 7zM1402 37l5 1 0-15-26-5-55-13-22-4 0-2-68 0 0 2 32 8 37 7 55 13z"/>
<path fill="#7abb2c" d="M11 351l19 0-1-18-2-12-2-8-2-3-2-2-2 1-2 1-3 9-2 14zM52 351l19 0-1-18-2-12-3-10-2-2-2-1-2 1-2 3-2 7-2 14zM93 351l19 0-1-18-2-12-2-8-2-4-2-1-2 0-2 2-3 9-2 14zM134 351l19 0-1-18-3-21-2-6-2-1-2 0-2 1-2 4-2 6-2 15zM175 351l18 0 0-6 3-12-1-4-1-4-3-4-4-3-2-1-4 1-2 2-3 7-1 8zM215 351l20 0 1-10-1-6-4-6-6-4-4-1-4 2-2 1-2 4-1 6zM254 351l21 0 0-6-2-6-2-4-4-5-2-1-2 1-4 3-3 4-2 6zM294 351l20 0-2-8-6-12 0-2 9-6 4-2 4-1 4 2 4 3 4 5 2 5 1 6-2 10 16 0 0-10 6-14 0-4-5-6-8-5-6-1-14 0-14-7-6-2-6 1-4 1-5 3-1 2 0 2 14 18 0 2-7 10-2 6zM377 351l16 0 1-8 3-10 0-4-4-7-6-4-4 0-4 1-4 3-2 3 0 4 3 14zM415 351l20 0 1-8-1-6-3-6-5-4-4-2-4 1-4 2-2 3-1 2 0 4zM454 351l21 0 0-6-2-6-2-4-4-5-2-1-2 1-4 3-3 4-2 6zM494 351l20 0-1-4-2-5-4-7-2-2-2 1-2 2-4 5-2 4zM536 351l16 0-1-8 1-4 6-14-1-4-4-4-4-3-6-2-6 0-8 2-4-1-14-8-6-2-9 0-10 4-1 2 6 5 12 14 2 1 2 0 14-8 4-1 4 3 6 7 3 7 0 4zM577 351l16 0 0-6 4-10 0-4-2-6-4-4-6-3-4 0-4 2-4 3-1 2 0 4 5 14zM615 351l20 0 1-8-1-6-3-6-5-4-4-1-4 1-4 2-3 4 0 4zM654 351l21 0 0-6-1-4-3-5-4-5-2 0-4 0-5 6-2 6zM694 351l20 0 0-2-5-10-2-3-2-1-2 0-2 2-4 5-2 5zM736 351l16 0-1-8 0-4 6-12 1-4-3-4-2-2-4-3-4-1-6 0-12 2-2 0-12-8-8-3-6-1-12 2-4-1-14-6-22-3-24-8-52-8-24-8-16-4-16-3-26-3-31-10-15-4-10-1-20-2-10-2-50-16-8-1-16 2-8-1-36-13-16-5-16-2-32-3-12 0-8 2-1 2 4 2 6 2 47 11 44 15 10 2 16-2 6 1 40 13 14 4 10 1 26 2 14 4 30 10 52 7 30 10 18 3 18 4 18 1 6 2 12 6 6 2 14 0 6 0 6 3 8 5 4 2 4-1 10-4 6-1 6 4 14 14 4-2 12-7 4-1 2 1 4 4 4 5 3 6 1 6zM777 351l15 0 1-6 4-10 0-4-2-5-4-4-6-3-4 0-4 1-4 3-1 2 0 4 5 14zM815 351l20 0 1-8-1-6-3-6-5-4-4 0-4 0-4 3-2 3-1 4zM854 351l21 0-1-8-1-4-4-5-4-2-2 0-2 0-4 3-3 6zM894 351l20 0 0-2-5-9-4-4-4 2-4 4-2 5zM937 351l15 0-2-8 0-4 8-14-1-4-2-2-5-4-5-2-8 0-9 4 0 2 7 10 4 8 0 4-2 8zM978 351l14 0 1-6 4-10 0-4-2-4-4-4-6-3-4-1-4 1-4 3-2 2 0 4 6 14zM1016 351l18 0 2-8-1-6-4-6-4-3-4-1-4 1-4 3-2 2 0 4zM1054 351l21 0-1-8-3-6-4-4-2 0-2 0-4 1-3 3-2 4zM1094 351l19 0 0-2-4-8-4-4-2 1-4 3-2 2-2 4zM1137 351l14 0-2-8 0-4 2-4 7-10 0-2-2-4-5-3-6-3-8 1-5 1-3 2 0 2 8 12 3 6 0 4-3 8zM1178 351l14 0 0-6 5-10 0-4-2-4-4-4-6-3-4 0-4 1-4 2-2 2 0 4 6 14zM1216 351l18 0 2-8-1-6-4-6-4-3-4-1-4 1-4 3-1 2-1 4zM1254 351l21 0 0-6-2-4-4-5-4-2-4 0-4 2-3 5-1 4zM1294 351l19 0 0-2-4-8-4-2-2 0-2 1-4 4-2 3zM1337 351l14 0 0-2-3-6 0-4 11-14 0-2-3-4-5-3-6-2-8 0-4 1-3 2-1 2 1 2 9 12 3 6 0 2-5 8zM1378 351l13 0 1-6 5-10 0-4-3-4-4-4-5-2-6 0-4 1-4 3 0 2 7 16zM904 327l1 1 4-1 13-8 2-2-4-4-5-4-10-4-6-1-12 0-4 0-16-6-20-2-24-8-36-7-20-3-24-7-26-6-32-5-50-14-34-4-54-15-10-2-18-1-8-2-46-14-12-2-28-2-12-4-28-10-12-3-8-1-16 2-6-1-48-16-16-4-30-4-18-2-10 0-10 1-2 1 0 1 0 1 3 2 6 2 57 13 48 16 10 1 14-1 8 1 35 12 13 4 10 1 22 2 10 2 48 14 8 1 18 1 8 1 52 15 10 2 24 2 52 14 26 4 28 6 26 8 20 2 20 5 18 2 6 2 16 7 6 1 14-1 6 2 10 6 4 2 4-1 12-3 4 0 6 4zM1106 327l5-2 10-6 1-2-1-2-4-4-6-4-6-2-6-1-14 0-13-5-7-2-20-1-22-8-16-2-20-6-22-2-50-13-38-7-51-13-39-7-42-11-44-7-44-13-44-7-44-12-34-4-54-16-10-1-20-1-8-2-10-3-28-10-12-3-8-1-16 1-6 0-40-14-18-5-50-8-14-2-16 1-6 1-1 2 9 4 15 4 55 13 46 15 10 1 16-2 6 1 34 12 14 5 10 1 24 2 14 3 44 13 10 1 24 2 44 13 14 3 30 4 40 11 44 8 48 12 40 7 53 13 25 4 38 9 18 5 22 2 20 6 20 3 20 8 6 0 12-1 4 1 14 7 4 2 4 0 12-3 4 1 6 3 12 10zM1303 325l4 1 4-1 9-6 1-2 0-2-8-6-8-3-20-2-14-5-8-2-18-1-18-6-20-4-18-5-24-3-59-15-29-5-53-13-39-7-52-13-38-7-50-12-34-6-50-13-36-6-46-12-16-3-28-4-44-13-38-5-54-16-10-1-16 0-8-1-50-17-10-1-16 1-6 0-50-17-66-12-14-2-14 0-11 1-2 2 4 2 13 4 39 10 37 9 44 14 10 1 14-2 8 1 36 13 14 4 10 1 18 1 8 1 36 11 16 4 12 2 18 1 10 2 42 13 38 5 50 13 34 5 50 13 40 7 46 12 38 6 43 11 47 9 28 7 28 6 28 5 20 5 22 5 16 4 22 3 20 6 22 3 18 7 4 1 16-1 4 1 12 7 4 1 6 0 10-2 4 1 6 3zM264 321l3 0 4-2 8-6 3-4-1-2-5-4-11-6-18-4-16-6-8-2-8 0-14 4-10-2-6-1-4 2-3 3 1 4 2 2 4 1 4-1 10-5 4 0 16 10 6 3 16 2 6 2 6 3zM464 319l3 0 4-2 10-7 3-1 0-2-10-6-5-2-22-5-22-8-8-1-14 0-6 0-26-7-26-9-12-3-10-1-16 0-8-1-8-2-26-10-14-4-20-3-18 0-16 1-4 1-1 2 3 2 46 11 26 10 12 3 14 2 18 0 8 1 28 11 18 4 18 5 6 0 10-3 6 1 20 10 22 2 6 3zM1400 297l7 1 0-12-2 0-20-5-20-4-34-7-27-7-47-9-44-11-40-7-42-11-46-9-45-11-41-8-40-10-48-9-42-11-42-7-46-12-36-6-52-14-36-5-44-13-44-6-50-15-10-1-16 0-8-1-50-17-10-2-16 2-6-1-50-16-70-14-17-2-15-1-13 1-4 2 3 2 14 4 47 12 41 9 44 14 10 2 14-2 8 1 36 13 14 4 10 1 16 0 8 1 35 11 16 4 41 6 46 13 34 4 56 15 34 5 42 11 48 9 38 10 46 8 44 11 40 7 43 11 39 7 46 11 54 11 28 7 56 11 20 5 36 8 24 3 22 7zM1398 253l9 2 0-13-42-8-45-11-37-7-54-13-36-7-45-11-39-7-52-13-32-5-50-13-40-7-42-11-48-9-41-11-43-7-47-13-35-5-48-13-44-7-48-14-10-2-16 1-8-2-50-17-10-1-16 2-8-1-44-15-65-14 0-2-61 0 0 2 70 18 34 7 46 15 10 1 16-2 8 1 38 14 14 4 8 1 16 0 8 0 48 15 44 7 50 13 34 5 42 11 48 9 42 11 42 7 44 11 38 7 52 13 32 5 53 13 37 7 47 11 39 7 44 11 40 7 44 11 38 7zM1397 209l10 2 0-12-18-3-43-11-47-9-44-11-46-9-36-9-48-9-42-11-40-7-51-13-33-6-58-14-32-5-42-11-48-9-42-12-36-5-54-14-12-2-26-3-50-16-10-1-16 0-8-1-21-7 0-2-85 0 0 2 10 2 18-2 8 1 36 13 14 4 10 2 18-1 8 2 34 11 14 4 38 4 52 15 10 1 26 3 44 13 44 7 46 12 36 6 53 13 33 5 42 11 48 9 44 11 40 7 43 11 47 9 37 9 45 9 47 11zM1402 167l5 1 0-12-54-13-30-5-52-13-38-7-53-13-37-7-45-11-39-7-41-11-49-9-42-11-34-5-57-15-35-5-44-13-28-4-16-3-11-3 0-2-60 0 0 2 53 14 14 3 30 4 42 12 38 6 51 13 35 5 40 11 50 9 43 11 39 7 44 11 40 7 53 13 31 5 53 13 37 7 46 11zM1397 123l10 2 0-13-28-7-46-9-38-9-44-9-45-11-37-7-54-13-32-5-50-13-42-8-38-10-42-7-11-3 0-2-58 0 0 2 46 12 41 7 41 11 41 7 52 13 32 5 52 13 38 7 37 9 49 9 34 9 56 11zM1398 79l9 2 0-14-50-9-35-9-55-11-35-9-55-11-36-9-38-7-5-1 0-2-58 0 0 2 40 10 39 7 36 9 50 10 42 10 46 9 38 9 38 7zM1399 35l8 1 0-12-24-4-53-13-33-6 0-2-57 0 0 2 31 8 32 5 54 13z"/>
<path fill="#85c02d" d="M11 351l19 0-1-15-2-13-2-6-2-4-2-1-2 0-2 2-3 7-2 12zM52 351l19 0-1-16-2-12-3-8-2-2-2-1-2 1-2 3-2 6-2 11zM93 351l19 0-1-17-2-11-2-6-2-4-2-1-2 0-2 2-3 7-2 12zM134 351l19 0-2-24-3-12-1-3-2-3-2 0-2 1-2 4-2 5-2 14zM175 351l18 0 2-18 0-4-3-6-5-4-4-1-2 1-4 7-1 7zM215 351l20 0 1-10-1-5-4-7-6-4-6 0-4 3-2 3 0 6zM254 351l21 0 0-6-2-6-2-3-4-5-2-1-2 1-4 3-3 3-2 6zM294 351l20 0-1-4-2-6-4-6-2-2-2 0-2 2-4 5-2 5zM336 351l16 0 0-10 1-4 4-8 0-4-1-4-3-4-4-2-6-3-6 0-12 0-14-7-6-2-6 0-7 4-1 2 1 4 9 11 4 4 10-6 6-3 4 1 4 2 6 8 3 7 1 4zM377 351l16 0 0-8 4-10-1-4-3-6-6-4-4-1-4 2-5 5-1 4 4 14zM415 351l20 0 1-8-1-6-3-6-5-4-4-1-4 1-4 2-2 2-1 2 0 4zM454 351l21 0 0-6-2-6-2-3-4-5-2-1-2 1-2 1-4 4-3 7zM494 351l20 0 0-2-3-7-4-6-2-1-2 0-4 4-4 6zM536 351l16 0-1-8 0-4 5-10 1-4-1-4-3-3-4-3-6-2-6 0-10 2-2 0-11-8-9-3-8 0-7 3-1 2 2 4 10 11 4 3 4-1 14-7 2-1 2 1 6 7 5 9 1 6zM577 351l15 0 1-6 3-10 0-6-2-4-5-4-4-2-6 1-4 2-2 3 0 4 4 14zM616 351l18 0 1-8 0-6-4-6-4-3-4-1-4 0-4 3-2 3 0 4zM654 351l21 0 0-6-2-5-2-4-4-4-4-1-2 1-4 4-2 3-1 4zM694 351l20 0 0-2-5-9-4-4-4 2-4 4-2 5zM737 351l15 0-2-8 0-4 6-12 0-4-1-3-3-3-7-3-8 0-4 1-4 2 0 2 8 12 2 6 0 4zM777 351l15 0 1-6 3-10 1-4-2-4-4-4-6-3-4 0-4 1-3 2-1 2 0 4 4 14zM816 351l18 0 1-8 0-6-4-6-4-3-4-1-4 1-4 3-1 2-1 4zM854 351l21 0-1-8-2-4-3-4-4-3-2 0-4 2-2 2-2 3-1 4zM895 351l18 0 0-2-4-8-4-4-2 1-4 3-2 2-2 4zM937 351l14 0-1-8 0-4 6-12 1-4-2-3-3-3-7-3-4 0-6 1-4 2-1 2 8 14 2 4 0 4-3 8zM978 351l14 0 0-6 4-10 0-4-2-4-4-4-5-3-4 0-4 1-3 2-2 4 6 16zM1016 351l18 0 1-8 0-6-4-6-4-2-6-1-4 2-3 3-1 6zM1054 351l21 0-1-6-3-7-2-2-4-3-4 1-2 1-2 2-3 4zM1095 351l18 0 0-2-4-8-4-3-2 1-2 1-4 4-2 4zM1137 351l14 0 0-2-3-8 0-2 9-14 0-2-3-4-5-3-4-2-4 0-5 1-4 2-1 2 2 4 6 10 2 4 0 4-4 8zM1178 351l13 0 1-6 4-10 0-4-2-4-5-4-4-2-4 0-4 1-4 3-1 2 1 4 5 12zM1216 351l18 0 1-8 0-4-2-5-4-4-4-2-4 0-4 2-3 3 0 2 0 4zM1254 351l21 0-1-6-1-4-4-4-4-3-4 1-4 2-2 4-1 4zM1295 351l18 0 0-2-4-7-2-2-4 0-4 2-2 2-2 5zM1338 351l12 0 0-2-4-8 0-2 9-10 2-4 0-2-3-4-5-3-4-1-4-1-4 1-4 2-1 2 1 4 11 16-6 10zM1379 351l12 0 1-6 4-10 0-4-3-4-4-3-4-2-4 0-4 0-4 3-1 2 1 4 5 12zM702 325l3 2 4-1 11-7 2-2 0-2-7-6-10-4-8-1-11 3 0 2zM902 325l3 1 2 1 4-2 8-6 1-2 0-2-7-6-8-4-8 0-10 1-4 0-9-5-6-2-7-1-14-1-24-8-18-3-20-5-16-1-28-9-27-6-27-4-52-14-34-4-56-16-24-2-8-1-33-11-15-4-13-2-21-1-8-2-48-16-10-1-16 2-6-1-38-14-22-5-48-6-8 0-6 2 1 2 10 4 45 11 44 15 12 2 14-3 6 1 33 12 15 5 12 2 18 0 10 2 52 15 34 3 52 15 10 2 22 2 51 14 33 4 28 7 22 7 22 2 18 5 18 2 6 2 16 7 6 1 14-1 4 1 12 7 4 1 6 0 10-4 4 0 6 4zM1104 325l3 1 4-2 5-3 3-4 0-2-4-4-4-3-6-2-8-1-12 1-11-5-7-2-6-1-16 0-14-6-8-3-18-3-20-5-22-2-18-6-33-8-31-5-50-13-42-7-44-12-40-6-45-13-43-7-46-13-12-2-22-2-41-12-15-4-12-2-16 0-8-1-12-4-26-10-12-3-10-1-14 2-6 0-40-15-16-4-56-9-14-1-8 2 1 2 9 4 58 15 42 14 12 1 14-2 6 0 37 14 13 4 10 1 18 1 8 1 52 15 12 2 18 1 8 1 31 10 15 4 40 5 45 13 43 7 41 11 43 7 52 13 30 5 36 9 18 5 7 1 15 1 20 6 18 2 6 2 16 7 6 0 10-1 6 0 12 7 6 2 4 1 12-4 4 1 6 3zM1302 323l5 2 4-2 6-4 1-2 0-2-4-4-9-4-6-1-14 1-12-6-10-3-18 1-19-8-19-4-20-5-26-4-51-13-31-5-60-15-38-7-44-11-40-7-50-13-34-5-56-15-34-5-31-9-16-4-39-6-44-13-38-5-56-16-10-1-18 0-6-1-38-14-12-3-10-1-14 2-6 0-37-14-13-4-62-11-22-2-8 1-1 2 3 2 12 4 21 6 39 9 44 15 12 1 14-2 6 0 36 14 16 4 8 1 18 0 8 1 34 11 16 4 14 3 26 2 44 13 38 6 54 14 34 5 51 13 35 5 49 13 39 6 45 12 41 7 34 9 29 6 23 3 23 7 17 3 18 5 24 3 18 6 20 3 20 7 6 0 14-2 4 2 11 7 5 2 6 0 10-2 4 0 6 3zM263 319l2 1 2 0 4-2 4-3 4-4 1-2-3-4-5-4-7-3-18-5-20-6-6-1-6 1-6 2-2 2 3 4 12 8 6 2 13 1 6 2 6 4zM462 317l5 1 4-2 7-5 1-2 1-2-4-4-9-4-20-4-22-8-8-1-14 1-4-1-30-8-26-9-10-2-10-1-16 0-6 0-10-3-24-10-14-4-14-2-16-1-12 1-5 2 1 2 5 2 31 9 23 9 11 3 14 2 24 0 8 3 24 9 18 4 18 5 6-1 10-2 4 0 6 2 16 9 4 1 12 0 6 2 6 3zM663 315l2 1 5-1 11-6 1-2-5-4-8-4-6-1-16-2-22-8-22-3-32-5-26-9-10-3-21-3-25-3-28-9-16-5-10-1-20-1-8-2-54-17-10-1-14 2-6-1-38-14-16-4-14-2-28-2-10 0-5 2 1 2 5 2 37 10 46 15 10 2 16-2 6 0 36 13 16 5 10 1 20 1 8 1 12 3 31 11 9 2 18 1 24 4 8 2 24 9 18 2 18 4 18 1 6 2 16 7 6 1 10 0 6 0 4 2zM1393 295l14 1 0-8-2 0-22-7-24-3-52-13-48-9-43-11-45-9-36-9-48-9-43-11-47-9-34-9-50-9-40-11-42-7-48-13-36-5-54-15-36-5-29-9-15-4-34-4-12-3-46-14-10-1-18 0-6-1-8-2-30-11-14-5-10-1-16 3-4-1-10-3-24-9-16-5-67-13-15-2-10 0-7 0-4 2 3 2 5 2 12 4 29 8 38 9 42 13 12 2 14-3 4 0 8 3 32 12 14 4 10 1 16 0 6 0 33 11 17 5 12 2 32 4 45 13 33 4 53 14 11 2 26 3 48 13 42 7 42 11 42 7 41 11 41 7 43 11 41 7 52 13 40 7 44 11 48 9 26 7 36 7 18 2 20 7zM183 293l2 2 2 0 4-2 1-2-3-2-2 0-4 2zM1404 253l3 0 0-10-40-7-44-11-38-7-52-13-38-7-44-11-40-7-50-13-38-7-53-13-33-5-48-13-42-7-40-11-42-7-50-14-8-1-26-3-36-11-14-3-42-6-48-15-12-2-14 1-6 0-12-4-29-11-13-4-10-1-16 2-6 0-46-17-70-14 0-2-43 0 0 2 17 6 36 10 40 9 44 14 10 1 16-2 6 0 36 14 16 5 10 1 16-1 8 1 35 12 13 4 40 5 46 13 10 2 30 3 30 9 16 4 44 7 40 11 42 7 50 13 34 5 51 13 33 5 51 13 39 7 45 11 41 7 43 11 41 7 43 11 39 7zM1404 209l3 0 0-9-24-4-44-11-38-7-43-11-47-9-43-11-39-7-42-11-40-7-51-13-39-7-51-13-35-5-47-13-43-7-45-13-35-4-54-15-12-2-20-2-8-2-46-14-10-2-16 1-8-1-25-9 0-2-46 0 0 2 31 12 18 6 10 1 16-1 8 1 32 11 14 4 11 2 19 1 10 2 55 15 13 2 16 1 8 2 38 11 44 7 49 13 35 5 50 13 40 7 44 11 42 7 42 11 48 9 35 9 49 9 36 9 46 9 46 11zM1399 165l8 1 0-9-51-12-37-7-44-11-40-7-51-13-39-7-43-11-47-9-34-9-48-9-42-11-40-7-50-13-38-6-42-12-38-5-24-7 0-2-52 0 0 2 34 10 17 4 37 5 45 13 35 5 52 13 40 7 43 11 43 7 40 11 42 7 51 13 31 5 53 13 33 5 51 13 39 7 45 11zM1404 123l3 0 0-10-25-6-39-7-52-13-30-5-60-15-30-5-52-13-38-7-44-11-46-8-42-12-34-5-19-5 0-2-50 0 0 2 37 10 44 7 40 11 40 7 52 13 34 5 50 13 40 7 35 9 51 9 33 9 57 11zM1404 79l3 0 0-10-48-9-34-9-56-11-33-9-49-9-50-13-32-5-12-3 0-2-49 0 0 2 32 8 41 7 43 11 47 9 36 9 48 9 36 9 40 7zM1405 35l2 0 0-10-22-3-52-13-40-7-3-1 0-2-45 0 0 2 24 6 32 5 52 13 38 7zM422 1l7 1 6 0 3-1 0-2-16 0z"/>
<path fill="#8fc42f" d="M11 351l19 0-1-12-2-13-2-6-2-3-2-2-2 0-2 2-3 6-2 12zM52 351l19 0-1-14-2-10-2-8-3-3-2-1-2 1-3 7-3 12zM93 351l19 0-1-14-2-11-2-6-2-4-2-1-2 0-2 2-2 6-3 12zM134 351l19 0-1-16-3-13-2-6-2-3-2 0-2 1-2 4-2 6-2 15zM175 351l18 0 2-20-2-6-6-5-4-1-2 2-2 2-2 4-1 8zM215 351l19 0 2-10-1-4-4-7-6-4-6 0-4 3-1 2-1 6zM254 351l21 0-1-6-1-5-2-4-4-4-4-1-4 3-2 3-3 6zM294 351l20 0-1-4-2-5-4-6-2-2-2 0-2 1-4 6-2 5zM336 351l16 0-1-8 1-4 5-12-1-4-2-4-5-4-6-2-6-1-12 2-12-8-6-2-6 0-4 1-3 2-1 2 0 4 8 10 4 3 2 0 10-6 6-2 2 0 4 4 6 7 4 8 0 4zM377 351l15 0 1-7 3-11 0-4-4-6-5-3-4-1-4 2-3 2-2 4 0 4 3 12zM416 351l18 0 1-8 0-6-4-6-4-3-6-1-4 1-3 3-1 2 0 4zM454 351l21 0-1-6-1-5-2-4-4-4-4-1-4 3-2 2-3 7zM495 351l18 0 0-2-4-10-4-3-2 0-4 3-2 3-2 5zM537 351l15 0-1-10 0-4 5-10 0-4-3-4-2-2-4-2-4-1-8 0-6 3 0 2 8 12 2 6 0 4zM577 351l15 0 1-6 3-10 0-4-3-6-4-4-4-1-4 0-4 2-2 1-2 4 1 4 3 12zM616 351l18 0 1-8-1-6-3-6-4-3-4-1-4 1-4 3-1 2-1 4zM654 351l21 0-1-8-2-4-3-4-4-3-2 0-5 3-3 6zM695 351l18 0 0-2-4-9-2-2-2-1-2 0-4 3-2 3-2 4zM737 351l14 0-1-8 0-4 5-12 0-4-2-4-2-2-6-2-4-1-5 1-4 2-1 2 0 2 6 10 3 6 0 4-3 8zM778 351l14 0 0-6 4-10 0-4-2-4-4-4-5-3-4 0-4 2-2 1-2 4 1 4 4 12zM816 351l18 0 1-8-1-6-3-5-4-3-6-1-4 2-3 3 0 6zM854 351l21 0-1-8-5-8-2-1-4-1-4 2-2 2-3 6zM895 351l18 0 0-2-4-8-4-3-2 0-4 3-2 3-2 4zM937 351l14 0-2-12 1-4 5-8 0-4 0-2-4-4-6-2-4 0-4 0-3 2-2 2 1 4 6 10 2 4 0 4-4 8zM978 351l13 0 1-6 4-10 0-4-2-4-5-4-4-2-4 0-4 1-3 3-1 2 1 4 4 12zM1016 351l18 0 1-8-1-6-3-5-4-3-6 0-4 2-2 2-1 2 0 4zM1054 351l21 0-1-6-3-6-2-3-4-2-2 0-4 2-4 5-1 4zM1095 351l18 0 0-2-4-7-2-2-4-1-4 3-2 3-2 4zM1138 351l13 0 0-2-3-6-1-4 1-2 7-10 0-4-1-2-3-3-6-3-4 0-4 1-2 1-2 2 1 4 7 12 2 4-1 2-4 8zM1179 351l12 0 1-6 3-10 0-4-2-4-4-3-4-2-4 0-4 1-3 2-1 2 1 4 4 12zM1216 351l18 0 1-8-1-4-3-6-4-3-6-1-4 2-2 3-1 5zM1254 351l21 0-1-6-2-4-3-4-4-2-4 0-4 3-2 3-1 4zM1295 351l18 0 0-2-3-4-3-4-4-1-4 3-2 2-2 4zM1338 351l12 0 0-2-3-5-2-2-2 1-2 2-3 4zM1379 351l11 0 1-6 4-10 0-4-2-3-4-3-4-2-7 0-3 2-1 2 0 4 5 12zM1344 335l1 1 2-1 4-3 4-5 0-4-2-3-4-3-6-2-4 1-4 2-1 3 3 6zM503 325l4 1 4-2 9-5 2-2 0-2-7-6-6-4-6-1-7 1-4 2-1 2 0 2 5 6zM704 325l3 1 2-1 7-4 4-4 0-2-2-2-5-4-8-4-8 0-6 2-1 2 0 2 9 10zM905 325l4 0 8-6 1-2 0-2-1-2-5-4-7-3-8 0-6 1-2 2 1 2 9 10zM1102 323l5 1 4-1 5-4 1-2 0-2-4-4-8-4-10 0-5 2 0 2 1 2zM1304 323l5 0 6-4 1-2 0-2-2-2-5-4-6-1-6-1-6 2 0 2 3 4 7 6zM265 319l2 0 4-2 7-6 0-2 0-2-2-2-5-4-8-3-16-4-20-7-10 0-5 2-1 2 0 2 1 2 9 7 6 2 14 2 6 2zM461 315l4 2 4-1 7-5 1-2 0-2-3-4-7-3-20-4-22-9-10-1-14 3-11-4-23-7-26-9-14-2-16 1-6 0-12-4-26-10-12-4-12-2-14 0-12 1-1 2 8 4 21 7 23 9 9 3 14 2 18-2 6 1 10 3 21 9 21 5 14 4 6 0 12-4 4 0 20 12 6 1 12 1 6 1 6 3zM661 313l4 1 4 0 6-3 2-2 1-2-4-4-5-3-6-1-16-1-22-9-8-2-16-1-16-3-12-2-6-1-18-7-16-4-42-5-31-11-15-4-36-3-54-18-12-1-14 4-4-1-31-13-21-7-14-2-22-1-8 0-5 2 3 2 5 2 25 7 42 15 12 2 6-1 10-3 4 1 28 11 22 7 14 2 18 1 8 1 10 2 30 11 8 2 24 2 22 4 8 1 20 8 8 2 18 2 16 4 18 0 6 2 12 7 6 2 4 0 12 0 6 1zM865 313l4 0 5-2 4-2 1-2-4-4-6-3-8-1-14 1-14-7-12-4-18-2-16-4-20-2-30-10-24-5-20-2-8-2-24-7-26-7-8-1-16-1-8-1-54-16-11-2-17 0-6-1-31-11-17-5-12-2-20 0-8-2-14-4-24-9-14-4-12-1-5 1-9 3-37-15-20-6-13-2-34-3-8 0-5 1 3 2 4 2 34 9 36 13 12 3 12 2 6-2 8-3 4 1 31 13 19 6 12 2 26 1 14 4 28 9 14 4 8 0 20 1 36 11 18 5 10 2 18 0 6 1 48 14 10 2 18 1 8 2 30 8 20 6 6 1 16 1 18 5 18 2 22 9 6 1 14-3 4 2 11 7zM1062 311l5 1 4 0 7-3 1-2-4-4-10-4-8 0-6 2 0 2 2 2zM1264 311l5 1 4-1 5-2 1-2-5-4-7-3-8-1-6 2 0 2 1 2 6 4zM1023 303l6 1 6-1 6-2 0-2-6-4-10-4-20-3-18-5-20-1-26-9-26-6-10-2-22-3-48-13-44-7-46-13-34-5-10-2-40-12-10-2-22-2-10-2-48-14-10-2-16 0-6-1-38-12-24-6-10-1-14 0-6 0-40-15-10-3-8-1-6 0-13 4 2 2 23 10 16 6 10 3 12 2 16-1 8 1 41 13 15 4 10 1 16 0 8 1 29 10 15 4 12 2 24 3 10 2 38 11 10 2 34 5 33 9 17 4 36 5 32 9 24 6 26 3 18 5 20 4 19 6 23 1 19 7 15 1 6 2zM1220 301l5 2 6 0 6-2 1-2-2-2-7-4-8-2-16-2-18-6-8-1-14 0-21-7-39-10-24-3-58-15-24-3-16-4-42-11-42-7-48-13-36-5-54-15-36-5-29-9-15-4-12-2-32-4-44-14-10-2-24-1-56-17-12-2-18 1-6-1-36-14-14-4-8-1-8 0-9 3 0 2 32 14 19 6 12 2 14-2 6 1 34 11 22 6 13 2 23 1 8 2 25 9 15 4 28 3 10 2 47 13 37 5 48 13 11 2 27 3 47 13 43 7 33 9 19 4 34 5 23 7 17 4 20 4 24 3 22 7 24 5 12 3 10 1 14 0 18 8 6 1 12 1 6 1zM1390 293l17 1 0-4-2 0-14-5-8-2-8-1-9 1 3 2 8 4zM1338 281l13 2 4 0 3-2-10-4-21-5-18-5-30-5-20-4-40-11-42-7-31-9-18-4-39-7-41-11-49-9-41-11-41-7-42-11-40-7-48-13-10-2-26-3-54-15-12-2-18-1-8-2-42-13-10-2-32-4-54-16-12-1-14 1-6-1-40-15-14-4-8-1-6 1-7 2-3 2 3 2 23 10 16 6 10 3 12 1 14-1 6 0 31 11 21 6 13 2 19 1 10 2 46 14 10 1 18 1 8 2 48 13 14 3 24 2 45 13 45 7 39 11 45 7 40 11 42 7 51 13 33 5 51 13 33 5 51 13 45 7 30 9 20 3zM1403 251l4 0 0-6-34-5-48-13-40-7-50-13-32-5-58-15-32-5-49-13-41-7-25-7-24-6-35-5-46-13-44-7-44-13-36-5-54-15-10-1-22-2-34-11-16-4-12-2-24-2-10-3-34-11-12-3-12-2-14 2-4 0-39-15-15-5-8-1-6 0-8 2-4 2 2 2 22 10 16 6 13 4 11 1 16-2 4 0 35 13 15 4 10 2 20 1 10 2 54 15 10 2 22 1 28 9 15 4 47 7 42 12 40 6 49 13 35 5 50 13 34 5 50 13 42 7 42 11 42 7 43 11 43 7 41 11 22 4 21 3zM1398 205l9 2 0-4-18-3-31-9-17-4-40-7-40-11-50-9-40-11-40-7-50-13-32-5-50-13-10-2-24-3-55-15-11-2-26-3-44-13-46-7-42-13-11-2-19-1-8-1-38-12-15-4-12-2-19-1-8-2-48-15-12-2-16 2-6-1-28-11 0-2-42 0 0 2 9 4 20 8 15 4 12 2 16-2 6 0 30 12 20 6 36 3 52 15 12 2 20 1 8 2 28 9 16 4 38 5 48 13 10 2 26 3 48 13 12 2 30 4 34 10 19 4 33 5 40 11 44 7 40 11 44 7 50 13 34 5 50 13 34 5zM1400 163l7 0 0-3-2 0-23-7-24-6-33-5-24-7-24-6-42-7-39-11-20-4-29-5-25-7-16-4-43-7-46-13-24-3-18-4-48-13-28-3-38-11-25-6-31-4-44-13-36-5-29-8 0-2-45 0 0 2 26 8 15 4 15 3 26 2 44 13 10 2 26 3 58 15 34 4 41 12 45 7 39 11 43 7 50 13 34 5 50 13 36 5 49 13 11 2 24 3 41 11 19 4zM340 157l9 1 6 0 10-3 2-2-32-14-22-7-52-8-12 0-6 1 1 2 10 4 41 11zM1403 121l4 0 0-6-23-6-41-7-49-13-33-5-57-15-23-3-10-2-49-13-11-2-24-3-46-13-50-9-38-11-36-5-26-7 0-2-41 0 0 2 29 8 21 4 25 3 46 13 34 5 54 14 32 4 49 13 43 7 33 9 19 4 34 5 31 9 19 4 34 5 31 9zM368 119l9-1 9-3-1-2-18-8-20-8-14-4-60-10-12-1-7 1 0 2 3 2 11 4 45 11 40 14zM383 79l6 1 6-1 8-2 3-2-7-4-19-8-16-6-13-4-66-11-15-1-5 2 7 4 12 4 21 6 30 7 34 11zM1403 77l4 1 0-8-42-6-37-11-51-9-39-11-41-7-57-15-33-5-19-5 0-2-39 0 0 2 24 6 20 4 24 3 40 11 44 7 39 11 43 7 51 13 35 5zM399 39l8 1 8 0 8-3 2-2-8-4-19-8-25-8-73-14 0-2-24 0 0 2 2 2 15 6 27 8 39 9zM1405 33l2 0 0-6-18-1-30-9-24-6-42-7-10-3 0-2-32 0 0 2 15 4 11 2 24 3 51 13 13 3 24 2z"/>
<path fill="#9ac930" d="M11 351l19 0-1-12-2-10-2-7-2-3-2-1-2 0-2 2-2 5-3 10zM52 351l19 0-1-12-2-10-3-8-2-3-2 0-2 1-3 6-3 12zM93 351l19 0-1-11-2-12-2-6-2-3-2-1-2 0-2 2-2 4-2 11zM134 351l19 0-1-14-3-13-2-5-2-2-2-1-2 1-2 4-2 7zM176 351l17 0 1-20-2-6-5-4-4-1-2 2-3 5-2 8zM216 351l18 0 1-10 0-4-4-7-6-4-6 0-4 3-1 2-1 6zM254 351l21 0-1-6-1-4-2-4-4-5-4 0-6 5-3 6zM295 351l19 0-1-4-2-5-4-6-2-1-2 0-4 3-3 7zM337 351l15 0-1-8 0-4 5-12 0-4-3-4-6-4-6-2-6 0-4 1-4 1-1 2 8 10 4 8 1 6zM377 351l15 0 0-6 4-14-3-6-6-5-4 0-4 1-2 2-2 4-1 4 3 12zM416 351l18 0 1-8-1-6-3-6-4-3-4-1-4 1-4 2-2 3 0 4zM454 351l21 0-1-6-1-4-2-4-4-4-4-1-4 3-2 2-3 6zM495 351l18 0 0-2-4-9-4-3-2 0-4 3-2 3-2 4zM537 351l15 0-2-8 0-4 5-12 0-4-2-3-3-3-7-3-8 1-4 2-1 2 8 14 1 4 1 4-3 8zM578 351l14 0 0-6 3-10 1-4-3-6-4-3-4-2-6 1-3 2-2 4 0 4 4 12zM616 351l18 0 1-8-1-6-3-5-4-3-4-1-4 1-3 2-2 2 0 4zM654 351l21 0-1-8-5-8-4-2-4 1-2 1-4 6zM695 351l18 0 0-2-4-8-4-3-2 0-4 3-2 3-2 5zM737 351l14 0-2-12 6-12 0-4-4-5-6-3-4 0-4 1-3 1-1 2 0 4 5 8 2 6 0 4-3 8zM778 351l13 0 1-6 3-10 0-4-3-6-3-2-4-2-4 0-4 2-2 2-1 2 0 4 4 12zM816 351l18 0 1-8-1-6-3-4-4-4-6 0-4 2-2 2-1 6zM854 351l21 0-2-8-4-7-4-2-2 0-2 0-3 3-3 6zM895 351l18 0 0-2-4-7-2-2-4-1-4 3-2 2-2 5zM938 351l13 0-3-12 6-12 0-4-3-4-6-3-6 0-3 1-2 2 0 4 8 14-1 4-3 8zM978 351l13 0 1-6 3-10 0-4-2-4-4-3-4-2-4 0-4 1-2 2-1 2 0 4 4 12zM1016 351l18 0 1-8-1-4-3-6-4-3-6-1-4 3-2 2-1 5zM1055 351l19 0-1-8-2-4-4-3-4-1-2 0-4 3-2 3-1 4zM1095 351l18 0 0-2-4-6-4-3-2 0-4 3-2 2-2 4zM1138 351l12 0-1-5-4-6-4 4-3 5zM1179 351l11 0 1-6 4-10-1-4-2-4-3-2-4-2-6 0-3 2-2 2 1 4 4 12zM1217 351l16 0 1-8 0-4-3-5-4-3-6-1-4 2-2 3 0 4zM1255 351l19 0 0-4-1-4-4-5-2-1-4-1-4 1-3 4-1 4zM1296 351l16 0 0-2-3-5-2-2-4-1-2 1-3 3-2 4zM1339 351l10 0 0-2-2-4-2-1-2 0-2 2-2 3zM1380 351l10 0 0-6 4-10 0-4-3-4-4-3-4-1-6 2-2 2 0 2 5 14zM1145 337l2-1 6-7 1-4 0-2-3-4-3-2-5-1-4 0-4 3 0 4 6 9zM1344 333l1 1 2-1 4-3 2-3 1-4-3-3-4-3-4 0-4 0-3 2 0 4 5 7zM302 323l3 2 4-1 12-7 2-2-4-4-8-5-6-2-6 1-3 2-2 2 0 2 3 6zM502 323l3 2 4-1 9-5 2-2 0-2-3-4-8-5-6-1-6 1-2 1-2 2 0 2 4 6zM702 323l3 1 2 1 4-2 6-4 1-2 0-2-3-4-8-4-6-1-7 1-2 2 1 4zM903 323l4 1 6-3 4-4-2-4-5-4-5-2-8 0-4 1-1 3 1 2 5 6zM1105 323l4 0 5-4 1-2 0-2-1-2-5-3-6-2-6 0-3 1-1 2 2 4 6 6zM1303 321l4 1 3-1 3-2 1-2-1-2-3-4-5-2-6 0-4 1-1 1 0 2 2 2zM262 317l3 1 4 0 4-3 3-4 0-4-3-4-4-2-6-3-16-3-20-7-8 0-3 1-3 2 0 2 1 2 7 6 8 3 16 2 6 3zM462 315l5 1 5-3 3-4 1-2-2-2-7-4-20-4-14-6-8-3-10-1-5 2-2 2 3 4 12 8 8 2 10 0 6 1zM664 313l4 0 4-2 3-2 0-2-1-2-3-2-6-3-6 0-12 0-13-7-9-3-8-2-16 1-13-4-17-3-24-9-10-2-20-3-24-2-29-11-17-5-10-1-20 0-6-1-42-15-14-4-6-1-6 0-7 3 0 2 2 2 8 4 15 6 19 6 13 2 20-1 8 2 43 15 11 2 16 0 10 1 18 4 23 9 7 2 20 1 16 4 14-1 4 1 20 11 8 2 16-2 2 1 10 7zM863 311l4 1 4-1 3-2 1-2-1-2-2-2-5-2-6-1-6 1-2 2 1 2 5 4zM1061 309l4 2 4 0 5-2 1-2-1-2-5-3-6-1-5 0-2 2 0 2zM1263 309l6 1 3-1 2-2-1-2-6-3-6-1-4 2 1 2zM824 303l5 1 6-1 4-2 1-2-5-4-12-5-22-2-12-3-6-1-6 0-8 1 14 6 18 1 4 1zM1021 301l6 2 4-1 4-1 1-2-1-2-3-2-9-3-6-1-14-1-7-3-11-3-6 0-4 1 1 2 9 4 20 1zM1226 301l3 0 4-2-1-2-3-2-6-2-6-1-5 1 1 2 3 2 5 3zM375 293l6 2 6-1 4-1 3-2 0-2-7-4-48-16-14-1-8 1-5 2 3 2 28 12zM1187 291l6 1 5-1 0-2-11-4-9 0 0 2 3 2zM1383 289l6 1 4-1-3-2-5-1-4 0-1 1zM745 285l8 1 12-1 1-2-13-6-12-4-30-6-22-1-25-9-29-8-12-1-14 1-4-1-2-1-21-8-33-9-8-2-8 0-6 1-4 2 20 8 26 8 10 2 10 1 20 0 18 7 27 8 17 3 20 0 14 5 18 5zM941 283l6 1 6 0 4-1 0-2-8-4-6-2-34-8-12-1-7 1 3 2 11 4 21 5zM1141 281l6 1 4-1-2-2-5-2-15-3-15-5-11-2-10 0 2 2 10 4 24 5zM277 273l8 1 8 0 9-1 4-2-31-14-18-6-10-1-10-1-8 0-5 2 1 2 4 2 35 14zM1308 273l10 0-4-2-6-2-7-1-4 1zM860 265l9 1 9-1-2-2-10-4-28-8-19-3-22-2-40-13-18-4-30-3-34-11-14-4-14-2-20-1-54-17-14-2-14 2 2 2 14 6 25 8 19 3 26 2 42 14 16 2 24 2 14 4 22 7 16 4 14 2 20 1 35 11zM1061 263l7 0-2-2-33-10-14-3-14-1 0 2 23 8zM1233 257l9 0-3-2-11-4-13-2-6-1-2 1 10 4zM981 245l3 0-1-2-39-12-9-2-14-2-6 0-2 1 0 1 23 8 16 4zM1147 239l10 1 5-1-9-4-14-4-22-3-2 0-2 1 18 6zM301 235l8 1 6-1 5-2 1-2-6-4-13-6-15-6-12-3-10-2-12-1-10 0-6 2 8 4 43 16zM1328 233l7 1 2-1-12-3-2 0-2 1zM491 231l8 1 8 0 8-1 2-2-24-10-18-6-20-4-20 1-6-1-36-14-16-5-12-1-7 2-1 2 1 2 3 2 8 4 15 6 12 4 15 3 26 0 39 13zM877 225l18 2 4-1 1-1-30-10-25-6-14-1-10 1 30 10zM1062 221l15 1 3-1-15-6-15-4-23-3-4 0-2 1 25 8zM1251 217l8 1 3-1-11-4-17-4-7-1-3 1 10 4zM791 207l16 1 10-1-29-10-23-6-14-2-22-1-23-9-21-6-20-3-24-2-30-11-16-5-12-1-22-1-39-13-21-6-14-1-6 1-4 2 7 4 15 6 27 8 17 3 22 0 31 11 14 4 13 2 24 1 42 13 16 4 10 1 18 0 27 9zM977 203l18 2 2 0 2-2-23-8-15-4-22-3-10 0-1 1 5 1 28 9zM1177 201l7 0-3-2-5-2-21-6-14-3-6 0-3 1 4 2 12 4 17 4zM318 195l7 1 6 1 7-2 3-2-1-2-3-2-7-4-20-8-13-4-12-2-15-2-17-1-7 1 2 2 5 2 22 7zM1354 195l6 0-13-4-5 0zM520 193l11 0 9-2-24-10-29-9-16-2-16 1-1 2 28 10 25 8zM911 187l16 1 1-1-7-1-34-11-15-4-33-3-41-13-15-4-16-1-12 1 4 1 25 9 14 4 26 4 17 1 42 13 10 2zM1090 183l9 1 4-1-8-4-29-8-15-2-10 0 9 4 13 4zM1266 177l13 2 1-2-11-4-9-2-9-1-3 1zM421 173l8 1 8 0 11-1 3-2-35-14-17-6-12-1-7 1-3 2 1 2 2 2 8 4 19 8zM1005 165l8 1 7-1-3-2-10-4-22-6-20-4-10-1-6 1 9 4 13 4 23 6zM1192 161l8 0-2-2-5-2-21-6-13-1-3 1 17 6zM344 157l10 0 5-2 2-2-5-4-13-6-15-6-13-4-12-2-34-4-14 0 1 2 4 2 33 9 36 13zM740 151l9 0 3-2-29-10-30-8-14-1-13 1 20 8 20 6 17 4zM920 147l16 0-2-2-5-2-24-8-20-4-14-2-16-1-39-13-19-4-22-1-56-17-16-2-6 0-6 2 19 8 20 6 23 4 18 1 8 1 29 10 15 4 14 2 20 1 44 13zM1107 143l10 1 4-1-22-8-16-4-14-1-4 1 10 4 12 4zM1294 139l8 0-10-4-17-4-8-1-2 1 12 4zM446 135l14 0 7-2-1-2-26-12-19-7-8-1-6 0-4 0-5 2-1 2 2 2 12 6 20 8zM635 131l14 1 14-1-2-1-1-1-20-8-23-7-14-2-24-2-46-15-14-3-12-1-7 2 0 2 7 4 28 10 18 4 26 1 8 2 34 11zM1022 125l15 1 2 0 2-1-31-10-17-4-12-1-7 1 9 4 12 4zM1207 121l10 1 2 0 2-1-10-4-15-4-17-3-4 0-2 1 11 4zM360 117l9 1 6-1 5-2 0-2-6-4-18-8-11-4-14-4-56-8-9 0-1 2 4 2 11 4 35 9 31 11zM1387 115l6 1 2-1-6-2-7 0zM936 107l15 2 4-1 3-1-16-6-29-8-18-3-8 0-5 1 9 4 13 4zM1121 103l12 1 4 0 1-1-15-6-15-4-19-3-6 0-2 1 25 8zM1311 99l7 0-4-2-12-4-11-2-4 0 1 2 6 2zM462 95l9 1 6 0 6-1 3-2-2-2-12-6-19-8-13-4-13-2-8 2-2 2 1 2 3 2 13 6 15 6zM664 93l13 0 6-2-19-8-18-6-21-4-30-3-38-13-14-4-8-1-6 0-7 1-2 2 6 4 9 4 24 8 16 3 20 0 8 2 42 13zM850 89l11 1 11-1-13-6-19-6-17-4-38-5-33-11-13-3-12-2-15 1 2 2 10 4 23 8 20 4 22 1 14 4 30 9zM1036 85l15 1 5-1-21-8-16-4-15-2-12 0 3 1 1 1 24 8zM1225 81l12 1 2-1-26-8-10-2-9 0 2 2 5 2zM377 77l8 2 6 0 6-2 3-2-1-2-3-2-8-4-20-8-13-4-62-11-12-1-5 2 3 2 10 4 48 13zM969 69l14 0-38-12-15-4-17-2-4 1-2 1 15 6 12 4 19 4zM1150 65l11 0-3-2-5-2-30-8-12-2-10 0 3 2 12 4zM1326 59l11 2 2-2-12-4-11-2-6 0 3 2zM489 57l10 0 6-2 0-2-6-4-13-6-25-9-8-2-6 0-6 1-4 2 1 2 2 2 17 8 18 7zM680 53l13 1 14-1-4-2-21-8-28-8-17-3-22 0-34-13-18-5-12-2-6 1-4 2 1 2 7 4 15 6 13 4 18 4 22-1 39 13zM880 51l12 0 1-2-22-8-32-8-18-2-6 1-2 1 17 6 21 6 16 4zM1064 47l12 0-1-2-10-4-21-6-25-4-13 0 39 12zM1253 43l3 0 0-2-17-6-12-2-6-1-4 1 4 2 11 4 8 2zM403 39l10 0 5-2 1-2-2-2-3-2-13-6-16-6-12-4-32-5-36-7-10-1-7 1 1 2 4 2 17 6 45 11 32 11zM780 31l13 1 14-1-25-10-21-6-12-2-18 0-6-1-33-11 0-2-37 0 0 2 33 10 19 3 26 2 32 11zM985 29l7 0 0-2-5-2-17-6-14-4-15-2-18 0 4 1 14 5 18 6 10 2zM1168 25l11 0-16-6-22-6-10-1-6 1 9 4 13 4zM1355 21l5 0-3-1zM1345 19l10 2 1-2-15-4-10-1 0 1zM504 17l13 1 4-1 4-2-1-2-3-2-22-10 0-2-37 0 0 2 13 6 15 6zM897 11l16 1 6-1-32-10 0-2-33 0 0 2 13 4zM1081 7l14 1 2 0 2-1-17-6 0-2-27 0 0 2zM1266 3l9 1 4-1-4-2 0-2-17 0 0 2z"/>
<path fill="#b0d130" d="M11 351l18 0-2-20-2-6-2-4-2-1-2 0-2 2-2 4-2 11zM52 351l19 0-3-20-3-8-2-3-2 0-2 1-3 6-2 10zM93 351l19 0-1-10-2-11-2-6-2-3-2-1-2 0-2 2-2 5-2 10zM135 351l18 0-2-14-2-10-2-5-2-3-2 0-2 1-2 3-2 7zM176 351l16 0 2-20-3-6-4-3-4-1-2 2-3 4-2 8zM216 351l18 0 1-10 0-4-4-6-6-4-6 0-5 4-1 6zM254 351l21 0-1-6-1-4-2-4-4-4-4-1-4 3-2 2-2 6zM295 351l18 0 0-2-4-10-4-3-2 0-4 3-2 3-2 5zM337 351l15 0-2-10 6-14-1-4-2-4-6-4-6-2-8 1-2 1-2 2 1 4 7 10 2 6 1 4-3 8zM377 351l15 0 0-6 3-14-2-6-6-4-6 0-4 3-2 3 0 4 2 12zM416 351l18 0 1-8-1-6-3-5-4-4-4-1-4 1-4 3-1 2-1 4zM454 351l21 0-1-6-1-4-2-4-4-4-4 0-4 2-2 3-2 5zM495 351l18 0 0-2-4-8-2-3-2-1-2 0-4 3-2 3-2 4zM537 351l14 0-1-8 0-4 4-12 0-4-2-4-3-2-6-2-4 0-4 1-2 1-1 2 1 4 5 8 2 6 0 4-3 8zM578 351l14 0 0-6 3-10 0-4-2-4-2-3-6-3-6 1-2 1-2 4 0 4 3 12zM616 351l18 0 1-8-1-6-3-4-4-4-6 0-4 1-2 3-1 6zM655 351l19 0-1-8-4-7-4-3-4 1-2 2-3 3-1 3zM695 351l18 0 0-2-4-7-2-2-2-1-2 0-4 2-2 3-2 5zM737 351l14 0-2-12 5-12 0-4-3-4-6-3-6 0-3 1-2 2 0 4 7 14 0 4-4 8zM778 351l13 0 1-6 3-10 0-4-4-6-6-3-6 0-3 3-1 2 0 4 3 12zM816 351l18 0 0-8 0-4-3-6-4-3-6-1-4 3-2 2-1 5zM855 351l19 0-1-8-4-6-4-3-2 0-4 2-2 3-2 4zM895 351l18 0 0-2-4-6-4-3-2 0-4 2-2 3-2 4zM938 351l12 0 0-2-3-10 6-12 0-4-3-4-5-2-6 0-3 2-1 2 1 4 7 12-1 4-4 8zM979 351l12 0 0-6 3-10 0-4-2-4-3-3-4-1-6 0-3 2-1 2 0 4 4 12zM1017 351l16 0 1-8 0-4-3-5-4-3-6-1-4 2-2 3 0 4zM1055 351l19 0-1-8-3-4-3-3-2-1-4 1-2 1-3 4-1 4zM1096 351l16 0 0-2-3-5-2-2-4-1-2 1-3 3-2 4zM1139 351l11 0 0-2-3-5-2-1-2 0-2 2-2 4zM1179 351l11 0 0-6 4-10-1-4 0-2-4-4-4-1-6 0-2 1-2 4 4 14zM1217 351l16 0 1-8-1-4-2-4-4-4-6 0-4 2-1 2-1 4zM1255 351l19 0 0-4-2-4-3-4-2-2-4-1-4 2-3 3-1 4zM1296 351l16 0 0-2-3-5-2-1-4-1-5 3-2 4zM1339 351l10 0 0-2-2-3-2-1-2 0-4 4zM1380 351l9 0 1-6 3-10 0-4-2-3-4-3-4-1-4 1-2 2-1 2 0 4 4 10zM1143 333l2 1 2 0 4-5 2-4-2-4-2-2-6-2-4 1-1 1-1 2 1 4zM1344 331l3 0 2-1 3-3 0-2-1-3-2-2-6-2-4 1-1 2 0 2 3 6zM304 323l3 1 2-1 7-4 3-2 1-2-1-2-4-4-8-4-6 0-4 2-1 2-1 4 4 6zM504 323l3 1 4-2 5-3 2-2 0-2-3-4-6-4-6-1-4 0-4 3-1 2 3 6zM704 323l5 0 4-2 3-4 0-2-3-4-4-3-6-1-6 0-3 2 0 2 0 2 5 6zM902 321l3 2 4-1 5-3 1-2 0-2-4-4-4-2-6-1-6 1-1 2 1 2 3 4zM1103 321l4 1 3-1 2-2 1-2 0-2-4-4-4-2-4 0-4 1-2 1 2 4 3 4zM1302 319l3 1 4-1 2-2 0-2-2-2-4-2-4-1-3 1-1 2 1 2zM264 317l3 0 2 0 4-3 2-3 1-2-2-4-6-4-7-3-14-3-19-6-7 0-5 2-1 2 1 2 4 4 3 2 6 2 12 1 6 2zM460 313l5 2 4-1 4-3 1-2 0-2-4-4-4-2-19-3-15-7-6-2-9-1-3 1-3 2 0 2 2 2 10 7 8 2 12 0 4 1 4 1zM662 311l3 1 4-1 3-2 1-2-1-2-3-2-6-2-6 0-4 2 3 4zM862 309l5 1 3-1 2-2-1-2-4-2-6-1-3 1-1 2zM1062 307l5 2 4-2-1-2-1-1-3-1-3 0-2 0-1 2zM1266 307l1 0 0-2-2-1-2 1zM626 303l5 1 5-1 5-2 0-2-5-4-9-4-10-1-7 1 0 2 4 4 7 4zM822 301l5 1 4 0 4-1 1-2-1-2-3-2-9-3-10-1-3 2 5 4zM1020 299l7 2 2 0 3-2-1-2-4-3-6-1-5 0-1 2zM379 293l8 0 3-2 0-2-2-2-5-2-40-14-14-2-4 0-5 2 0 2 3 2 21 10 7 2 16 3zM581 289l4 1 4-1-3-2-9 0zM545 285l12 2 12-2-3-2-11-6-12-4-9-2-9-1-10 0-5 1zM742 283l9 1 6-1 0-2-3-2-10-4-8-2-23-3-4 0-2 1zM941 281l8 0-1-2-5-2-10-2-8-1-1 1zM280 273l13 0 5-2-1-2-11-6-13-6-12-4-10-2-10-1-8 1-1 2 6 4 22 10 11 4zM914 273l8 0-9-2-4-1-2 1zM468 269l13 0 3 0 3-2-6-4-9-4-16-6-15-3-8 0-5 1-1 2 7 4 20 8zM659 265l12 2 4-1 3-1-2-2-9-4-28-8-12-1-7 1 2 2 9 4zM849 261l12 2 2-2-10-4-13-4-13-2-8 0 3 2 5 2zM1031 255l4 0-4-1zM1024 253l5 1 1-1zM383 251l8 1 8 0 5-1 1-2-7-4-9-4-29-10-11-2-4 0-5 2 0 2 1 2 7 4 20 8zM587 249l4 0 4-2-2-2-9-4-25-8-16-3-6 0-4 1 0 2 3 2 16 6 21 6zM762 243l13 2 2-1 2-1-8-4-19-6-11-2-10 0 1 2 9 4zM952 239l8 0-3-2-13-4-11-1-1 1 11 4zM307 235l8-1 1-1 1-2-1-2-7-4-18-8-13-4-13-2-14 0-2 0-2 2 7 4 30 12 13 4zM497 231l6 0 6-2-1-2-4-2-8-4-24-8-11-2-8 0-5 0-3 2 7 4 21 8 13 4zM675 225l14 2 4-1 3-1-13-6-18-6-16-2-4 0-2 2 13 6zM865 221l14 2 2-2-11-4-14-4-11-2-5 0 0 2 5 2zM399 211l14 2 10-2 0-2-8-4-19-8-13-5-8-2-6 0-6 1-3 2 1 2 3 2 7 4 15 6zM604 209l7 0 3-2-13-6-24-8-14-2-5 0-3 2 1 2 4 2 15 6 15 4zM789 205l6 1 5-1-1-2-4-2-19-6-19-4-7 0-1 2 10 4 13 4zM968 199l9 1 2 0 1-1-11-4-9-2-7 0 3 2zM321 195l6 1 6-1 4-2 0-2-6-4-8-4-14-6-10-3-18-3-19 0-1 2 4 2 42 16zM513 191l12 1 4-1 1-2-6-4-10-4-26-8-15-2-6 0-3 2 1 2 4 2 10 4 18 6zM701 187l10 1 5-1-1-2-8-4-18-6-20-3-6 0-3 1 3 2 17 6zM892 183l6 0 0-2-16-6-13-3-8 1 3 2 10 4zM425 173l10 0 2 0 5-2-2-2-7-4-18-8-12-4-8-2-6 0-4 0-4 2 0 2 2 2 11 6 15 6zM615 169l14 0 1 0 1-2-12-6-18-6-14-3-11 1 0 2 12 6 17 6zM806 165l9 1 4-1-3-2-10-4-20-6-11-1-4 1 2 2 9 4 13 4zM996 161l5 0-3-2-14-4-7-1-2 1 12 4zM337 155l12 1 6-1 2-2-1-2-3-2-7-4-14-6-13-4-10-2-14-2-20-1-5 1 4 2zM530 151l13 1 8-1-1-2-9-4-29-10-17-3-6 0-4 1 0 2 3 2 9 4 17 6zM719 147l14 2 5-2-3-2-10-4-20-6-16-3-6 0-3 1 1 2 10 4zM907 143l10 1 4-1-9-4-14-4-13-1-2 1 10 4zM440 133l13 1 7-1 1-2-5-4-9-4-14-6-12-4-8-1-6 0-5 1-1 2 1 2 3 2 8 4 14 6zM631 129l12 2 4 0 4-2-1-2-8-4-10-4-14-4-17-2-4 0-2 2 12 6zM820 125l11 1 4 0 2-1-7-4-19-6-14-2-2 0-2 2 13 6zM1003 119l10 1 1-1-13-4-6-1-2 0-1 1zM364 117l9-1 3-1 0-2-4-4-8-4-15-6-13-4-11-2-34-4-10-1-3 1 9 4 24 7 37 13zM546 111l15 1 9-1-2-2-10-4-31-11-14-2-6 1-2 2 6 4 9 4 11 4zM736 107l15 2 2-1 3-1-15-6-20-6-8-2-6 0-4 0-1 2 3 2 9 4zM926 103l11 2 2-1 0-1-10-4-15-4-11-2-2 0-1 2 10 4zM467 95l10 0 3-2 0-2-6-4-8-4-23-9-8-1-6-1-5 1-3 2 1 2 2 2 11 6 16 6zM658 91l11 0 3 0 0-2-2-2-9-4-19-6-19-3-6 0-5 1 3 2 15 6 19 6zM847 87l6 1 5-1-1-2-4-2-18-6-14-2-6-1-4 1 3 2 11 4zM1027 81l8 1 3-1-4-2-11-3-6-1-1 2zM380 77l7 1 6-1 3-2-1-2-5-4-13-6-11-4-13-4-53-8-7-1-5 1 2 2 10 4 33 9 32 11zM562 71l15 2 6 0 4-2-3-2-8-4-28-10-9-2-6 0-4 0-3 2 1 2 3 2 8 4 10 4zM763 69l8 0 1-2-12-6-19-6-10-1-7 1 1 2 3 2 10 4 13 4zM941 63l12 1 2-1-9-4-14-4-7-1-5 1 3 2 4 2zM482 55l7 1 6 0 4-1 2-2-2-2-3-2-8-4-25-10-14-2-4 1-3 1-1 2 2 2 7 4 18 8zM676 51l11 1 7-1-2-2-8-4-26-8-17-3-6 0-4 1 1 2 5 2 10 4zM865 47l10 1 4-1-8-4-20-6-14-3-6 0-3 1 3 2 11 4zM1055 43l5 0-3-2-6-2-10-1 0 1zM396 37l7 1 6 0 4-1 2-2-1-2-2-2-8-4-15-6-12-4-70-12-6 0-1 2 15 6 36 9zM588 33l13 0 2 0 2-2-3-2-8-4-23-8-14-3-6 0-4 1 0 2 2 2 7 4 16 6zM776 29l11 1 6-1-1-2-9-4-18-6-14-2-4 0-2 2 3 2 9 4zM966 25l7 1 4-1-2-2-5-2-12-4-11-1-4 1 8 4zM499 15l8 2 6 0 7-2 0-2-5-4-18-8 0-2-32 0 0 2 7 4 14 6zM693 11l14 2 4-1 3-1-8-4-17-6 0-2-30 0 0 2 5 2 13 4zM882 7l11 1 3-1-14-6 0-2-23 0 0 2 14 4zM1066 1l5 0 0-2-5 0z"/>
<path fill="#c9da30" d="M11 351l18 0-1-10-2-10-2-6-3-3-2 1-2 2-2 4-2 10zM53 351l17 0-2-18-3-8-2-2-2-1-2 2-3 5-2 10zM94 351l17 0-2-18-2-6-2-3-2-2-2 1-2 2-2 4-2 8zM135 351l18 0-3-18-3-8-2-3-2 0-2 1-2 3-3 11zM176 351l16 0 1-20-2-5-4-3-4 0-2 1-3 5-1 6zM216 351l18 0 1-8-1-6-3-6-6-4-4 0-2 0-2 2-3 4 0 4zM255 351l19 0 0-6-1-4-3-4-3-3-4-1-4 3-2 2-2 5zM295 351l18 0 0-2-4-9-4-3-2-1-4 4-2 3-2 4zM337 351l15 0-2-8 0-4 5-12-1-4-2-4-5-3-6-2-6 1-4 2 0 4 6 10 3 6 0 4-3 8zM378 351l14 0 0-6 2-14-2-6-5-3-4-1-2 1-4 3-1 2-1 4 3 12zM416 351l18 0 1-8-1-6-3-5-4-3-4-1-4 1-3 2-1 2-1 4zM455 351l19 0-1-9-4-6-4-3-2 0-4 3-2 3-2 4zM495 351l18 0 0-2-4-8-4-3-2 0-4 3-2 3zM537 351l14 0-2-12 4-10 0-6-4-5-6-2-6 0-3 3 0 4 7 14 0 4-4 8zM578 351l13 0 1-6 2-10 0-4-3-6-6-3-6 1-3 4 0 4 2 12zM616 351l18 0 0-8 0-4-3-6-4-3-6-1-4 2-1 2-2 6zM655 351l19 0-1-8-4-6-4-3-2 0-4 2-2 3-2 4zM695 351l18 0 0-2-4-7-2-2-4-1-4 3-2 3-2 4zM738 351l13 0-3-12 4-10 1-4-2-4-2-2-4-2-6 0-3 2-1 2 1 4 6 12 0 4-4 8zM779 351l12 0 0-6 3-10 0-4-3-5-6-3-4 0-2 0-3 4 0 4 3 12zM817 351l16 0 1-8-1-4-2-5-4-3-2-1-4 0-4 3-2 2 0 4zM855 351l19 0-1-6-2-5-2-2-4-3-4 1-2 1-2 2-2 4zM896 351l16 0 0-2-2-4-3-4-4 0-2 0-3 4-2 4zM938 351l12 0 0-2-3-6-2-2-2 1-2 3-3 4zM979 351l11 0 1-6 3-10-1-4-2-4-6-3-4 0-2 0-2 2-1 3 3 14zM1017 351l16 0 1-8-1-4-2-4-4-3-2-1-4 0-3 2-2 2-1 4zM1055 351l19 0-1-6-2-4-4-4-2-1-4 1-2 1-3 3-1 4zM1096 351l16 0 0-2-3-5-2-2-4 0-5 3-2 4zM1139 351l10 0 0-2-2-3-2-2-2 1-4 4zM1180 351l9 0 1-6 3-10-1-4-1-2-2-2-4-2-4 0-2 0-2 2-1 2 1 4 3 10zM1217 351l16 0 0-8 0-4-3-4-3-3-4-1-2 1-4 3-1 4zM1255 351l19 0 0-2-2-6-3-4-2-1-4-1-4 2-2 2-1 4zM1296 351l16 0 0-2-5-5-4-1-4 2-3 4zM1340 351l8 0 0-2-3-3-2 1-3 2zM1381 351l7 0 1-6 3-10-1-4-1-2-3-2-4-1-4 1-2 2 0 2 5 14zM945 335l2-1 4-5 1-4 0-2-2-2-3-2-6-1-3 1-1 2 0 2 4 8zM1144 331l1 1 2-1 2-2 2-4 0-2-2-2-3-2-3 0-2 0-2 2 0 2 2 5zM1345 329l2 0 2-2 1-2-1-2-2-2-4-1-2 1-1 2 2 4zM303 321l4 1 4-1 5-4 2-2-1-2-4-4-4-2-4-1-5 1-3 2 0 4 2 4zM503 321l4 2 5-2 4-4 0-2 0-2-5-4-4-2-4 0-4 1-2 1-1 2 0 2 3 4zM703 321l4 1 4-1 2-2 1-2 0-2-3-4-3-2-5-1-4 0-2 1-1 2 0 2 3 4zM905 321l3 0 3-2 2-2 0-2-2-2-4-3-4-1-4 0-2 2 0 2 1 2 3 4zM1103 319l4 1 2-1 2-2 0-2-2-2-4-2-5 0-1 2 0 2zM262 315l3 1 4 0 5-5 0-4-3-3-4-3-7-2-15-3-16-6-8 0-2 1-1 2 2 4 5 4 6 1 14 2 6 3zM1302 315l3 2 2-2-2-1-2 0zM464 313l3 0 3-2 2-2 0-2-2-2-3-2-6-2-12 0 0 2 10 8zM662 309l5 0 2-2-1-2-3-1-4-1-2 1-1 1 1 2zM429 303l7 0 11-2-2-1-7-5-9-4-8-2-6 2-1 2 3 4 6 4zM624 301l5 1 4 0 2-1 2-2-1-2-3-2-6-3-8-1-5 2 1 2 2 2zM822 299l5 1 4-1 0-2-6-3-6-1-2 2 2 2zM377 291l7 0 1-2-2-2-5-2-33-13-6-1-8-1-4 1-2 2 2 2 6 4 13 6zM551 285l6 0 3-2-1-2-3-2-10-4-9-2-10 0 0 2 7 4 8 4zM743 281l5 0-1-2-4-2-8-1-2 1zM274 271l13 1 5-1 0-2-1-2-7-4-19-8-14-3-6 0-6 1 0 2 10 6 13 6zM464 267l11 1 4-1 0-2-5-4-15-6-14-3-6 0-4 1 1 2 7 4zM659 263l7 0-1-2-11-4-17-4-4 0 0 2 5 2zM379 249l12 2 7-2-1-2-7-4-26-10-13-2-5 0-2 2 1 2 2 2 8 4 10 4zM571 245l10 1 4-1-2-2-4-2-18-6-12-2-8 0 1 2 9 4zM756 239l5 0-4-2-4-1-3 1zM299 233l10 0 2 0 2-2-1-2-5-4-13-6-11-4-16-3-6 0-5 1 0 2 10 6 20 8zM492 229l8 0 2-2-2-2-8-4-17-6-10-2-6 0-3 0-2 2 7 4 10 4 12 4zM675 223l8 0-1-2-4-2-12-4-7-1-5 1 3 2 4 2zM406 211l7 0 3-2-1-2-7-4-21-9-14-3-4 1-4 1 0 2 2 2 11 6 17 6zM587 205l10 1 5-1-6-4-17-6-12-2-2 0-2 2 2 2 8 4zM316 193l11 1 5-1 1-2-4-4-8-4-20-8-16-2-8-1-4 1-1 2 7 4 24 10zM509 189l8 1 4-1 1 0 0-2-3-2-9-4-19-6-14-2-4 1-1 1 2 2 9 4 11 4zM692 183l9 1 2 0 2-1-4-2-12-4-10-1-2 1zM419 171l12 1 4-1 0-2-5-4-8-4-19-7-12-2-4 1-2 2 1 2 3 2 7 4 10 4zM613 167l8 0 0-2-6-4-12-4-10-2-8 0 0 2 7 4 11 4zM342 155l7 0 2-1 2-1-1-2-5-4-8-4-9-4-13-4-12-2-8 0-6 0-2 2 7 4 25 10 12 4zM527 149l8 1 6-1-1-2-3-2-22-8-16-4-4 0-4 2 2 2 3 2 9 4zM711 143l8 1 3-1-5-2-13-4-7-1-2 0-1 1 4 2zM447 133l6-1 2-1 0-2-10-6-21-8-11-2-4 0-4 2 1 2 2 2 11 6 17 6zM629 127l10 1 4-1-2-2-3-2-17-6-10-1-4 0-2 1 7 4zM815 121l5 0-4-2-6 0zM358 115l9 1 4-1 1-2-1-2-2-2-7-4-22-8-9-2-14-2-10 0-3 2 35 14zM543 109l10 1 6-1-2-2-3-2-21-8-14-3-7 1 0 2 6 4 10 4zM726 103l9 1 2 0 2-1-4-2-12-4-8-1-3 1 3 2zM461 93l10 1 3-1 2-2-2-2-6-4-20-8-13-3-6 0-3 1 0 2 1 2 7 4 13 6zM657 89l5 0 1-2-7-4-12-4-11-2-8 0 1 2 9 4 12 4zM375 75l12 1 4-1 1-2-5-4-7-4-10-4-13-4-16-3-28-1 49 18zM559 69l12 2 4 0 2-2-2-2-8-4-16-6-9-2-5 0-4 0-1 2 2 2 7 4zM750 65l7 1 4-1-3-2-9-4-9-2-6 0 1 2 3 2zM478 53l11 2 6-2 0-2-5-4-13-6-11-4-13-3-6 1-2 2 1 2 3 2 7 4zM675 49l8 0-1-2-4-2-11-4-16-4-7 0 0 2 9 4 13 4zM392 35l13 2 6-2 0-2-2-2-7-4-9-4-14-4-12-3-22-2-18-3-6-1-3 1 5 2 26 7zM584 31l11 0 1 0 0-2-10-6-17-6-12-2-5 2 1 2 3 2 8 4 11 4zM777 27l4 0 0-2-8-4-7-2-7-1-3 1 2 2 4 2zM504 15l9 0 3-2-2-2-2-2-17-8 0-2-27 0 0 2 11 6 16 6zM693 9l7 0-1-2-15-6 0-2-19 0 0 2 5 2 13 4z"/>
<path fill="#e1e32d" d="M12 351l17 0-1-10-2-8-2-6-3-2-2 0-2 2-2 4-2 7zM53 351l17 0-1-10-2-8-2-6-2-2-2 0-2 1-2 3-3 10zM94 351l17 0-1-10-2-8-2-6-3-2-2 0-2 2-2 4-2 9zM135 351l17 0-1-10-2-8-2-6-2-2-2-1-2 1-2 4-3 10zM176 351l16 0 1-16 0-4-2-4-4-3-4 0-2 1-2 4-2 8zM216 351l18 0 1-8-1-6-4-6-5-3-4-1-2 1-2 1-2 4-1 4zM255 351l19 0-1-8-4-7-4-2-2 0-4 2-2 3-2 4zM295 351l18 0 0-2-4-8-4-4-2 0-4 3-2 3-1 4zM337 351l14 0-1-8 0-4 4-12 0-4-3-4-4-3-6-1-6 1-2 1-1 2 8 18 0 4-3 8zM378 351l14 0 0-6 2-10 0-4-3-6-4-2-4-1-2 1-2 1-2 3-1 4 2 12zM416 351l18 0 0-8 0-4-3-6-4-3-6-1-4 2-2 2-1 4zM455 351l19 0-1-8-4-7-4-2-2 0-4 3-4 6zM495 351l18 0 0-2-4-7-2-2-4-1-4 3-2 3zM538 351l13 0-3-12 4-10 1-4-2-4-2-2-6-2-6 1-2 1 0 2 6 16 0 4-3 8zM578 351l13 0 0-6 3-10 0-4-3-5-2-2-4-1-4 0-2 1-2 2-1 3 3 14zM617 351l16 0 1-8-1-4-2-5-4-3-2-1-4 0-4 2-2 3 0 4zM655 351l19 0-1-7-4-7-4-2-4 1-2 1-3 6zM696 351l16 0 0-2-2-4-3-4-4-1-4 3-2 2-1 4zM738 351l12 0 0-2-4-10 0-2 5-8 1-4-2-4-5-3-6 1-2 2 1 4 6 12 0 2-5 8zM779 351l11 0 1-6 2-10 0-4-2-4-6-3-4 0-2 1-2 2-1 2 3 14zM817 351l16 0 1-8-1-4-2-4-4-3-2-1-4 0-3 2-2 2-1 4zM855 351l19 0-1-6-2-4-4-4-2-1-4 0-2 2-2 3-2 4zM896 351l16 0 0-2-3-5-2-2-4-1-2 1-3 3-2 4zM939 351l11 0 0-2-3-4-2-2-2 1-2 2-2 3zM980 351l10 0 0-6 2-8 1-4-2-4-2-2-4-2-5 0-2 2-1 2 0 4 3 10zM1017 351l16 0 0-8-1-4-2-4-3-3-4-1-2 1-4 3-1 4zM1056 351l18 0-1-4-1-4-3-4-2-1-4-1-4 2-2 2-1 4zM1096 351l16 0 0-2-5-6-4-1-4 3-3 4zM1140 351l9 0 0-2-4-3-2 0-3 3zM1181 351l8 0 0-6 3-8 0-4-1-3-2-2-4-2-4 0-2 1-1 2 0 4 3 10zM1218 351l14 0 1-8-1-4-3-4-2-2-2 0-4 0-2 1-2 3 0 4zM1256 351l17 0 0-2-1-4-3-5-2-1-4-1-4 2-2 2-1 3zM1297 351l14 0 0-2-4-5-4-1-4 3-2 3zM1341 351l7 0 0-2-3-2-2 0-2 2zM1382 351l6 0-1-6 4-10 0-2-2-3-2-2-4-1-4 2 0 2 0 4 4 10zM943 331l2 1 2 0 3-5 0-4-2-2-3-2-4 1-2 1 0 2 1 4zM1142 327l3 2 2-1 2-3-1-2-3-2-2 0-2 2zM307 321l4-1 3-3 2-2-1-2-2-3-4-2-4-1-4 1-3 3 1 4 4 5zM506 321l3 0 3-2 2-2 1-2-2-3-4-3-4-1-4 0-3 3 0 2 3 5zM703 319l4 2 4-2 1-2 0-2-1-2-2-2-4-2-4 0-2 2-1 2 1 2zM905 319l2 0 2-1 1-1 0-2-1-2-4-2-4 0-1 2 0 2 2 2zM265 315l2 0 4-2 2-4-2-4-4-3-8-2-12-2-18-7-4 0-4 2 0 2 1 2 3 2 5 2 11 1 6 2 14 10zM463 311l4 0 2-2 0-2-1-2-5-2-7 0-1 2 2 2zM426 301l5 1 4 0 3-1 1-2-4-4-8-4-6 0-2 0-2 2 0 2 2 2zM624 299l5 1 3-1 0-2-5-3-6 0-2 1 1 2zM368 287l4 0-1-2-21-10-11-3-6 0-3 1 0 2 2 2 11 6 10 3zM549 283l3 0 2-2-2-2-5-2-4-1-6-1-2 2 7 4zM270 269l11 2 4 0 3-2-1-2-5-4-15-7-14-3-6 1-2 1 1 2 6 4 8 4zM461 265l8 1 5-1-1-2-3-2-9-4-12-3-7 1 1 2 4 2zM375 247l12 2 2 0 3-2-5-4-20-8-10-3-4 0-4 1-1 2 6 4 8 4zM559 239l4 1 2-1-4-1zM295 231l10 1 4-1 0-2-2-2-6-4-16-6-14-3-6 0-3 1 1 2 6 4 14 6zM491 227l2 0 2-2-3-2-8-4-7-2-10-2-2 0-2 2 2 2 10 4 6 2zM400 209l9 0 1-2-2-2-7-4-15-6-11-2-4 0-2 2 1 2 3 2 7 4 11 4zM580 201l7 1 2-1-10-4-7 0 3 2zM321 193l6 0 2-2 0-2-6-4-8-4-11-4-9-2-10-1-5 1 0 2 3 2 13 6 16 6zM509 187l4 0 0-2-7-4-14-4-7-1-4 1 2 2 10 4zM415 169l10 1 5-1 0-2-3-2-17-8-13-3-4 0-4 1 1 2 5 4 8 4zM603 163l6 1 3-1-3-2-6-2-6-1-2 0-1 1zM337 153l8 1 3-1 1-2-1-2-7-4-9-4-11-4-16-2-6 0-1 2 6 4 9 4 16 6zM528 147l1 0 1-2-13-6-12-3-4 0-2 1 2 2 9 4 7 2zM441 131l8 0 2-2-2-2-7-4-15-6-12-3-4 1-1 2 4 4 8 4 10 4zM623 123l8 2 0-2-4-2-8-1-1 1zM354 113l11 1 3-1 0-2-5-4-8-4-18-6-14-2-4 0-3 2 2 2 13 6zM541 107l8 0-1-2-3-2-10-4-10-2-7 0 1 2 8 4zM457 91l8 1 6-1-1-2-2-2-7-4-10-4-14-4-4 0-3 2 0 2 6 4 9 4zM371 73l12 2 5-2-1-2-6-4-8-4-12-4-16-3-6 0-5 1 2 2 8 4zM556 67l9 1 4-1-6-4-10-4-9-2-5 0 0 2 2 2 9 4zM484 53l5 0 2-2-1-2-7-4-14-6-12-3-7 1 0 2 2 2 7 4 15 6zM397 35l8 0 2-2-1-2-7-4-15-6-17-4-13 0 0 2 8 4 20 8zM581 29l8 0 0-2-7-4-11-4-8-1-5 1 2 2 8 4zM499 13l10 0 1 0 1-2-5-4-14-6 0-2-21 0 0 2 6 4 9 4z"/>
<path fill="#f6dc24" d="M12 351l17 0-3-16-3-7-2-1-2 0-2 2-2 4-2 8zM53 351l17 0-1-9-2-8-2-5-2-2-2 0-2 1-2 3-3 8zM94 351l17 0-3-16-2-6-3-2-2 0-2 2-2 5-2 8zM135 351l17 0-1-8-2-8-2-6-2-2-2 0-2 1-2 3-2 8zM176 351l16 0 0-18-1-4-4-4-4 0-2 2-2 3-2 7zM216 351l17 0 1-8-1-6-3-6-5-3-4 0-2 1-4 4 0 4zM255 351l19 0-1-8-4-6-4-3-2 1-4 2-4 6zM295 351l18 0 0-2-4-8-4-3-2 0-2 1-3 4-2 4zM338 351l13 0-2-8 0-4 4-10 0-4-1-4-2-2-7-3-6 0-2 1-1 2 0 4 6 10 1 4 0 4-3 8zM378 351l13 0 0-6 2-10 0-4-2-4-4-3-4-1-2 1-2 1-2 4 0 4 1 10zM417 351l16 0 1-8-1-4-2-5-4-4-2-1-4 0-3 2-2 2-1 6zM455 351l19 0-1-8-4-6-4-2-4 1-2 1-3 6zM496 351l16 0 0-2-3-6-2-2-4-1-4 2-2 3zM538 351l12 0 0-2-3-10 4-10 1-4-3-5-2-1-4-1-4 0-2 3 0 4 6 12-1 4-4 8zM579 351l12 0 0-6 2-10 0-4-2-3-2-2-4-2-2 0-3 1-3 4 2 14zM617 351l16 0 0-8 0-4-2-4-4-4-2 0-4 0-4 2-1 2-1 4zM655 351l19 0-1-6-4-7-4-2-4 0-2 2-3 5zM696 351l16 0 0-2-3-5-2-2-4-1-2 1-3 3-2 4zM739 351l11 0 0-2-3-5-2-2-2 1-2 2-2 4zM779 351l11 0 0-6 2-12-1-4-2-2-4-2-4 0-2 1-1 3 0 4 2 10zM817 351l16 0 0-8-1-4-2-4-3-3-4-1-2 1-4 3-1 4zM856 351l17 0 0-4-2-5-4-4-4-1-2 0-2 2-3 4zM896 351l16 0 0-2-5-6-4-1-4 3-3 4zM939 351l10 0 0-2-2-3-2-1-2 0-4 4zM980 351l9 0 0-6 2-8 1-4-3-5-4-2-4 0-3 3 0 4 3 10zM1018 351l14 0 0-8 0-4-3-4-2-2-2 0-4 0-2 1-2 3 0 4zM1056 351l17 0 0-2-1-4-3-5-2-1-4-1-4 2-2 3zM1097 351l14 0 0-2-4-5-4-1-4 3-2 3zM1140 351l8 0 0-2-3-2-2 0-3 2zM1181 351l7 0 0-6 3-10-2-5-4-3-4 1-2 3 1 4 2 8zM1218 351l14 0 0-10-2-4-3-3-4 0-3 1-2 2 0 4zM1256 351l17 0 0-2-2-4-2-4-2-1-4-1-4 2-1 2zM1297 351l13 0 0-2-3-4-4-1-4 3-2 2zM1342 351l4 0 0-2-3-1-1 1zM1384 351l1 0 0-3-1 1zM1384 341l1 1 2-1 2-6 0-2-2-3-4-1-2 2 0 2 1 4zM744 333l1 1 2-1 2-4 1-4-1-2-2-2-4-1-3 1-1 2 2 6zM945 329l2-1 1-3-1-2-2-1-2 0-1 1 0 2 1 3zM305 319l4 0 3-2 1-2 0-2-2-2-4-2-4 0-2 2 0 4zM505 319l4 0 3-2 0-2-1-2-2-2-6-1-2 1-1 2 2 4zM703 317l4 1 2-1 1-2-3-3-4 0-2 1 1 2zM263 313l4 0 3-2 1-2-2-4-4-2-6-2-6-1-5 1 8 8zM229 299l6 1 5-1-1-2-6-3-4-1-4 2 1 2zM426 299l3 1 4-1 1 0 0-2-5-3-6-1-2 2 1 2zM348 283l7 1 6-1-2-2-3-2-10-4-7-1-3 1 0 2 3 2zM276 269l5 0 2-2-4-4-14-6-10-2-2 0-2 2 4 4 7 4zM457 261l6 1 1-1-5-2-5 0zM374 245l7 1 3-1-2-2-3-2-10-4-8-2-6 0 0 2 3 2 9 4zM292 229l9 1 4-1-1-2-3-2-12-6-14-3-4 0-2 1 1 2 7 4zM399 207l2 0 2-2-2-2-8-4-14-4-2 0-2 2 1 2 8 4 5 2zM318 191l5 0 1-2-4-4-14-6-11-3-7 1 0 2 3 2 8 4 10 4zM413 167l8 1 3-1-1-2-3-2-9-4-10-3-4 0-2 1 1 2 2 2 9 4zM334 151l5 1 4-1 1 0 0-2-2-2-8-4-11-4-10-2-6 1-1 1 6 4 9 4zM439 129l4 0 1-2-5-4-9-4-8-2-6 0-1 2 6 4 9 4zM351 111l8 1 4-1-1-2-2-2-13-6-14-3-6 0-2 1 2 2 8 4zM455 89l6 1 4-1-1-2-3-2-14-6-8-1-4 1 2 2 7 4zM368 71l11 2 2-1 1-1-4-4-14-6-11-2-8 0 0 2 4 2zM472 49l9 2 2-1 2-1-5-4-9-4-10-2-5 0 0 2 2 2zM394 33l6 0 1-2-2-2-7-4-12-4-11-2-2 0-3 2 3 2 8 4 11 4zM497 11l7 0 0-2-6-4-10-4 0-2-13 0 0 2 6 4 9 4z"/>
<path fill="#fab41a" d="M12 351l17 0-1-8-3-8-2-5-2-1-2 0-2 2-2 4-2 8zM53 351l17 0-1-7-2-8-2-4-2-2-2-1-2 1-2 3-2 8zM94 351l17 0-1-8-2-8-3-5-2-1-2 1-2 2-2 4-2 8zM135 351l17 0-1-7-2-8-2-4-2-3-2 0-2 1-2 4-2 7zM177 351l15 0-1-18-1-4-3-3-4 1-3 4-2 6zM217 351l16 0 1-12-3-6-4-3-4-1-2 0-4 2-1 2-1 6zM255 351l19 0-2-8-3-5-4-3-4 1-2 2-3 5zM296 351l16 0 0-2-3-7-2-2-4-1-2 1-3 3-2 4zM338 351l13 0-3-12 4-10 0-4-1-3-2-2-6-3-6 1-2 1 0 2 7 16 0 4-4 8zM378 351l13 0 0-6 1-10 0-4-2-4-3-2-4-1-2 1-3 4 0 4 1 10zM417 351l16 0 0-8 0-4-2-4-4-4-2-1-4 0-4 3-2 6zM455 351l19 0-1-6-4-7-4-2-4 1-2 1-3 5zM496 351l16 0 0-2-3-6-2-2-4-1-2 1-3 4-2 4zM538 351l12 0-1-5-4-6-2 2-4 6zM579 351l11 0 0-6 2-10 0-4-3-4-4-2-4 1-3 3 0 4 2 10zM617 351l16 0 0-8-1-4-2-4-3-3-4-1-2 1-4 3-1 4zM656 351l17 0-1-6-3-6-2-2-4 0-4 2-2 4zM696 351l16 0 0-2-3-4-2-2-4-1-4 3-3 4zM739 351l10 0 0-2-2-4-2-1-2 0-2 2-2 3zM780 351l9 0 0-6 2-12-2-5-4-2-4 1-2 2 0 4 2 10zM818 351l14 0 0-8 0-4-3-4-2-1-2-1-4 0-2 1-2 3 0 4zM856 351l17 0 0-2-2-6-2-3-2-2-4 0-4 2-2 3zM897 351l14 0 0-2-4-5-4-1-4 3-2 3zM940 351l8 0 0-2-3-3-2 0-3 3zM981 351l7 0 0-6 2-8 0-4-2-4-3-1-4 1-1 2 0 4 2 8zM1018 351l14 0-1-10-1-4-3-2-4-1-3 1-2 2 0 4zM1056 351l17 0 0-2-2-4-2-4-2-1-4-1-4 2-1 2zM1097 351l14 0 0-2-4-4-4-1-4 3-2 2zM1141 351l6 0 0-2-2-1-2 0-2 1zM1183 351l4 0 0-2-2-3-2 2zM1219 351l12 0 0-10-2-3-2-2-4-1-2 1-2 3-1 4zM1257 351l15 0 0-2-3-6-2-2-4-1-2 1-2 2-2 4zM1298 351l12 0 0-2-3-3-4-1-4 3zM1184 341l1 2 2-2 2-6-2-4-2-1-2 0-1 1-1 2zM544 335l1 1 2-2 2-3 1-6-1-2-2-2-4-2-2 1-2 1 0 4 2 5zM744 329l1 1 2-2 0-3-1-2-3 0-1 2zM304 315l3 1 2-1 0-2-2-1-2 0-1 1zM505 315l3 0-1-1-2 0zM262 311l3 0 2 0 1-2-1-3-6-3-6 0 0 2 2 2zM267 265l6 1 2 0 1-1-5-4-5-2-5-1-3 1 1 2zM292 227l5 0 0-2-8-4-8-2-3 0 0 2 3 2zM309 187l6 1 2-1-2-2-8-4-8-1-2 1 2 2zM327 147l6 1 2 0 1-1-7-4-6-2-4-1-3 1 2 2zM352 109l3 0 0-2-4-2-4-2-10-2-1 2 4 2zM369 69l5 0-1-2-10-4-4-1-3 1 7 4zM387 29l5 0-2-2-4-2-7-1-1 1z"/>
<path fill="#f6891c" d="M12 351l16 0-1-9-2-6-2-3-2-2-2 1-2 2-2 4-2 7zM54 351l15 0-2-13-2-4-2-2-2-1-2 1-2 4-2 5zM95 351l15 0-1-8-1-6-3-4-2-2-2 1-2 2-2 4zM136 351l16 0-3-13-2-4-2-2-2-1-2 2-2 3-2 6zM177 351l14 0 0-16-1-4-3-3-2 0-2 0-3 5zM217 351l16 0 0-12-2-5-4-3-4-2-2 1-2 1-2 2-1 6zM256 351l17 0 0-6-4-7-4-2-2 0-4 3-3 4zM296 351l16 0 0-2-2-4-3-4-4-1-2 1-2 2-2 4zM338 351l12 0 0-2-4-10 5-10 0-4-2-4-6-3-4 0-2 3 1 4 6 12 1 2-6 9zM379 351l11 0 0-8 1-10-1-4-3-3-4 0-2 1-2 3 0 13zM417 351l16 0 0-8-1-4-2-4-3-3-3-1-3 0-2 1-2 2-1 5zM456 351l17 0-1-6-3-6-4-2-2 0-4 2-2 4zM496 351l16 0 0-2-3-5-2-2-4-1-2 1-3 3-2 4zM539 351l11 0 0-2-3-4-2-2-2 1-2 2-2 3zM580 351l10 0-1-6 2-12-2-4-4-2-2 0-2 1-2 3 1 12zM618 351l14 0 0-8-1-4-2-4-2-2-4-1-2 1-3 2-1 4zM656 351l17 0-1-4-1-4-4-5-4 0-2 0-4 5zM697 351l14 0 0-2-4-5-4-1-4 2-2 4zM740 351l9 0 0-2-4-4-2 1-3 3zM781 351l8 0-1-6 2-12-3-4-2-1-3 1-2 2 0 4 2 8zM818 351l14 0-1-10-2-4-2-2-4-1-2 0-2 3-1 4zM857 351l15 0 0-2-1-5-2-3-2-1-4-1-2 0-3 4zM897 351l14 0 0-2-4-4-4-1-4 3-2 2zM941 351l6 0 0-2-2-2-2 1-2 1zM982 351l5 0 0-3-2-3 1-2 1-2 1-6-1-4-2-1-2 1-1 2 1 7 2 3 0 2-3 4zM1019 351l12 0-1-10-1-3-2-2-4-1-2 1-2 3zM1057 351l15 0 0-2-3-6-2-2-4-1-2 1-2 2-2 4zM1098 351l12 0 0-2-3-3-4-1-4 3zM1220 351l10 0-1-10-2-3-2-1-2 0-2 2-1 4zM1258 351l13 0 0-2-1-4-2-2-3-2-2 0-2 1-2 2zM1299 351l10 0 0-2-2-2-4-1-4 3zM544 331l1 0 2-1 1-3 0-2-1-2-4-1-2 1 0 2 2 5z"/>
<path fill="#f25c1e" d="M13 351l15 0-1-7-2-6-2-3-2-1-2 0-2 2-2 3-2 8zM54 351l15 0-2-10-2-5-2-2-2 0-2 1-2 3-2 6zM95 351l15 0-1-7-2-6-2-3-2-1-2 0-3 5zM136 351l15 0-2-11-2-4-2-2-2 0-2 1-2 3-2 6zM177 351l14 0-1-16-1-2-2-3-2 0-2 0-2 3-2 6zM217 351l16 0 0-8-1-6-3-4-4-2-5 0-3 4-1 4zM256 351l17 0-1-6-3-6-4-2-2 0-3 2-3 4zM296 351l16 0 0-2-3-5-2-2-4-1-4 2-2 4zM339 351l11 0 0-2-3-5-2-2-2 1-2 3-2 3zM379 351l11 0 0-18-2-4-3-1-4 1-1 2 0 12zM418 351l14 0 0-8 0-4-3-4-2-2-4-1-2 0-3 3-1 4zM456 351l17 0-1-6-3-5-4-2-4 1-2 1-2 4zM497 351l14 0 0-2-4-6-4-1-4 3-2 4zM540 351l9 0 0-2-2-3-2-1-2 0-3 4zM580 351l9 0-1-8 1-10-2-3-2-1-2 0-2 3 1 11zM618 351l14 0-1-10-2-4-2-2-4-1-3 1-2 2 0 4zM657 351l15 0 0-2-1-5-2-3-2-1-4-1-2 1-3 3-1 4zM697 351l14 0 0-2-4-4-4-1-4 2-2 3zM741 351l7 0 0-2-3-2-2 0-2 2zM782 351l6 0-2-8 2-8-1-2-2-2-2 2 0 4 1 6-2 6zM819 351l12 0-1-10-3-5-4-1-2 1-2 3zM857 351l15 0 0-2-3-6-2-2-4-1-2 1-2 2-2 4zM898 351l12 0 0-2-3-3-4-1-4 3zM943 351l3 0 0-2-3 0zM1020 351l10 0 0-6-1-4-2-3-2-1-2 0-2 2-1 2zM1058 351l13 0 0-2-3-6-3-2-2 0-2 1-2 3zM1099 351l10 0 0-2-2-2-4-1-4 3zM1221 351l8 0-1-8-1-2-2-1-2 0-2 3zM1259 351l11 0 0-2-1-3-2-2-4-1-3 2-1 2zM1300 351l8 0 0-2-3-1-2 0-3 1zM344 333l1 1 2-1 1-2 1-2 0-4-3-4-3-1-2 0-2 2 0 3 2 4z"/>
<path fill="#ec3522" d="M13 351l14 0 0-4-2-7-2-3-2-1-2 0-3 3-2 6zM54 351l15 0-2-8-2-5-2-2-2 0-2 1-2 3-2 6zM95 351l15 0-1-5-2-6-2-3-2-1-2 0-2 2-2 5zM136 351l15 0-2-9-2-4-2-2-2 0-2 1-2 3-2 7zM178 351l12 0-1-14-2-4-2-1-2 1-2 3zM218 351l14 0 0-8 0-4-3-5-4-2-4 0-3 3-1 4zM256 351l17 0 0-2-2-5-2-4-2-1-4-1-4 3-1 2zM297 351l14 0 0-2-4-6-4-1-4 3-2 4zM339 351l10 0 0-2-2-3-2-2-2 1-2 2-2 2zM380 351l9 0-1-8 1-8-2-4-2-1-2 1-1 2zM418 351l14 0 0-8-1-4-2-3-4-3-4 1-3 3 0 4zM457 351l15 0 0-2-1-4-2-4-2-1-4-1-2 1-3 3-1 4zM497 351l14 0 0-2-4-5-4-1-4 3-2 3zM540 351l8 0 0-2-3-3-2 1-3 2zM581 351l7 0-2-8 1-8-2-2-2 2 1 6-3 8zM619 351l12 0-1-10-2-4-3-2-4 1-2 3zM657 351l15 0 0-2-3-6-2-2-4-1-2 1-2 2-1 4zM698 351l12 0 0-2-3-3-4-1-4 3zM742 351l5 0 0-2-2-1-2 0-1 1zM783 351l3 0 0-2-1-1-2 1zM820 351l10 0-1-10-2-3-2-1-2 0-2 2-1 4zM858 351l13 0 0-2-3-6-3-2-2 0-2 1-2 3zM899 351l10 0 0-2-2-2-4-1-4 3zM1021 351l8 0-1-8-1-2-2-1-2 0-2 3zM1059 351l11 0 0-2-1-3-2-2-4-1-3 2-1 2zM1100 351l8 0 0-2-3-2-2 0-3 2zM1223 351l4 0 0-3-2-4-2 2zM1260 351l9 0 0-2-2-3-2-1-2 0-3 2zM1303 351l3 0 0-2-3 0zM344 329l1 1 1-1 1-2 0-2-2-2-2 0-1 2z"/>
<path fill="#e82024" d="M14 351l13 0-2-9-2-3-2-1-2 0-2 2-2 4zM55 351l13 0-1-6-2-5-2-2-2 0-2 1-1 2-3 7zM96 351l13 0-1-6-3-6-2-1-2 0-2 2-2 5zM137 351l13 0-1-7-2-4-2-2-2 0-3 3-3 6zM178 351l12 0-2-12-1-3-2-1-2 1-2 3zM218 351l14 0 0-8-1-4-2-4-4-2-4 0-2 2-1 2zM257 351l15 0 0-2-1-4-2-4-2-1-4-1-2 1-3 3-1 4zM297 351l14 0 0-2-4-5-4-2-4 4-2 3zM340 351l9 0 0-2-4-3-2 0-3 3zM381 351l8 0-3-14-1-3-1 3zM419 351l12 0 0-10-2-4-4-3-4 1-2 2-1 4zM457 351l15 0 0-2-3-6-2-2-4-1-4 3-1 4zM498 351l12 0 0-2-3-4-4-1-4 3zM541 351l6 0 0-2-2-2-2 1-2 1zM582 351l5 0 0-2-2-2-2 1zM619 351l11 0-1-10-2-3-2-1-3 0-2 2-1 4zM658 351l13 0 0-2-3-6-3-2-2 0-2 1-2 3zM699 351l10 0 0-2-2-2-4-1-4 3zM820 351l9 0-1-8-1-2-2-2-2 0-2 3zM859 351l11 0 0-2-1-3-2-3-4 0-3 2-1 2zM900 351l8 0 0-2-3-2-2 0-3 2zM1022 351l6 0-1-5-2-3-2 1zM1059 351l11 0 0-2-3-4-2-1-2 0-3 3zM1102 351l4 0 0-2-3-1-1 1zM1261 351l7 0 0-2-3-3-2 1-2 2z"/>
<path fill="#69b533" d="M-1 351l11 0-1-28-1-18-3-13-4-7-2 0zM31 351l20 0-1-28-1-17-4-17-2-5-2-3-2 0-2 3-2 5-2 11-2 21zM72 351l20 0 0-26-2-18-3-24-2-5-2-1-4 4-2 3-3 11-1 22zM113 351l20 0-2-42 2-20-2-4-2-1-4 0-4 2-4 5-2 6-1 14zM154 351l20 0-1-22 4-16 0-4-2-3-3-3-7-4-4 1-2 2-2 4-2 5-1 10zM194 351l20 0 0-4-4-12 0-4 2-4 3-3 4-2 4 0 4 1 4 4 5 8 1 6-1 10 17 0 0-10 1-4 6-10 0-4-3-4-4-4-8-4-6-2-14 0-14-7-6-2-4 0-4 1-6 4-2 4 1 4 6 10 2 6 0 4-4 12zM276 351l17 0 1-6 4-12 1-4-2-4-3-4-7-5-4 0-4 1-5 4-3 4 0 4 4 12zM315 351l20 0 2-10-1-6-5-7-6-4-4-1-4 2-4 2-3 4 0 4 4 12zM353 351l23 0-1-10-6-14 0-2 1-2 5-5 8-4 4 0 4 3 6 6 3 6 0 4-6 12 0 6 20 0-1-6-4-10 0-4 1-2 5-4 4-2 4 0 4 1 4 3 5 8 1 6-1 10 17 0 0-10 1-4 6-10 0-4-4-6-9-5-6-2-12 0-4 0-18-9-8-1-12 3-4 0-16-7-20-4-22-8-10-2-16 0-10-1-18-5-24-9-12-3-34-3-30 2-6 1-6 3-5 4-2 4 0 4 1 2 6 3 4 0 12-6 6-1 6 0 16 3 18 1 8 2 20 7 18 5 16 6 6 0 10-3 6 0 6 2 14 7 16 2 6 1 5 3 5 4 4 4 1 4 0 2-8 12-1 4zM476 351l17 0 1-8 5-10 0-4-2-4-4-5-6-4-4 0-6 2-4 3-3 4 0 4 6 14zM515 351l20 0 2-8-1-6-3-6-6-6-4-1-4 1-4 2-4 4-1 4 4 12zM553 351l23 0 0-6-2-6-5-9-4-5-2 1-4 4-5 7-1 6zM594 351l20 0 0-4-5-12 0-4 6-5 4-2 4-1 4 1 4 3 5 8 1 6-1 10 17 0-1-8 1-4 2-5 5-7 1-4-5-6-7-5-8-2-12 1-4 0-14-8-6-2-6-1-12 1-4 0-16-5-20-3-24-9-54-8-26-9-10-3-42-5-52-16-8-1-16 1-8-1-40-14-12-3-14-2-28-4-14-1-14 1-14 2-14 4-14 6-17 10-4 4-1 2 2 1 2-1 12-5 6-2 34-4 16 0 34 4 28 6 30 11 10 2 8 1 18 0 8 1 44 14 24 5 24 2 26 9 20 4 16 5 4 0 12-1 6 0 6 2 14 7 6 1 12 0 6 2 9 6 7 6 0 1 1-1 11-7 4-2 4 0 4 2 4 3 5 6 3 4 0 4-6 10zM676 351l17 0 1-6 5-12 0-4-4-6-6-5-4-2-4 0-6 2-4 3-3 4 2 4 5 12zM715 351l20 0 2-10-1-4-3-6-6-6-4-1-4 1-4 2-4 4-1 4 4 12zM753 351l23 0 0-6-2-6-5-8-4-3-2 0-4 3-5 6-1 6zM794 351l20 0 0-4-4-10-1-4 0-2 5-4 5-3 4-1 4 1 4 3 6 8 1 6-2 10 17 0-1-8 0-4 3-5 8-9 0-2-9-8-5-3-4-1-6-1-10 2-4-1-14-7-6-2-6-1-14-1-18-5-20-2-26-9-32-6-22-3-28-8-24-6-30-4-54-14-32-4-48-14-42-6-48-15-8-1-16 1-8-1-10-3-32-11-24-5-48-7-16-1-18 1-21 4-14 4-19 8-6 4-5 4 3 1 4-1 16-3 20-3 26-2 24 2 38 6 26 5 34 12 10 3 8 1 16-1 8 1 34 11 16 5 10 1 28 3 14 4 34 10 34 4 22 6 26 8 24 3 28 5 28 9 20 3 16 4 20 2 6 1 12 6 6 2 18 0 6 2 12 9 2 0 14-5 6 0 4 2 6 5 5 5 1 4-1 4-5 10zM877 351l16 0 1-6 6-12-1-4-4-5-4-4-6-3-4 0-6 1-5 3-3 2-1 2 9 15 1 5zM915 351l20 0 2-10 0-4-4-7-6-5-4 0-4 1-6 3-2 4 0 4 3 10zM953 351l23 0 0-6-1-4-4-7-4-4-2-1-4 1-6 6-2 5zM993 351l21 0 0-4-6-12 0-2 1-2 4-4 8-4 4 0 4 2 4 4 3 4 2 4 0 4-2 10 16 0-1-8 2-6 6-7 4-3 2 0 4 3 6 9 2 6 0 6 16 0 1-6 5-10 1-4-2-4-4-4-5-4-4-1-8 0-12 4-12-8-8-3-6-1-10 2-4-1-14-7-6-2-20-2-20-6-20-2-24-7-34-7-24-4-52-13-36-6-46-12-42-7-42-12-42-7-48-13-34-4-54-15-38-5-48-15-8-1-16 1-8-1-48-16-52-10-20-3-18-1-22 1-18 1-15 3-21 6-15 6-10 6 0 2 2 0 39-7 30-1 28 1 26 3 54 11 48 16 8 0 16-1 8 2 36 12 12 3 38 5 14 3 38 11 34 4 50 14 12 2 26 4 50 13 34 5 50 13 26 4 32 7 24 7 20 3 20 5 18 2 6 2 16 7 4 1 10-1 6 0 6 2 10 6 4 2 4 0 10-3 6 0 4 1 5 4 6 6 2 4 0 2-1 2-6 10zM1115 351l20 0 2-10 0-4-4-7-6-4-4-1-4 1-5 3-3 4 0 4 3 10zM1153 351l23 0-1-9-2-4-4-5-4-3-2 0-4 2-3 3-4 6zM1193 351l21 0 0-4-6-12-1-2 1-2 5-4 8-4 4 0 4 2 4 3 3 5 2 4 1 4-3 10 16 0-1-8 0-4 3-4 3-3 6-4 4 1 6 7 3 7 1 8 16 0 1-6 5-10 1-4-2-4-4-4-5-3-4-2-6 0-10 3-4 0-14-8-6-2-20 0-20-8-20-3-20-6-20-2-18-5-20-4-20-6-24-3-56-14-36-7-51-12-39-7-48-12-38-7-48-12-40-7-44-11-42-7-44-13-38-5-54-15-8-1-18-1-8-1-12-4-26-9-12-3-10-2-16 1-8-1-46-15-62-12-20-3-22-2-24 0-20 2-21 3-23 6-16 6-8 4-2 2 6 0 36-5 22-2 26 0 26 2 26 4 60 12 52 16 8 1 16-1 8 1 48 16 8 1 18 1 10 2 54 15 10 2 26 2 46 13 42 7 42 11 42 8 46 11 42 8 44 11 40 7 54 13 26 5 38 8 20 6 20 2 20 6 18 2 6 2 16 7 4 0 10-1 6 1 6 2 14 7 4 0 10-2 6 0 4 2 5 3 6 6 3 4 0 2-1 2-7 10zM1315 351l20 0 3-10-1-4-4-7-6-4-4-1-4 1-5 3-4 4 0 4 4 10zM1353 351l23 0 0-6-3-7-4-4-4-3-4 1-4 2-4 5-1 4zM1393 351l14 0 0-18-2 0-2 2-6 6-3 6zM1404 331l1 2 2 0 0-30-20-2-22-7-22-3-58-14-26-4-58-14-48-9-36-9-46-9-44-11-44-8-40-10-46-9-42-11-40-7-48-12-36-6-52-14-36-5-44-12-32-5-14-3-48-13-8-2-18 0-8-1-50-17-8-1-16 1-8-1-48-15-64-13-24-4-26-3-24 0-24 1-19 2-30 6-19 6-13 6 1 2 2 0 50-6 36-2 42 3 34 6 66 14 46 15 8 1 18-1 8 1 10 3 28 10 12 3 10 2 16 0 8 1 52 15 40 6 44 12 38 6 52 14 34 5 50 13 38 6 46 12 42 7 42 11 46 9 34 8 52 10 26 7 32 7 26 5 56 13 22 3 20 6 22 4 18 6 20 1 6 2 14 7 4 0 10-2 6 1 8 4zM1399 279l8 2 0-21-58-11-44-11-42-8-46-11-38-7-50-12-34-7-52-12-36-7-48-11-40-8-42-11-46-8-42-11-40-7-50-13-34-5-48-13-44-7-48-14-10-1-16 0-8-2-50-16-8-1-16 1-10-1-46-15-74-16-27-4-31-3-24-1-26 1-23 3-31 6-20 6-9 4-3 2 10 0 48-5 36-1 20 1 24 2 42 6 76 17 46 14 8 2 18-1 8 1 12 3 26 10 12 3 8 1 16 1 10 1 48 14 44 7 46 13 36 5 50 13 40 6 40 11 48 9 40 10 44 8 44 11 40 8 46 11 36 7 50 11 40 8 45 11 47 9 32 8 52 10zM1400 235l7 1 0-19-38-8-44-10-46-9-38-9-46-9-40-10-48-10-40-10-38-7-52-12-34-6-52-13-36-6-44-12-46-8-44-12-34-5-54-14-40-6-46-14-8-1-18 0-10-2-50-16-10-1-14 0-8 0-20-6 0-2-81 0 0 2 43 9 44 14 10 1 16-1 8 1 50 17 8 1 18 0 8 2 48 14 40 6 52 14 36 5 42 11 48 9 42 11 40 7 48 12 36 6 52 13 34 6 50 12 38 7 46 11 40 8 44 10 42 9 44 10zM1396 191l11 2 0-20-18-3-50-12-34-6-50-12-36-7-46-11-44-8-38-10-50-10-38-9-46-9-44-11-36-6-52-13-38-6-42-12-40-6-54-15-36-4-6-2 0-2-96 0 0 2 10 2 22 1 10 2 46 14 38 5 54 14 38 6 42 12 42 7 48 12 36 6 52 13 38 7 38 9 48 9 40 10 48 10 38 9 46 9 42 10 40 8 46 11zM1402 149l5 1 0-20-40-9-44-9-48-11-34-7-52-12-34-6-54-13-36-7-42-10-48-9-40-11-38-7-54-13-33-5 0-2-91 0 0 2 34 5 42 12 36 5 54 14 38 6 38 10 50 10 40 10 40 7 48 12 36 7 52 12 36 7 48 11 38 8zM1400 105l7 1 0-20-68-14-37-9-53-11-36-8-40-8-50-12-34-6-52-13-23-4 0-2-90 0 0 2 25 5 36 9 38 7 52 13 34 6 52 12 38 7 38 10 52 10 36 9 48 9zM1401 61l6 1 0-20-38-7-54-13-42-8-30-7-27-6 0-2-89 0 0 2 42 10 54 11 38 9 42 9 48 11zM1399 17l8 1 0-19-80 0 0 2 46 11z"/>
<path fill="#69b638" d="M-1 351l11 0-1-24-2-14-2-10-2-4-2-2-2 0zM31 351l20 0-1-22-2-16-3-12-2-3-2-2-2 1-2 2-2 5-2 7-1 16zM72 351l20 0-1-24-2-16-4-13-2-3-2-1-2 2-2 4-2 9-2 16zM113 351l20 0-1-20-3-33-1-5-3-2-4 2-2 3-3 9-2 18zM154 351l20 0-1-22 2-18-2-5-6-4-4 0-2 1-2 3-2 5-2 10zM194 351l20 0 0-4-4-12 0-6 5-6 4-2 4 0 4 1 4 4 6 9 1 6-2 10 17 0-1-10 2-4 6-10-1-4-2-4-4-4-8-4-6-1-14-1-14-6-6-2-4 0-4 1-4 3-2 4 0 4 7 12 1 4 0 4-4 12zM276 351l17 0 1-6 4-12 0-4-2-4-3-4-6-4-4 0-4 1-4 3-3 4-1 4 5 14zM315 351l20 0 2-10-2-6-4-7-6-4-4 0-4 1-4 3-2 3 0 4 3 12zM353 351l23 0-1-6-1-6-8-14 9-8 8-5 4 1 4 3 7 7 3 6 0 4-6 11-1 7 20 0 0-4-5-12-1-4 3-4 4-3 4-1 4-1 4 1 4 3 6 9 1 6-2 10 17 0-1-10 1-4 6-10 0-4-4-6-8-5-6-1-12 0-4-1-18-9-8 0-12 3-4 0-16-7-20-5-22-8-10-1-16 0-8-1-16-4-26-10-12-3-28-3-14 0-27 5-4 2-4 4-1 2 1 2 3 1 18-3 22 4 20 2 24 8 20 6 14 5 6 1 12-4 6 1 6 2 14 7 16 1 6 2 6 3 5 4 6 8-7 9-3 5-1 4zM476 351l17 0 1-8 4-10 0-4-2-4-3-4-6-4-4-1-4 1-5 4-3 4 0 4 5 14zM515 351l20 0 1-8 0-6-3-6-6-5-4-1-4 0-4 3-3 3-1 2 0 4 3 10zM553 351l23 0-1-6-2-8-4-6-4-3-4 1-6 8-2 6zM594 351l20 0-1-6-5-10 0-4 7-6 8-3 2 0 4 2 4 4 3 5 1 4 1 4-2 10 16 0 0-8 0-4 7-12 1-4-5-6-8-5-6-1-12 1-4 0-14-8-6-2-6-1-12 1-4 0-16-6-20-3-24-8-22-3-28-5-8-2-22-7-10-3-32-3-10-2-40-13-12-3-8-1-16 1-6-1-38-13-18-5-36-4-20-1-10 1-9 2-6 2-7 4 1 2 1 0 22 2 30 5 24 4 14 4 28 10 10 3 8 1 16-1 8 1 14 4 24 8 12 3 20 4 24 2 26 9 20 4 16 5 6 0 10-1 6 0 6 3 14 7 6 1 12 0 6 1 6 4 8 6 2 1 2 0 12-7 6-1 4 2 6 5 5 7 2 4 0 2-7 11zM677 351l16 0 1-6 5-12-1-4-3-5-4-4-6-3-4 0-6 2-2 2-3 4 0 4 6 12zM715 351l20 0 1-8 0-6-3-6-6-5-4-1-4 1-4 2-3 3-1 2 0 4 3 10zM753 351l23 0-1-6-1-6-3-4-4-5-2-1-4 1-6 7-2 6zM794 351l20 0-1-5-5-11-1-2 1-2 7-6 8-3 4 1 4 3 4 5 2 4 1 6-2 10 16 0-1-8 1-4 2-4 5-8 1-4-2-4-5-4-8-3-6-1-10 2-4-1-14-7-6-2-6-1-16-1-16-5-22-3-24-8-32-6-22-3-24-7-24-6-34-5-50-14-10-1-26-3-35-11-13-3-40-5-50-16-10-1-14 1-8-1-38-13-18-5-46-7-20-1-14 1-14 2-12 4-2 2 6 2 20 2 22 3 46 8 16 4 30 11 12 3 8 1 14-1 8 1 36 12 14 3 10 2 20 2 10 1 48 14 24 3 10 2 20 4 30 9 22 3 30 6 28 9 18 2 18 5 18 1 6 2 12 6 6 1 18 0 6 2 10 7 4 2 4-1 10-4 6 0 4 2 6 5 5 6 3 4 0 2-8 12zM877 351l16 0 1-6 4-10 1-4-4-6-4-4-6-3-4 0-6 1-3 2-2 2-1 2 1 4 6 12 1 4zM915 351l20 0 2-10-1-4-3-6-6-5-4-1-4 1-4 3-3 4-1 4 4 12zM953 351l23 0 0-6-2-4-3-6-4-4-2-1-4 1-4 3-2 2-2 7zM994 351l20 0 0-2-3-7-5-9 3-4 6-4 8-3 4 0 4 3 4 5 3 5 1 6-3 10 16 0-1-8 0-4 4-6 7-8 0-2-4-4-5-4-8-4-6 0-10 2-4 0-14-8-6-2-20-2-18-5-22-3-22-7-36-8-22-3-54-13-34-6-48-12-42-8-42-11-42-7-48-13-34-4-52-15-10-2-28-2-12-4-36-12-10-1-16 1-8-1-40-14-16-4-50-9-24-2-16 0-14 2-9 1-9 2-4 2 0 2 4 1 44 4 66 13 16 5 28 10 12 3 8 1 16-2 8 2 34 11 14 4 38 5 52 15 32 3 50 14 12 2 28 4 46 12 38 6 50 13 26 4 32 7 24 8 20 2 20 5 18 2 8 3 14 6 4 1 16-1 6 2 10 6 4 2 4-1 10-2 6 0 4 1 4 3 11 12 0 2-5 6-4 6zM1077 351l15 0 1-6 5-10 1-4-4-6-4-4-6-2-4-1-6 1-6 4-2 2 9 16 1 4zM1115 351l20 0 2-10-1-4-3-6-6-5-4 0-4 1-4 2-3 4-1 4 4 12zM1153 351l23 0-1-8-2-4-4-5-2-2-4-1-4 2-3 2-3 6zM1194 351l20 0 0-2-5-10-2-3-2-1-2 1-2 1-4 5-3 5zM1236 351l16 0-2-8 2-6 5-6 6-5 2-1 6 7 4 7 2 6 0 6 15 0 1-6 5-10 1-4-2-4-4-4-4-2-4-2-4 0-6 1-10 5-11-10-9-3-6-1-10 2-4 0-14-7-6-2-20-2-20-7-20-2-20-6-18-3-20-6-26-4-54-13-32-6-56-13-36-7-50-12-38-7-48-12-38-6-42-12-46-7-42-13-38-5-54-15-10-1-18-1-8-1-48-16-10-2-16 1-8-1-38-12-18-5-58-11-24-2-20-1-18 1-13 2-8 2-3 2 4 2 42 5 18 2 66 14 16 4 30 10 12 4 8 0 14-1 8 1 10 3 28 10 12 3 10 2 18 1 8 1 54 15 36 5 44 12 44 7 43 12 43 7 42 11 40 7 44 11 42 8 56 14 26 4 38 9 20 5 20 2 20 6 20 3 20 8 20 0 6 2 10 5 4 2 4 0 10-2 6 0 8 4 12 11 2 0 12-7 6-1 6 3 4 5 3 5 1 6-3 8zM1315 351l20 0 2-10-1-4-3-6-4-3-4-2-6 1-4 2-3 4-1 4 4 11zM1353 351l23 0 0-6-3-6-4-4-4-3-4 1-4 2-3 4-2 4zM1394 351l13 0 0-15-4 1-4 3-4 5zM1402 327l3 2 2 0 0-25-20-2-22-7-22-2-16-5-20-4-20-5-26-5-56-13-54-11-32-8-50-10-38-9-46-9-44-11-40-7-44-12-40-7-48-12-36-6-54-14-36-5-42-12-32-5-16-3-46-13-10-2-16 0-8-1-12-4-26-9-12-4-10-1-16 1-8-1-36-12-14-4-62-12-20-3-28-3-28 1-20 2-7 2-2 2 9 2 56 7 24 4 66 15 40 13 10 2 8 1 16-1 6 1 50 16 10 2 16 0 8 1 52 15 12 2 28 3 44 13 38 6 52 13 36 6 50 13 36 6 48 12 40 7 44 11 42 8 41 10 47 9 28 7 30 7 26 4 58 14 24 4 18 5 22 4 18 6 20 0 6 2 14 7 4 1 12-2 4 1 6 2zM1403 279l4 1 0-19-58-11-45-11-39-8-44-10-38-7-52-13-38-7-46-11-38-7-52-13-38-7-42-11-44-8-42-11-40-7-50-13-34-4-48-14-44-6-48-15-8-1-18 0-8-1-10-3-28-10-12-4-10-1-16 1-6-1-8-2-30-10-14-4-67-14-25-4-28-2-26-1-18 1-12 2-7 2 1 2 66 9 34 6 72 16 46 15 8 1 16-1 8 0 50 17 10 2 16 0 8 1 50 14 44 7 46 13 36 5 50 13 40 6 40 11 46 8 41 11 47 9 40 10 42 8 46 11 38 7 46 11 38 7 46 11 52 11 30 7 54 11zM1405 235l2 0 0-17-32-6-46-11-46-9-40-10-50-10-37-9-47-9-44-11-36-7-50-12-34-6-53-13-37-6-44-12-44-8-44-12-36-5-52-14-40-6-48-14-8-1-18 0-8-1-12-4-30-11-10-2-8-1-16 1-8-1-21-7 0-2-77 0 0 2 40 9 42 13 10 1 16-1 8 1 12 4 28 10 12 3 10 1 16 0 8 2 46 14 42 6 50 13 36 5 44 12 46 8 42 11 38 7 52 13 34 6 50 12 38 7 46 11 40 8 43 10 45 9 40 9 44 9 46 11zM1402 191l5 1 0-17-16-3-50-12-34-7-53-12-37-7-45-11-39-7-42-11-48-9-40-10-42-8-48-12-36-6-51-13-39-7-42-11-40-7-52-13-36-5-11-3 0-2-91 0 0 2 8 2 22 0 8 1 48 15 38 5 52 14 40 6 40 11 42 7 50 13 34 6 50 12 40 7 42 11 48 9 36 9 48 9 40 10 42 8 45 11 37 7 48 11zM1397 147l10 2 0-18-44-10-38-7-46-11-36-7-54-13-36-7-48-11-38-7-42-11-48-9-42-11-38-7-52-13-36-5-3-1 0-2-81 0 0 2 28 4 42 12 34 5 54 14 38 6 42 11 48 9 38 10 42 8 47 11 37 7 48 11 38 7 44 11 46 9zM1405 105l2 0 0-18-66-13-36-9-54-11-36-9-46-9-45-11-33-6-56-13-27-5 0-2-78 0 0 2 17 3 36 10 36 6 54 13 36 7 48 11 42 8 40 10 48 9 34 9 54 11zM1397 59l10 2 0-18-38-7-56-13-36-7-37-9-30-6 0-2-78 0 0 2 39 10 50 10 40 9 40 8 48 11zM1394 15l13 2 0-18-76 0 0 2 42 10z"/>
<path fill="#69b63c" d="M-1 351l11 0-1-20-2-14-2-7-2-4-2-2-2 0zM31 351l20 0-1-20-2-14-3-10-2-2-2-2-2 1-2 2-3 9-2 14zM72 351l20 0-1-19-2-15-4-12-2-2-2 0-2 1-2 4-2 7-2 16zM113 351l20 0-1-20-3-19-2-9-2-3-2-1-2 2-2 3-3 9-2 16zM154 351l20 0-1-22 1-16-1-4-2-2-4-2-4 0-2 1-2 3-2 4-2 12zM194 351l20 0-1-6-4-12 0-4 3-4 3-2 4-2 4-1 4 2 4 3 6 10 1 6-2 10 17 0-1-10 2-4 4-8 1-4 0-2-3-4-3-3-8-5-6-1-14 0-16-7-6-1-4 0-4 3-2 2-1 4 1 4 5 10 2 4-1 4-4 11zM276 351l17 0 0-6 4-12 0-4-1-4-3-3-6-4-4-1-4 2-4 3-2 3-1 4 4 14zM315 351l20 0 1-10 0-4-3-6-6-5-4-2-4 1-4 2-3 4-1 4 4 12zM354 351l21 0 0-6-2-6-2-5-4-5-2-1-2 1-4 3-3 5-3 6zM394 351l20 0-1-6-5-10-1-4 3-4 5-3 4-2 4-1 4 1 2 2 4 4 3 5 2 4 0 4-2 10 16 0 0-10 1-4 5-10 0-4-4-6-7-4-6-2-12 1-4-1-18-9-8 0-14 5-18-10-20-4-20-8-10-1-14 1-8-1-20-6-24-8-10-3-12-2-26-2-12 2-6 2-2 2 1 2 9 4 10 2 14 2 8 1 22 9 20 5 14 5 6 1 12-4 6 1 20 9 16 2 6 1 7 4 11 9 2 0 14-10 4-2 8 7 7 8 2 4 1 2-1 2-7 10zM477 351l16 0 1-8 4-10 0-4-2-4-3-3-6-4-4-1-4 1-4 3-3 4 0 4 4 14zM515 351l20 0 1-8 0-6-4-6-5-5-4-1-4 1-4 2-3 3 0 2 0 4zM554 351l22 0-1-6-2-6-2-4-4-5-4-1-4 3-2 3-3 6zM594 351l20 0-1-5-7-13 0-2 9-7 8-3 4 1 2 1 4 5 3 5 2 4 0 4-2 10 16 0-1-8 1-4 6-12 0-4 0-2-5-5-6-3-6-1-12 1-4 0-13-8-7-2-6-1-12 2-4-1-16-6-20-3-24-9-22-2-30-5-26-9-12-3-30-3-12-2-50-16-8-1-16 1-8-1-36-13-16-4-20-3-32-2-13 1-6 2-2 2 1 2 6 2 38 7 18 4 46 16 8 1 16-1 6 1 14 3 34 12 22 3 26 3 8 2 20 8 20 3 14 4 6 1 12-1 6 1 22 9 14 1 6 1 6 3 8 5 4 2 4-1 12-6 4 0 4 2 4 4 7 7 4 6-8 12-2 4zM677 351l16 0 0-6 5-12-1-4-2-4-4-4-6-3-4 0-4 1-4 3-2 3 0 4 5 14zM715 351l20 0 1-8 0-6-4-6-5-4-4-1-4 1-4 2-3 4 0 4zM754 351l22 0-1-6-1-4-3-6-4-4-2-1-4 1-6 6-2 6zM794 351l20 0 0-2-3-7-4-7-2-1-4 2-4 5-3 6zM836 351l16 0-1-8 0-4 8-14-1-4-4-4-5-3-4-2-6 0-10 2-4 0-12-7-8-4-6 0-16-1-16-5-22-3-16-6-8-2-52-9-28-8-24-6-30-3-52-15-36-4-32-11-14-3-40-5-14-4-36-12-10-1-14 1-8-1-40-14-16-4-42-6-16-1-19 1-7 2-2 2 3 2 7 2 66 14 50 16 10 1 14-1 8 1 33 11 15 4 12 2 28 3 48 14 32 4 24 6 28 8 26 4 30 6 24 7 20 3 18 5 18 1 6 2 12 6 6 2 14-1 6 1 6 3 8 5 4 1 4 0 10-4 6 0 8 5 12 12 2 0 12-8 6-1 2 0 4 4 4 5 3 5 1 6zM877 351l15 0 1-6 5-10 0-4-3-6-4-3-6-3-4-1-4 1-4 2-3 4 1 4 5 12zM915 351l20 0 1-8 0-6-4-6-5-4-4-1-4 1-4 2-3 4 0 4zM953 351l23 0-1-6-1-4-5-7-2-2-4-1-2 1-4 3-4 6zM994 351l20 0 0-2-5-10-4-4-2 1-2 1-4 5-2 5zM1037 351l15 0-2-8 1-4 1-4 8-10 0-2-3-4-5-4-5-2-8-1-10 2-4 1-12-8-8-3-6-1-14 0-18-6-22-3-23-7-17-3-20-5-22-3-50-13-38-7-44-11-40-7-46-12-38-6-50-14-34-4-53-15-11-2-18-1-10-2-48-15-8-1-16 1-8-1-38-13-18-5-46-8-20-2-23 1-9 2-2 2 5 2 8 2 79 17 46 15 10 2 16-2 8 1 36 13 12 3 10 2 26 2 16 4 38 11 10 2 18 1 8 2 48 13 12 2 26 3 46 13 40 6 48 13 28 4 32 8 24 7 20 2 20 5 18 2 6 2 16 7 4 1 16-1 6 2 10 6 4 1 4 0 10-2 6 0 8 4 12 11 4-1 10-6 6-2 6 4 4 5 3 6 1 6-2 8zM1077 351l15 0 1-6 5-10 0-4-2-4-5-5-6-3-4 0-4 1-4 1-3 4 0 4 6 12 1 4zM1115 351l20 0 1-10 0-4-4-6-5-4-4-1-4 1-4 3-2 3-1 4zM1153 351l23 0-1-8-4-6-2-2-4-3-4 1-4 2-2 3-2 3zM1194 351l20 0 0-2-5-9-4-3-4 1-4 5-2 4zM1237 351l14 0-1-8 0-4 2-4 8-10 0-2-3-4-5-4-5-2-8-1-10 3-4 0-13-8-7-2-20-2-20-7-20-1-18-6-22-5-18-5-24-3-54-14-36-6-53-13-37-7-48-12-38-6-49-13-39-6-42-12-44-7-44-13-28-3-10-2-54-15-10-2-16 0-8-1-50-17-8-1-16 2-8-1-40-14-16-4-54-10-18-2-14-1-15 1-12 2-1 2 5 2 99 22 50 15 8 1 16-1 6 1 8 2 28 10 14 4 10 2 18 0 8 2 54 15 10 2 26 2 44 13 44 7 42 11 40 7 50 13 34 5 51 13 39 7 54 13 28 4 21 6 17 4 18 5 22 2 20 6 18 3 6 1 16 7 4 0 16-1 6 2 10 6 4 2 4 0 12-2 4 0 6 3 14 11 4-1 12-6 4-1 4 2 4 4 5 7 2 4 0 4-3 8zM1278 351l14 0 1-6 5-10 0-4-2-4-5-4-6-3-4 0-6 1-4 2-2 2 1 4 6 12 2 4zM1316 351l19 0 1-8 0-4-3-6-4-4-4-2-4 0-5 2-3 4-1 4zM1353 351l23 0-1-6-2-5-4-5-4-2-4 0-4 3-4 5 0 4zM1394 351l13 0 0-13-4 0-4 3-4 5zM1405 327l2 0 0-22-20-2-22-7-22-2-16-5-20-4-22-6-22-3-60-15-50-9-34-9-48-9-36-9-46-9-44-11-46-9-44-11-38-7-48-12-36-6-50-13-38-6-44-12-32-5-12-2-50-14-8-2-18 0-8-1-10-3-30-11-10-3-10-1-14 1-8 0-38-13-18-5-56-11-20-3-14-1-18 0-10 0-10 2 0 2 6 2 36 7 78 18 46 15 10 1 16-1 8 1 38 13 12 3 10 2 16 0 8 1 50 15 12 2 32 4 42 12 38 6 50 13 36 5 50 13 38 7 44 11 42 8 42 10 46 9 38 9 48 9 34 9 29 6 21 4 24 6 18 4 18 4 22 3 20 6 22 4 18 6 20 0 6 2 14 7 4 0 12-1 4 0 6 3 10 8zM1400 277l7 1 0-16-54-10-45-11-45-9-46-11-36-7-46-11-38-7-53-13-37-7-45-11-41-7-40-11-48-9-42-11-40-7-50-13-34-4-48-14-44-7-46-13-10-2-18 0-8-1-38-14-12-3-10-1-14 1-8-1-48-15-80-17-20-2-22-1-16 0-12 2 0 2 7 2 47 9 82 20 44 14 10 1 14-1 8 0 12 4 28 10 12 3 8 2 18 0 8 1 48 14 44 7 46 13 36 4 48 13 42 7 41 11 47 8 38 10 46 9 44 11 38 7 46 11 38 7 48 12 36 6 54 13 38 7 45 11 47 9zM1401 233l6 1 0-15-36-7-38-9-54-11-36-9-46-9-38-9-44-9-46-11-38-7-52-13-32-5-52-13-38-7-42-11-48-9-42-11-36-5-54-15-38-5-49-15-11-1-16 0-8-2-38-13-12-3-10-2-14 2-8-1-10-3-15-5 0-2-72 0 0 2 35 8 44 13 10 1 14-1 8 1 10 3 30 11 12 3 10 1 16 0 8 1 48 15 40 6 52 14 36 4 42 12 48 8 42 12 36 6 50 12 38 7 48 11 38 7 44 11 46 9 36 9 48 9 45 11 39 8 44 10zM1398 189l9 1 0-14-12-2-54-13-36-7-46-11-38-7-44-11-46-9-36-9-48-9-42-11-40-7-51-13-33-5-50-13-42-7-44-12-38-6-54-15-36-4-13-4 0-2-86 0 0 2 5 1 20 0 10 1 46 15 36 4 56 15 36 5 44 12 38 7 52 13 36 6 46 11 42 8 40 10 48 9 38 10 46 8 44 11 38 7 46 11 38 7 53 13zM1403 147l4 0 0-15-40-9-38-7-53-13-29-5-54-13-36-7-55-13-35-6-38-10-50-10-40-10-40-7-52-13-38-6-6-2 0-2-71 0 0 2 21 3 38 11 36 6 57 14 35 6 40 10 48 9 43 11 39 7 46 11 38 7 54 13 36 7 38 9 46 9zM1401 103l6 1 0-16-62-12-38-10-54-11-34-8-46-9-46-11-36-7-54-13-34-6-1-2-66 0 0 2 13 3 34 9 38 7 52 12 34 6 53 13 37 7 37 9 49 9 36 9 54 11zM1402 59l5 1 0-16-36-6-54-13-38-7-34-9-41-8 0-2-67 0 0 2 30 8 54 10 38 10 38 7 52 12 32 6zM1401 15l6 1 0-15-3 0 0-2-69 0 0 2 8 2 36 8z"/>
<path fill="#69b748" d="M-1 351l10 0 0-16-2-13-2-8-2-4-2-1-2 0zM31 351l20 0-1-18-2-12-3-9-2-3-2-1-2 1-2 2-3 8-2 14zM72 351l20 0-1-16-2-14-2-7-2-4-2-2-2 0-2 2-2 3-2 6-2 14zM113 351l20 0-1-18-2-12-3-10-2-4-2-1-2 1-2 3-3 9-2 14zM154 351l20 0-2-22 1-16-2-4-4-2-4 0-2 2-3 6-2 12zM194 351l20 0-1-6-5-12 0-4 3-4 4-3 4-2 4-1 4 2 4 4 4 5 2 5 1 6-2 10 17 0-1-10 1-4 5-10 0-4-5-6-8-5-8-1-12 0-16-8-6 0-4 1-4 3-2 4 1 4 5 10 1 4 0 4-5 12zM277 351l16 0 1-8 3-10 0-4-4-7-6-4-4 0-4 1-4 4-2 4 0 4 3 12zM315 351l20 0 1-10 0-4-4-6-5-5-4-1-4 0-4 2-3 4 0 4zM354 351l21 0 0-6-2-6-2-4-4-5-2-1-2 1-4 3-3 4-2 6zM394 351l20 0-1-4-2-6-6-9-4 3-4 5-2 5zM436 351l16 0-1-8 1-4 5-10 1-4-1-4-4-4-4-3-6-2-18 0-13-7-7-3-8 1-8 4-1 2 1 2 16 19 10-7 6-2 4-1 4 3 6 7 3 7 0 4zM477 351l16 0 0-6 4-10 0-4-1-4-3-4-6-4-4-1-4 1-4 3-2 3-1 4 5 14zM515 351l20 0 1-8-1-6-3-6-5-4-4-1-4 1-4 2-2 2-1 2 0 4zM554 351l21 0 0-6-2-6-2-4-4-4-2-1-2 0-6 5-3 6zM594 351l20 0 0-2-3-7-4-6-2-2-4 2-4 5-2 6zM636 351l16 0-1-8 0-4 6-12 0-4-4-6-4-3-4-1-6 0-10 1-4 0-14-9-8-2-6 0-12 3-16-7-22-4-22-8-8-2-16-1-30-5-26-10-10-2-30-3-10-2-52-16-10-1-14 1-8-1-36-13-18-4-18-3-26-1-12 1-2 0-3 2 1 2 5 2 45 11 44 15 10 1 14-1 8 1 10 2 30 11 10 2 20 3 26 3 6 1 22 9 20 3 16 5 16-1 6 1 17 8 5 2 14 0 6 1 18 10 4-1 12-6 4-1 6 5 14 14 2 0 14-9 4 0 2 0 4 4 4 6 3 5 1 6zM677 351l15 0 1-6 4-10 0-4-2-5-4-4-6-3-4 0-4 1-4 3-1 2 0 4 5 14zM715 351l20 0 1-8-1-6-3-6-5-4-4-1-4 1-4 3-2 3-1 4zM754 351l21 0 0-6-1-4-3-5-4-4-2-1-4 1-5 5-2 6zM794 351l20 0 0-2-5-10-4-3-2 0-2 1-4 5-2 5zM837 351l15 0-2-8 1-4 7-14-1-4-2-2-5-4-5-2-8 0-12 4-9-8-11-5-6-1-12 1-4 0-16-6-22-3-22-8-54-9-24-7-26-6-32-4-48-14-12-2-18-2-8-1-34-11-12-3-12-2-22-2-8-1-50-16-8-1-16 1-8-1-36-13-16-4-25-4-29-3-14 0-4 1-3 2 2 2 5 2 54 13 48 16 10 1 14-1 8 0 36 13 14 4 12 2 26 2 12 3 38 12 30 2 24 6 30 9 26 3 28 6 26 9 20 2 18 5 18 1 6 2 12 6 6 2 18-1 6 3 10 6 4 1 4 0 10-4 6 0 6 3 14 13 4-1 16-10 8 9 5 9 1 6zM877 351l15 0 1-6 4-10 0-4-2-5-4-4-6-3-4 0-4 1-4 3-2 2 1 4 5 14zM916 351l19 0 1-8-1-6-4-6-4-3-4-1-4 1-4 2-2 3-1 4zM954 351l21 0-1-8-2-4-3-4-4-3-2 0-4 2-2 2-3 5zM994 351l20 0 0-2-5-9-4-3-4 1-4 5-2 4zM1037 351l14 0-1-8 0-4 8-14-1-4-2-3-5-3-5-2-8 0-5 2-3 2-1 2 9 12 3 6 0 4-3 8zM1078 351l14 0 1-6 4-10 0-4-2-4-4-4-6-3-4 0-4 1-4 2-2 2 0 4 6 14zM1116 351l18 0 2-8-1-6-4-6-4-3-4-1-4 1-4 3-2 2 0 4zM1154 351l21 0 0-6-2-4-2-3-4-4-4-1-4 1-3 3-2 4zM1194 351l19 0 0-2-4-8-4-3-2 0-6 5-2 4zM1237 351l14 0-2-8 0-4 2-4 7-8 1-2-1-2-2-4-5-3-6-3-8 1-4 1-4 2 0 2 1 2 8 10 3 6 0 4-4 8zM1278 351l13 0 1-6 5-10 0-4-2-4-5-4-5-2-4-1-4 1-4 2-2 2 0 4 7 14zM1316 351l18 0 2-8 0-4-3-6-4-3-4-2-4 0-4 2-3 3-1 4zM1354 351l21 0 0-6-2-4-4-5-4-2-4 0-4 3-3 4-1 4zM1394 351l13 0 0-12-4 0-4 3-4 5zM1004 327l3 1 4-2 10-7 2-2-1-2-5-4-6-4-6-2-6-1-14 0-20-7-20-1-22-8-20-4-16-3-22-3-23-7-25-6-40-7-46-12-38-6-46-13-36-5-53-15-9-1-24-2-42-13-12-3-10-2-18-1-10-1-12-4-26-9-12-4-8-1-16 2-6-1-40-14-16-4-58-8-18-1-4 1-4 2 2 2 11 4 61 14 46 16 10 1 14-2 8 1 34 12 14 4 12 2 24 2 14 3 42 13 34 3 30 9 20 5 38 5 42 12 16 3 26 4 49 13 27 4 32 7 26 8 20 2 20 5 18 2 6 2 16 7 6 1 12-2 4 1 14 8 4 1 4 0 12-3 4 0 6 4zM1202 325l3 2 2 0 4-2 9-6 2-2-1-2-8-6-8-3-6-1-14-1-14-5-8-2-18-1-20-7-18-3-18-5-24-3-58-15-28-5-54-13-40-7-50-13-34-5-48-13-42-7-42-12-44-7-44-13-38-4-54-16-10-1-18-1-8-1-48-16-10-2-16 2-6-1-8-2-30-11-12-4-58-10-15-2-11 0-11 0-6 2 1 2 12 4 31 8 41 9 46 15 10 2 16-2 6 1 38 13 12 3 10 2 18 0 8 2 53 15 11 2 18 1 8 1 42 13 44 7 46 12 36 6 48 12 40 7 46 11 40 7 58 14 26 4 57 15 23 2 18 6 20 3 20 8 6 0 12-1 4 0 18 9 4 1 12-3 4 1 6 3zM1403 325l4 1 0-20-22-1-20-8-20-1-18-6-22-4-18-5-26-4-56-14-48-9-36-9-46-9-43-11-47-9-36-9-46-9-44-11-38-7-51-13-35-5-50-14-12-2-28-4-42-12-12-2-20-2-16-4-46-13-10-2-16 0-8-1-12-3-28-11-12-3-8-1-16 2-6-1-50-17-70-13-26-2-10 1-6 1 1 2 5 2 53 14 39 9 42 14 12 1 14-1 8 0 36 13 14 4 10 2 16 0 8 1 37 11 15 4 12 2 28 3 44 13 38 5 52 14 36 5 52 14 34 5 42 11 48 9 36 9 48 9 34 9 56 11 37 9 47 9 20 5 38 9 22 3 20 6 22 3 18 7 20 0 4 1 12 6 4 2 4 0 12-1 4 0 6 3zM362 319l3 2 4-1 11-9 1-2 0-2-4-4-8-4-6-2-16-4-20-7-10-2-14 2-6-1-20-5-26-10-10-3-10-1-26-1-10 2-3 2 0 2 3 2 5 2 23 4 24 9 34 10 6 1 12-4 6 1 20 9 16 2 6 2 6 3zM1404 277l3 0 0-14-52-9-43-11-45-9-46-11-38-7-44-11-40-7-51-13-39-7-42-11-42-8-42-11-48-8-40-11-40-7-52-14-34-4-46-13-44-7-50-15-10-1-16 0-6-1-12-3-30-11-12-3-10-1-14 1-6 0-50-17-72-14-14-2-16-1-14 0-8 1 0 2 5 2 62 16 41 9 44 14 12 2 14-2 6 1 8 2 28 10 16 5 10 2 16-1 8 1 49 15 45 7 46 13 32 3 54 15 38 6 40 11 48 8 42 11 40 7 44 11 40 7 46 11 38 7 52 13 32 6 52 12 46 9 37 9 49 9zM1398 231l9 2 0-13-34-6-45-11-45-9-36-9-48-9-43-11-37-7-50-12-34-6-52-13-38-7-53-13-33-5-44-12-46-8-46-13-34-4-50-14-42-6-48-15-10-1-16 0-8-1-50-17-10-2-16 2-8-1-26-9 0-2-67 0 0 2 31 7 42 13 10 1 16-1 8 1 37 13 13 4 10 1 18 0 8 1 36 12 10 3 42 6 54 14 32 4 42 12 48 8 41 11 39 6 52 14 34 5 52 13 38 7 46 11 38 7 45 11 39 7 45 11 45 9 38 9zM1394 187l13 2 0-12-10-1-52-13-38-7-44-11-40-8-42-10-48-9-42-11-46-9-38-10-38-6-52-13-38-7-52-13-40-7-40-11-36-5-54-15-12-2-28-3-16-5 0-2-56 0 0 2 12 3 27 9 15 4 10 2 18 1 10 2 50 13 12 3 30 4 40 11 40 7 52 13 34 5 51 13 39 7 36 9 50 9 42 11 40 7 44 11 38 7 54 13 30 5 54 13zM1399 145l8 1 0-12-36-9-38-7-53-13-37-7-54-13-30-5-52-13-38-7-44-11-46-9-42-11-34-5-58-15-34-5-11-3 0-2-60 0 0 2 15 3 38 11 34 5 52 13 40 7 38 10 48 9 41 10 39 7 54 13 32 6 52 12 38 7 36 9 48 9zM1398 101l9 2 0-14-64-12-38-10-46-9-44-11-38-7-53-13-31-5-52-13-40-7-3-1 0-2-57 0 0 2 38 10 40 7 53 13 33 6 51 12 39 7 35 9 55 11 37 9 47 9zM1398 57l9 2 0-14-34-5-52-13-44-8-37-10-42-8 0-2-57 0 0 2 22 6 56 11 36 9 38 7 55 13 29 5zM1397 13l10 1 0-11-10-2 0-2-57 0 0 2 8 2 27 6zM522 1l15 0 0-2-15 0z"/>
<path fill="#6ab85b" d="M-1 351l10 0-2-26-2-7-2-4-2-2-2 0zM31 351l19 0-1-16-1-12-3-7-2-3-2-1-2 1-2 2-2 6-2 12zM72 351l20 0-1-14-2-12-2-7-2-4-2-2-2 0-2 2-3 7-2 12zM114 351l19 0-1-16-3-12-2-7-2-4-2-1-2 1-2 2-2 7-2 12zM155 351l19 0-2-22 0-14-2-4-3-2-4 0-2 2-3 6-2 12zM194 351l20 0-1-5-5-13-1-4 3-4 5-4 4-2 4-1 4 2 4 4 4 6 3 5 0 6-2 10 16 0 0-10 6-14-1-4-4-6-8-5-8-1-12 2-2-1-14-8-6 0-4 1-4 4-1 4 7 16-1 4-4 10zM277 351l16 0 0-8 3-10 0-4-3-6-6-4-4 0-4 1-4 3-2 4 0 4 3 12zM315 351l20 0 1-10-1-5-4-6-6-4-6 0-4 2-2 3-1 4zM354 351l21 0 0-6-2-6-2-4-4-4-2-1-2 0-6 6-3 7zM394 351l20 0-1-4-2-5-4-7-2-1-2 0-2 2-4 5-2 5zM436 351l16 0-1-8 1-4 4-10 1-4-1-4-3-3-4-3-6-2-6-1-8 2-4 0-12-8-8-3-4 0-4 1-5 3-2 2 2 4 9 11 4 3 4-1 12-6 4-1 4 3 6 8 3 7 1 4zM477 351l15 0 1-6 3-10 1-4-3-6-3-3-4-3-4 0-4 1-4 3-1 2-1 4 4 14zM515 351l19 0 2-8-1-6-4-6-4-4-4-1-4 1-4 3-2 3 0 4zM554 351l21 0 0-6-2-5-2-4-4-4-4-1-2 1-4 4-3 7zM594 351l20 0 0-2-5-10-4-4-2 1-2 1-4 5-2 5zM637 351l15 0-1-8 0-4 5-12 0-4-1-3-3-3-7-3-8-1-6 2-4 2 1 2 7 10 3 6 1 6zM677 351l15 0 1-6 3-10 1-4-2-4-4-5-6-3-4 0-4 2-4 4 0 4 4 14zM716 351l18 0 1-8 0-6-4-6-4-3-4-1-4 1-4 3-2 2 0 4zM754 351l21 0-1-8-2-4-3-5-4-2-2 0-4 2-2 2-2 3-1 4zM794 351l19 0 0-2-4-9-4-3-2 0-4 3-3 5zM837 351l15 0-2-8 0-4 6-12 1-4-2-3-3-3-7-3-4 0-6 1-5 2 0 2 8 14 2 4 0 4-3 8zM878 351l14 0 0-6 4-10 0-4-1-4-4-4-6-3-4 0-4 1-3 2-1 2-1 4 5 14zM916 351l18 0 1-8 0-6-4-6-4-3-4-1-4 1-4 3-1 2-1 4zM954 351l21 0-1-8-2-4-3-4-2-1-4-1-4 1-2 2-2 3-1 4zM995 351l18 0 0-2-4-8-4-3-2 0-4 3-2 3-2 4zM1037 351l14 0-2-8 0-4 8-14 0-2-3-4-5-4-4-1-4 0-6 1-3 2-1 2 0 2 7 10 3 6 0 4-4 8zM1078 351l13 0 1-6 4-10 0-4-2-4-4-4-5-2-4 0-4 0-4 3-1 3 1 4 5 12zM1116 351l18 0 1-8-1-6-3-5-4-3-6-1-4 2-3 3-1 2 0 4zM1154 351l21 0-1-8-3-5-4-3-2-1-4 0-4 3-3 4 0 4zM1195 351l18 0 0-2-4-7-2-2-4-1-2 1-4 4-2 4zM1238 351l13 0 0-2-3-8 0-2 2-4 6-8 1-2 0-2-3-4-5-3-4-2-4 0-5 1-3 2-1 2 1 4 9 14 0 4-4 8zM1279 351l12 0 1-6 4-10 0-4-2-4-5-4-4-1-4-1-4 1-4 3-1 2 1 4 5 12zM1316 351l18 0 1-8 0-4-2-5-4-4-4-1-4 0-4 2-2 2-1 2 0 4zM1354 351l21 0-1-6-2-4-3-4-4-2-4 0-4 2-2 4-1 4zM1395 351l12 0 0-11-4 0-4 2-3 5zM605 327l4-1 12-7 3-2-1-2-10-8-8-3-8 0-5 1-4 2 0 2 1 2 12 13zM802 325l3 2 2 0 4-2 9-6 1-2 0-2-7-6-9-4-8-1-12 3-2 0-10-6-5-2-23-3-13-5-9-3-52-8-28-9-24-5-30-4-29-9-24-6-11-2-22-1-32-11-16-4-12-2-18-1-10-2-14-4-26-9-12-4-8 0-16 2-6-1-34-13-20-6-16-2-32-3-12 1-2 0-1 2 9 4 42 11 44 15 12 1 14-2 6 0 34 13 14 4 12 2 20 1 10 2 50 15 8 1 16 0 8 2 50 14 32 4 26 6 24 8 20 2 18 4 18 2 6 2 16 7 6 1 10-1 6 1 14 8 4 1 6-1 10-5 4 0 6 5zM1003 325l4 1 4-1 8-6 1-2-1-2-6-6-8-3-8-1-12 1-18-7-6-1-14 0-24-9-18-3-20-5-20-2-26-8-26-6-32-5-48-13-30-4-12-3-44-12-28-4-10-2-50-14-10-1-18-1-8-2-35-11-15-4-12-2-18-1-8-1-50-16-10-2-14 2-6 0-42-15-22-5-48-7-14 1-1 0-2 2 3 2 11 4 45 11 37 13 11 3 10 1 14-2 6 0 38 14 12 3 10 2 18 1 8 1 54 15 10 2 16 0 8 1 34 11 16 4 12 2 26 3 40 11 17 4 27 3 50 14 32 4 32 8 22 7 20 1 20 6 18 2 6 2 16 7 6 1 14-2 6 2 10 6 4 2 6-1 10-3 4 0 6 4zM1205 325l4 0 4-2 5-4 1-2-1-2-3-4-10-5-8 0-12 0-11-5-7-2-8-1-14 0-12-5-10-3-18-3-20-6-22-2-19-6-33-8-32-5-59-15-31-5-50-13-40-7-42-11-16-3-28-4-45-13-43-7-44-13-34-3-58-17-10-1-16-1-8-1-38-13-12-4-10-1-14 2-6 0-36-13-20-6-63-10-15 0-5 2 2 2 11 4 21 6 37 9 34 11 12 4 10 1 14-3 6 1 35 13 15 4 10 2 18 0 8 1 52 15 12 3 26 2 44 13 44 6 42 12 42 7 46 12 38 6 51 13 35 6 58 14 26 4 58 15 24 2 18 6 20 3 20 7 6 1 12-2 4 0 13 8 5 2 6 0 10-2 4 0 6 3 10 9zM1402 323l5 1 0-17-8-1-14 1-12-6-10-3-18 1-20-8-18-3-20-6-26-4-52-13-48-9-43-11-41-7-41-11-47-9-43-11-41-7-48-13-34-5-50-13-36-6-53-14-37-5-42-13-11-2-29-3-56-17-10-1-16 0-6 0-12-4-29-11-11-3-10-1-16 2-4 0-8-2-30-12-22-6-62-11-16-1-10 2 1 2 4 2 12 4 30 8 31 7 46 15 12 1 14-2 6 0 38 15 14 4 10 1 16-1 6 1 50 15 14 3 28 3 46 13 34 4 55 15 35 5 50 13 36 6 48 12 40 7 43 11 43 8 41 10 49 9 35 9 49 9 25 7 17 3 18 5 20 2 22 7 20 2 20 8 6 0 14-2 16 9 4 2 6 0 12-3 2 0 4 3zM364 319l3 0 4-2 5-4 3-4 0-2-4-4-10-5-18-4-16-6-8-2-8-1-12 2-6 0-26-9-20-7-10-3-10-1-22 0-6 0-4 2 0 2 2 2 22 5 24 10 34 10 8-1 10-3 6 0 20 11 16 2 6 1 6 3zM561 315l4 2 4-1 9-5 2-2 1-2-5-4-7-3-6-2-16-2-22-9-8-1-16 0-28-6-8-2-18-7-12-3-26-2-12-2-12-4-28-9-14-4-10-1-14 1-8-1-32-12-18-5-16-2-24-1-12 1-1 2 3 2 40 11 38 13 12 2 14-1 6 0 14 4 26 9 12 4 16 2 22 1 8 2 28 10 20 3 16 4 16 0 4 0 4 1 18 9 6 1 12 0 6 2zM1401 275l6 1 0-11-50-9-42-11-46-9-45-11-39-7-51-13-37-7-45-11-39-7-42-11-48-9-42-11-42-7-46-13-36-5-54-15-32-3-48-14-38-6-10-2-44-13-10-2-18 1-6-1-10-3-28-11-14-4-10-1-16 2-4 0-40-15-16-4-72-14-16-1-13 1-1 2 17 6 35 10 40 9 42 14 12 1 14-2 4 0 10 3 29 11 15 4 10 2 16-1 6 1 38 12 12 3 42 6 39 11 13 3 24 2 8 2 32 9 16 4 42 6 42 12 42 7 42 11 42 7 44 11 38 7 53 13 33 6 51 12 39 7 44 11 40 7 44 11 50 9zM1404 231l3 0 0-9-32-6-43-11-47-9-35-9-47-9-43-11-39-7-52-13-32-5-58-15-32-5-50-13-40-7-41-11-43-7-46-13-10-2-18-1-8-2-38-11-14-3-40-6-49-15-9-1-16 0-8 0-40-15-12-3-10-2-16 3-6-1-30-11 0-2-62 0 0 2 30 7 40 12 10 2 16-3 6 1 35 13 17 5 10 2 16-1 8 1 33 11 15 4 40 5 55 15 31 3 44 13 44 7 44 12 38 6 52 13 34 5 50 13 40 7 44 11 40 7 43 11 41 7 43 11 47 9 37 9 39 7zM1403 187l4 0 0-8-14-3-45-11-39-7-43-11-45-9-36-9-50-9-40-11-48-9-42-11-34-6-56-14-34-5-49-13-41-7-42-12-36-5-56-15-12-2-24-2-22-7 0-2-47 0 0 2 29 10 16 5 10 1 16 1 10 2 56 15 38 5 42 12 38 6 50 13 36 5 49 13 41 7 42 11 42 7 42 11 40 7 53 13 31 5 53 13 31 5 52 13zM1396 143l11 2 0-10-43-10-29-5-52-13-38-7-53-13-31-5-50-13-40-7-41-11-49-9-41-11-35-6-56-14-36-5-16-5 0-2-50 0 0 2 42 12 10 2 26 3 50 13 14 3 28 4 41 11 49 9 38 10 38 6 52 13 32 5 52 13 40 7 35 9 18 4 31 5zM1403 101l4 0 0-10-62-13-36-9-48-9-42-11-38-7-53-13-33-5-49-13-41-7-12-3 0-2-47 0 0 2 35 10 34 5 53 13 39 7 45 11 41 7 42 11 48 9 36 9 48 9zM1404 57l3 0 0-10-32-5-51-13-45-9-35-9-49-9-3-1 0-2-47 0 0 2 23 6 49 9 44 11 30 5 54 13 32 5zM1395 11l12 2 0-9-17-3 0-2-45 0 0 2 26 6z"/>
<path fill="#6bb96e" d="M-1 351l10 0-1-12-1-12-3-8-3-4-2 0zM31 351l19 0-1-16-2-11-2-5-2-3-2-1-2 1-2 2-2 5-2 12zM73 351l18 0-2-23-2-7-2-4-2-2-2 0-2 2-3 6-2 12zM114 351l18 0 0-14-3-12-2-6-2-3-2-1-2 0-2 3-2 5-2 12zM155 351l19 0-3-34-2-4-2-2-2 0-2 1-2 2-2 4-3 13zM195 351l19 0-1-6-7-14 0-2 7-7 10-6 4 3 4 4 7 12 1 6-3 10 16 0-1-10 1-4 5-8 0-4 0-2-5-6-7-4-8-1-8 1-4 2-2-1-7-5-5-3-6-2-4 1-3 2-2 2-1 4 2 4 6 12 0 2-6 10-2 5zM277 351l15 0 1-7 3-11 0-4-4-6-5-3-4-1-4 2-3 2-2 4 0 4 3 12zM315 351l19 0 2-8-1-6-4-7-6-4-6 0-4 3-2 2 0 6zM354 351l21 0-1-6-1-5-2-4-4-4-4-1-6 6-3 6zM395 351l19 0 0-2-3-7-4-6-2-1-2 0-4 4-4 6zM437 351l15 0-1-8 0-4 5-10 0-4 0-2-2-4-6-4-7-2-8 1-8 3-1-2-9-7-6-3-4-1-6 0-6 3-1 2 1 4 8 10 4 3 4-1 14-8 2 0 2 1 7 9 4 8 1 6zM477 351l15 0 1-6 3-10 0-4-2-6-3-3-4-2-4-1-4 1-5 5 0 4 3 14zM516 351l18 0 1-8 0-6-4-6-4-3-4-1-4 1-4 2-2 3 0 4zM554 351l21 0-1-6-1-5-2-3-4-5-4 0-4 2-2 2-3 7zM595 351l18 0 0-2-4-9-4-4-2 1-4 3-2 3-2 4zM637 351l15 0-2-8 0-4 6-12 0-4-3-4-2-2-6-3-6 0-5 1-3 2-1 2 8 14 1 4 0 4-2 8zM678 351l14 0 0-6 4-10 0-4-2-4-3-4-6-3-4 0-4 2-2 1-2 4 1 4 3 12zM716 351l18 0 1-8-1-6-3-5-4-3-4-1-4 0-4 3-1 2-1 4zM754 351l21 0-1-8-2-4-3-4-2-2-4 0-4 2-2 2-3 6zM795 351l18 0 0-2-4-8-4-3-2 0-4 3-2 2-2 5zM837 351l14 0-1-8-1-4 6-12 0-4 0-2-4-4-6-2-8 0-4 2-1 2 1 4 5 8 2 6 0 4-3 8zM878 351l14 0 0-6 4-10 0-4-2-4-4-4-5-2-4 0-4 1-3 3-1 2 1 4 4 12zM916 351l18 0 1-8-1-6-3-5-4-3-6-1-4 2-2 3-1 6zM954 351l21 0-1-8-5-7-2-2-4-1-4 2-2 2-3 6zM995 351l18 0 0-2-4-7-2-2-4-1-4 3-2 2-2 5zM1038 351l13 0-3-12 7-12 0-4 0-2-4-3-6-3-4 0-4 1-3 1-1 2 1 4 7 14 0 4-3 8zM1078 351l13 0 1-6 3-10 0-4-2-4-4-4-4-1-4-1-4 1-3 3-1 2 1 4 4 12zM1116 351l18 0 1-8-1-6-3-5-4-2-6-1-4 2-2 2-1 6zM1154 351l21 0-2-8-2-4-4-4-4-1-2 1-4 3-2 3-1 4zM1195 351l18 0 0-2-4-6-4-3-2 0-4 2-2 3-2 4zM1238 351l12 0 0-2-5-10-6 8zM1279 351l12 0 0-6 4-10 0-4-2-4-4-3-4-2-4 0-4 1-3 2-1 2 1 4 5 12zM1317 351l17 0 1-8-1-4-3-6-4-3-6 0-4 2-2 2-1 5zM1354 351l21 0-1-4-1-4-4-5-4-2-4 0-4 2-2 3-1 4zM1395 351l12 0 0-10-4 0-4 2-3 4zM1244 337l1 2 7-8 3-4 0-4-3-4-3-2-6-2-4 0-4 2-1 2 0 2 3 6zM603 325l4 1 4-2 8-5 2-2 0-2-7-6-7-4-8-1-7 3-2 2 2 4zM804 325l3 1 2-1 7-4 3-4 0-2-2-2-4-4-8-3-8-1-6 2-2 2 1 2 9 10zM1002 323l3 2 2 0 4-2 6-4 1-2-1-2-4-5-8-3-8-1-6 2-2 1 1 2zM1203 323l4 1 6-3 4-4-1-2-1-2-6-4-6-2-7 0-6 2 0 2 2 2zM1401 321l4 2 2 0 0-15-8 0-7 1-1 2 1 2zM362 317l3 1 2 0 6-3 4-4 0-2-1-4-5-4-5-2-21-5-20-7-6-1-6 1-7 2-2 2 11 8 8 4 6 2 12 1 6 1 6 4zM563 315l4 1 6-3 4-4 1-2-2-2-3-3-6-2-20-3-22-9-8-1-12 0-6 0-30-7-22-9-10-2-36-3-12-3-27-10-17-5-12-1-14 2-6 0-33-14-17-5-10-2-12 0-12 0-8 1 1 2 4 2 63 22 12 1 14-2 4 0 42 15 10 3 14 2 32 2 30 12 20 2 16 4 20-1 6 3 12 7 5 2 21 1 4 2zM762 313l5 1 4-1 6-4 1-2-4-4-5-3-8-1-14 0-17-8-7-2-20-2-17-4-17-2-22-8-27-6-29-3-27-9-25-6-12-2-16-1-6-1-36-12-14-4-12-1-16-1-10-1-50-17-8-1-6 0-14 3-6-1-30-13-20-6-12-2-20-2-14-1-8 1 0 2 4 2 32 9 35 13 11 3 12 1 14-4 4 1 32 13 18 5 14 3 18 0 8 1 48 15 10 2 16 0 8 1 51 15 9 2 22 1 26 6 26 9 20 2 18 4 18 2 6 2 12 6 6 2 6 0 10-1 4 0zM961 311l4 2 4 0 9-4 1-2-4-4-10-4-8 0-8 2 1 2zM1163 311l4 1 6-1 5-2 1-2-5-4-7-3-8-1-7 2 0 2 2 2zM1365 311l4 0 4 0 4-2 1-2-5-4-6-3-8 0-5 1-1 2 2 2 5 4zM922 303l5 1 4 0 7-1 5-2-1-2-6-4-13-5-18-3-18-4-22-2-16-6-14-4-28-6-24-3-46-13-10-2-24-3-8-2-47-13-11-2-16-1-10-2-52-15-10-1-16 0-6-1-35-12-17-5-12-2-20 0-8-2-37-13-13-4-12 0-10 2-2 1-4 1-31-14-13-5-13-3-49-6-12 0-1 2 8 4 41 11 32 11 12 4 8 1 6 0 14-5 32 14 20 6 12 2 16 0 8 1 56 17 10 1 16 0 6 1 32 10 16 4 14 3 26 2 44 13 16 3 24 3 54 14 28 3 36 10 18 5 8 1 14 0 21 7 17 2 4 1zM1124 303l9 0 6-2 0-2-5-4-11-4-18-3-20-5-20-1-19-7-39-10-26-3-57-15-35-5-46-13-42-7-31-9-17-4-38-5-42-13-46-7-44-13-10-2-18-1-6 0-56-17-12-2-18 0-6-1-35-13-15-5-8-1-6 0-7 2-5 2 1 2 23 10 15 6 13 4 10 1 16-1 8 1 33 11 23 6 12 2 22 1 34 11 10 3 44 6 46 13 36 5 50 13 36 5 49 13 37 6 30 8 27 6 27 3 22 7 22 5 16 4 6 1 18 0 13 6 7 2 14 1 6 2zM1321 301l6 1 4 0 4-1 2-2-2-2-8-4-20-3-22-7-8-1-14 1-2-2-11-4-21-5-20-6-30-4-26-6-32-9-30-5-18-4-33-9-49-9-41-11-41-7-49-13-35-5-55-15-29-3-52-15-14-3-26-2-40-13-12-3-30-3-55-16-13-2-14 1-6 0-39-15-14-4-7-1-8 0-8 3-2 2 13 6 19 8 20 7 12 1 14-1 6 0 46 15 20 4 20 1 10 2 42 13 12 2 22 2 52 14 12 2 26 3 47 13 43 7 41 11 43 7 41 11 43 7 41 11 53 9 32 9 52 9 23 7 19 3 19 5 21 0 16 8 8 2 16 1zM275 295l6 2 6 0 5-2 7-4-1-2-9-4-36-13-10-3-8-1-10 0-12 1-5 2 3 2 12 3 24 11zM1400 273l7 1 0-8-42-6-16-4-32-9-42-7-40-11-18-4-30-5-26-7-24-6-34-5-47-13-43-7-38-11-50-9-40-11-44-7-45-13-37-5-53-15-11-2-22-1-33-11-15-4-12-2-24-3-10-2-35-11-15-4-10-1-14 1-6 0-36-14-18-6-8 0-6 0-7 2-3 2 2 2 4 2 19 8 16 6 11 3 12 2 16-2 4 0 36 13 15 4 12 2 19 1 10 2 52 15 10 1 14 0 8 2 30 9 15 4 15 3 30 4 39 11 45 7 42 12 40 6 51 13 35 5 49 13 35 5 50 13 34 5 50 13 42 7 42 11 52 9zM1404 229l3 0 0-5-26-4-47-13-41-7-40-11-42-7-48-13-40-7-50-13-34-5-57-15-33-5-48-13-42-7-38-11-52-9-42-12-10-2-16 0-8-2-36-11-16-4-12-2-28-3-48-16-12-1-16 2-6-1-38-15-14-4-8-2-6 0-7 2-4 2 0 2 13 6 24 10 14 4 12 2 16-2 4 0 33 12 17 5 10 1 28 3 45 13 13 3 8 1 22 1 42 13 46 7 46 13 36 5 50 13 10 2 26 3 48 13 42 7 43 11 43 7 41 11 43 7 41 11 43 7 41 11 22 4 23 3zM1395 183l12 1 0-2-10-2-23-7-16-4-20-4-23-3-38-11-18-4-32-5-39-11-51-9-39-11-49-9-40-11-34-5-57-15-35-5-30-9-16-4-16-3-28-4-44-13-12-2-20-1-43-13-19-5-10-1-22-2-12-3-14-5 0-2-41 0 0 2 10 4 16 6 15 4 10 1 24 2 53 15 13 2 28 3 42 13 38 5 52 14 10 2 24 2 47 13 43 7 40 11 44 7 41 11 41 7 52 13 34 5 50 13 34 5 51 13zM1395 141l12 1 0-5-41-10-25-3-56-15-34-5-56-15-34-5-30-9-17-4-41-7-40-11-50-9-40-11-36-5-54-15-12-2-26-3-21-7 0-2-42 0 0 2 37 11 10 2 24 2 47 13 21 4 24 3 39 11 51 9 42 11 34 5 51 13 10 2 25 3 49 13 43 7 25 7 27 6 32 5 33 9zM348 137l9 2 8-1 11-3 0-2-32-14-23-7-60-9-9 0-4 2 2 2 11 4 44 11zM375 99l10 0 7-2 4-2-2-2-23-10-16-6-14-4-60-10-14-1-8 1 2 2 4 2 11 4 51 13 32 11zM1401 99l6 1 0-8-56-10-40-11-42-7-48-13-34-5-56-15-34-5-48-13-21-4-23-3-16-5 0-2-38 0 0 2 28 8 36 5 59 15 27 3 48 13 44 7 40 11 44 7 32 9 17 4 33 5zM391 59l8 1 6 0 8-3 2-2-7-4-19-8-17-6-11-3-72-13-16 0-1 0-1 2 9 4 18 6 47 11zM1403 55l4 0 0-6-34-5-38-11-19-4-31-5-39-11-51-9-10-3 0-2-35 0 0 2 15 4 50 9 43 11 33 5 52 13 10 2 26 3zM408 19l9 2 6-1 6-1 5-2 0-2-13-6-19-8 0-2-57 0 0 2 22 5zM1399 9l8 1 0-3-8-1-14-4-3-1 0-2-31 0 0 2 9 2 22 4z"/>
<path fill="#6abb80" d="M-1 351l10 0-2-22-2-6-2-3-2-2-2 0zM32 351l18 0-1-14-2-11-2-5-2-2-2-1-2 0-2 3-2 5-2 11zM73 351l18 0-2-21-2-7-2-3-2-2-2 0-2 1-3 6-2 12zM114 351l18 0-1-14-2-11-2-5-2-2-2-2-2 1-2 3-2 5-2 10zM155 351l18 0-3-32-1-3-2-2-2-1-2 1-2 2-2 5-3 14zM195 351l19 0-1-4-2-5-6-10-2 0-5 7-3 6zM236 351l16 0-1-8 0-4 6-12-1-4-3-5-6-4-6-2-9 1-4 2-1 2 8 11 3 7 1 6zM277 351l15 0 1-8 2-10 0-4-4-6-4-3-4 0-4 2-2 1-3 4 0 4 3 12zM316 351l18 0 1-8 0-6-4-6-4-4-4-1-4 1-4 2-1 2-1 6zM354 351l21 0-1-6-1-4-2-4-4-5-4 0-4 3-2 2-3 6zM395 351l18 0 0-2-4-10-4-3-2 0-4 3-2 3-2 5zM437 351l15 0-1-10 0-4 5-10-1-4-2-4-2-2-8-3-8 0-3 1-3 2 0 2 8 12 2 6 0 4zM477 351l15 0 0-6 3-10 1-4-3-6-6-4-4-1-4 1-2 2-3 4 0 4 3 12zM516 351l18 0 1-8-1-6-3-5-4-4-4-1-4 1-4 3-1 2-1 4zM554 351l21 0-1-6-1-4-2-4-4-4-4-1-4 3-2 2-2 6zM595 351l18 0 0-2-4-8-2-3-2-1-2 0-4 3-2 3-2 4zM637 351l14 0-1-12 5-12 0-4-4-5-6-3-8 0-4 2-1 2 1 4 4 8 3 6 0 4-3 8zM678 351l14 0 0-6 3-10 0-4-3-6-3-3-4-1-6 0-3 2-2 4 0 4 4 12zM716 351l18 0 1-8-1-6-3-5-4-3-6-1-4 2-2 3-1 6zM754 351l21 0-1-8-5-7-4-3-4 1-2 1-4 6zM795 351l18 0 0-2-4-8-4-3-2 1-4 2-2 3-2 5zM837 351l14 0-2-12 5-12 0-4-3-5-6-3-6 0-4 2-2 2 1 4 5 10 2 4 0 4-4 8zM878 351l13 0 1-6 3-10 0-4-2-4-4-4-4-1-4-1-4 2-2 2-1 2 0 4 4 12zM916 351l18 0 1-8-1-4-3-6-4-3-6-1-4 2-2 3-1 5zM954 351l21 0-1-6-3-6-2-2-4-3-2 0-4 2-3 3-1 3zM995 351l18 0 0-2-4-7-2-2-4 0-4 2-2 3-2 4zM1038 351l12 0 0-2-2-6-1-4 0-2 7-10 0-4-3-4-6-3-6 0-2 1-2 2 0 4 7 12 1 4-5 10zM1079 351l12 0 0-6 4-10 0-4-3-4-3-3-4-2-4 0-3 1-3 2-1 2 0 4 5 12zM1117 351l17 0 0-8 0-4-3-6-4-3-6 0-4 2-2 3-1 4zM1155 351l19 0 0-6-2-4-3-4-4-2-4 1-4 3-1 2-1 4zM1195 351l17 0 0-2-2-4-3-3-4-1-2 0-4 4-2 4zM1238 351l12 0 0-2-3-5-2-1-2 0-2 2-3 4zM1279 351l11 0 1-6 3-10 0-4-1-2-4-4-4-2-6 0-3 2-1 2 0 4 5 14zM1317 351l16 0 1-8 0-4-3-5-4-3-6-1-4 3-2 2 0 4zM1355 351l19 0 0-4-1-4-4-5-4-2-4 0-4 3-1 2-1 4zM1396 351l11 0 0-9-4 0-4 2-3 5zM1242 333l3 2 2-1 5-5 2-4-1-4-2-2-4-2-4-1-5 1-2 2-1 2 2 4zM202 325l3 2 2-1 11-9 2-2-1-2-4-4-6-3-6-1-4 2-2 4 0 4 2 5zM402 323l3 2 4-1 9-5 3-2 0-2-3-4-7-5-6-1-6 0-4 2-1 2 0 2 3 6zM602 323l3 2 2 0 6-3 4-3 2-2 0-2-1-2-5-4-8-3-6-1-5 2-2 2 1 4zM803 323l4 1 4-1 5-4 1-2 0-2-3-4-7-4-6-1-6 1-3 2 0 2 4 6zM1004 323l3 1 2-1 4-2 3-4-1-4-6-4-6-2-6 0-4 2-1 2 3 4 6 6zM1202 321l5 2 4-2 2-2 1-2 0-2-3-4-5-2-5-1-6 1-2 2 1 2 3 4zM1405 321l2 0 0-11-8-1-4 2 0 2 3 4zM364 317l3 0 4-2 3-2 2-4-2-4-5-4-6-2-16-4-16-6-8-2-8 0-5 2-2 2 3 4 12 8 6 1 16 2 6 3zM561 313l4 1 4 0 4-3 2-2 0-2-1-2-2-2-4-2-7-2-14-1-15-7-7-2-6-1-6 0-5 1-3 2 8 6 10 6 8 2 12-1 4 1 4 1zM761 311l4 1 4 0 5-3 1-2-1-2-2-2-5-2-8-1-7 1-1 2 4 4zM964 311l5 0 5-2 1-2-1-2-3-2-6-2-6 0-4 1-1 1 1 2 2 2zM1162 309l3 1 4 0 4-1 2-2-1-2-5-3-5-1-5 0-3 2 1 2zM1364 309l7 0 2-2-1-2-5-3-6 0-3 1 0 2 2 2zM723 303l6 1 4 0 5-1 5-2-1-2-6-4-11-5-8-1-16-1-12-3-20-2-25-10-19-4-14-2-20-1-30-11-24-6-12-1-18 1-23-10-17-6-20-4-20 1-6-1-43-16-11-3-8-1-6 0-6 2-1 2 5 4 14 6 24 8 14 2 20 0 6 1 38 13 16 4 12 1 14-2 2 1 17 6 37 11 10 2 20 0 10 3 18 5 24 8 8 1 12 0 6 1 12 4 16 0 6 2zM926 303l7 0 4-2 1-2-5-4-10-4-18-1-20-6-6 0-5 1 1 2 9 4 19 1 4 2 13 7zM1122 301l5 1 4 0 2-1 2-2-1-2-3-2-6-2-10-1-4 0-3 1 10 6zM1322 299l3 1 4-1 1 0 0-2-4-2-5-1-4 0-2 1zM278 295l5 1 4 0 6-3 1-2-1-2-7-4-38-14-7-2-8 0-12 2 0 2 3 2 19 10zM482 293l9 0 5-2 1-2-9-4-21-5-17-7-11-3-10-1-18 0-8-1-12-4-31-11-14-4-7-1-6 0-5 1-4 2 1 2 7 4 20 8 15 5 18 3 24 0 6 1 32 13 22 3zM1086 291l7 1 9-1-7-4-7-2-7-1-4 1 0 2zM1289 291l6 0 0-2-3-2-7-2-5 0-1 1 0 1 3 2zM851 285l6-1 4-1-2-2-8-4-22-6-24-5-10 0-8 1 4 1 13 5 21 5 14 5zM1046 283l5 0 3-2-2-2-5-2-40-10-10-1-5 1 2 2 10 4 23 5zM1216 275l10 0-15-6-10-2-6 0 1 2 4 2 6 2zM1404 271l3 0zM769 267l11 0 3-1 1-1-22-8-21-6-14-3-26-2-50-15-12-2-22-1-54-17-10-2-6 0-5 0-8 2 18 8 26 8 21 4 24 1 25 9 15 4 22 4 22 1 34 11 15 4zM954 263l13 2 4-1 2-1-10-4-36-10-13-2-14 0 3 1 1 1 16 6zM1142 259l10 0-15-6-15-4-13-1-2 0-1 1 16 6zM293 255l10 0 6-2 2-2-5-4-13-6-24-9-10-2-12-1-10 0-5 2 1 2 9 4 37 14zM1329 255l3 0-3-2-6-2-8-1-2 1 6 2zM869 245l16 1 6-1-23-8-22-6-17-3-24-2-26-9-22-6-12-2-28-3-40-13-14-3-26-2-8-2-33-11-15-4-10-1-20 1-32-12-28-8-8-1-8 0-7 1-2 2 25 10 26 8 11 2 9 1 9-1 9-2 0 2 21 8 11 4 14 4 14 2 24 1 48 15 13 2 23 1 35 11 17 4 12 2 22 1 34 11zM1055 241l12 1 5-1-16-6-14-4-19-3-8 0-2 1 5 2 19 6zM1242 237l9 1 2-1-10-4-18-4-8-1-3 1 12 4zM970 223l19 2 2-1 0-1-38-12-10-2-10-1-8 0-4 1 31 10zM1170 221l2 0 0-2-18-6-21-5-8 0-2 0-1 1 26 8zM309 215l8 1 8 0 6-3 0-2-6-4-14-6-15-6-11-3-12-2-16-1-13 0-2 2 54 20zM1346 215l4 0-3-1-1-1-6-2-7-1-2 1zM499 211l16 2 13-2-1-2-5-2-32-12-16-4-9-1-8-1-16 1-39-15-13-4-8-2-6 0-6 2-2 2 1 2 3 2 8 4 14 6 12 4 16 3 20-1 6 1 32 11zM902 207l15 0-4 0-3-2-13-4-33-10-15-2-20 0-2-2-18-6-35-10-11-2-8 0-6 0-2 1-1 1 22 8 22 6 21 3 22 1 20 8 14 4 18 4zM1083 203l8 0-1-2-4-2-13-4-16-4-20-3-4 0-3 1 11 4 21 6zM1258 197l9 1 3-1-18-6-11-2-5 0 2 2 5 2zM999 185l9 0-1-2-4-2-26-8-22-4-14-1-4 1 40 12zM1187 181l4 0-2-2-5-2-20-6-12-2-8 0 2 2 11 4 16 4zM337 177l8-1 4-1 2-2-1-2-3-2-13-6-15-6-14-4-14-3-32-2-6 0-3 1 10 4 25 7 35 13zM1356 173l5 1 2-1zM714 169l15 1 13-1-3-1-25-9-21-6-18-3-20 0-6-2-29-11-14-4-13-2-18 0-6-1-45-15-11-3-14-2-6 1-5 2 2 2 13 6 17 6 14 4 17 3 24 0 44 15 14 3 18-1 6 1 34 11zM918 167l13 0-4 0-2-2-11-4-25-8-12-2-28-3-14-4-28-9-16-4-26-1-56-17-16-3-12 1 0 1 0 1 15 6 26 8 23 4 22 1 26 9 13 4 13 2 30 3 14 4 28 9 12 2zM1099 163l10 1 4-1-17-6-21-6-13-2-8 0 1 2 16 6zM1285 159l8 0-3-2-14-4-11-2-8 0 11 4zM441 155l6 0 10-2 1-2-27-12-22-7-12-2-6 1-3 2 0 2 2 2 16 8 21 8zM1013 145l12 1 6-1-16-6-30-8-18-2-3 0-1 2 24 8zM1199 141l8 1 4-1-8-4-14-4-16-3-6 0-2 1 17 6zM351 137l8 1 6-1 5-2 0-2-5-4-13-6-16-6-13-4-52-7-8 0-4 1 3 2 5 2 38 11 32 11zM1380 135l5 0-4-1zM1372 133l7 1 1-1-7-1zM927 127l12 1 8-1-9-4-11-4-23-6-11-2-14-2-6 0-2 1 0 1 31 10zM1114 123l9 1 6-1-9-4-20-6-15-2-8-1-3 1 22 8zM1304 119l6 0-10-4-16-4-7-1-2 1 10 4zM454 115l13 1 5-1 4-2-1-2-12-6-19-8-13-4-9-2-7 0-6 2-2 2 2 2 3 2 13 6 15 6zM644 111l15 2 13-2-12-6-23-8-20-5-30-2-54-17-14-2-8 2-1 2 7 4 9 4 24 8 15 3 22 0 8 2zM843 109l21 0-3-1-1-1-16-6-19-6-14-3-24-2-10-2-49-15-15-2-11 2 3 2 9 4 24 8 15 3 26 2 8 2 37 11zM1030 105l15 1 4-1-38-12-14-2-13 0 4 2 16 6 15 4zM1217 101l12 2 2-2-12-4-24-6-8-1-5 1 10 4zM368 97l7 1 6 0 6-1 3-2-1-2-2-2-8-4-20-8-12-4-60-10-10-1-7 1 2 2 9 4 42 11zM1397 95l6 1 2-1-6-1zM960 89l10 0-2-2-5-2-41-12-13-2-14 0 2 2 4 2 18 6 26 6zM1142 85l7 0 0-2-5-2-20-6-21-4-8-1-5 1 11 4 21 6zM1317 79l8 1 3-1-10-4-8-2-7-1-4 1 10 4zM470 75l9 2 6 0 9-2 2-2-6-4-13-6-15-6-13-4-8-1-6 0-5 1-3 2 1 2 3 2 7 4 20 8zM672 73l15 1 5-1 1-2-26-10-21-6-15-3-22 0-6-2-37-13-14-4-13-1-5 1-3 2 1 2 8 4 27 10 16 3 22 0 8 2 41 13zM858 69l15 2 6-1 3-1-20-8-22-6-23-4-20-1-30-11-14-4-14-2-22 0-27-10-27-8-16-3-20 1-4-1-28-11 0-2-36 0 0 2 4 2 15 6 13 4 10 2 8 0 9 0 9-1 2 1 23 8 27 8 10 2 12 1 20-1 1 2 27 10 14 4 14 2 22 1 36 11zM1044 65l17 2 2 0 2-2-15-6-15-4-25-4-13 0 4 1 28 9zM1232 61l11 1 4-1-11-4-14-4-13-2-3 2 10 4zM397 59l8-1 3-1 1-2-1-2-3-2-8-4-26-10-14-3-60-11-13 0-2 2 8 4 12 4 45 11 38 13zM979 49l13 0-5-1-2-1-31-10-15-4-14-1-8 1 14 6 19 6 11 2zM1159 45l8 1 4-1-10-4-29-8-15-2-2 0-1 2 17 6zM1345 41l6 0-3-2-14-4-9-1-2 1zM496 37l7 1 7-1 5-2 0-2-7-4-13-6-24-9-8-1-6-1-5 1-4 2-1 2 2 2 12 6 20 8zM888 31l11 1 8-1-15-6-35-10-10-2-10-1-6 0-6 1 9 4 18 6 15 4zM1072 27l11 1 5-1-8-4-20-6-19-4-14-2-7 0 1 2 12 4zM1258 23l10 0-2-2-5-2-14-4-12-2-7 0 2 2 12 4zM411 19l6 1 6-1 5-2 1-2-2-2-8-4-19-8 0-2-50 0 0 2 19 5 28 9zM788 11l15 2 6-1 6-1-9-4-15-6 0-2-34 0 0 2 17 6zM987 9l14 0-1-2-15-6 0-2-29 0 0 2 6 2 14 4zM1174 5l12 0-8-4 0-2-23 0 0 2z"/>
<path fill="#69bd93" d="M-1 351l10 0-3-20-1-6-2-3-2-2-2 0zM32 351l18 0-1-12-2-10-2-6-2-2-2-1-2 1-2 2-2 5-2 9zM73 351l18 0-2-20-2-6-2-3-2-2-2 0-2 2-3 5-2 10zM114 351l18 0-1-13-2-10-2-4-2-3-2-1-2 1-2 2-2 5-2 11zM155 351l18 0-4-29-2-5-2-1-2 1-2 2-2 5-3 13zM195 351l18 0 0-4-2-5-4-7-2-1-2 0-4 4-3 7zM237 351l15 0-1-10 1-4 4-10 0-4-3-4-6-4-6-2-8 1-3 1-1 2 1 4 8 12 1 4 0 4-2 8zM277 351l15 0 0-6 3-14-3-6-5-4-6 0-4 3-2 3 0 4 2 12zM316 351l18 0 1-8-1-6-3-6-4-3-6-1-4 1-3 3-1 6zM354 351l21 0-1-6-1-4-2-4-4-4-4 0-4 2-2 3-2 5zM395 351l18 0 0-2-4-9-4-3-2 0-4 3-2 3-2 4zM437 351l15 0-2-10 5-14 0-4-2-3-3-3-7-3-8 1-4 2 0 2 7 14 2 4 0 4-3 8zM478 351l14 0 0-6 3-10 0-4-3-6-5-4-4 0-4 1-2 2-2 3 0 4 3 12zM516 351l18 0 1-8-1-6-3-5-4-3-4-1-4 1-3 2-2 2 0 4zM555 351l20 0-2-8-4-8-4-2-4 1-2 1-3 4-1 3zM595 351l18 0 0-2-4-8-4-3-2 0-4 3-2 3-2 5zM637 351l14 0-2-12 4-10 1-4-1-4-2-2-6-3-4-1-4 1-2 1-2 2 1 4 6 14 0 4-3 8zM678 351l13 0 1-6 3-10 0-4-4-6-2-2-4-2-6 1-3 3-1 2 0 4 3 12zM716 351l18 0 0-8 0-4-3-6-4-3-6-1-4 2-2 2-1 6zM755 351l19 0-1-8-4-7-4-2-2 0-4 2-3 3-1 4zM795 351l18 0 0-2-4-7-2-2-4-1-4 3-2 3-2 4zM838 351l13 0-3-12 5-12 0-4-3-4-5-3-4 0-3 1-3 2 0 2 1 4 6 12 0 4-4 8zM878 351l13 0 0-6 3-10 0-4-3-5-6-4-6 1-3 2-1 2 0 4 3 12zM917 351l16 0 1-8 0-4-3-5-4-4-6 0-4 2-2 3 0 4zM955 351l19 0 0-6-3-5-2-3-4-2-4 0-2 2-2 2-2 4zM995 351l17 0 0-2-2-4-3-4-4-1-2 1-4 4-2 4zM1038 351l12 0-1-4-4-6-2 1-2 2-3 5zM1079 351l11 0 1-6 3-10 0-4-3-4-2-2-4-2-6 1-2 1-2 2 0 4 4 12zM1117 351l16 0 1-8 0-4-3-5-4-3-6-1-4 3-1 2-1 4zM1155 351l19 0-1-6-2-5-4-3-2-1-4 0-2 1-3 4-1 4zM1196 351l16 0 0-2-3-5-2-2-4-1-2 1-3 3-2 4zM1239 351l10 0 0-2-2-4-2-1-2 0-4 5zM1280 351l10 0 0-6 4-10-1-4-1-2-3-3-4-2-4 0-3 1-2 2-1 2 1 4 4 10zM1317 351l16 0 1-8-1-4-2-4-4-3-2-1-4 0-3 2-2 2-1 4zM1355 351l19 0 0-2-1-4-2-4-4-3-4-1-4 1-2 3-2 4zM1396 351l11 0 0-9-4 0-4 3-3 4zM1043 335l2 2 4-4 4-6 0-3-1-3-3-2-4-2-4 0-4 2-1 4 3 6zM1242 331l3 2 2-1 4-3 2-4-2-4-2-2-4-1-4 0-2 1-2 2 1 4zM202 323l3 2 4-2 8-6 1-2-1-2-4-4-4-2-4-1-4 1-2 2-1 4 1 5zM404 323l3 1 4-2 5-3 3-2 0-2-3-4-3-3-6-2-4-1-6 2-2 2 0 2 3 6zM604 323l3 1 4-2 5-3 1-2 0-2-3-4-7-4-6-1-4 1-3 2 0 2 1 2 4 6zM805 323l4 0 5-4 2-2 0-2-2-2-5-4-4-2-6 0-4 2-1 2 2 4 5 6zM1002 321l5 1 4-1 2-2 1-2 0-2-3-4-5-2-5-1-5 1-1 2 0 2 3 4zM1207 321l4-2 1-2 0-2-1-2-4-2-4-1-4 0-2 1-1 2 3 4 4 3zM1405 319l2 0 0-7-6-1-2 1 0 3 2 2zM361 315l4 1 2 0 4-2 3-3 1-2-2-4-2-2-6-3-18-4-20-7-10-1-4 1-2 2 1 2 1 2 8 6 8 3 12 0 6 2zM564 313l5-1 4-3 0-2-1-2-5-3-8-2-12 1-13-8-11-4-8 0-5 2 0 2 5 4 10 6 8 1 14-2 13 9zM760 309l3 1 4 1 4-2 1-2-1-2-6-3-6 0-3 1 0 2zM964 309l5 0 2-2 0-2-6-3-6 1 0 2 1 2zM1163 307l4 1 3-1-1-2-4-2-2 1-2 1zM728 303l7-1 3-1 0-2-4-4-9-4-8-1-7 1-1 2 5 4 7 4zM923 301l4 1 4-1 3-2-1-2-3-2-5-2-8-1-5 1 1 2 2 2zM1123 299l6 0 0-2-6-3-6 1 2 2zM274 293l7 2 4 0 4-2 2-2-1-2-6-4-35-13-8-2-6 0-7 1-2 2 4 4 15 8zM480 291l8 0 2-2-2-2-19-5-16-7-12-4-12-1-9 1 0 2 3 2 20 10 10 2 16 1zM647 285l12 0 3-2-2-2-8-4-12-4-27-4-4 1-1 1 32 12zM846 283l5 0 2-2-2-2-4-2-7-2-27-5-4 0-2 1 18 5 13 5zM376 271l17 0 3 0 1-2-22-10-24-8-14-2-4 0-4 2 0 2 2 2 8 4 20 8zM563 267l10 1 9-1-1-2-6-4-17-6-17-4-8-1-8 0-4 1 2 2 4 2zM754 263l13 2 2-1 2-1-8-4-19-6-15-3-6 0-3 1 2 2 10 4zM935 257l12 2 0-2-21-6-7 0 3 2zM287 253l12 1 6-1 2-2-1-2-3-2-7-4-14-6-12-4-11-2-10-1-8 1-2 2 3 2 8 4 25 10zM477 249l8 1 6 0 6-1 0-2-6-4-9-4-19-6-9-2-9-1-7 1-2 2 3 2 14 6zM668 245l15 2 4-1 1-1-8-4-24-8-13-3-10 1 0 2 8 4 11 4zM857 241l12 1 2-1-9-4-14-4-11-2-8 0 2 2 5 2zM1040 235l5 1 1-1-5-1zM391 231l16 1 7-1 1-2-8-4-15-6-23-8-12-1-5 1-2 2 1 2 3 2 12 6 11 4zM596 229l6 0 3-2-8-4-10-4-26-8-12-1-4 1-1 2 6 4 16 6 16 4zM781 225l7 0 1-2-8-4-13-4-20-4-8 0 0 2 16 6 14 4zM960 219l7 1 3-1-4-2-13-4-8-1-3 1 10 4zM313 215l10 0 4-2 0-2-5-4-8-4-14-6-13-4-12-2-10-1-9 1-2 2 8 4 31 12 11 4zM504 211l11 0 2 0 2-2-1-2-4-2-9-4-26-8-16-2-5 0-4 2 6 4 16 6 19 6zM694 207l10 0 1-2-12-6-21-6-15-2-5 2 8 4 16 6zM873 201l14 2 2-2-10-4-14-4-10-1-2 0-3 1 9 4zM419 193l8 0 5-2-1-2-7-4-30-12-8-2-7-1-5 1-3 2 0 2 2 2 16 8 18 6zM609 189l11 0 2-2-18-8-18-6-13-2-8 2 2 2 3 2 14 6 13 4zM798 185l7 1 5-1-2-2-5-2-26-8-12-2-4 1-1 1 3 2 10 4zM987 181l4 0-1-2-13-4-8-1-2 0-1 1 11 4zM329 175l6 1 6 0 4-1 2-2-1-2-2-2-7-4-14-6-12-4-10-2-12-2-14-1-9 1 2 2 5 2 43 16zM522 171l13 1 5-1 0-2-7-4-11-4-26-8-13-2-4 0-5 2 1 2 3 2 10 4 18 6zM710 167l11 1 6-1-2-2-9-4-19-6-20-3-4 0-4 1 3 2 10 4zM898 163l7 1 5-1-2-2-5-2-13-4-11-2-6 0 1 2 4 2 12 4zM432 153l13 1 4-1 2-2-1-2-4-2-8-4-25-10-12-2-4 0-5 2-1 2 2 2 6 4 19 8zM622 149l11 1 8-1-1-2-7-4-23-8-10-2-7 0-6 0-1 2 7 4 10 4zM813 145l8 1 6-1-2-2-5-2-17-6-12-2-9 0 1 2 8 4 12 4zM995 139l8 1 2 0 1-1-13-4-8-1-2 0-1 1zM346 135l13 2 7-2 1-2-2-2-2-2-8-4-15-6-13-4-14-3-34-3-3 0-1 2 28 9zM539 131l14 1 8-1-2-2-9-4-29-10-16-3-9 1-1 2 2 2 9 4 16 6zM728 127l15 2 2-1 2-1-8-4-25-8-13-3-6 0-4 1 0 2 9 4 11 4zM916 123l11 2 2 0 2-2-10-4-16-4-12-2-2 2 11 4zM448 113l9 2 6 0 7-2 0-2-5-4-8-4-15-6-11-3-12-2-6 1-2 2 1 2 3 2 7 4 14 6zM650 111l9 0 3-2-2-2-8-4-19-6-8-2-12-2-6 1-4 1 8 4 16 6 13 4zM840 107l5 0 2-2-13-6-15-4-12-1-4 1 7 4 12 4zM1019 101l8 0-3-2-13-4-6-1-3 1 3 2 6 2zM372 97l10 0 4-2 0-2-5-4-13-6-11-4-13-4-55-8-4 0-2 2 10 4 28 7 36 13zM554 91l15 2 6-1 3-1-2-2-9-4-28-10-9-2-7-1-5 1-2 2 1 2 3 2 9 4 10 4zM743 87l16 2 2 0 3-2-14-6-18-6-13-2-4 1-2 1 2 2 8 4zM934 83l11 1 2-1-10-4-14-4-10-1-4 1 9 4zM474 75l11 0 3 0 3-2-1-2-3-2-8-4-25-10-9-2-6 0-4 0-4 2 0 2 2 2 12 6 15 6zM667 71l10 1 6-1 0-2-8-4-25-8-19-3-6 0-4 1 2 2 16 6zM856 67l9 1 4-1-2-2-4-2-20-6-16-3-8 1 4 2 11 4zM1047 63l1 0 0-2-5-2-10-2-7 0 10 4zM388 57l11 1 4-1 2-2 0-2-3-2-7-4-14-6-14-4-60-11-10 0-4 1 3 2 11 4 36 9 31 11zM581 53l11 0 4-2-3-2-13-6-23-8-12-2-4 0-4 2 0 2 2 2 13 6 18 6zM768 49l9 1 5-1 0-2-4-2-21-8-12-2-10 0 0 2 7 4 11 4zM960 45l5 0 0-2-16-6-10-2-7 0 1 2 9 4zM490 35l13 1 6-1 1-2-4-4-8-4-15-6-12-4-8-1-6 0-5 1-1 2 4 4 8 4 14 6zM684 31l13 1 4 0 3-1-2-2-10-4-25-8-16-3-10 1 1 2 8 4 18 6zM874 27l11 1 3-1-9-4-20-6-12-2-9 0 2 2 10 4zM1057 21l6 1 2-1-8-2-6 0 4 1zM405 17l8 1 6 0 5-1 1-2-1-2-7-4-19-8 0-2-44 0 0 2 13 3zM595 13l14 1 4-1 1-2-7-4-14-6 0-2-31 0 0 2 8 4 11 4zM785 9l12 2 4-1 3-1-7-4-10-4 0-2-26 0 0 2zM974 5l9 1 5-1-8-4 0-2-19 0 0 2z"/>
<path fill="#68bfa8" d="M-1 351l10 0-1-12-2-8-3-7-2-1-2 0zM32 351l18 0-1-10-2-10-2-5-2-3-2-1-2 1-2 2-2 5-2 10zM73 351l18 0-2-18-3-6-1-3-2-1-2 0-2 1-2 4-2 9zM114 351l18 0-1-11-2-9-2-5-2-3-2-1-2 1-2 3-2 5-2 10zM155 351l18 0-1-8-3-16-2-6-2-2-2 1-2 2-2 5-3 12zM195 351l18 0 0-3-2-5-4-7-2-1-2 0-4 3-3 7zM237 351l15 0-2-8 1-4 4-12 0-4-3-4-5-4-6-2-6 1-3 1-1 2 0 4 6 10 3 6 0 4-3 8zM277 351l15 0 0-6 2-14-2-6-5-3-2-1-4 1-4 3-1 2-1 4 2 12zM316 351l18 0 1-8-1-6-3-5-4-4-6-1-4 2-2 2-1 2 0 4zM355 351l19 0 0-6-1-4-3-4-3-3-4-1-4 3-2 2-2 5zM395 351l18 0 0-2-4-8-4-4-2 0-4 3-2 3-1 4zM437 351l14 0-1-8 0-4 4-10 0-4-1-4-2-2-4-3-4-1-4 0-4 1-2 1-1 2 1 4 5 8 2 6 0 4-3 8zM478 351l14 0 0-6 2-10 0-4-3-6-4-3-6 0-4 3-1 2 0 4 2 12zM516 351l18 0 0-8-1-6-2-4-4-3-6-1-4 2-2 2-1 6zM555 351l19 0-1-8-4-7-4-2-2 0-4 2-2 3-2 4zM595 351l18 0 0-2-4-7-2-2-4-1-4 3-2 2-2 5zM638 351l13 0-3-12 5-10 0-4-2-5-6-3-4-1-3 1-3 2 0 2 6 16 0 4-3 8zM678 351l13 0 0-6 3-10 0-4-3-5-6-4-6 1-3 4 0 4 2 12zM716 351l17 0 1-8 0-4-3-5-4-4-2 0-4 0-4 2-2 3 0 4zM755 351l19 0-1-8-4-6-4-2-4 0-2 2-2 2-2 4zM796 351l16 0 0-2-3-6-4-3-2 0-4 3-2 2-1 4zM838 351l12 0 0-2-4-10 5-10 1-4-1-4-2-2-4-1-6 0-2 1-1 2 1 4 5 10 2 4-6 10zM879 351l12 0 0-6 3-10 0-4-3-4-6-4-4 0-2 1-3 3 0 4 3 12zM917 351l16 0 1-8-1-4-2-4-4-4-2-1-4 1-4 2-1 2-1 4zM955 351l19 0-1-6-2-5-2-2-4-2-2 0-3 1-3 3-1 3zM996 351l16 0 0-2-3-5-2-2-4-1-2 1-3 3-2 4zM1039 351l11 0 0-2-3-4-2-2-2 1-2 2-2 3zM1080 351l10 0 0-6 3-10 0-3-1-3-3-3-4-2-6 1-2 2-1 2 1 4 3 10zM1117 351l16 0 0-8 0-4-2-4-4-3-4-1-2 0-3 2-1 2-1 4zM1155 351l19 0-1-4-1-4-3-4-2-1-4-1-4 1-2 3-2 4zM1196 351l16 0 0-2-5-6-4-1-4 3-3 4zM1239 351l10 0 0-2-4-4-2 1-4 3zM1280 351l9 0 0-6 3-10 0-4-1-2-4-3-4-1-4 1-2 3 0 4 4 10zM1318 351l14 0 1-8-1-4-2-4-3-2-4-1-2 0-2 1-2 3-1 5zM1356 351l17 0 0-2-1-4-3-5-2-1-4-1-4 1-2 3-1 3zM1397 351l10 0 0-8-6 1-4 4zM1045 333l2 0 3-4 2-4-1-2-1-2-3-2-6-1-3 3 0 2 3 7zM1243 329l2 1 2 0 3-3 0-4-3-3-4-1-3 2-1 2 1 2zM202 321l3 2 4-1 6-5 1-2-1-2-2-3-4-2-4-1-4 2-2 2 0 4zM403 321l4 2 4-2 6-4 0-2 0-2-5-4-4-2-5-1-4 1-2 2 0 4 2 4zM603 321l4 1 4-1 4-4 0-2-1-2-5-4-4-2-4 0-4 2-1 2 0 2 3 4zM804 321l3 1 3-1 2-2 2-2 0-2-3-3-4-3-4-1-5 1-2 2 0 2 3 4zM1002 319l3 1 4 0 3-3 0-2-2-2-3-2-4-1-4 0-1 3 1 3zM1202 317l3 1 2 0 2-1 0-2-2-2-2-1-4 0-1 1 0 2zM364 315l5-1 3-3 1-2-2-4-4-3-6-2-14-2-15-7-7-2-6 0-4 2-1 2 1 2 9 6 7 2 14 1 4 2 12 8zM563 311l4 0 3-2 0-2-1-2-6-3-4 0-4 1 0 2 2 2zM762 307l3 1 2-1-1-2-3 0-1 0zM523 301l6 2 4 0 6-2 1-2-5-4-8-4-8-1-4 2-1 1 1 2zM726 301l5 0 3-2-1-2-3-2-5-2-6-1-3 1 0 2 2 2zM921 297l4 2 2-1 1-1-5-2-2 0zM279 293l6 0 2-2 0-2-7-4-30-12-11-2-4 1-4 1 0 2 2 2 6 4 8 4zM447 285l10 1 9-1-1-2-6-4-15-6-11-2-4 1-3 1 1 2 6 4zM646 283l7 0 1 0 1-2-7-4-7-2-8-1-5 1 7 4zM370 269l13 1 5-1 0-2-11-6-22-8-14-3-5 1-2 2 1 2 3 2 8 4 16 6zM561 265l8 1 6-1-2-2-3-2-10-4-17-4-8-1-3 1 2 2 4 2zM292 253l7 0 4-2-1-2-2-2-6-4-20-8-15-3-6 0-6 1 0 2 3 2 8 4 19 8zM473 247l12 2 4-1 2-1-1-2-7-4-16-6-12-2-10 0 0 2 7 4zM658 241l11 2 2-1 1-1-9-4-8-2-10-2-2 2 8 4zM387 229l14 2 6-2-1-2-7-4-26-10-12-2-4 0-2 2 0 2 2 2 7 4 10 4zM580 225l9 1 4-1-6-4-17-6-9-2-9 0 0 2 7 4 12 4zM307 213l6 1 6 0 3-1 1-2-1-2-2-2-8-4-21-8-14-3-12 1-1 2 7 4 24 10zM500 209l11 0 1-2-2-2-9-4-18-6-14-2-4 0-2 2 7 4 10 4zM683 203l8 1 3-1-2-2-11-4-9-2-6 0 1 2 4 2zM412 191l11 0 3-2-2-2-7-4-19-8-13-3-6 0-3 1-1 2 2 2 6 4 14 6zM595 185l12 2 2-1 2-1-6-4-17-6-9-1-4 0-2 1 2 2 3 2zM324 173l13 2 6-2 0-2-5-4-8-4-21-8-18-2-9 0-1 1 0 1 3 2 8 4 20 8zM518 169l9 1 5-1-1-2-3-2-21-8-18-4-4 0-4 2 2 2 9 4 11 4zM702 163l9 1 2 0 1-1-10-4-8-2-7-1-3 1 4 2zM427 151l8 1 6 0 4-1 0-2-9-6-21-8-8-2-6 0-3 0-3 2 1 2 2 2 8 4 9 4zM620 147l7 1 5-1-1-2-3-2-15-6-14-2-2 0-2 2 3 2 9 4zM800 139l5 1 1-1-5-1zM350 135l9 0 4-2-1-2-2-2-7-4-22-8-10-3-13-1-9 0-2 2 8 4 25 10zM535 129l10 1 5-1-1-2-4-2-21-8-15-3-4 0-4 1 1 2 7 4 11 4zM719 123l8 1 3-1-4-2-12-4-9-1-2 1 9 4zM453 113l10 0 3-2-2-2-6-4-19-8-14-4-6 1-3 1 0 2 2 2 6 4 14 6zM638 107l11 2 2 0 2-2-6-4-11-4-13-3-8 1 2 2 4 2zM366 95l11 1 4-1 1-2-4-4-7-4-22-8-10-2-14-1-12-1-2 2 42 16zM551 89l12 1 5-1-2-2-3-2-21-8-11-2-9 0 0 2 6 4 9 4zM743 85l6 0-1-2-9-4-10-2-6 0 2 2 4 2zM469 73l12 1 4-1 0-2-1-2-7-4-22-9-8-2-6 0-4 1-2 2 4 4 8 4 9 4zM666 69l7 0 0-2-8-4-13-4-11-2-6 0 0 2 9 4 12 4zM383 55l8 1 6 0 4-1 0-2-5-4-7-4-10-4-14-4-12-2-34-3-2 1 24 7zM577 51l8 0 2-2-3-2-8-4-16-6-13-2-2 0-3 2 1 2 3 2 9 4 12 4zM759 45l8 1 2 0 2-1-7-4-7-2-8-1-2 0-2 1 3 2zM497 35l6 0 3-2-1-2-10-6-20-8-8-2-6 0-4 1-2 1 1 2 2 2 12 6 16 6zM684 29l7 0-1-2-4-2-11-4-18-4-2 0-2 1 0 1 8 4 13 4zM410 17l7 0 2-1 2-1-1-2-9-6-15-6 0-2-36 0 0 2 34 12zM592 11l9 1 6-1-1-2-3-2-13-6 0-2-25 0 0 2 8 4zM785 7l8 0-2-2-10-4 0-2-13 0 0 2 4 2z"/>
<path fill="#64c1bd" d="M-1 351l9 0 0-10-2-8-3-6-2-2-2 0zM32 351l18 0-3-18-2-5-2-3-2-1-2 1-2 3-2 4-2 10zM73 351l18 0-1-10-2-8-3-7-2-1-2 0-2 1-2 4-2 9zM114 351l18 0-1-9-2-9-2-5-2-3-2 0-2 0-2 3-2 5-2 10zM155 351l18 0-1-8-3-12-2-6-2-3-2 1-2 2-2 5-2 9zM195 351l18 0 0-2-2-6-4-6-2-1-2 0-4 3-3 6zM237 351l14 0-1-8 0-4 5-12-1-4-2-4-5-3-6-2-6 1-3 2 0 2 8 18 0 4-3 8zM278 351l14 0 0-6 2-14-3-6-4-2-2-1-4 1-4 4-1 4 2 12zM316 351l18 0 1-8-1-6-3-5-4-3-6-1-4 2-2 2-1 5zM355 351l19 0-1-8-4-7-4-2-2 0-4 2-4 7zM395 351l18 0 0-2-4-8-4-3-2 0-4 3-2 3zM437 351l14 0-2-12 4-10 0-4-1-4-2-2-3-2-4-1-6 0-3 3 0 4 7 14 0 4-4 8zM478 351l13 0 0-6 3-10 0-4-3-5-4-3-4-1-2 1-3 2-1 2-1 4 2 12zM516 351l17 0 1-8 0-4-3-5-4-4-6-1-3 2-2 2-1 6zM555 351l19 0-1-8-4-6-4-3-2 0-4 3-3 6zM596 351l17 0 0-2-4-7-2-2-4 0-4 2-2 3zM638 351l13 0-4-12 5-10 0-4-1-3-2-2-6-3-4 1-2 1-1 2 1 4 5 12 0 4-4 8zM679 351l12 0 0-6 2-10 0-4-2-4-2-2-4-2-4 0-2 1-2 3-1 2 3 14zM717 351l16 0 1-8-1-4-2-4-4-4-2-1-4 0-4 3-1 2-1 4zM755 351l19 0-1-6-4-7-4-3-4 1-2 1-3 6zM796 351l16 0 0-2-3-6-2-1-4-1-2 1-3 3-2 4zM838 351l12 0 0-2-3-6-2-1-2 0-2 3-3 4zM879 351l11 0 0-6 3-8 0-4-1-4-2-2-5-3-4 0-2 1-2 2 0 2 0 4 3 10zM917 351l16 0 0-8 0-4-2-4-4-3-4-1-2 0-3 2-1 2-1 4zM955 351l19 0-1-5-2-5-4-4-4-1-2 1-3 2-2 4zM996 351l16 0 0-2-3-5-2-1-4-1-5 3-2 4zM1039 351l10 0 0-2-2-3-2-1-2 0-4 4zM1080 351l9 0 0-6 3-8 0-4-1-4-2-2-4-2-4 0-3 2-1 2 1 4 2 10zM1118 351l14 0 1-8-1-4-2-4-3-2-4-1-2 0-2 2-2 2-1 5zM1156 351l17 0 0-2-2-6-2-3-2-2-4-1-4 2-2 3-1 3zM1197 351l14 0 0-2-4-5-4-1-4 2-2 4zM1240 351l8 0 0-2-3-3-2 1-3 2zM1281 351l7 0 0-6 3-8 0-4 0-2-2-2-4-2-5 0-2 2 0 2 4 14zM1318 351l14 0 0-10-1-4-4-3-4-1-2 0-2 2-1 2-1 4zM1356 351l17 0 0-2-1-4-3-4-2-2-4-1-4 2-2 3zM1397 351l10 0 0-7-4 0-2 1-4 4zM843 333l2 2 2-1 3-5 1-4-2-4-3-2-3 0-4 1-1 3 1 4zM1043 329l2 2 2-1 2-2 1-3-1-2-2-2-4-1-2 1-1 2 0 2zM1245 327l2-1 0-1 0-2-2-1-2 1 0 2zM205 321l2 0 4-2 3-4-1-2-1-2-5-2-4 1-2 1-1 2 1 4 2 3zM405 321l3 0 3-1 4-3 0-2 0-2-4-4-4-1-4-1-4 2-1 2 0 2 3 5zM607 321l4-2 2-2 1-2-1-2-6-4-4 0-3 0-2 2 1 4 4 5zM803 319l4 1 3-1 1-2 0-2-1-2-5-3-4 0-2 1 0 2 0 2zM1003 317l4 1 1-1 1-2-2-2-4-1-2 1 0 2zM362 313l5 1 3-3 1-2 0-2-1-2-5-3-6-2-12 0-13-7-7-2-4-1-4 1-2 2 2 4 6 3 6 2 14 0 4 2zM561 307l4 1 1-1-3-2-2 0zM527 301l6 0 3-2-1-2-3-2-4-2-5-1-5 1 0 2 2 2 3 2zM723 297l2 1 3-1-3-1-2 0zM276 291l5 0 2-2-6-4-23-10-7-2-6 0-4 0-2 2 3 4 12 6zM444 283l9 2 4 0 3-2-2-2-2-2-9-4-10-2-4 1-1 1 4 4zM366 267l9 1 7-1-1-2-7-4-15-6-12-3-4 0-4 1 0 2 6 4 9 4zM563 263l1 0 0-2-5-2-6-1-2 0-1 1 5 2zM286 251l9 1 3-1 1-2-1-2-6-4-15-6-8-2-8-2-4 0-4 2 1 2 3 2 8 4 14 6zM471 245l10 2 2-1 2-1-6-4-10-4-8-2-8 0 0 2 3 2zM395 229l4 0 2-2-5-4-14-6-11-4-6 0-5 0-1 2 4 4 8 4 12 4zM573 221l5 0-3-2-6-2-6 0 3 2zM303 211l10 2 4-1 2-1 0-2-5-4-8-4-11-4-14-3-6 0-4 1 1 2 6 4 14 6zM499 207l5 0 0-2-7-4-12-4-10-1-3 1 3 2 9 4zM407 189l10 1 3-1 0-2-10-6-15-6-10-2-4 1-2 1 1 2 5 4 9 4zM596 183l4 0-1-2-4-2-7-2-5 0 1 2 4 2zM329 173l8 0 2-2-1-2-6-4-15-6-14-4-8-1-6 1 0 2 11 6 15 6zM519 167l2 0 1-2-8-4-15-4-6-1-3 1 2 2 10 4zM424 149l11 2 4-1 2-1-2-2-6-4-14-6-12-3-7 1 0 2 4 4 8 4zM613 143l6 1 2 0 1-1-10-4-7 0 3 2zM345 133l10 1 3-1 1-2-2-2-7-4-9-4-12-4-16-2-4 0-2 2 6 4 9 4zM535 127l4 0 0-2-8-4-12-4-6-1-5 1 2 2 8 4zM448 111l9 1 3-1 1-2-2-2-7-4-15-6-12-2-3 0-2 2 1 2 2 2 8 4zM633 103l6 1 1-1-6-2-4 0zM362 93l11 2 5-2 0-2-6-4-8-4-11-4-8-2-10-1-6 0-4 1 2 2 8 4zM549 87l6 1 4-1-1-2-4-2-10-4-9-2-6 0 0 2 3 2 9 4zM465 71l10 2 4-1 2-1-1-2-6-4-14-6-13-3-4 0-3 1 0 2 5 4 9 4zM389 55l6 0 2-2-1-2-6-4-9-4-12-4-14-2-11 0 1 2 18 8 17 6zM565 47l10 2 2 0 2-2-6-4-11-4-11-2-3 2 6 4zM491 33l8 0 2-2-2-2-6-4-15-6-11-2-6 0-1 2 1 2 7 4 9 4zM405 15l8 1 2-1 1-2-1-2-7-4-15-6 0-2-27 0 0 2 10 4 15 6zM589 9l6 1 5-1-2-2-3-2-9-4 0-2-16 0 0 2 3 2 9 4z"/>
<path fill="#51bed5" d="M-1 351l9 0-2-16-3-6-2-2-2 0zM32 351l17 0-2-15-2-6-2-2-2-1-2 0-2 3-2 5zM73 351l17 0-2-16-3-6-2-2-2 0-2 2-2 3-2 9zM115 351l17 0-3-16-2-5-2-2-2-1-2 1-2 2-2 5zM156 351l17 0-1-8-3-10-2-5-2-2-2 0-2 2-2 4-2 8zM195 351l18 0 0-2-4-8-2-3-2-1-2 0-2 1-4 5zM237 351l14 0-2-8 0-4 5-12-1-4-2-4-4-2-6-2-6 1-2 3 1 4 5 10 2 4 0 4-4 8zM278 351l13 0 2-20-2-4-4-3-4-1-2 1-2 1-2 4 0 4 1 10zM316 351l17 0 1-12-3-6-4-3-6-2-4 2-2 3 0 4zM355 351l19 0-1-8-4-6-4-2-4 1-2 1-3 6zM396 351l17 0 0-2-4-7-2-2-4-1-2 1-3 3-2 4zM438 351l13 0-3-12 4-10 0-4-1-3-2-3-6-2-4 0-2 1-1 1-1 2 1 4 6 12-1 4-3 8zM478 351l13 0 0-6 2-10 0-4-2-4-4-3-4-1-2 1-2 1-2 4 2 14zM517 351l16 0 1-8-1-4-2-4-4-4-2-1-4 0-4 3-1 2-1 4zM555 351l19 0-2-8-3-5-4-3-4 1-2 2-3 5zM596 351l16 0 0-2-2-4-3-4-4-1-2 1-3 4-2 4zM638 351l12 0-1-5-4-7 0-2 2-2 3-6 1-4-2-4-4-2-4 0-3 2 0 2 1 4 6 10 0 2-6 9zM679 351l11 0 0-6 3-10-1-4-3-5-4-2-5 1-2 2-1 2 0 4 2 10zM717 351l16 0 0-8 0-4-3-4-3-3-4-1-2 0-3 2-1 2-1 4zM756 351l18 0-1-5-2-5-4-4-2-1-4 1-3 2-2 4zM796 351l16 0 0-2-3-5-2-2-4-1-2 1-3 3-2 4zM839 351l10 0 0-2-2-4-2-1-2 0-2 2-2 3zM880 351l10 0 0-6 2-12-1-3-2-3-4-2-4 1-2 1-1 2 0 4 2 10zM918 351l14 0 1-8-1-4-2-4-3-2-4-1-2 0-3 3-2 4zM956 351l17 0 0-2-2-6-2-3-2-2-4-1-4 2-2 3-1 3zM997 351l14 0 0-2-4-5-4-1-4 2-2 4zM1040 351l9 0 0-2-4-3-2 0-3 3zM1081 351l8 0 0-6 2-8 0-4-2-4-4-2-4 0-2 2 0 2 2 12zM1118 351l14 0 0-10-2-4-3-3-4-1-2 1-3 3-1 4zM1156 351l17 0 0-2-1-4-3-4-2-2-4-1-4 2-2 3zM1197 351l14 0 0-2-4-4-4-1-4 2-2 3zM1241 351l6 0 0-2-2-1-2 0-2 1zM1282 351l5 0-1-6 3-6 1-4-1-4-4-3-4 1-1 2 0 4 4 10zM1319 351l12 0 0-10-2-4-2-2-4-1-2 1-2 2-1 4zM1357 351l15 0 0-2-1-4-2-3-2-2-4-1-3 2-2 2-1 4zM1398 351l9 0 0-6-4 0-2 1-3 3zM845 331l2-1 2-3 0-2-2-3-4-1-2 0-1 4 2 4zM405 319l4 0 3-2 1-2 0-2-2-2-6-2-4 1-1 3 2 4zM204 317l1 1 2 0 2 0 2-3-1-2-3-2-2 0-2 2 0 2zM603 317l4 2 3-2 1-2-1-2-3-2-4 0-2 2zM803 315l2 2 2-1 1-1-3-2zM361 311l4 1 2-1 2-2 0-2-2-2-4-2-6-1-4 1 1 2 2 2zM325 299l8 1 5-1-1-2-7-4-5-1-4 1 0 2zM525 297l2 1 2-1-2-1-2 0zM265 287l7 0-1-2-3-2-12-6-9-2-7 0-1 2 2 2 7 4 6 2zM444 281l5 1 4-1-2-2-4-2-6-1-3 1 2 2zM364 265l7 1 3-1-1-2-3-2-10-4-8-2-6 0 0 2 3 2 9 4zM283 249l8 1 3-1 0-2-2-2-7-4-11-4-9-1-4 0-1 1 1 2 7 4zM381 225l8 1 4-1-5-4-10-4-9-2-4 1 0 1 2 2 8 4zM301 209l10 2 2-1 2-1-2-2-2-2-13-6-13-3-4 0-3 1 1 2 6 4zM405 187l8 0 0-2-3-2-13-6-8-1-2 0-2 1 1 2 7 4zM326 171l7 0 1-2-5-4-14-6-10-2-8 0 0 2 6 4 9 4zM422 147l9 2 3-2-4-4-9-4-10-2-6 0 1 2 2 2zM342 131l7 1 5-1-1-2-2-2-14-6-6-2-10-2-4 1-1 1 2 2 8 4zM446 109l7 0 1 0 0-2-6-4-10-4-9-2-2 0-2 2 2 2 7 4zM360 91l9 2 4-2-1-2-3-2-14-6-12-3-6 0-2 1 1 2 8 4zM463 69l8 1 4-1-2-2-2-2-9-4-11-3-4 0-2 1 1 2 3 2zM386 53l4 0 2-2-2-2-7-4-11-4-9-2-7 0-1 1 0 1 3 2 8 4 11 4zM490 31l3 0 2-2-6-4-9-4-8-2-6 0 0 2 5 4 10 4zM403 13l7 0 1-2-3-2-8-4-12-4 0-2-14 0 0 2 6 4 9 4z"/>
<path fill="#2bb0ec" d="M-1 351l9 0-1-9-2-7-2-4-2-2-2 0zM33 351l16 0-1-8-2-8-3-5-2-1-2 1-3 5-2 8zM74 351l16 0-1-9-2-7-2-4-2-2-2 0-2 2-2 3-2 7zM115 351l16 0-2-14-2-5-2-2-2-1-2 1-2 2-3 9zM156 351l16 0-1-8-2-8-2-4-2-2-2 0-2 2-2 4-2 7zM196 351l17 0 0-2-4-8-4-3-2 0-2 1-3 4-2 4zM238 351l13 0-2-12 4-10 0-4-2-4-2-2-6-3-6 1-2 2 0 4 7 14-1 4-3 8zM278 351l13 0 1-20-2-4-3-2-4-1-2 1-3 4-1 4 1 10zM317 351l16 0 1-8-1-4-2-5-4-4-2-1-4 0-3 2-2 2-1 4zM355 351l19 0-2-8-3-5-4-3-4 1-2 2-3 5zM396 351l16 0 0-2-2-4-3-4-4-1-4 3-3 4zM438 351l12 0 0-2-3-10 4-10 0-4-2-4-3-2-3-1-4 1-2 2 0 4 5 10 1 4-5 10zM479 351l12 0-1-6 2-12-1-4-4-4-4 0-2 0-3 4 0 4 1 10zM517 351l16 0 0-8 0-4-2-4-4-3-2-1-4 0-3 2-2 2 0 4zM556 351l17 0 0-6-4-6-4-3-4 1-2 2-3 4zM596 351l16 0 0-2-3-5-2-2-4-1-2 1-3 3-2 4zM639 351l11 0 0-2-3-5-2-1-2 0-2 2-2 4zM680 351l10 0 0-6 2-12-1-3-2-2-4-2-4 0-2 3-1 4 2 10zM717 351l15 0 1-8-1-4-3-4-2-2-4-1-2 0-3 3-1 4zM756 351l17 0 0-4-2-5-4-4-4-1-2 1-2 1-2 4zM797 351l14 0 0-2-4-6-4-1-4 3-2 4zM840 351l9 0 0-2-2-3-2-1-2 0-3 4zM880 351l9 0 0-6 2-12-2-4-4-2-4 1-2 3 2 12zM918 351l14 0 0-10-2-4-3-3-4-1-2 1-3 3-1 4zM956 351l17 0 0-2-1-4-3-4-2-2-4-1-4 2-2 3zM997 351l14 0 0-2-4-5-4 0-4 2-2 3zM1041 351l7 0 0-2-3-2-2 0-2 2zM1082 351l6 0-1-6 2-8 0-4-2-4-2 0-3 0-1 2 0 4 2 8zM1119 351l12 0 0-10-2-4-2-2-4-1-2 1-2 2-1 4zM1157 351l15 0 0-2-1-4-2-3-2-2-4-1-2 1-3 3-1 4zM1198 351l12 0 0-2-3-3-4-1-4 2-1 2zM1243 351l3 0 0-2-3 0zM1319 351l11 0 0-10-3-4-4-1-2 1-1 2-1 4zM1357 351l15 0 0-2-3-6-2-1-4-1-4 2-2 4zM1399 351l8 0 0-5-4 0-2 1-2 2zM1285 339l2-1 1-3-1-2-2-2-2 1-1 1 1 4zM643 331l2 2 2-1 2-5-1-4-3-2-2 0-2 0-1 2 1 4zM404 315l3 2 2-2 0-2-4-1-1 1zM361 307l2 1 1-1-3-1zM254 283l6 0-1-2-4-2-6-2-2 0-1 2 3 2zM284 247l3 0 0-2-7-4-7-2-4 0 0 2 3 2zM301 207l4 1 2-1-1-2-8-4-9-2-2 2 8 4zM318 167l7 1 2-1-6-4-6-2-6-1-3 1 3 2zM336 127l7 2 2-1 0-1-7-4-7-2-5 0 1 2zM360 89l4 0 0-2-9-4-6-1-2 0-1 1 8 4zM378 49l5 0-2-2-4-2-6-2-5 0 2 2zM397 9l4 0-2-2-5-2-5-1-1 1 3 2z"/>
<path fill="#2b91d7" d="M-1 351l9 0-1-6-2-8-2-4-2-1-2 0zM33 351l16 0-2-11-2-5-2-3-2-1-2 1-2 2-2 7zM74 351l16 0-1-7-2-7-2-4-2-1-2-1-2 2-2 4-2 7zM115 351l16 0-2-12-2-4-2-3-2-1-2 1-2 3-2 6zM156 351l16 0-1-7-2-6-2-4-2-2-2 0-2 1-2 4-2 8zM196 351l16 0 0-2-3-6-2-3-4-1-2 1-3 3-1 4zM238 351l13 0 0-2-3-6-1-4 5-10 0-4-3-5-6-3-4 0-2 2-1 2 1 4 6 12-1 4-4 8zM279 351l12 0 0-18-1-4-3-3-4 0-2 1-2 2-1 4 1 10zM317 351l16 0 0-8 0-4-2-4-4-4-4-1-2 0-4 3-1 6zM356 351l17 0-1-6-3-6-4-3-4 1-2 2-3 6zM396 351l16 0 0-2-3-5-2-2-4-1-2 0-3 4-2 4zM439 351l11 0 0-2-3-6-2-2-2 2-2 2-2 4zM479 351l11 0 0-6 1-13-2-4-4-2-4 1-2 4 1 12zM517 351l15 0 1-8-1-4-2-4-3-2-4-1-2 0-3 3-2 4zM556 351l17 0-1-6-3-5-4-3-2 0-3 2-3 4zM597 351l14 0 0-2-4-6-4-1-4 3-2 4zM639 351l10 0 0-2-2-3-2-2-2 1-2 2-2 2zM680 351l9 0 0-6 1-12-2-4-3-2-2 0-2 2-1 2 1 12zM718 351l14 0 0-10-2-4-3-3-4-1-2 1-3 3-1 4zM756 351l17 0 0-2-2-5-2-3-2-2-4-1-4 3-1 2zM797 351l14 0 0-2-4-5-4-1-4 3-2 3zM840 351l8 0 0-2-3-3-2 1-3 2zM881 351l7 0-1-6 2-8 0-4-2-3-2-1-2 0-2 3 0 3 2 8zM919 351l12 0 0-10-2-4-2-2-4 0-2 0-2 2-1 4zM957 351l15 0 0-2-1-4-2-3-2-2-4-1-2 1-3 3-1 4zM998 351l12 0 0-2-3-4-4-1-4 3-1 2zM1042 351l4 0 0-2-1-1-2 0-1 1zM1084 351l2 0-1-3-1 1zM1119 351l11 0 0-8-1-4-2-2-4-1-2 1-1 2-1 4zM1157 351l15 0 0-2-3-6-3-2-3 0-2 0-2 2-1 4zM1199 351l10 0 0-2-2-2-4-1-4 2zM1320 351l9 0 0-9-2-3-2-1-2 0-2 3zM1358 351l13 0 0-2-2-4-2-2-4-1-2 1-2 2zM1400 351l7 0 0-4-4 0-2 1-1 1zM1084 337l1 2 2-3-1-3-1-1-2 1 0 2zM443 333l2 2 2-1 2-4 1-3-1-4-2-2-4-1-4 1 0 2 1 4z"/>
<path fill="#296dbc" d="M-1 351l8 0-2-11-2-4-2-2-2 0zM33 351l15 0-1-9-2-5-2-3-2 0-2 0-2 3-2 6zM74 351l16 0-1-5-2-7-2-4-2-1-2 0-2 1-2 4-2 7zM116 351l15 0-2-9-2-5-2-3-2 0-2 0-2 3-2 5zM157 351l15 0-1-5-2-6-2-4-2-2-2 0-2 2-2 4zM196 351l16 0 0-2-3-6-2-2-2-1-2 0-4 3-2 4zM238 351l12 0-1-5-2-3-2-2-2 1-2 3-3 4zM279 351l11 0 0-18-2-4-3-2-4 2-1 2zM317 351l15 0 1-8-1-4-3-5-4-3-4 0-2 1-2 3-1 4zM356 351l17 0-1-6-3-5-4-3-2 0-3 2-3 5zM397 351l15 0 0-2-3-5-2-2-4-1-4 3-2 4zM439 351l10 0 0-2-2-4-2-1-2 0-2 2-2 3zM480 351l10 0-1-8 1-10-3-4-2-1-2 0-2 3 0 12zM518 351l14 0 0-10-2-4-3-3-4-1-2 0-2 2-2 4zM556 351l17 0 0-2-2-5-2-3-2-2-4-1-2 1-3 4zM597 351l14 0 0-2-4-5-4-1-4 3-2 3zM640 351l8 0 0-2-3-3-2 0-3 3zM681 351l7 0 0-8 1-8-2-4-2-1-2 0-1 3 0 10zM719 351l12 0 0-10-2-4-2-2-4-1-2 1-2 2-1 4zM757 351l15 0 0-2-1-4-2-3-2-2-4-1-2 1-3 3-1 4zM798 351l12 0 0-2-3-4-4-1-4 3-1 2zM841 351l6 0 0-2-2-1-2 0-2 1zM883 351l4 0 0-2-2-2-2 1zM919 351l11 0 0-8-1-4-2-2-4-1-2 1-1 2-1 4zM957 351l15 0 0-2-3-6-3-2-3 0-2 0-2 3-1 3zM999 351l10 0 0-2-2-3-4 0-4 2zM1120 351l9 0 0-8-2-4-2-1-2 0-2 3zM1158 351l13 0 0-2-2-4-2-2-4-1-2 1-2 2zM1200 351l8 0 0-2-3-2-2 0-3 2zM1322 351l6 0-1-8-2-2-2 1 0 1zM1359 351l11 0 0-2-3-4-4-1-2 1-1 2zM1401 351l6 0 0-3-4 0-2 1zM885 337l0 1 1-3-1-1zM245 335l0 1 2-1 2-3 1-3 1-4-2-3-2-2-2-1-4 0-2 1-1 3 3 7zM443 329l2 1 2-1 0-4-2-2-3 0-1 2z"/>
<path fill="#2355aa" d="M-1 351l8 0-2-9-2-4-2-2-2 0zM34 351l14 0-2-8-3-6-2-1-2 0-2 3-2 5zM75 351l14 0-2-10-2-3-2-2-2 0-3 3-2 6zM116 351l14 0-1-7-2-5-2-2-2-1-2 1-2 2-2 5zM157 351l14 0 0-3-2-6-2-4-2-2-2 0-3 3-2 6zM197 351l15 0 0-2-3-5-2-2-4-1-4 3-2 4zM239 351l11 0 0-2-3-4-2-2-2 1-2 2-2 3zM280 351l10 0-1-17-1-3-3-2-2 1-2 3zM318 351l14 0 0-8-1-4-2-4-4-3-4 0-3 3-1 4zM356 351l17 0 0-2-2-5-2-3-2-2-4-1-2 1-3 4-1 4zM397 351l14 0 0-2-4-6-4-1-4 3-2 4zM440 351l9 0 0-2-2-2-2-2-2 1-3 3zM481 351l8 0-1-8 0-8-1-3-2-1-2 2-1 10zM518 351l13 0 0-10-2-4-2-2-4-1-2 1-2 2-1 4zM557 351l15 0 0-2-3-7-2-2-4-1-2 1-2 3-2 4zM598 351l12 0 0-2-3-4-4-1-4 3-1 2zM641 351l7 0 0-2-3-2-2 0-2 2zM682 351l5 0 0-3-2-3-2 2zM719 351l12 0-1-10-3-4-2-1-4 1-1 2-1 4zM757 351l15 0 0-2-3-6-3-2-3 0-2 0-2 3zM799 351l11 0 0-2-3-3-4-1-4 3zM920 351l10 0-1-8-2-4-2-1-2 0-2 3zM958 351l13 0 0-2-2-4-2-2-4-1-2 1-2 2zM1000 351l9 0 0-2-4-2-2 0-3 2zM1122 351l6 0-1-8-2-2-2 1 0 1zM1159 351l11 0 0-2-3-4-4-1-2 1-1 2zM1201 351l6 0 0-2-4-1-2 1zM1360 351l9 0 0-2-2-2-2-1-2 0-2 1zM244 331l1 1 2-1 2-4-1-4-3-2-2 0-2 0-1 4z"/>
<path fill="#204da2" d="M-1 351l7 0-1-7-2-4-2-2-2 0zM34 351l14 0-2-6-3-6-2-1-2 0-2 3-2 5zM75 351l14 0-2-8-2-3-2-2-2 0-2 2-3 5zM116 351l14 0-1-6-2-4-2-3-2 0-2 1-2 2-2 5zM157 351l14 0-2-8-2-3-2-2-2 0-2 2-2 5zM197 351l14 0 0-2-4-6-4-1-4 3-2 4zM239 351l10 0 0-2-2-3-2-1-2 0-4 4zM280 351l9 0-2-16-2-3-2 1-1 2zM318 351l13 0 1-8-1-4-2-3-4-3-4 1-3 3zM357 351l15 0 0-2-3-7-2-2-4-1-2 1-2 3-2 4zM398 351l13 0 0-2-4-5-4-1-4 3-1 3zM441 351l7 0 0-2-3-2-2 0-2 2zM481 351l7 0-1-5-2-3-2 2-2 4zM519 351l12 0-1-10-3-4-2-1-2-1-2 1-2 3zM557 351l15 0 0-2-3-6-2-2-4-1-2 1-2 3zM598 351l12 0 0-2-3-3-4-1-4 3zM642 351l4 0 0-2-3 0-1 0zM684 351l1 0 0-2zM720 351l10 0-1-9-2-3-2-1-2 0-3 3zM758 351l13 0 0-2-2-4-2-2-4-1-2 1-2 2zM799 351l10 0 0-2-2-2-4-1-4 3zM921 351l8 0-2-8-2-2-2 0-1 2zM959 351l11 0 0-2-3-5-2-1-2 0-2 2-1 2zM1001 351l6 0 0-2-2-1-2 0-2 1zM1124 351l2 0-1-4-1 2zM1160 351l9 0 0-2-2-3-2-1-2 0-2 2zM1362 351l5 0 0-2-2-1-2 0-1 1z"/>
</g></g>
<g stroke="#000" stroke-width="2.9" fill="none">
<rect x="171.5" y="1011.2" width="1407.0" height="350.3"/>
<line x1="171.50" y1="1349.0" x2="171.50" y2="1374.0"/>
<line x1="347.38" y1="1349.0" x2="347.38" y2="1374.0"/>
<line x1="523.25" y1="1349.0" x2="523.25" y2="1374.0"/>
<line x1="699.12" y1="1349.0" x2="699.12" y2="1374.0"/>
<line x1="875.00" y1="1349.0" x2="875.00" y2="1374.0"/>
<line x1="1050.88" y1="1349.0" x2="1050.88" y2="1374.0"/>
<line x1="1226.75" y1="1349.0" x2="1226.75" y2="1374.0"/>
<line x1="1402.62" y1="1349.0" x2="1402.62" y2="1374.0"/>
<line x1="1578.50" y1="1349.0" x2="1578.50" y2="1374.0"/>
<line x1="159" y1="1011.2" x2="184" y2="1011.2"/>
<line x1="159" y1="1186.3" x2="184" y2="1186.3"/>
<line x1="159" y1="1361.5" x2="184" y2="1361.5"/>
</g>
<text x="3" y="1019.7" font-weight="bold">(D)</text>
<text x="147" y="1023.8" text-anchor="end">200</text>
<text x="147" y="1198.9" text-anchor="end">100</text>
<text x="148.5" y="1374.1" text-anchor="end">0</text>
<text transform="translate(46,1188.2) rotate(-90)" text-anchor="middle">z (mm)</text>
<text x="200.5" y="1268.5" style="font-size:41.2px">SWs</text>
<line x1="176" y1="1289" x2="292" y2="1289" stroke="#000" stroke-width="3.8"/>
<path d="M314 1289 L288 1274.5 L288 1303.5 Z" fill="#000"/>
<line x1="864" y1="1270" x2="965.8" y2="1063.1" stroke="#000" stroke-width="3.8"/>
<path d="M976.0 1042.5 L977.5 1072.2 L951.5 1059.4 Z" fill="#000"/>
<text x="1003" y="1076" style="font-size:41.2px">PWs</text>
<text x="1335.5" y="1064.5" style="font-size:41.2px">PCR=0.4</text>
<rect x="1616.5" y="1089" width="51.5" height="198.5" fill="url(#cb)"/>
<text x="1614" y="1066.5" style="font-size:40.5px">E<tspan dy="12.7" dx="1.5" style="font-size:30px">x</tspan></text>
<text x="1685" y="1106">1</text>
<text x="1684" y="1299.5">-1</text>
</g>
<g id="panelE">
<clipPath id="clipE"><rect x="171.5" y="1418.7" width="1407.0" height="350.3"/></clipPath>
<rect x="171.5" y="1418.7" width="1407.0" height="350.3" fill="#6ab62c"/>
<g clip-path="url(#clipE)"><g transform="translate(171.5,1418.7)" filter="url(#blur)">
<path fill="#6eb62c" d="M10 351l20 0 0-30-2-18-3-12-4-5-2-1-2 2-2 4-2 8-2 19zM51 351l21 0-1-32-1-14-3-11-4-8-2-1-2 0-2 3-2 5-2 8-1 22zM92 351l21 0-1-38-6-24 2-6 4-8 0-2-2-2-5 1-2 1-2 3-6 23-2 12zM134 351l20 0 0-28-5-22 1-4 1-2 4-3 2 0 6 0 18 9 4 0 12-1 6 0 6 1 16 6 18 3 8 3 14 7 4 0 12-3 6 0 6 3 12 8 12-3 4-1 4 1 4 1 4 4 5 7 0 4-2 10 17 0-1-8 1-4 4-6 6-6 1-2-8-8-5-3-6-3-20-3-14-5-6-2-16 1-6-1-58-17-44-6-8 1-14 3-12 0-2 0-2 3-2 10-6 12-1 4-1 6 1 18zM175 351l18 0 0-4 2-5 4-6 3-3 0-2-5-6-6-5-6-3-4 0-4 2-2 2-2 4-1 4 3 14zM215 351l20 0 0-2 3-6 1-4-4-6-6-6-4-1-6-1-6 2-7 4 0 2 7 12zM253 351l23 0-1-8-2-5-2-3-4-3-4 0-4 2-4 3-3 4 0 4zM294 351l20 0 0-2-1-4-4-7-4-4-2 0-4 3-3 4-2 4zM376 351l17 0 1-8 6-10 0-4-2-4-5-4-6-4-4 0-4 1-6 3-5 4-1 2 6 9 2 5zM415 351l20 0 2-10-1-4-3-6-6-5-4-1-6 1-4 2-4 3 0 4 5 10zM454 351l22 0-1-6-1-6-3-6-4-5-2-1-2 1-4 4-4 5-2 6zM494 351l20 0-1-6-6-12 0-2 2-2 6-4 4-1 4 0 4 1 4 2 5 8 1 6-1 10 17 0-1-8 1-4 7-12 0-4-5-6-7-4-7-2-14-1-16-7-6-2-6-1-12 2-4 0-16-6-20-4-24-8-8-2-18-1-14-2-14-4-32-10-12-2-20-2-10-1-36-11-20-5-42-6-20-1-10 1-8 2-6 3-4 4 0 2 1 2 3 1 48 6 34 6 12 3 24 8 14 3 12 2 18 1 10 2 22 7 19 5 15 5 6 0 14-1 6 1 18 8 18 2 6 2 6 3 10 8 2-1 12-7 4-1 4 1 4 2 5 4 5 6 2 4-8 12zM576 351l17 0 1-8 6-10 0-4-4-6-5-4-6-3-4 0-4 2-5 3-2 4 1 4 5 12zM615 351l20 0 1-10 0-4-4-6-5-5-4-1-4 1-4 2-4 3-1 4 4 12zM654 351l21 0 0-8-2-6-4-7-4-3-2 0-2 2-6 8-2 6zM694 351l20 0-2-8-6-10 1-2 8-5 8-2 4 0 4 3 5 8 1 6-1 10 17 0-1-12 2-4 4-8 1-4-1-2-5-5-6-3-6-1-14 0-16-8-8-3-6-1-14 1-16-4-16-3-30-10-50-7-28-9-12-4-16-3-28-3-44-13-10-2-20-2-10-1-54-16-24-2-8-1-38-12-22-5-48-8-14-1-14 0-14 1-10 3-8 4-4 4-1 2 2 2 3 0 26 1 22 2 52 10 20 4 36 11 8 2 24 1 54 16 40 5 40 12 50 7 30 10 16 3 16 3 14 0 6 1 6 1 18 9 16 1 6 1 6 4 8 5 2 1 14-7 6 0 4 2 6 4 9 11-1 2-4 4-4 6zM776 351l17 0 1-8 5-10 0-4-2-4-6-5-6-3-4-1-4 1-4 3-3 3 0 4 6 14zM815 351l20 0 1-10-1-4-2-5-4-4-4-2-4 0-4 2-5 3-1 4 3 12zM854 351l21 0 0-6-1-6-3-5-4-4-4-2-2 1-5 6-2 6zM894 351l20 0 0-2-2-6-5-9-1-1 1-2 8-5 6-3 4 0 4 1 2 2 4 5 2 4 1 6-2 10 17 0-1-12 2-6 5-8-1-4-3-4-6-3-8-2-14 2-4-2-12-7-10-3-18-2-16-4-18-1-6-2-18-7-12-3-20-4-26-2-50-16-8-1-18-1-8-1-52-16-8-1-24-2-54-15-10-2-16-1-10-1-46-14-12-2-30-4-48-15-10-1-16-1-10-1-46-14-62-12-18-2-16-1-16 0-14 2-13 4-19 11-19 5-9 4-2 2 2 1 8-1 10-4 10-5 14-2 34 0 18 2 16 2 66 13 46 14 8 1 18 0 8 2 48 14 42 5 46 14 34 4 52 15 10 1 16 1 8 1 50 15 8 1 18 1 12 2 18 5 26 9 20 2 14 2 18 2 8 3 16 8 6 1 10-1 6 1 6 2 10 6 4-1 10-3 6-1 4 2 6 4 11 12 1 2-6 5-3 5-2 4zM976 351l17 0 1-6 4-10 1-4-4-6-4-4-6-3-4-1-4 1-4 1-4 4 0 4 7 14zM1015 351l19 0 2-10-1-4-2-4-4-5-4-1-4 0-4 2-4 4-1 4zM1054 351l21 0 0-6-1-4-3-6-4-4-2-1-4 0-5 5-2 6zM1094 351l20 0-1-4-2-5-4-7-2-2-8 9-2 5zM1136 351l16 0-1-10 0-4 2-4 6-8 0-2 0-2-4-4-6-4-4 0-6 0-10 4-2 2 6 7 5 9 0 6zM1177 351l16 0 0-6 4-10 0-4-3-6-5-4-6-2-6 0-4 1-4 3 0 2 7 16zM1215 351l19 0 1-10 0-4-2-4-4-4-4-2-4 0-4 3-3 3-1 4zM1254 351l21 0 0-6-2-4-4-7-4-2-2 0-4 1-2 2-3 6zM1295 351l18 0 0-4-2-5-4-6-2-1-2 1-4 4-3 5zM1336 351l16 0-2-10 0-4 2-4 7-8 0-2 0-2-4-4-6-3-4-1-6 0-4 2-3 4 1 4 6 10 1 4zM1377 351l15 0 1-6 3-10 0-4-3-5-4-3-6-3-8 1-4 2-2 2 2 4 6 12 0 4zM1105 331l0 1 2 0 16-12 4-1-12-10-6-4-6-2-18-2-18-5-20 0-24-9-30-8-8-1-16-1-6 0-52-16-10-2-18-1-8-1-50-15-38-5-46-14-10-2-22-1-10-2-44-14-40-5-48-14-10-2-16-1-10-1-50-15-12-2-28-3-48-15-10-1-16-1-10-1-44-14-64-13-22-3-20-2-20 0-16 1-14 3-24 9-24 7-9 4-2 2 3 1 8-1 30-7 22-3 36 2 18 2 20 3 66 14 44 13 10 2 16 0 8 1 48 14 10 2 22 2 10 2 50 14 8 2 22 1 54 15 10 2 18 1 10 2 34 10 12 3 10 2 28 3 48 14 10 2 18 1 10 1 50 15 8 1 14 0 8 1 30 9 24 8 6 0 14 0 6 1 14 4 20 4 18 8 4 1 4 1 10-2 6-1 4 2 10 5 4 1 12-1 6 0 6 2 4 3zM1303 329l2 1 2 0 11-9 2-4-3-4-5-4-7-3-20-4-16-6-8 0-12 2-4-1-18-7-38-12-8-1-14 0-8-1-54-16-8-2-18 0-10-2-16-4-34-11-10-2-18-1-10-1-50-16-8-1-18-1-10-1-52-16-8-1-18-1-8-1-52-16-10-2-24-1-50-15-10-2-20-2-10-1-44-14-10-2-18-1-10-2-52-15-10-2-18-1-10-1-48-15-10-2-16 0-10-1-44-14-72-15-22-3-24-3-20 0-18 0-21 4-43 12-12 4-7 4 3 1 4 0 44-7 26-2 18 1 22 1 36 6 74 16 44 13 10 1 16 1 8 1 50 15 34 3 56 16 10 1 18 1 8 2 44 13 42 6 46 13 10 2 18 1 10 2 48 14 8 1 18 1 10 2 50 14 10 2 16 1 10 1 38 12 16 3 32 3 35 11 19 5 8 1 16 0 6 1 24 8 32 9 8 1 12-2 6 1 20 7 20 5 18 7 6 0 12-4 4 0 18 10 4 0 12 0 6 1 8 6zM1403 299l4 0 0-13-2 0-20-7-8-2-16 0-10-1-16-4-24-9-12-3-12-2-26-2-48-15-12-3-28-2-34-11-14-4-12-2-18-1-10-2-46-14-12-2-26-3-12-3-24-8-12-3-10-2-20-2-10-1-48-15-10-1-18-2-10-1-48-15-8-1-18-1-10-2-52-15-10-2-18-1-8-1-46-14-40-5-54-16-10-1-16-1-8-1-48-15-10-2-16 0-10-1-44-14-80-17-24-4-28-3-20-1-19 1-27 4-35 8-21 6-8 4 1 2 5 0 48-7 32-1 40 2 42 7 84 18 42 13 10 1 18 0 8 2 48 15 8 1 18 1 8 1 54 15 12 2 18 1 10 2 44 14 10 1 18 1 8 1 54 16 8 1 16 0 8 2 38 11 14 4 10 1 24 2 36 11 14 4 12 2 18 1 10 2 44 13 12 2 18 1 10 2 44 13 12 2 20 1 10 2 44 13 10 2 20 1 10 2 10 2 26 9 12 3 38 4 32 10 22 5 10 1 14 0 6 0 22 9zM1405 255l2 0 0-15-14-2-16 0-8-1-52-17-10-2-18 0-8-1-50-16-10-2-16 0-8-1-54-17-10-2-16 0-8-1-52-16-10-2-18 0-8-2-50-15-12-2-24-2-46-14-14-3-20-1-10-2-42-13-10-2-22-2-10-2-52-15-8-1-16 0-8-2-44-13-14-3-22-2-12-2-48-15-8-1-18-1-10-1-50-16-8-1-16 0-10-2-44-13-52-11 0-2-121 0 0 2 41 4 40 7 44 11 36 7 46 14 8 1 16 0 8 1 50 16 8 1 18 0 8 1 50 15 12 2 22 2 12 2 44 14 10 1 16 1 8 1 36 11 16 4 12 2 18 1 10 2 30 10 12 3 10 1 22 2 10 2 44 14 10 1 18 1 10 2 50 14 10 2 16 0 8 1 52 16 10 1 16 0 8 2 52 15 8 1 16 0 8 1 52 16 10 1 16 0 8 1 50 16 12 1 20 1 8 1zM107 227l2 1 3-1 5-2 2-2-2-1-5 1-4 2zM1404 209l3 0 0-11-14 0-8-1-33-12-13-4-12-2-20-1-10-2-44-14-10-2-30-3-12-3-34-11-10-2-20-1-10-2-14-4-34-11-10-2-18 0-8-2-14-3-40-13-8-1-16 0-8-2-54-16-10-1-16-1-8-1-48-15-12-2-24-2-10-2-42-13-10-2-22-1-10-3-46-13-40-5-48-15-10-2-22-1-16-4 0-2-96 0 0 2 14 4 8 1 18 0 10 2 36 12 12 3 8 1 18 0 8 1 48 15 40 5 52 15 8 1 16 0 8 1 48 15 42 5 46 14 8 1 18 1 10 2 52 15 8 1 16 0 8 2 52 15 10 2 18 0 8 1 33 11 15 4 12 2 18 1 8 1 32 10 14 4 12 2 26 2 48 14 10 2 20 1 8 1 46 14 12 2 20 0zM1389 167l8 1 10 0 0-11-2 0-30-10-20-6-10-1-16 0-8-2-34-11-18-5-10-2-18 0-8-1-35-12-15-4-12-2-24-2-46-14-12-3-30-3-12-3-32-11-10-2-20-1-12-2-50-15-8-1-16-1-8-1-56-16-10-2-16 0-10-2-46-15-8-1-24-2-14-3 0-2-93 0 0 2 3 1 24 1 12 3 52 15 10 1 18 1 8 1 44 14 10 2 18 0 10 2 52 15 10 2 16 0 8 1 34 11 16 4 12 2 16 1 8 1 46 14 12 2 20 1 10 2 44 13 10 2 20 1 10 2 48 14 8 1 16 1 8 0 54 17 10 1 14-1 8 1 40 13zM1397 125l10 2 0-15-2 0-18-7-12-3-8-1-18-1-10-2-48-15-10-2-16 0-8-1-48-15-10-3-8 0-14 0-8-1-52-17-12-2-18 0-8-1-42-14-14-3-24-2-10-2-34-11-12-3-28-3-11-2 0-2-70 0 0 2 13 3 46 13 10 2 20 1 8 1 42 14 12 2 20 1 12 2 48 15 8 1 16 0 10 2 52 15 10 1 16 0 8 2 36 11 16 4 10 2 16 0 8 1 34 11 16 4 12 2 16 0 8 1zM1403 81l4 1 0-17-22-4-26-1-44-15-12-2-24-2-8-2-46-14-10-2-24-2-18-4-36-12-10-2-22-1-6-1 0-2-62 0 0 2 48 14 10 2 16 0 8 1 34 11 16 4 12 2 24 1 46 15 12 2 28 2 12 3 33 11 11 2 18 0 8 1 14 4zM1402 35l5 1 0-14-18 0-6 0-38-13-18-5-12-2-18 0-5-1 0-2-53 0 0 2 34 11 10 2 14-1 8 1 56 17 10 1 18-1zM87 7l4 1 10-1 51-6 0-2-53 0 0 2-10 4z"/>
<path fill="#70b82c" d="M10 351l20 0 0-24-2-16-3-10-2-3-2-1-2 0-2 2-2 4-2 8-2 16zM51 351l20 0 0-22-2-18-2-7-2-5-2-2-2-1-2 1-2 3-3 9-2 18zM93 351l20 0-2-38-4-11-4-5-2 0-2 1-2 4-2 6zM134 351l20 0-1-30-4-13-4-7-2-1-4 4-2 3-3 6 0 6 0 16zM175 351l18 0 1-8 7-10 0-2-2-4-6-5-6-4-4-1-4 1-3 3-3 4 0 6 2 12zM215 351l20 0 0-2 3-6 0-4-3-6-6-5-4-2-6-1-6 2-6 4 0 2 1 2 6 10zM253 351l23 0 0-6-3-7-2-2-4-3-4-1-4 2-4 3-2 4-1 4zM294 351l20 0 0-2-1-4-4-6-4-4-2 0-4 3-3 3-2 4zM336 351l17 0-1-8 1-4 9-12 0-2-2-4-7-5-6-4-6-1-16-3-14-5-6-1-16 0-6 0-50-15-12-3-18-2-16-2-8 0-8 1-5 2-3 2-1 2 1 2 5 4 13 7 4 0 14-1 6 1 20 7 20 3 20 10 4 0 12-3 4-1 6 2 14 9 14-3 6 0 4 2 4 3 3 4 2 4 1 4-3 8zM376 351l17 0 1-8 5-10 0-4-2-4-4-4-6-3-4 0-4 0-5 3-4 4 0 4 6 12zM415 351l20 0 2-10-1-4-3-6-6-4-4-2-4 1-6 2-3 3 0 4 4 10zM454 351l21 0 0-6-1-6-3-5-4-4-2-1-2 1-4 3-4 4-2 6zM494 351l20 0 0-4-3-6-4-6-2-1-2 0-2 2-4 4-2 5zM536 351l17 0-1-8 0-4 6-12 0-4-4-6-9-4-18-2-16-7-8-3-6 0-10 2-4 0-16-6-20-4-24-9-8-1-16-1-12-2-16-4-34-10-12-3-20-1-10-2-36-11-20-4-38-6-18-1-14 2-6 2-3 3-1 2 2 2 5 2 7 2 64 11 14 4 22 7 12 3 12 2 26 2 24 8 34 9 6 1 12-2 6 1 22 8 20 3 6 3 12 8 4-1 10-6 6-1 6 3 14 13 2 0 12-6 6 0 6 4 4 4 2 4 1 6zM576 351l17 0 0-6 5-12 0-4-4-6-7-5-4-1-4 1-5 3-3 4 1 4 4 12zM615 351l20 0 1-10-1-4-3-6-5-4-4-1-4 1-4 2-3 2-1 4 4 12zM654 351l21 0 0-6-2-6-2-5-4-4-4-1-4 3-2 3-3 6zM694 351l20 0 0-2-5-10-2-3-2-1-4 2-4 4-2 5zM736 351l17 0-1-12 5-12 0-4-1-2-4-4-5-3-6-1-14 0-4-1-12-7-6-2-8-1-12 1-4-1-14-4-20-3-18-8-8-2-50-7-26-9-12-3-16-3-28-3-44-14-10-2-22-2-10-2-44-13-10-2-24-2-8-1-38-12-22-5-44-7-22-2-14 1-9 2-4 2-3 2-1 2 2 2 6 2 35 5 58 12 44 13 10 1 16 1 10 2 50 14 10 2 20 1 10 2 40 12 48 7 32 10 32 6 14 0 6 0 6 2 18 9 16 1 6 1 14 8 4 0 12-6 6 0 6 3 14 13 4 0 12-6 4 0 4 2 6 7 3 6 0 4zM777 351l16 0 1-8 4-10 0-4-3-4-4-4-6-3-4 0-4 1-3 2-2 4 0 4 5 12zM815 351l19 0 1-10-1-4-3-6-4-3-4-1-4 1-4 2-2 3-1 4zM854 351l21 0 0-6-1-4-3-5-4-4-4-2-4 3-2 2-3 6zM895 351l18 0 0-2-4-9-4-3-4 1-4 5-2 4zM936 351l16 0-1-12 0-4 4-8 1-4-3-5-6-3-4-1-6 1-6 2-3 2 7 10 3 6 1 6zM977 351l15 0 1-6 4-10 0-4-2-4-4-4-6-4-4 0-4 1-4 2-1 3 0 4 5 12zM1016 351l18 0 0-10 0-4-3-5-4-3-6 0-4 2-2 2-1 4zM1055 351l19 0 0-6-1-4-2-4-4-4-4-1-2 1-4 3-2 5zM1095 351l18 0 0-2-4-8-4-3-4 1-3 4-2 4zM1137 351l15 0-3-10 0-4 1-4 4-6 1-4-2-4-6-3-4 0-4 0-4 3 0 2 1 4 4 8 0 4 0 4-3 8zM1178 351l14 0 0-6 3-10 0-4-2-4-4-4-6-2-6 0-3 2-1 2 0 4 5 14zM1216 351l17 0 1-10-1-4-2-4-4-3-2 0-4 0-4 3-1 2-1 4zM1255 351l19 0-1-8-4-6-2-2-4-1-3 1-2 2-3 6zM1296 351l16 0 0-2-3-7-2-2-2 0-2 0-2 1-3 4-2 4zM1338 351l13 0 0-2-4-7-2-2-2 1-2 2-3 6zM1378 351l13 0 0-6 2-10 0-4-4-5-6-3-6 1-2 3 0 4 4 12zM1343 331l2 1 2 0 4-5 1-2 0-4-2-2-3-1-4-1-2 1-2 3 0 4zM904 327l3 1 4-2 13-7 0-2-9-8-6-3-6-3-6 0-14 0-16-5-18-1-22-9-11-3-22-4-19-1-8-2-27-9-21-6-10-1-22-2-54-16-10-2-22-1-54-16-10-2-18-1-8-1-48-15-12-2-22-2-12-2-44-14-10-2-16 0-8-1-48-15-54-10-20-3-18-1-18 1-10 2-5 2-4 2 0 2 2 2 5 1 42 6 66 14 48 14 8 1 18 1 8 1 50 14 40 5 46 14 10 1 18 1 8 2 52 15 8 1 16 0 8 1 52 16 8 1 16 0 10 2 22 6 24 8 6 1 16 1 30 4 8 3 14 7 6 2 20 0 6 2 8 4 4 1 12-4 6 0 6 3zM1102 325l3 2 4-1 6-3 3-4 1-2-3-4-5-4-3-2-9-2-16-1-16-5-8 0-5 2-2 2 1 2 6 4 6 3 4 0 10-2 6 1 6 4zM1302 323l5 1 3-1 2-2 2-4-2-4-5-3-6-2-8 0-5 1 3 4zM1265 309l8 1 4-1 3-2-4-4-5-2-6-1-4 1-2 2 1 2zM1027 307l6 0 6-2 4-2 1-2-4-4-11-6-10-3-24-6-10-2-14 1-6-1-25-9-27-8-12-2-14 0-8-1-50-16-12-2-26-2-46-15-12-2-20-1-10-2-48-15-36-4-14-3-38-12-10-2-22-1-54-16-10-2-20-2-10-1-48-15-10-2-16 0-8-1-50-15-60-12-20-3-24-2-20 1-11 2-6 2-4 2 0 2 3 2 6 1 34 4 22 4 66 14 52 15 8 1 16 0 10 2 44 13 10 2 20 2 12 2 50 14 8 1 18 1 8 1 36 11 15 4 11 2 24 1 48 15 12 2 18 1 8 1 48 14 12 2 16 0 8 2 52 15 8 1 16 0 8 1 54 17 6 0 12-1 6 0 15 5 21 5 16 7zM1220 303l5 1 4 0 4-2 1-1 0-2-4-4-4-2-33-10-11-2-3 0-5 2 0 2 2 2 7 4 6 2 18 5zM1388 291l9 1 4-1-6-4-5-2-7-1-3 1 1 2zM1138 285l7 1 6-1 4-2-1-2-2-2-9-4-36-12-12-1-12 1-6-1-44-15-12-4-10-1-18 0-8-2-40-13-12-3-10-2-18 0-8-2-50-16-10-1-18-1-6-1-52-16-12-2-24-1-48-15-14-3-22-2-10-2-42-13-10-2-18-1-10-2-44-13-12-3-26-2-8-1-48-16-10-1-16 0-8-1-48-15-66-13-22-4-26-2-24 0-17 2-6 2-4 2 1 2 6 2 64 9 80 17 48 14 8 2 18 0 8 1 46 14 10 2 20 1 8 1 54 16 10 1 18 1 8 1 34 11 12 3 12 2 18 1 10 2 46 14 10 1 18 1 10 2 50 14 8 2 16 0 8 1 52 15 10 2 16 0 8 1 39 12 11 3 12 2 18 0 6 0 32 11 18 5 14 2 16-2 4 0 27 11zM1312 277l13 2 4-1 2-1-2-2-8-4-16-6-10-2-4 1-3 1 1 2 7 4zM1232 261l13 1 7-1-1-2-2-2-8-4-10-4-12-4-10-2-8 0-5 0-4 2 3 2 14 6zM1405 249l2 0 0-3-4 1zM1155 245l12 0 6-2-1-2-12-6-15-6-14-4-14-2-24-1-36-13-14-4-12-2-20-1-8-1-34-12-14-4-12-2-18-1-10-2-46-14-10-2-16-1-10-1-14-4-36-12-12-2-18 0-8-2-42-13-14-3-10-2-16 0-8-2-42-13-10-2-22-2-12-2-52-16-8-1-18-1-8-1-50-16-10-1-16-1-8-1-48-14-72-15-26-4-30-3-24 0-20 2-7 2-3 2 1 2 9 2 52 7 34 6 78 18 42 12 8 1 18 1 8 1 48 15 10 1 16 1 10 1 52 15 10 2 20 1 10 2 34 10 12 4 8 1 18 0 8 2 53 15 9 1 16 0 8 2 36 11 16 4 10 1 16 1 10 1 33 11 15 4 10 1 18 1 8 1 34 11 14 4 12 1 18 0 8 2 34 11 14 4 10 1 16-1 8 1 38 13zM1339 239l8 1 4-1 0-2-3-2-19-8-14-3-8 1 1 2 6 4 10 4zM1260 223l9 0 2 0 2-2-2-2-7-4-16-6-12-4-13-2-4 0-5 2 1 2 3 2 8 4 17 6zM1171 205l14 1 7-1 1-2-6-4-9-4-31-10-14-2-14 2-4 0-29-12-26-8-13-2-16 0-6 0-32-12-22-6-10-2-16 0-8-1-46-15-14-3-28-2-47-15-11-2-18-1-10-2-43-13-11-3-30-2-46-14-14-3-30-3-52-16-10-2-18 0-8-1-38-13-12-4-10-1-16 0-8-1-44-14-53-11 0-2-101 0 0 2 54 9 54 13 34 7 44 13 10 1 16 0 8 1 50 16 10 1 16 0 8 1 48 15 12 2 22 2 12 2 44 13 10 2 14 0 8 1 52 15 13 2 19 1 10 2 28 9 14 4 12 2 18 1 10 1 46 14 10 2 16 0 10 1 41 13 13 3 10 1 14-1 6 1 36 12 16 5 14 1 13-2 3-1 2 1 26 10zM1355 199l10 1 5-1-1-2-7-4-15-6-12-2-4 1-2 1 2 2 7 4zM1275 183l12 0 2 0 1-2-5-4-8-4-18-6-8-2-8-1-6 1-2 2 6 4 14 6zM1188 165l9 1 8 0 7-1 0-2-8-4-14-6-21-7-12-2-16 1-6 0-43-16-11-3-10-2-22 0-56-18-10-2-16 1-6-1-54-17-12-2-18-1-6 0-46-15-12-3-24-2-10-2-36-12-12-3-8-1-16 0-8-1-52-16-12-2-20-2-10-1-48-15-8-2-16 0-8-1-18-5 0-2-93 0 0 2 13 3 8 1 16 0 10 1 36 12 12 4 8 1 16 0 10 1 36 11 14 4 28 3 12 2 50 14 8 2 16 0 8 1 36 11 12 3 12 2 20 1 10 2 46 14 8 2 16 0 8 0 56 17 8 1 16-1 8 1 32 11 20 5 10 2 18-1 6 1 31 11 15 4 16 2 20-1 6 2 29 11zM1383 161l6 0 1-2-5-4-16-6-14-3-4 0-4 1 1 2 8 4 18 6zM1292 143l13 2 6-2-1-2-6-4-21-8-18-4-8 0-4 2 2 2 8 4zM1213 127l12 0 5-2-1-2-3-2-7-4-16-6-14-4-16-2-20 1-32-13-18-6-14-2-24-1-8-2-29-11-13-4-10-1-16-1-10-1-14-4-32-11-10-2-8-1-16 0-8-2-34-11-18-5-10-2-20-1-10-1-32-12-12-3-10-2-16 0-8-1-17-5 0-2-84 0 0 2 19 1 12 2 52 15 10 1 18 1 8 1 34 12 12 3 8 1 18 0 10 2 52 15 10 2 16-1 8 2 34 11 16 4 12 2 16 0 8 1 33 11 13 3 12 2 18 0 10 2 34 11 14 4 12 1 14-2 4 0 41 15zM1399 121l8 0 0-4-2 0-12-6-12-4-10 0-1 2 1 2 8 4 11 4zM1310 103l15 2 5-2-1-2-8-4-20-8-14-3-6 0-4 1-1 2 6 4 14 6zM1232 87l13 1 6-1 1-2-3-2-8-4-21-8-13-4-10-2-6 0-7 2-2 2 7 4 15 6zM1403 77l4 1 0-8-10-2-7 1 1 2zM1144 69l9 2 8 0 8-2 2-2-3-2-13-6-30-10-18-4-16 1-6-1-33-12-11-3-16-3-20-2-10-1-12-4-26-9-10-3-8-1-24-1-17-5 0-2-55 0 0 2 46 14 12 2 18 0 8 1 42 14 14 3 20 0 8 1 14 4 26 9 12 3 10 1 12-1 6 0zM1334 65l11 0 2 0 1-2-1-2-7-4-9-4-12-4-14-2-4 0-5 2 2 2 12 6 16 6zM1247 47l8 1 8 0 6-1 0-2-7-4-13-6-20-7-14-1-5 0-7 2 2 2 18 8 10 4zM1173 31l12 0 9-2-1-2-10-4-33-12-13-4-10-1-14 2-4-1-18-6 0-2-47 0 0 2 35 11 14 2 16-2 4 1 34 12 15 4zM1352 25l11 2 4-1 3-1-1-2-6-4-9-4-13-4-18-4-4 0-5 2 1 2 8 4zM1273 9l10 0 5-2-1-2-6-4 0-2-34 0 0 2 16 6z"/>
<path fill="#74b82b" d="M10 351l20 0-1-20-1-14-3-9-2-3-2-1-2 0-2 2-2 4-2 7-2 14zM52 351l19 0-1-20-2-16-3-9-2-2-2-1-2 1-2 3-2 8-3 16zM93 351l19 0-1-26-1-10-3-8-4-4-2 0-2 2-2 3-1 5-2 20zM134 351l19 0 0-24-1-6-1-6-4-7-2-2-2-1-4 2-2 4-2 5zM175 351l18 0 1-8 6-10 0-2-2-4-5-5-6-4-4 0-4 1-3 2-2 4-1 6 2 12zM215 351l20 0 0-2 3-6 0-4-3-6-6-5-4-2-6 0-6 2-5 3 0 2 0 2 6 10zM253 351l23 0-1-6-2-6-2-3-4-3-4 0-4 1-4 4-2 3 0 4zM294 351l20 0 0-2-1-4-4-6-4-3-2 0-4 2-4 5-1 4zM336 351l17 0-2-8 1-4 9-12 0-2-2-4-5-4-7-4-6-2-14-2-16-5-6-2-16 1-6-1-20-6-32-10-10-2-40-4-6 1-4 2-3 2-1 2 0 2 4 4 10 6 6 0 12 0 8 1 18 6 20 4 20 9 4 0 12-3 4 0 6 2 10 7 4 1 4 0 10-3 6 1 4 2 4 3 3 4 2 4 1 4-3 8zM376 351l17 0 1-8 4-10 0-4-4-6-7-4-4-1-4 1-4 2-4 4-1 2 1 2 4 9 1 5zM415 351l20 0 1-10 0-4-4-6-5-4-4-1-4 0-4 2-4 3 0 4 4 12zM454 351l21 0 0-6-2-6-2-4-4-4-2-1-4 2-5 5-2 6zM494 351l20 0 0-2-2-6-3-4-4-4-2 0-4 3-2 3-2 4zM536 351l16 0-1-8 1-4 5-12 0-4-2-3-3-3-7-4-6 0-12-1-16-8-8-2-6 0-10 3-4 0-14-6-22-6-22-8-8-1-16-1-10-1-20-5-32-10-14-3-28-3-36-11-20-5-30-4-24-2-8 1-6 1-4 2-2 2 0 2 2 2 8 3 64 13 40 12 14 2 20 1 8 2 24 7 34 9 6 1 12-2 6 1 22 9 20 3 18 9 4 0 12-7 4-1 6 4 10 9 4 3 4-1 10-4 6 0 6 4 4 4 3 5 0 6zM577 351l16 0 0-7 5-11-1-4-4-6-6-4-4-1-4 1-4 3-2 3 0 4 4 12zM615 351l19 0 1-10 0-4-4-6-4-3-4-1-4 1-4 2-3 3 0 4 3 10zM654 351l21 0 0-6-2-6-2-3-4-4-4-1-2 1-4 4-3 7zM695 351l18 0 0-2-4-9-2-2-2-1-2 0-4 3-2 2-2 5zM736 351l16 0-1-12 4-12 0-4-1-2-4-4-5-2-6-1-12 2-14-9-8-3-10-1-12 4-12-6-6-2-16-3-26-10-50-6-38-13-16-3-30-3-44-14-10-2-28-3-52-16-10-2-18 0-8-2-38-11-18-5-44-7-18-2-10 0-10 2-8 2-2 2 0 2 3 2 7 2 80 17 42 12 10 2 16 0 8 1 52 15 10 2 22 1 10 2 40 12 48 7 32 10 32 5 14 0 6 1 6 2 16 8 6 1 16 1 16 8 2 0 4-1 14-8 18 16 4 3 4 0 14-6 2 0 4 2 7 9 3 6 0 4zM777 351l15 0 0-6 4-10 1-4-2-4-2-3-4-3-4-2-4 0-4 1-3 3-1 2 0 4 4 12zM816 351l18 0 0-8 0-6-3-4-4-4-6 0-4 1-3 3-1 4zM855 351l19 0 0-6-1-4-2-4-4-4-2-1-4 1-4 4-2 6zM895 351l18 0 0-2-4-8-2-2-2-1-2 1-4 2-2 3-1 3zM937 351l15 0-3-12 1-4 3-8 0-4-3-4-5-2-7 0-4 2 0 2 6 16 0 4-3 8zM978 351l14 0 0-6 3-10 0-4-3-6-7-4-6 0-3 2-2 2 0 4 4 14zM1016 351l17 0 0-12-2-5-4-3-2-1-4 0-4 3-1 2-1 4zM1055 351l19 0-1-8-4-6-4-3-2 0-4 2-3 5zM1096 351l16 0 0-2-3-6-4-3-2 0-2 1-3 4-2 4zM1138 351l13 0 0-2-2-4-4-6-2 1-2 3-3 6zM1179 351l12 0 0-6 2-10 0-4-2-3-4-4-4-1-4 1-2 1-1 2 0 4 3 12zM1217 351l15 0 0-12-2-4-3-2-2-1-4 1-2 1-2 3 0 4zM1256 351l17 0-1-6-3-6-2-1-4-2-4 2-2 5zM1297 351l14 0 0-2-4-6-4-1-4 3-2 4zM1339 351l10 0 0-2-2-3-2-1-2 0-4 4zM1380 351l9 0 0-6 1-8 0-4-2-4-5-2-2 0-2 2 0 2 2 12zM1145 333l2-1 2-3 1-4 0-2-3-3-4-1-3 2-1 2 0 2 4 7zM905 325l4 0 8-4 2-2 0-2-2-4-6-5-8-3-10 0-6 2 0 2 4 4 10 10zM1104 323l5 0 4-3 1-3-1-4-6-4-6-2-6 0-3 2 0 2 3 4 6 6zM1303 317l3 0-1-2-2-1-2 1zM861 311l4 1 5-1 6-4 0-2-3-2-6-2-16 0-4-1-17-9-12-4-25-4-22-1-29-11-21-6-10-2-16 0-8-1-52-16-10-2-16 0-8-2-50-15-12-2-18-1-10-2-42-13-14-3-22-2-10-2-50-16-10-1-22-1-50-15-66-12-16-1-16 0-12 2-5 3 0 2 4 2 99 21 44 13 10 2 16 0 10 1 48 14 12 2 20 2 10 1 38 12 10 3 24 1 8 1 54 16 30 2 52 15 8 1 16 0 8 1 24 7 26 9 8 1 16-1 26 5 8 2 20 10 8 1 14-3 4 1zM1021 303l6 1 4 0 4-2 1-1 0-2-2-2-5-3-10-4-28-6-6 0-4 1 0 2 3 2 5 2 14 3zM938 285l11 2 7-2 1-2-1-2-3-2-8-4-17-6-15-4-14-1-7 1-2 2 12 6zM1132 279l3 0 0-2-18-8-10-3-4 0-4 1 1 2 6 4 14 4zM853 267l10 2 6 0 9-2 2-2-3-2-14-6-30-10-14-3-18 0-6-1-50-16-10-2-20-1-10-2-47-15-11-2-18-1-10-1-43-14-11-3-30-2-50-15-14-3-20-2-10-2-38-12-12-3-8-1-16-1-8-1-38-12-14-3-58-11-22-3-16-1-16 1-12 2-3 2 1 2 5 2 39 7 74 17 44 13 10 1 18 1 8 1 44 13 12 3 20 1 10 1 50 15 10 1 22 1 52 15 12 2 20 1 8 2 28 9 16 4 12 2 18 0 8 2 32 10 16 4 12 2 16 0 8 1 34 11zM1048 263l8 0 2-2-2-2-8-4-22-8-13-2-7 2 1 2 3 2 14 6 13 4zM957 245l14 2 7-2 0-2-6-4-15-6-18-6-10-2-6 0-5 0-6 2 1 2 13 6 17 6zM1142 239l9 1 4-1-1-2-3-2-10-4-12-3-4 0-3 1 1 2 4 2zM881 229l12 0 7-2-1-2-13-6-16-6-19-6-14-2-16 0-6 0-32-12-21-6-11-2-24-1-32-11-16-5-14-2-26-2-12-4-36-12-10-2-18 0-8-2-54-16-12-2-16-1-10-1-46-15-12-2-18-1-8-1-38-12-14-3-64-13-26-4-20-1-16 1-13 2-3 2 2 2 6 2 50 9 78 18 44 13 10 1 16 0 8 1 46 15 10 1 18 1 10 2 40 11 16 4 32 3 42 13 12 2 22 1 10 2 48 15 8 1 16 0 8 0 54 17 10 1 16-1 6 0 40 14zM1061 223l12 1 2-1 1-2-3-2-7-4-17-6-8-2-8-1-5 1-1 2 6 4 9 4zM987 207l6 0 4-2-1-2-3-2-8-4-15-6-11-3-8-2-8 0-10 1-1 2 18 8 16 6 11 3zM1161 199l10 1 3-1-6-4-10-4-11-2-7 0 1 2 4 2zM897 189l14 1 5-1 5-2-8-4-25-10-19-6-10-1-16 0-6 0-56-19-10-1-16 0-6-1-37-12-17-5-12-2-18 0-8-2-32-11-14-4-12-2-18-1-10-2-42-13-14-3-30-3-12-3-38-13-10-2-18 0-8-1-38-12-14-4-68-14-30-4-22-1-18 0-14 2-2 0-2 2 3 2 7 2 58 11 45 11 35 7 44 13 10 2 16 0 8 1 10 2 26 9 14 4 10 1 16 1 8 1 38 11 16 4 12 2 18 1 10 1 34 12 10 2 10 1 16 0 8 2 43 13 13 3 8 1 14-1 6 1 6 1 32 11 16 4 12 1 16 0 6 0 35 13zM1079 183l12 2 4-1 2-1-2-2-6-4-23-8-13-2-4 0-3 2 2 2 7 4zM999 167l12 1 4-1 1-2-4-4-9-4-24-8-10-2-8-1-7 1-3 2 3 2 14 6 17 6zM1187 161l4 0 1-2-2-2-8-4-7-2-8-2-4 1-1 1 2 2 8 4zM912 149l9 1 6 0 8-1 1-2-6-4-13-6-25-8-13-2-20-1-6 0-48-17-12-2-16 0-8-1-14-4-32-11-12-3-8-1-14 0-8-1-48-15-12-3-22-2-10-1-52-16-10-2-16 0-8-1-38-13-14-4-8-1-18 0-8-2-44-13-55-12 0-2-88 0 0 2 45 9 50 12 36 8 42 12 10 2 16-1 8 1 12 4 36 11 10 2 18 0 8 1 50 15 12 2 20 1 12 2 46 14 8 1 22 1 36 11 16 4 12 2 18 0 8 1 32 11 14 4 12 2 18-1 8 2zM1096 143l13 2 4-1 2-1-5-4-19-8-14-3-4 0-5 1 0 2 6 4 9 4zM1017 127l14 1 6-1-1-2-2-2-9-4-28-10-12-2-6 1-4 1 0 2 3 2 8 4 16 6zM1203 121l6 1 4-1-1-2-8-4-13-4-7 0 0 2 3 2zM939 111l12 0 5-2 0-2-3-2-8-4-16-6-20-6-14-2-16 1-4 0-33-13-13-4-14-3-30-2-12-4-28-10-12-3-10-1-14 0-8-1-50-16-14-3-22-1-10-2-34-12-14-4-8-1-22 0-22-7 0-2-90 0 0 2 12 3 8 0 16 0 8 1 38 13 12 3 8 1 16 0 8 1 38 12 12 3 38 4 52 15 10 1 16 0 6 1 8 2 28 10 12 3 10 1 20 1 10 1 48 15 12 2 14-2 4 0 44 15zM1121 105l10 1 2-1 1-2-2-2-7-4-17-6-13-2-4 1-3 1 2 2 8 4 10 4zM1033 87l12 2 6-1 3-1-1-2-6-4-14-6-12-4-8-2-8-1-6 1-3 2 2 2 12 6zM1223 81l7 0-1-2-4-2-10-4-8-2-5 0 0 2 3 2 10 4zM957 71l14 1 4-1 3-2-2-2-9-4-27-10-11-3-14-2-16 2-28-11-20-6-18-5-22 0-8-1-32-12-16-5-8-1-16 0-8-1-22-7 0-2-60 0 0 2 14 3 44 13 12 2 16 0 8 1 8 2 30 11 12 2 8 1 16 0 6 1 54 16 14 2 14-3 4 0 32 13zM1139 65l10 2 4-1 2-1-1-2-7-4-16-6-16-3-6 0-2 1 1 2 8 4zM1058 49l11 1 3-1 2-2-2-2-6-4-21-8-10-2-10-2-6 0-6 2 2 2 14 6 15 6zM1237 41l10 1 3-1-6-4-10-4-7-1-4 1 1 2 3 2zM972 31l7 1 8 0 6-1 2-2-7-4-19-8-20-7-12-1-14 1-4 0-26-9 0-2-45 0 0 2 6 2 18 6 17 4 14 2 16-1 4 0 34 13zM1157 25l10 1 4 0 2-1-2-2-3-2-19-8-12-3-4 0-4 1-1 2 6 4 9 4zM1076 9l11 2 4-1 4-1 0-2-3-2-8-4 0-2-33 0 0 2zM1263 3l4 1 4-1-1-4-13 0 0 2z"/>
<path fill="#7abb2c" d="M11 351l19 0-1-19-2-13-2-6-2-3-2-2-2 1-2 2-3 8-2 14zM52 351l19 0-1-18-2-14-3-8-2-2-2-1-2 1-2 3-2 6-2 15zM93 351l19 0-1-19-2-15-2-5-2-3-2-2-2 1-2 1-2 6-3 16zM134 351l19 0 0-24-1-6-5-10-4-3-2 1-2 1-3 7zM176 351l17 0 1-8 5-10 1-2-4-6-5-4-4-2-4-1-4 2-2 1-3 4 0 6 2 12zM215 351l20 0 0-2 2-6 1-4-3-6-6-5-4-1-6-1-6 2-4 3-1 2 1 2 5 10zM254 351l21 0 0-6-2-6-2-2-4-3-4-1-4 2-4 3-2 3 0 4zM294 351l20 0 0-2-2-4-3-5-4-3-2 0-4 2-3 4-2 4zM336 351l16 0-1-8 1-4 8-12 0-2-2-4-4-4-7-4-6-1-16-3-14-5-6-1-6-1-10 1-6 0-18-7-42-11-40-4-8 2-4 2-1 2 0 2 3 4 8 4 6 2 14-1 6 1 18 7 22 4 18 9 6 0 10-3 4-1 6 2 10 7 4 2 4-1 10-2 4 0 4 1 7 5 3 4 2 4 0 4-3 8zM377 351l16 0 0-7 5-11 0-4-5-6-6-4-4 0-6 2-3 2-3 4 1 4 4 10zM415 351l19 0 2-10-1-4-4-6-4-3-4-2-4 1-4 1-3 3-1 4 4 12zM454 351l21 0 0-6-2-5-2-4-4-4-4 0-4 2-2 3-3 6zM495 351l19 0 0-2-5-9-4-4-2 0-4 3-2 3-2 5zM536 351l16 0-1-8 0-4 5-10 0-4 0-2-3-4-4-3-6-2-14 0-4-1-14-8-6-2-8 0-9 4-1 2 1 2 13 12 4 2 4 0 10-4 4 0 4 1 4 3 5 6 3 6 0 4zM577 351l15 0 1-8 3-8 1-4-3-6-3-3-4-2-4-1-4 1-4 3-1 2 0 4 3 14zM616 351l18 0 1-8-1-6-3-5-4-3-4-1-4 0-4 3-2 2 0 4zM655 351l19 0 0-6-1-4-2-4-4-4-4-1-4 3-2 2-2 6zM695 351l18 0 0-2-4-8-4-3-2 0-4 3-2 2-1 4zM737 351l15 0-2-12 4-14-1-3-2-3-6-3-8 0-4 1-2 2 0 2 6 10 3 6 0 4-3 8zM777 351l15 0 0-8 3-8 1-4-4-6-3-3-4-1-6 0-3 2-1 2 0 4 3 14zM816 351l17 0 0-12-2-5-4-3-6-1-4 2-2 2-1 5zM855 351l19 0-1-8-4-7-2-2-4 0-4 2-3 5zM896 351l16 0 0-2-3-6-4-3-2 0-4 3-2 2zM938 351l13 0 0-2-3-8-1-4 4-12-2-4-4-2-4 0-2 1-2 1 0 2 5 14-4 12zM978 351l13 0 0-6 3-10 0-4-3-5-6-3-6 0-2 2-1 2 0 4 3 12zM1017 351l15 0 1-8-1-4-2-4-3-2-2-1-4 0-4 4-1 3zM1056 351l17 0-1-8-3-5-2-1-4-1-4 2-3 5zM1097 351l14 0 0-2-2-4-2-2-4-1-4 3-2 3zM1139 351l11 0 0-2-3-4-2-1-2 0-4 5zM1180 351l10 0-1-8 2-10-2-4-4-3-4 0-2 1-1 2 1 4 2 10zM1218 351l13 0-1-10-1-3-2-2-4-1-2 1-2 2-1 5zM1257 351l15 0-1-5-2-4-4-3-4 0-3 4zM1298 351l12 0 0-2-3-4-4 0-4 3zM1341 351l6 0 0-2-2-2-2 1-2 1zM1383 351l4 0 0-2-2-1-2 0zM703 323l4 2 6-2 7-4 2-2-1-2-7-6-9-4-8-1-3 1-3 2-1 2 2 4zM906 323l5-1 4-3 1-2-1-4-6-4-4-2-6-1-4 1-2 2 1 4 7 7zM1103 319l4 1 2-1 1-2 0-2-2-2-3-2-5 0-2 2 1 2zM462 317l5 1 4-2 11-7 0-2-6-4-8-4-21-5-22-8-8-1-14 0-8-2-22-5-34-11-12-2-30-4-34-10-15-4-27-4-28-3-12 1-6 2-2 2 0 2 2 2 6 3 60 12 38 12 14 2 28 3 28 9 32 7 6 1 12-2 6 1 20 9 22 3zM660 313l5 1 4-1 4-2 2-2 0-2-1-2-2-2-5-2-18-3-18-8-10-3-24-2-22-4-38-13-18-3-28-3-44-14-12-2-18-2-10-1-52-16-10-2-18-1-8-1-38-12-16-4-40-6-20-2-16 0-7 2-2 2 0 2 3 2 6 2 74 17 40 12 10 1 16 1 8 1 50 14 12 2 20 1 10 2 42 13 32 3 14 2 34 12 32 4 18 0 6 2 18 9 6 1 16 1 4 1zM822 303l5 1 6 1 6-2 1-2 0-2-5-4-8-4-7-2-15-2-12-1-7 1 2 2 11 3 6 2zM1020 299l5 1 2 0 1-1 0-2-3-2-6-2-6 0 1 2zM746 287l11 1 4-1 4-2-1-2-2-2-13-6-11-4-15-4-14-2-18 2-29-12-26-8-11-2-16 1-6-1-34-12-20-6-10-1-18-1-8-1-45-15-11-2-24-3-10-1-42-14-10-2-8-1-16-1-8-1-36-12-14-3-52-9-18-3-20 0-9 2-3 2 0 2 4 2 7 2 83 19 42 13 10 1 16 0 10 2 44 13 12 2 22 2 10 1 36 11 12 3 8 1 16 0 8 1 54 16 10 1 16 0 6 1 41 13 11 3 10 1 16-2 2 0zM942 283l3 0 3-2-2-2-7-4-22-6-8-1-4 1 2 2 9 4 17 6zM853 265l10 1 4-1 0-2-2-2-7-4-23-8-14-2-5 0-4 2 6 4 9 4 11 4zM1029 255l4 1 3-1-5-2-4-1-2 0 0 1zM765 247l10 1 6 1 7-2 0-2-7-4-9-4-23-8-14-2-24 0-50-18-12-2-24-1-12-4-42-14-10-1-18-1-6 0-52-17-12-2-20-2-10-1-38-13-14-4-8-1-16 0-8-1-37-12-15-4-54-10-20-3-24 0-11 1-4 2 0 2 12 4 93 21 44 13 10 2 16 0 10 1 42 13 12 3 20 1 10 1 54 15 8 1 16 0 6 1 38 12 16 4 10 1 22 0 8 2 30 11 10 3 14 1 20-1 8 2 28 11zM951 241l10 1 4-1-2-2-3-2-15-6-10-2-8 0 0 2 6 4zM870 225l11 1 6-1-1-2-6-4-21-8-8-2-10-2-4 0-5 2 1 2 7 4 16 6zM1054 217l4 0-2-2-7-2 0 2zM791 209l10 0 3 0 3-2-1-2-3-2-8-4-16-6-14-4-16-2-6 0-8 2 2 2 21 8 17 6zM977 203l4 0 2-2-2-2-7-4-12-4-9-1-5 1 1 2 8 4 11 4zM703 191l14 1 7-1 6-2-8-4-19-8-22-7-14-3-26-1-50-17-10-1-16-1-8-1-56-17-12-2-16-1-8-1-48-16-12-2-16 0-10-1-38-13-14-3-58-11-24-4-28-1-11 1-5 2 0 2 5 2 115 27 40 12 12 2 16 0 8 0 48 15 10 2 18 0 8 1 44 13 14 3 30 2 42 13 14 3 20 0 10 2 34 11zM887 185l12 2 6-2-1-2-7-4-20-8-8-2-8-1-5 1-2 2 6 4 8 4zM809 169l8 1 6 0 3-1 1-2-6-4-9-4-16-6-13-4-8-1-6 0-7 1-2 2 6 4 15 6 12 4zM993 163l8 1 3-1-1-2-3-2-9-4-15-4-7 0 0 2 3 2 9 4zM721 151l10 2 6 0 10-2 1-2-7-4-15-6-29-9-14-2-20 0-6-2-29-11-13-4-12-2-18-1-10-2-44-14-14-3-10-1-14-1-8-1-48-16-12-2-18 0-8-1-36-12-16-4-66-14-20-3-18-1-18-1-11 1-6 2 1 2 5 2 49 11 43 11 35 8 40 11 10 2 18 0 10 1 46 15 10 1 16 0 8 1 52 15 12 2 20 1 8 1 10 3 26 9 12 3 8 1 16-1 6 1zM912 147l9 0 2 0 2-2-2-2-7-4-15-6-8-2-10-1-6 0-3 1 1 2 12 6 17 6zM824 129l9 1 6 0 5-1 1-2-7-4-8-4-23-8-14-2-6 0-7 2 2 2 18 8 11 4zM1012 123l5 1 5-1-1-2-4-2-15-6-11-2-2 0-2 2 2 2 9 4zM750 113l13 0 7-2-1-2-10-4-27-10-15-5-12-2-16 2-6-1-32-12-16-5-14-3-20-1-10-2-40-13-14-4-8-1-14 1-8-1-12-4-38-13-12-2-18 0-8-2-46-14-58-12 0-2-76 0 0 2 34 7 49 13 39 8 40 12 10 2 18 0 8 1 48 15 10 1 18 0 6 1 50 15 10 1 22 2 10 1 49 15 9 1 16-2 4 1 42 14zM930 107l9 1 6-1 0-2-6-4-22-8-14-3-6 0-4 1 0 2 7 4 16 6zM850 91l9 0 5-2-1-2-6-4-14-6-12-4-9-2-9-1-16 1 1 2 26 10 17 6zM1027 83l10 2 2-1 2-1-5-4-9-4-10-3-7 1 0 2 3 2zM765 73l14 0 11-2-34-14-19-6-12-2-14 2-6-1-30-11-20-6-16-3-20-1-8-2-12-3-30-11-12-3-10-1-14 0-8-1-21-7 0-2-87 0 0 2 10 2 22 0 8 1 40 13 12 3 10 1 14 0 8 1 35 11 15 4 10 1 16 1 10 1 43 13 11 3 10 1 14-2 6 1 36 13zM947 67l10 1 6-1-1-2-6-4-21-8-8-2-6 0-4 0-3 2 2 2 3 2 9 4zM867 51l12 1 5-1 1-2-5-4-9-4-24-8-10-2-8-1-9 1-2 2 3 2 15 6zM1053 45l6 1 3-1-1-2-2-2-9-4-11-3-4 0-4 1 2 2 3 2zM779 33l14 1 8-1 3-2-3-2-12-6-26-10-14-2-18 0-6 0-28-10 0-2-48 0 0 2 48 14 12 2 18-1 8 2 30 11zM974 29l5 0 2-2-1-2-6-4-15-6-14-3-8 1 0 2 2 2 12 6 12 4zM885 11l12 1 8-1 0-2-3-2-14-6 0-2-35 0 0 2 5 2zM1073 5l8 0-1-2-4-2 0-2-16 0 0 2z"/>
<path fill="#85c02d" d="M11 351l19 0-1-15-2-13-2-6-2-4-2-1-2 0-2 2-3 9-2 12zM52 351l19 0-1-14-2-12-2-8-3-5-2 0-2 1-2 3-2 6-2 12zM93 351l19 0-1-16-2-14-2-6-2-3-2-1-2 0-2 2-2 5-3 15zM134 351l19 0-1-24-1-6-4-8-4-2-2 0-2 2-3 6zM176 351l17 0 1-8 4-8 1-4-1-2-3-4-8-5-6-1-4 3-2 3-1 6 2 12zM215 351l20 0 0-2 2-6 0-4-3-6-5-4-4-2-6-1-6 2-3 3-1 4 5 10zM254 351l21 0 0-6-2-5-2-3-4-3-4 0-4 1-4 4-2 2 0 4zM294 351l20 0 0-2-2-4-3-5-2-2-4-1-2 1-4 3-2 4zM336 351l16 0-1-8 0-4 8-12 0-2-2-4-4-4-6-3-6-2-16-2-14-5-6-2-20 1-20-7-34-10-8-2-38-3-8 2-3 1-1 2 0 2 2 4 8 4 4 1 12-1 6 1 20 8 22 4 18 8 6 0 10-3 4 0 6 2 10 6 4 2 4 0 12-3 6 2 7 5 5 8 1 4-4 8zM377 351l15 0 1-8 4-12-1-4-1-2-4-3-4-2-4-1-5 2-3 2-3 4 1 4 4 10zM416 351l18 0 1-10 0-4-4-6-4-3-4-1-4 0-4 2-2 2-1 4 3 12zM454 351l21 0-1-6-1-4-4-7-4-2-2 0-4 3-2 2-3 6zM495 351l18 0 0-2-4-9-2-2-4-1-4 3-2 2-2 5zM537 351l15 0-1-12 4-10 0-4-1-4-2-2-3-2-6-3-18 1-12-8-8-3-8 0-5 3-2 2 2 4 9 9 4 2 4 0 14-5 4 1 2 2 6 7 4 8 0 4-2 8zM577 351l15 0 0-8 3-8 1-4-3-6-6-4-4-1-3 1-3 2-2 2-1 4 4 14zM616 351l18 0 0-8-1-6-2-4-4-3-4-1-3 0-3 1-3 3 0 4zM655 351l19 0-1-9-4-7-4-2-4 1-2 2-3 5zM696 351l17 0 0-2-4-7-2-2-4-1-4 3-2 2zM737 351l14 0-2-12 3-10 0-4-1-3-2-2-6-3-6 1-2 1-1 2 7 16-1 4-3 8zM778 351l13 0 0-8 3-8 0-4-1-3-2-3-6-3-4 0-2 1-2 1-1 3 0 4 3 10zM817 351l16 0 0-8 0-4-2-4-4-3-2-1-4 0-4 2-1 2-1 4zM856 351l17 0-1-8-3-6-2-1-4-1-4 2-3 6zM896 351l16 0 0-2-3-5-2-2-4-1-2 1-3 3-2 4zM938 351l12 0 0-2-3-6-2-2-2 1-2 2-3 5zM979 351l11 0 0-6 2-10 0-4-3-4-4-2-5 0-2 2 0 2 2 14zM1018 351l14 0-1-11-1-3-3-3-4-1-2 1-3 3-1 4zM1057 351l15 0-1-6-2-5-4-2-2-1-3 2-2 4zM1098 351l13 0 0-2-4-5-4 0-4 2-1 3zM1140 351l9 0 0-2-4-3-2 0-3 3zM1181 351l7 0 0-2-3-6 3-6 0-4-1-2-2-1-2 0-1 1 0 4 3 8-4 6zM1219 351l11 0-1-8-2-4-2-1-2 0-2 3zM1258 351l12 0-1-7-4-3-2 0-2 1-2 4zM1300 351l8 0 0-2-3-2-2 0-3 2zM942 329l3 2 2-3 0-3-2-2-2-1-2 2 0 2zM707 323l4-1 6-3 1-2 0-2-1-2-5-4-7-3-6 0-4 1-2 2 1 4 7 7zM902 319l3 1 4 1 3-2 1-2 0-2-2-2-4-3-4-1-5 0-1 2 0 2zM460 315l5 2 4-1 8-5 1-2 0-2-4-4-5-3-22-5-22-8-8-2-14 1-8-2-24-6-30-10-14-3-20-1-10-2-34-11-12-3-24-4-28-2-14 0-4 1-3 2 0 2 2 2 4 2 59 14 34 10 16 3 28 2 28 9 32 8 6 0 12-2 6 1 21 9 21 3zM660 311l3 1 4 0 4-3 0-2-1-2-3-2-18-3-14-7-10-4-10-2-16 1-22-4-10-4-18-7-12-4-12-2-32-3-44-15-12-2-18-2-10-1-55-17-9-1-24-2-46-14-40-7-18-3-14 0-12 1-4 2 0 2 3 2 5 2 22 6 46 10 38 12 10 2 24 1 54 15 36 3 14 4 22 8 10 2 28 2 14 2 10 3 20 7 8 3 32 3 14-1 4 1 24 12 6 1 14 0 4 0zM822 301l5 2 4-1 3-1 1-2-4-4-8-3-8-2-5 1 0 2 2 2zM744 285l9 1 3-1 2-2-2-2-6-4-17-6-16-3-6 0-3 1 0 2 4 2zM669 269l8-1 3-1-1-2-6-4-9-4-25-8-14-2-6 0-5 2 0 2 4 2 15 6 25 8zM846 261l7 1 3-1-1-2-4-2-10-4-10-2-6 0 1 2 3 2zM580 251l13 1 4-1 5-2-1-2-13-6-16-6-20-6-13-2-22-1-37-13-11-3-12-2-22-2-10-2-40-13-14-4-24-1-8-2-35-11-15-4-47-8-17-2-18 0-4 0-7 2 0 2 3 2 5 2 30 8 49 11 38 12 10 1 18 1 8 1 48 14 12 2 22 1 10 2 44 13 10 1 16 0 6 0 40 13zM763 245l12 1 2-1 0-2-10-6-16-6-14-2-4 0-3 2 5 4 9 4zM687 229l8 0 4-2-1-2-7-4-15-6-13-4-8-2-8-1-9 1-3 2 7 4 20 8 13 4zM864 221l7 1 4-1-6-4-11-4-9-2-2 0-2 1 0 1 2 2 5 2zM598 211l9 1 8 0 7-1 2-2-8-4-21-8-24-8-12-1-14 0-6 0-36-13-14-4-16-3-26-3-12-3-38-13-12-2-16 0-8-1-40-13-14-4-54-9-18-3-20 0-9 2-1 2 3 2 13 4 38 10 42 10 40 12 10 1 18 0 10 2 42 13 12 2 20 1 8 1 54 15 10 1 14-1 6 1 37 12zM781 205l12 2 4-1 1-1-1-2-7-4-16-6-17-3-4 0-4 1 1 2 8 4zM700 189l7 1 6 0 4-1 1-2-5-4-8-4-11-4-13-4-16-2-6 0-7 2 3 2 20 8zM880 181l9 2 2-1 2-1-6-4-11-4-7-1-4 1 2 2 3 2zM613 171l10 1 8 0 10-1 0-2-28-12-18-6-12-2-16 0-8-1-54-17-12-3-20-1-8-1-46-16-12-2-18 0-8-1-38-13-14-3-61-12-17-2-14-1-12 0-10 1-1 2 3 2 13 4 54 14 39 9 38 11 11 2 17 0 8 1 44 14 12 2 18 0 8 1 41 12 17 4 10 1 14-1 6 1 32 11zM811 167l4 0 2-2-2-2-8-4-16-6-12-3-8 1-1 2 3 2 7 4 18 6zM718 149l13 2 4 0 4-2-1-2-6-4-15-6-13-4-17-3-6 0-6 1 0 2 7 4 17 6zM905 143l6 1 3-1-1-2-3-2-11-4-8-1-3 1 6 4zM639 133l12 0 7-2-1-2-12-6-14-6-14-4-12-3-20 0-8-2-54-17-12-2-16 0-8-1-49-17-11-2-18 0-8-1-39-13-15-4-62-12-22-4-16-1-14 0-8 1-3 2 3 2 13 4 62 16 41 9 40 12 12 2 14-1 8 1 10 2 26 9 14 4 10 2 22 0 12 3 28 9 16 4 12 1 16 0 6 1 12 3 24 9zM823 127l10 0 1 0 1-2-2-2-8-4-16-6-10-1-4 0-3 1 1 2 7 4 9 4zM748 111l7 0 3-2-1-2-8-4-28-10-8-2-8-1-6 1-2 2 1 2 4 2 20 8 14 4zM926 103l6 0-2-2-9-4-8-2-6 0 2 2 4 2zM655 93l14 1 7-1 2-2-2-2-3-2-9-4-15-6-14-4-12-2-20-1-10-2-39-13-15-4-10-2-16 1-6-1-50-18-10-1-18 0-10-2-42-14-64-13 0-2-67 0 0 2 78 20 39 9 38 11 10 1 16 0 8 0 12 4 28 9 14 4 8 1 16-1 6 0 35 12 15 4 12 1 18 1 10 1zM840 87l11 2 5-2-1-2-7-4-16-6-13-2-4 0-2 2 2 2 8 4zM762 71l11 0 2-2-1-2-8-4-14-6-11-4-12-2-6 1-4 1 0 2 3 2 12 6 17 6zM942 63l7 0-2-2-8-4-8-2-5 0 1 2 3 2zM684 55l7 0 4-1 3-1 0-2-7-4-9-4-23-8-20-4-24-1-12-4-31-11-15-4-8-1-16 1-6-1-24-9 0-2-84 0 0 2 8 2 8 0 14-1 8 1 36 13 14 3 10 1 14-1 8 1 34 11 16 5 10 1 18 0 8 1 41 13zM868 49l6 0 2-2-2-2-8-4-18-6-13-2-4 2 6 4 10 4 12 4zM776 31l13 1 5-1 0-2-2-2-7-4-22-8-8-2-6 0-6 0-3 2 2 2 3 2 8 4zM958 23l9 2 2-1 1-1-7-4-5-2-7-1-4 1 2 2zM701 15l12 0 2 0 4-2-2-2-3-2-20-8 0-2-40 0 0 2 11 4 19 6zM887 9l5 0 2-2-3-2-8-4 0-2-24 0 0 2 5 2 12 4z"/>
<path fill="#8fc42f" d="M11 351l19 0-1-12-2-13-2-6-2-4-2-1-2 0-2 2-2 6-3 12zM52 351l19 0-1-14-2-10-2-8-3-3-2-1-2 1-2 3-2 6-2 12zM93 351l19 0-1-13-2-13-2-6-2-4-2-1-2 1-2 2-2 5-3 13zM134 351l19 0-2-28-4-8-2-1-2-1-2 1-2 2-2 5zM176 351l17 0 0-8 4-8 1-4-4-6-7-5-4 0-4 1-2 2-2 3-1 5 2 12zM215 351l20 0 0-2 2-6 0-4-3-6-5-4-4-2-6 0-4 1-4 3-1 4 4 10zM254 351l21 0 0-6-2-4-2-3-4-4-4 0-4 1-4 4-1 2-1 4zM294 351l20 0 0-2-2-4-3-5-4-2-2 0-4 2-2 2-2 4zM337 351l15 0-2-8 1-4 6-10 1-4 0-2-3-4-8-5-6-2-16-1-14-6-6-1-20 0-20-7-40-11-40-3-6 1-4 3 0 2 1 2 3 3 4 2 22 2 19 7 23 5 18 8 6 0 10-3 4-1 6 2 10 7 4 1 4 0 10-2 6 0 4 2 4 3 5 6 2 4 0 4-3 8zM377 351l15 0 1-8 3-8 1-4-1-2-2-4-3-2-4-2-4-1-4 1-4 3-2 3 0 4 4 12zM416 351l18 0 1-10-1-4-3-5-4-3-4-2-4 1-4 2-2 2 0 5 2 10zM455 351l19 0-1-9-4-7-4-2-4 1-2 2-3 3-1 3zM495 351l18 0 0-2-4-8-4-3-2 0-4 3-2 2-1 4zM537 351l15 0-2-12 4-12 0-4-3-4-4-2-6-2-8 1-3 1-1 2 8 12 3 6 0 4-3 8zM578 351l14 0 0-8 2-8 1-4-1-4-2-2-5-3-4-1-4 1-3 3 0 2 0 4 2 12zM616 351l17 0 0-12-2-5-4-3-6-2-4 2-2 2-1 4zM655 351l19 0-1-8-4-7-4-2-4 1-2 2-3 6zM696 351l16 0 0-2-3-6-4-3-2 0-4 2-2 3zM738 351l13 0 0-2-4-10 1-4 2-6 1-4-3-4-5-2-4 0-3 2 1 4 5 12 0 4-4 8zM778 351l13 0 0-8 2-8 0-4-2-4-2-2-4-2-4 0-2 2-2 2 0 4 3 12zM817 351l15 0 0-8 0-4-3-4-2-2-2-1-4 0-4 3-1 4zM856 351l17 0-1-6-3-6-2-2-4-1-4 3-2 4zM897 351l14 0 0-2-4-6-4-1-4 3-2 4zM939 351l11 0 0-2-3-4-2-1-2 0-4 5zM980 351l9 0-1-8 2-10-1-4-4-2-3 0-2 2 0 4 2 10zM1018 351l13 0-1-10-3-5-4-1-2 1-2 3zM1058 351l13 0 0-4-2-5-4-3-4 1-2 2-1 3zM1099 351l11 0 0-2-3-3-4-1-2 1-2 2zM1142 351l5 0 0-2-2-1-2 0-1 1zM1184 351l2 0-1-2-1 0zM1221 351l7 0-1-7-2-2-2 1-2 5zM1260 351l9 0 0-2-2-4-2-1-2 0-2 1zM1302 351l4 0 0-2-3 0-1 0zM505 323l4 0 6-2 7-4 0-2-7-6-8-4-7 0-6 2-1 2 1 4 5 6zM705 321l4 0 5-2 2-2 0-2-1-2-6-4-4-2-4 0-4 1-1 3 0 2 5 6zM904 317l4 0 1-2-2-2-4-1-1 1 0 2zM462 315l5 1 5-3 4-4 0-2-1-2-8-4-20-5-22-9-8-1-14 1-6-1-56-17-12-3-22-2-10-2-35-11-19-4-26-3-20-1-10 1-3 1-1 2 2 2 11 4 47 11 36 11 14 2 20 2 8 1 28 9 32 7 6 0 12-2 4 0 6 2 16 8 6 1 12 1 6 2zM659 307l4 2 2-1 1-1-2-2-3-1-3 1zM626 303l9 1 5-1 3-2-1-2-6-4-9-4-6-2-6 0-4 0-3 2 1 2 5 4zM824 299l4 0 0-2-5-2-4 0 1 2zM548 287l11 1 15-1-2-2-15-8-17-6-13-2-24-2-8-1-29-11-17-5-12-2-18-1-8-2-52-16-12-3-18 0-8-2-36-11-14-4-39-6-19-2-14 1-5 1-1 2 2 2 11 4 59 15 36 11 10 1 18 0 8 2 38 11 16 4 32 2 12 3 26 9 9 2 9 1 20 0 12 2 14 4zM745 283l4 0 2-2-6-4-12-4-8-1-4 1 11 6zM656 265l11 2 4-1 2-1-1-2-7-4-23-8-13-2-4 0-2 2 1 2 8 4zM576 249l7 1 6 0 4-1 1-2-5-4-9-4-27-9-8-1-8-1-9 1-3 2 8 4 16 6zM755 241l10 2 3-2-6-4-11-4-6-1-4 1 1 2 3 2zM499 233l12-1 5-1 1-2-28-12-19-6-13-3-28-2-14-4-38-13-10-2-18 0-8-2-38-12-16-4-48-8-12-1-16 0-5 1-2 2 1 2 5 2 12 4 61 15 36 11 12 2 18 0 8 1 43 13 13 2 22 1 10 2 38 12zM673 225l12 2 4-1 2-1-2-2-7-4-15-6-12-3-9 1-1 2 6 4 9 4zM593 209l12 1 9-1-1-2-7-4-20-8-12-4-13-2-6 0-6 2 1 2 12 6 16 6zM783 203l4 0 0-2-8-4-6-2-8-1-2 0-1 1 7 4zM514 193l13 1 5-1 4-2-1-2-13-6-29-10-17-4-21-1-8-1-48-17-12-2-18 0-8-2-34-11-16-4-68-12-20-1-5 1-4 2 2 2 4 2 12 4 29 8 42 10 36 11 12 2 18-1 8 1 44 14 12 2 18 0 10 2zM698 187l9 1 3-1 0-2-2-2-7-4-18-6-12-1-6 1 2 2 8 4 10 4zM609 169l14 2 4 0 4-2-1-2-6-4-14-6-13-4-8-2-8-1-7 1-3 2 2 2 13 6zM792 161l9 2 2 0 1-2-3-2-10-4-8-1-3 1 2 2zM531 153l16 1 9-1 1-2-3-2-14-6-31-10-16-4-18 0-8-1-48-17-12-2-18 0-6-1-39-13-15-4-72-13-21-1-11 2 0 2 4 2 13 4 36 10 47 11 34 10 12 2 18 0 6 1 12 3 27 9 13 3 10 1 14 0 8 0 37 12zM716 147l9 1 4 0 2-1-1-2-7-4-17-6-13-3-6 0-3 1 1 2 7 4zM634 131l11 1 4-1 1-2-4-4-8-4-21-7-14-3-13 2 1 2 14 6 15 6zM815 123l6 1 4-1-2-2-8-4-8-2-4 0 0 2 2 2zM548 113l17 2 12-2 0-2-9-4-41-14-14-3-18 0-6-1-50-17-12-2-18 0-8-2-36-12-16-4-66-13-14-2-26-1-7 1-1 2 10 4 35 10 22 6 41 9 36 11 12 2 18 0 8 1 34 11 16 4 10 1 16-1 6 1 34 11zM734 107l9 1 6-1-2-2-3-2-20-8-13-3-5 1-1 1 0 1 2 2 8 4zM652 91l11 2 4-1 4-1 0-2-6-4-14-6-12-4-10-2-10-1-9 1-1 2 24 10zM835 83l8 2 2-1 0-1-7-4-8-2-4 0 0 2zM577 75l10 0 9-2-2-2-10-4-26-10-13-4-12-2-18 1-6-1-36-14-14-4-12-3-18 0-6 0-46-15-66-14 0-2-57 0 0 2 6 2 58 16 47 11 34 10 12 2 16-1 8 1 10 2 30 11 14 3 8 1 14-2 6 0 40 14 10 3zM750 67l11 2 4 0 2-2-2-2-7-4-16-6-9-1-4 0-3 1 1 2 7 4zM680 53l8 0 3-2-1-2-3-2-8-4-11-4-14-4-11-2-6 0-5 0-4 2 7 4 16 6 19 6zM855 43l4 1 3-1-4-2-7-2-3 0 2 2zM591 35l14 0 7-2-2-2-9-4-31-12-9-2-8-1-18 1-4 0-30-12 0-2-80 0 0 2 6 1 20-1 8 1 38 13 16 4 8 0 14-2 6 1 37 13zM774 29l7 1 6-1 0-2-6-4-15-6-8-2-5 0-3 0-2 2 2 2 7 4zM697 13l10 0 2 0 2-2-6-4-14-6 0-2-33 0 0 2 11 4 19 6zM874 3l3 0-2-1-1-3-7 0 0 2z"/>
<path fill="#9ac930" d="M11 351l19 0-1-12-2-11-2-6-2-3-2-1-2 0-2 2-2 5-3 10zM52 351l19 0-1-12-2-10-3-8-2-3-2 0-2 1-3 6-3 12zM93 351l19 0-1-11-2-12-2-6-2-4-2-1-2 1-2 2-2 5-3 12zM134 351l19 0-3-26-3-8-2-1-2-1-2 1-2 2-2 5zM176 351l16 0 1-7 4-9 1-4-4-6-7-4-4-1-3 1-3 3-2 3 0 4 1 12zM216 351l18 0 0-2 3-6 0-4-3-6-5-4-4-2-6 0-4 1-4 3-1 2 0 2 5 12zM254 351l21 0 0-6-2-4-2-3-4-3-4-1-4 2-5 5-1 4zM295 351l18 0 0-2-1-4-3-4-4-3-2 0-4 2-2 2-2 5zM337 351l15 0-2-8 0-4 7-10 1-4-2-4-2-2-7-4-6-2-16-2-14-6-6-1-20 1-21-8-39-11-38-2-5 1-4 2-1 2 1 2 2 2 4 2 15 1 6 1 20 8 22 5 18 7 6 0 10-3 4-1 6 2 10 7 4 2 4 0 12-3 6 1 8 7 5 8 0 4-3 8zM377 351l15 0 0-8 3-8 1-4-1-3-2-3-6-4-4 0-4 1-4 3-1 2 0 4 4 12zM416 351l18 0 1-10-1-4-3-5-4-3-4-1-4 0-4 3-2 2 0 4 3 10zM455 351l19 0-1-8-4-7-4-2-2 0-4 2-2 3-2 4zM495 351l18 0 0-2-4-7-2-2-4-1-4 2-2 3zM537 351l14 0-2-12 4-10 0-4-1-4-2-2-7-3-8 1-3 2 0 2 6 10 3 6 0 4-4 8zM578 351l13 0 0-8 3-8 0-4-1-3-2-3-4-2-6 0-3 2-1 2-1 4 3 12zM617 351l16 0 0-8 0-4-2-4-4-4-4-1-4 1-3 2-1 2 0 4zM656 351l17 0-1-8-3-6-2-1-4-1-4 3-3 5zM696 351l16 0 0-2-2-4-3-3-4-1-2 1-3 3zM738 351l12 0-1-5-4-6-4 4-3 5zM779 351l11 0 0-8 2-8 0-4-3-4-4-2-4 0-2 2-1 2 2 12zM818 351l14 0 0-10-2-4-3-3-4-1-2 0-2 2-2 2 0 4zM857 351l15 0 0-6-3-5-4-3-4 1-3 5zM898 351l13 0 0-2-4-5-4-1-4 3-1 3zM940 351l9 0 0-2-4-4-2 1-3 3zM981 351l7 0 0-2-3-6-4 6zM1019 351l11 0-1-9-2-3-2-1-2-1-2 2-1 2zM1058 351l13 0-2-7-2-2-2-1-2 0-2 1-2 4zM1100 351l9 0 0-2-4-3-2 0-3 3zM1223 351l3 0 0-2-1-1-2 1zM1261 351l6 0 0-2-2-2-2 0-2 2zM985 341l0 1 3-7-1-4-2-1-2 0-1 3 1 4zM743 333l2 2 2-2 2-4 0-4-1-2-3-2-4 0-2 1 0 3zM503 321l4 1 6-1 6-4 0-2-3-4-7-4-6-1-6 1-2 2 0 2 0 2 3 4zM704 319l3 1 4-1 2-2 0-2-1-2-3-3-4-1-4 0-2 2 0 2 3 4zM460 313l5 1 4 0 4-3 1-2 0-2-4-4-4-2-19-4-22-9-8-1-14 2-4-1-58-19-12-2-28-3-12-4-28-9-16-4-20-2-20-1-12 0-2 1-3 2 2 2 10 4 43 11 36 11 14 2 26 2 30 9 32 7 6 0 12-3 4 0 21 11 7 2 16 1zM624 301l5 1 4 0 5-1 0-2-4-4-7-3-6-1-6 0-1 2 1 2zM544 285l13 2 4-1 3-1 0-2-6-4-15-6-8-2-8-1-6 0-6 1 2 2zM464 269l15 2 11-2-1-2-11-6-14-6-13-4-12-2-20-1-8-1-53-18-11-2-24-2-38-12-14-4-16-2-36-5-14 1-3 0-3 2 2 2 3 2 12 4 45 11 38 12 12 2 16 0 8 0 42 13 12 3 10 1 16-1 8 1zM655 263l6 1 4-1-2-2-3-2-11-4-12-3-4 0-2 1 2 2 4 2zM572 247l11 1 5-1 0-2-7-4-22-8-14-3-6 0-4 1 0 2 7 4 16 6zM491 231l12 1 4-1 2-2-1-2-7-4-14-6-12-4-16-3-22-2-6-1-52-17-12-2-18-1-8-1-32-11-16-4-20-4-42-6-14 0-6 2 0 2 4 2 11 4 59 15 34 11 12 1 18 0 8 1 36 12 14 3 10 1 18 0 8 1 33 11zM671 223l8 1 3-1-1-2-3-2-10-4-11-2-2 0-1 2 6 4zM590 207l11 1 5-1-1-2-7-4-21-8-14-2-4 0-3 2 2 2 7 4 10 4zM508 191l9 1 6 1 6-2 0-2-5-4-9-4-24-8-16-3-18 0-8-2-49-17-13-2-16-1-8-1-37-12-15-4-66-11-10 0-8 0-4 1-1 2 8 4 12 4 22 6 39 9 36 11 12 2 18 0 8 1 34 11 16 4 10 0 14 0 8 1zM699 185l2 0 2-2-7-4-13-4-7 0 1 2 7 4zM617 169l4 0 4-2-2-2-7-4-15-6-12-3-6 0-4 1 0 2 2 2 8 4 17 6zM538 153l7 0 5-2-1-2-7-4-27-10-20-4-20 0-6-1-33-13-19-6-10-2-16 1-8-1-48-16-63-12-15-2-12-1-8 1-3 2 2 2 4 2 19 6 21 6 45 11 34 10 12 2 16-1 8 1 40 13 12 3 10 0 16-1 4 0 42 14zM709 143l10 2 1-2-3-2-11-4-9-1-2 1 3 2zM631 129l10 1 3-1 0-2-2-2-7-4-17-6-11-2-4 1-3 1 1 2 7 4 10 4zM555 113l10 0 4-2-2-2-4-2-9-4-29-10-10-2-6 0-13 2 1 2 26 10 20 6zM726 103l9 1 2-1-7-4-6-2-7-1-2 0-1 1 2 2zM460 95l9 2 8 0 11-2 4-2-33-14-18-6-14-3-16 0-8 0-37-13-15-4-74-14-20-2-6 1-6 1 1 2 5 2 24 8 29 8 39 9 32 10 14 2 18 0 8 0zM649 89l12 2 4-2-1-2-6-4-16-6-13-2-9 0 0 2 7 4zM570 73l11 0 3 0 2-2-6-4-9-4-15-6-13-4-14-1-7 1-2 2 6 4 21 8 13 4zM750 65l5 1 3-1-2-2-7-4-8-2-6 0 0 2 4 2zM486 57l7 1 8-1 7-2 0-2-7-4-19-8-23-8-12-2-16 0-8 0-46-16-69-14 0-2-48 0 0 2 6 2 33 10 29 8 33 7 36 11 14 2 16-1 6 0 8 2 30 11zM677 51l6 0 2-2-2-2-8-4-18-6-14-2-2 0-2 2 6 4 10 4 13 4zM585 33l8 1 6 0 4-1 1-2-6-4-9-4-22-8-14-2-6 0-5 2 1 2 12 6 15 6zM767 25l10 2 2-2-7-4-6-2-7-1-2 1 2 2zM502 17l9 1 6 0 6-1 4-2-1-2-4-2-22-10 0-2-47 0 0 2 10 3 26 9zM696 11l6 0 1-2-6-4-10-4 0-2-24 0 0 2 10 4 13 4zM423 1l8 1 10-1 0-2-18 0z"/>
<path fill="#b0d130" d="M11 351l18 0-2-20-2-6-2-4-2-1-2 0-2 2-2 4-2 11zM52 351l19 0-1-10-2-10-3-8-2-3-2 0-2 1-3 6-2 10zM93 351l19 0-3-20-2-7-2-3-2-1-2 0-2 2-2 5-3 12zM135 351l18 0-3-24-2-6-3-3-2-1-2 1-3 5zM176 351l16 0 0-6 4-10 1-4-1-2-3-4-6-4-6 0-3 2-2 4-1 4 1 12zM216 351l18 0 0-2 2-6 1-4-4-6-4-4-4-1-6-1-4 2-3 2-1 4 4 11zM254 351l21 0-1-6-1-4-2-3-4-3-4 0-4 1-5 5 0 4zM295 351l18 0 0-2-4-8-2-1-4-2-4 3-2 2-2 4zM337 351l14 0-1-8 0-4 6-10 1-4-1-2-3-4-6-4-8-2-14-1-12-5-8-2-6-1-10 2-4 0-20-8-40-11-38-1-6 1-1 2 1 2 4 3 18 2 20 8 24 5 18 8 6 0 14-4 4 0 12 8 4 2 4 0 12-2 6 1 8 7 6 8 0 4-4 8zM378 351l14 0 0-8 3-8 0-4-2-5-6-4-4-1-4 2-3 2-1 2 0 4 3 12zM416 351l17 0 1-12-3-6-4-3-4-2-4 1-4 2-1 2 0 4zM455 351l19 0-1-8-4-6-4-3-2 1-4 2-3 6zM496 351l16 0 0-2-3-7-2-2-4-1-2 1-3 3-2 4zM538 351l13 0-3-12 4-10 0-4-1-3-2-2-6-3-6 0-3 2 0 2 8 16-1 4-3 8zM578 351l13 0 0-8 2-8 0-4-2-4-4-3-4-1-2 1-3 3-1 4 2 12zM617 351l16 0 0-8-1-4-2-4-3-3-2-1-4 0-4 2-1 2 0 4zM656 351l17 0-1-8-3-5-2-1-4-1-4 3-2 4zM697 351l15 0 0-2-3-5-2-1-4-1-2 0-3 3-1 3zM739 351l11 0 0-2-3-5-2-1-2 0-2 2-2 4zM780 351l10 0-1-8 2-8-1-4-1-2-4-3-3 1-2 2 0 4 1 10zM818 351l13 0 0-10-2-4-2-2-4-1-3 1-1 2-1 4zM857 351l15 0-1-5-2-5-4-2-4 1-2 3zM898 351l12 0 0-2-3-4-4-1-4 3zM941 351l7 0 0-2-3-2-2 0-2 2zM982 351l5 0 0-2-2-2-2 1zM1020 351l9 0-1-8-3-3-2 0-2 3zM1059 351l11 0-1-4-2-3-2-1-2 0-2 2zM1101 351l6 0 0-2-2-1-2 0-2 1zM744 329l1 0 1-2 0-2-3-1-1 1 0 2zM506 321l5-1 4-2 2-1 0-2-1-2-5-4-4-2-4 0-4 1-2 1-1 2 1 2 4 5zM706 317l3 0 1-2-1-2-4-2-2 1-1 1 1 2zM463 313l4 0 2-1 3-3 0-2-2-2-5-3-18-4-15-7-7-2-10-1-5 1-3 2 1 2 3 2 12 7 8 2 16 1zM624 299l5 1 2 0 3-1-1-2-4-2-5-2-4 0-1 2zM374 293l7 1 6 0 4-1 4-2-1-2-7-4-42-14-16-4-20-1-10-2-32-11-16-4-16-2-22-2-13 0-6 2 1 2 9 4 41 11 28 9 16 3 30 2 28 9zM549 285l8 0 2-2-4-4-12-5-10-2-8 1 1 2 7 4 9 4zM469 269l10 0 2 0 3-2-2-2-6-4-21-8-8-2-10-1-20 1-30-12-24-8-16-4-16 0-8-1-38-13-12-3-18-3-32-3-10-1-7 2 0 2 3 2 10 4 44 11 34 11 12 2 18 0 8 1 37 11 17 4 14 1 16-3 35 14zM570 245l7 1 5-1-2-2-3-2-15-6-13-3-7 1 1 2 8 4zM486 229l13 1 5-1 0-2-6-4-8-4-19-6-9-2-9-1-11 1-2 2 33 12zM405 213l10 1 8 0 8-1 5-2-3-1-34-13-18-6-14-3-22 0-12-4-26-9-16-5-56-8-14 0-3 1-1 2 7 4 11 4 50 13 32 10 14 2 16-1 8 1 34 11zM587 205l8 1 4-1-2-2-3-2-15-6-12-2-3 0-1 2 2 2 9 4zM514 191l7 0 4-2-2-2-3-2-8-4-10-4-15-4-16-2-6 0-4 2 8 4 22 8 13 4zM421 173l8 1 8 0 10-1 2-2-22-10-24-9-14-3-18 0-8-1-38-13-15-4-63-10-13 0-5 2 1 2 4 2 11 4 21 6 37 9 32 10 16 3 16-1 8 0 32 11zM603 165l10 2 4-1 1-1-5-4-10-4-10-3-4 0-4 1 1 2 3 2zM532 151l9 0 1 0 2-2-2-2-8-4-23-8-16-3-6 0-6 1 1 2 13 6 18 6zM448 135l7 0 6-1 4-1 0-2-16-8-26-10-14-3-18 1-6-1-37-13-15-4-66-12-16-1-9 1 0 2 3 2 17 6 20 6 39 9 35 11 15 2 16-1 6 0 8 3 30 10zM629 127l6 1 3-1 0-2-3-2-14-6-10-1-4 1 2 2 8 4zM549 111l10 0 2 0 1-2-3-2-8-4-24-9-14-2-6 1-2 2 6 4 9 4 19 6zM463 95l12 1 6-1 3-2-1-2-3-2-13-6-15-6-15-5-10-1-16 1-6-1-50-17-68-13-24-2-6 0-3 2 2 2 5 2 24 8 21 6 37 9 32 9 14 3 20-2 6 1 33 12zM647 87l8 1 4-1-2-2-3-2-11-4-10-2-2 0-2 1 3 3 4 2zM564 71l7 1 6 0 2-1 0-2-10-6-23-8-13-2-7 2 1 2 3 2 9 4 10 4zM480 55l9 2 6 0 6-2 2-2-5-4-13-6-15-6-13-4-10-1-16 1-6-1-36-13-14-4-70-14 0-2-38 0 0 2 9 4 46 14 39 9 40 11 10 1 16-1 8 1 31 11zM667 47l6 1 4-1-3-2-9-4-10-2-6 0 2 2 4 2zM580 31l11 2 4-1 3-1-1-2-6-4-20-8-8-2-8-1-6 1-1 2 2 2 7 4 10 4zM506 17l11 0 5-2 0-2-6-4-18-8 0-2-40 0 0 2 21 8 18 6zM685 7l6 1 2-1-2-2-10-4 0-2-12 0 0 2 4 2zM429 1l4 0 0-2-4 0z"/>
<path fill="#c9da30" d="M11 351l18 0-1-10-2-10-2-6-3-3-2 1-2 2-2 4-2 10zM53 351l17 0-2-18-3-8-2-2-2 0-2 1-3 5-2 10zM94 351l17 0 0-10-3-10-2-6-3-3-2 1-2 2-2 5-2 9zM135 351l17 0-3-24-2-5-2-2-2 0-2 1-2 3zM176 351l16 0 0-6 4-10 0-4-3-5-6-4-4-1-2 1-2 1-3 4 0 4 1 12zM216 351l18 0 0-2 2-6 0-4-1-4-6-5-4-2-4-1-4 1-5 3-1 4 5 12zM254 351l20 0 0-4-1-5-2-3-4-3-2-1-4 1-4 2-2 3-1 4zM295 351l18 0 0-2-4-7-2-2-4-1-4 2-2 2-2 4zM337 351l14 0-2-10 0-2 6-10 1-4 0-2-4-4-7-4-6-1-14-1-13-6-7-2-6 0-12 3-2 0-9-5-9-4-42-12-8 0-16 1-12-1-5 2 1 2 4 2 12 1 20 9 24 5 20 8 6 0 12-5 4 0 14 10 4 1 4 0 12-2 4 0 4 2 4 4 5 5 3 6 1 4-5 8zM378 351l13 0 1-8 2-8 1-4-2-4-2-2-4-2-6 0-4 2-1 2-1 4 3 12zM417 351l16 0 1-12-3-5-4-4-6-1-4 2-2 2-1 4zM455 351l18 0-1-8-3-6-4-2-4 1-2 2-3 5zM496 351l16 0 0-2-3-6-2-2-4-1-4 3-2 2zM538 351l13 0 0-2-5-10 5-10 0-4-2-4-6-3-6 1-1 2 1 4 6 10 1 4-6 10zM579 351l12 0-1-8 2-8 0-4-2-4-3-2-4 0-2 0-3 4 2 14zM617 351l15 0 0-8 0-4-3-4-2-2-2-1-4 0-2 1-2 2-1 4zM657 351l15 0 0-6-3-5-4-3-4 1-3 5zM697 351l14 0 0-2-4-5-4-1-4 2-2 4zM739 351l10 0 0-2-2-3-2-1-2 0-2 2-2 2zM780 351l9 0-2-8 2-10-2-3-2-1-2 1-1 1 1 10-3 8zM819 351l12 0-1-10-3-4-2-1-4 1-2 2zM858 351l13 0 0-4-2-4-2-2-2-1-2 0-2 1-2 4zM899 351l10 0 0-2-2-2-4-1-2 1-2 2zM943 351l3 0 0-2-3 0zM1022 351l6 0-1-4-2-3-2 1zM1061 351l7 0 0-2-1-3-2-1-2 0-2 3zM505 319l2 1 4-1 3-2 0-2-1-3-4-2-4-2-4 1-2 2 0 2 3 4zM462 311l5 0 2-2 0-2-2-2-3-2-17-3-13-7-9-3-8-1-5 2 0 2 2 2 9 6 8 2 14 0 4 1zM369 291l14 2 6-2 1-2-7-4-38-14-14-3-28-2-12-4-25-9-11-3-20-3-18-1-12 1-2 0-2 2 3 2 10 4 31 9 29 9 15 2 22 1 8 1 30 10zM542 281l7 2 2 0 2-2-2-2-4-2-8-2-4 0 0 2zM464 267l11 0 2 0 1-2-2-2-8-4-17-6-12-2-4 1-3 1 1 2 8 4 16 6zM383 251l8 1 8 0 6-1 1-2-7-4-9-4-29-10-14-3-16 0-6-1-36-12-16-4-14-3-30-3-13 0-4 2 2 2 9 4 42 12 30 9 14 2 18 0 6 0 34 11zM483 227l10 2 5-2-1-2-6-4-16-6-12-2-10 0 0 2 3 2 14 6zM399 211l14 2 6-1 5-1-1-2-7-4-19-8-19-6-11-2-16 1-6-1-39-14-23-6-44-5-8 0-6 1 0 2 3 2 11 4 48 13 28 9 14 2 18-1 6 1 31 10zM577 199l4 1 1-1-5-1zM511 189l5 0 2-2-2-2-7-4-19-6-13-2-4 1-1 1 6 4 11 4 12 4zM426 173l11 0 4-2-1-2-6-4-14-6-17-6-14-3-18 1-6-1-35-13-17-5-59-9-13 0-2 0-2 2 7 4 11 4 50 13 30 9 16 3 16-2 6 1 35 12zM599 161l6 1 1-1-5-2-5 0zM530 149l4 0 2-2-2-2-8-4-19-6-10-1-6 1 2 2 3 2 10 4 13 4zM441 133l12 1 5-1 2-2-2-2-3-2-8-4-14-6-14-4-12-2-16 1-4 0-34-13-22-6-60-10-14-1-7 1 1 2 4 2 16 6 52 13 30 10 10 2 8 1 20-3 6 2 29 11zM547 109l5 0 1-2-6-4-16-6-10-2-8 0-1 2 3 2 9 4 12 4zM458 93l9 2 6 0 5-2 0-2-5-4-8-4-21-8-9-2-8-1-18 2-39-15-19-5-70-13-14 0-2 0-1 2 6 4 24 8 47 12 34 10 16 2 20-3 28 11zM562 69l9 0 1 0-1-2-6-4-16-6-12-2-4 2 2 2 7 4 11 4zM484 55l9 0 2 0 3-2-1-2-2-2-8-4-14-6-12-4-14-2-6 0-8 2 1 2 18 8 17 6zM402 39l7 1 8-1 7-2 2-2-28-12-25-8-74-14 0-2-22 0 1 4 4 2 22 8 21 6 38 9 28 9zM578 29l9 1 4-1-1-2-3-2-14-6-12-3-7 1 0 2 7 4zM500 15l7 1 6 0 3-1 1-2-4-4-17-8 0-2-35 0 0 2 10 4 15 6z"/>
<path fill="#e1e32d" d="M12 351l17 0-1-10-2-8-2-6-3-3-2 1-2 2-2 4-2 7zM53 351l17 0-1-10-2-8-2-6-2-2-2 0-2 1-2 3-3 10zM94 351l17 0 0-8-3-10-3-7-2-1-2 0-2 2-2 5-2 8zM135 351l17 0-3-22-2-5-2-2-2 0-2 1-2 5-3 15zM177 351l15 0 0-6 3-10 1-4-3-5-6-4-4 0-2 1-2 1-2 3-1 4 1 12zM216 351l18 0 2-8 0-4-2-4-5-5-4-2-6 0-4 2-3 3 0 4 4 10zM255 351l19 0-1-8-2-4-4-3-2 0-4 0-4 3-2 2-1 4zM295 351l18 0 0-2-4-7-2-1-4-2-4 3-2 2-1 3zM338 351l13 0 0-2-3-8 0-2 7-10 0-4-2-4-1-2-5-3-6-2-16 0-10-5-8-3-8 0-4 1-4 2-1 2 2 2 11 8 6 1 14-3 4 1 4 3 9 10 3 6-1 2-4 8zM378 351l13 0 0-8 2-8 1-4-2-4-5-4-6 0-3 2-1 2-1 4 3 12zM417 351l16 0 1-8-1-4-2-5-4-3-6-1-3 1-2 2-1 4zM456 351l17 0-1-8-3-5-4-2-4 1-2 2-3 4zM496 351l16 0 0-2-2-4-3-3-4-1-2 1-3 3zM538 351l12 0 0-2-3-6-2-1-2 1-2 2-3 4zM579 351l11 0-1-8 2-8 0-4-2-3-4-2-4 1-1 2 0 4 1 10zM618 351l14 0 0-8-1-4-2-3-4-3-4 0-2 1-2 3zM657 351l15 0-1-6-2-4-4-3-4 1-3 4zM698 351l13 0 0-2-4-5-4 0-4 2-1 3zM740 351l8 0 0-2-3-3-2 0-3 3zM781 351l7 0 0-2-3-3-2 1-2 2zM820 351l10 0-1-8-2-4-2-1-2 0-2 1-1 2zM859 351l11 0-1-6-2-2-2-1-2 0-3 3zM900 351l8 0 0-2-3-2-2 0-3 2zM1063 351l3 0 0-2-1-1-2 0zM543 333l2 1 2-1 2-4 1-4-3-4-6-1-3 1 0 2 1 4zM505 317l5 0 1-2 0-2-4-2-4 0-1 2 1 2zM262 315l5 1 6-1 8-4 1-2-4-4-12-6-37-11-14-1-11 2-4 2 21 11 8 3 16 3zM459 307l4 1 2-1-2-2-2 0-4 0zM427 301l4 1 6 0 3-1 1-2-5-4-11-4-7 0-2 2 0 2 3 2zM375 291l8 0 2-2-2-2-3-2-25-10-13-4-11-2-20-1-8-2-39-13-17-4-26-2-8 0-5 2 1 2 8 4 56 17 16 3 28 1 34 11zM462 265l5 1 5-1-1-2-2-2-15-6-11-2-4 2 6 4zM388 251l8 0 4-2-1-2-3-2-8-4-16-6-13-4-12-2-16 1-6-1-38-14-14-4-10-2-34-3-9 1-1 2 3 2 11 4 62 18 8 2 8 1 20-1 38 12zM481 225l8 1 3-1-2-2-3-2-10-4-9-2-6 0 0 2 3 2zM404 211l11 0 3-2-2-2-7-4-26-10-8-2-8-1-18 1-38-14-16-5-18-3-32-3-8-1-5 2 1 2 10 4 72 21 16 3 20-3 36 13zM500 185l7 1 3-1-2-2-9-4-10-2-4-1-3 1 6 4zM419 171l12 1 4-1 1-2-5-4-8-4-23-8-13-2-12 2 0 2 13 6 16 6zM346 157l11 0 7-2 3-2-8-4-20-8-24-8-14-3-39-5-11-1-6 1 0 2 3 2 11 4 46 13 30 9zM519 145l8 0-2-2-10-4-8-2-6 0 1 2 4 2zM436 131l11 2 4 0 4-2 0-2-6-4-13-6-13-4-8-2-8-1-8 1-2 2 2 2 13 6zM361 117l8 1 9-1 5-2 0-2-7-4-19-8-12-4-14-4-58-9-10-1-5 2 2 2 4 2 17 6 42 11 28 9zM536 105l5 1 3-1-2-2-10-4-9-2-2 2 8 4zM462 93l9 0 3-2-1-2-2-2-8-4-21-8-9-2-6 0-4 0-4 2 0 2 12 6 16 6zM378 77l13 1 7-1 4-2-1-2-3-2-9-4-20-8-14-4-68-12-14 0-1 2 7 4 18 6 44 11zM553 65l8 1 2-1-7-4-6-2-7-1-2 1 2 2zM478 53l11 1 4-1 1-2-5-4-8-4-10-4-12-4-12-1-6 1-1 2 5 4 9 4zM395 37l8 2 8 0 7-2 2-2-1-2-4-2-13-6-16-6-13-4-67-12-13-1-7 1 1 2 4 2 22 8 50 12zM578 27l4 0 0-2-8-4-8-2-4 0 0 2 4 2zM495 13l12 2 4-1 2-1-1-2-2-2-16-8 0-2-30 0 0 2 4 2 15 6z"/>
<path fill="#f6dc24" d="M12 351l17 0-3-16-3-7-2-1-2 0-2 2-2 4-2 8zM53 351l17 0-1-9-2-8-2-5-2-2-2 0-2 1-2 3-3 8zM94 351l17 0-1-8-2-8-3-7-2-1-2 0-2 3-2 4-2 8zM135 351l17 0-3-18-2-6-2-2-2 0-2 2-2 4-3 12zM177 351l15 0 0-6 3-10 0-4-2-4-6-4-4 0-2 1-2 1-2 4zM216 351l18 0 1-8 1-4-2-4-5-4-4-2-6-1-4 2-3 3 0 4 4 10zM255 351l19 0-1-8-3-4-3-2-2-1-4 1-4 2-2 3zM296 351l16 0 0-2-3-6-4-3-2 0-4 2-2 3zM338 351l13 0 0-2-5-10 6-8 2-4 0-2-2-4-5-4-6-2-7 0-6 2 0 2 9 10 8 10-1 2-6 8zM379 351l12 0-1-8 3-8 0-4-2-4-4-2-4-1-2 1-3 2-1 2 0 4 2 10zM417 351l15 0 1-8 0-4-2-4-4-3-6-1-4 2-1 2-1 4zM456 351l17 0-1-6-3-6-4-2-2 0-3 2-3 4zM497 351l14 0 0-2-2-4-2-2-4-1-2 1-2 2-2 3zM539 351l11 0 0-2-3-4-2-1-2 0-2 2-2 3zM580 351l9 0-1-8 1-10-2-4-2-1-2 1-2 2 1 10zM618 351l13 0 0-10-2-4-4-3-4 1-2 2-1 4zM658 351l13 0 0-4-2-5-4-2-4 1-3 4zM698 351l12 0 0-2-3-3-4-1-2 0-2 3zM741 351l6 0 0-2-2-2-2 1-2 1zM783 351l3 0 0-2-1-1-2 1zM821 351l8 0-2-8-2-2-2 0-1 2zM860 351l9 0 0-2-2-4-2-1-2 0-3 3zM902 351l5 0 0-2-4-1-1 1zM543 329l2 1 2-1 0-2 0-2-1-2-3-1-2 1 0 2zM301 319l6 2 4-1 10-3 1-2-5-4-6-3-6-1-6 0-5 2-1 2 3 4zM264 315l5 0 7-2 3-2 1-2-1-2-5-4-10-4-35-10-12-1-6 1-4 2 0 2 2 2 12 7 26 6zM426 299l5 1 4-1-1-2-3-2-6-2-3 0-1 1-1 1 2 2zM356 287l17 2 2 0 2-2-2-2-13-6-16-6-15-3-18 0-4 0-40-15-14-4-14-2-14-1-10 1-2 2 2 2 10 4 44 14 18 3 26-1 26 10zM457 261l5 0-5-2-4-1-1 1zM382 249l11 0 1-2-2-2-7-4-24-8-8-2-8-1-6 1-2 2 7 4 15 6zM308 235l11-1 3-1 2-2-7-4-14-6-26-9-12-2-12-1-16-1-9 1 1 2 3 2 12 4 45 14 10 3zM398 209l11 0 2 0 1-2-3-2-7-4-10-4-12-4-11-2-4 1-5 1 0 2 12 6 11 4zM321 195l8 1 8-1 4-2 0-2-7-4-14-6-25-8-14-3-28-2-8-1-4 2 2 2 10 4 54 16zM414 169l11 1 6-1-1-2-6-4-20-8-8-2-7-1-5 1-2 2 1 2 8 4 10 4zM338 155l13 1 7-1 2-2-1-2-3-2-8-4-15-6-16-5-16-3-33-4-14 0 1 2 8 4zM442 131l5 0 3-2-1-2-7-4-15-6-14-3-6 0-4 1 1 2 3 2 8 4 17 6zM355 115l10 2 6 0 6-2 1-2-5-4-8-4-15-6-15-4-16-3-38-6-10 0-4 1 2 2 4 2 12 4 40 11zM457 91l10 0 2 0 0-2-2-2-7-4-15-6-8-2-6-1-5 1-2 2 6 4 8 4zM382 77l11 0 4-2 0-2-6-4-13-6-25-8-62-10-8 0-2 2 8 4 12 4 42 11 29 9zM474 51l9 1 6-1-1-2-6-4-13-6-8-2-8-2-4 1-4 1 1 2 7 4 9 4zM398 37l11 1 4-1 3-2-1-2-3-2-7-4-15-6-13-4-66-12-10-1-6 1 2 2 3 2 17 6 44 11zM492 11l11 2 4-1 1-1-1-2-3-2-13-6 0-2-23 0 0 2 4 2 8 4z"/>
<path fill="#fab41a" d="M12 351l17 0-1-8-3-8-2-5-2-1-2 0-2 2-2 4-2 8zM53 351l17 0-1-7-2-8-2-4-2-2-2-1-2 1-2 3-2 8zM94 351l17 0-3-14-3-6-2-2-2 1-2 2-2 4-2 8zM135 351l17 0-3-15-2-5-2-3-2 0-2 2-2 4-2 9zM177 351l14 0 0-6 3-10 0-4-2-4-5-3-4 0-2 1-3 4-1 4 1 10zM217 351l16 0 2-8 0-4-2-4-4-4-4-2-4 0-4 1-4 3 0 4 3 10zM255 351l19 0-2-8-3-4-2-2-2 0-4 0-4 3-2 3zM296 351l16 0 0-2-3-5-2-2-4-1-4 2-2 2zM338 351l12 0 0-2-3-5-2-1-4 2-3 4zM379 351l11 0 0-8 2-8 0-4-3-4-2-1-4-1-3 2-1 2-1 4 2 10zM418 351l14 0 1-8-1-4-2-4-3-2-4-2-2 0-3 2-1 2-1 4zM457 351l15 0 0-6-3-5-4-2-4 1-3 4zM497 351l14 0 0-2-4-5-4-1-4 2-2 4zM540 351l9 0 0-2-2-3-2-1-2 1-3 3zM581 351l8 0 0-2-4-6-4 5zM619 351l11 0 0-10-3-4-2-1-4 0-2 3zM658 351l13 0-2-7-2-2-2-1-2 0-2 1-2 3zM699 351l10 0 0-2-2-2-4-1-2 1-2 2zM822 351l5 0 0-3-2-3-2 2zM861 351l7 0 0-2-3-3-2 1-2 2zM344 335l1 1 2-1 4-4 2-4 0-4-4-4-4-2-6-1-7 1-1 2 1 2zM585 335l0 1 0-2zM304 319l3 1 5-1 5-2 1-2-1-2-3-2-5-2-6-1-5 1-2 2 0 2 4 4zM260 313l5 1 6 0 5-3 1-2 0-2-5-4-7-3-32-9-8-2-6 0-4 1-4 1-1 2 2 2 9 6 6 2 18 4zM352 285l9 1 6-1-1-2-7-4-16-6-12-1-6 1 1 2 8 4 10 4zM286 273l9 0 6-2-1-2-8-4-19-8-13-4-9-2-12-1-10 0-6 1 0 2 3 2 10 4 31 10 10 3zM380 247l6 0 1-2-6-4-16-6-12-3-8 1 0 2 7 4 18 6zM298 233l13 1 4-1 3-2-1-2-3-2-8-4-15-6-14-4-20-3-12 0-7 1 1 2 14 6 31 10zM395 207l8 0 2 0 0-2-6-4-16-6-12-2-5 2 2 2 8 4 11 4zM315 193l14 2 7-2 1-2-5-4-9-4-15-6-13-4-14-2-10-1-14 0-5 1 2 2 10 4zM412 167l9 1 3-1-1-2-3-2-13-6-10-2-8 0 0 2 6 4zM343 155l6 0 4-1 2-1 0-2-6-4-8-4-24-8-16-3-26-2-6-1-3 2 9 4 50 16zM429 127l10 2 2 0 3-2-5-4-15-6-9-1-4 0-2 1 2 2 3 2zM358 115l11 0 2 0 3-2-1-2-2-2-8-4-15-6-13-4-16-3-29-3-11 0 1 2 10 4 59 18zM455 89l7 0 1-2-6-4-10-4-8-2-7 0-1 2 6 4 11 4zM375 75l12 1 4-1 2-2-5-4-7-4-16-6-10-3-17-3-33-4-8-1-4 1 2 2 11 4zM473 49l6 1 3-1-1-2-2-2-9-4-11-3-4 0-3 1 1 2 4 2zM392 35l13 2 6-2 0-2-5-4-8-4-23-8-60-10-6 0-2 2 4 2 10 4 42 11zM491 9l6 1 4-1-4-4-10-4 0-2-14 0 0 2 3 2z"/>
<path fill="#f6891c" d="M12 351l16 0-1-9-2-6-2-3-2-2-2 1-2 2-2 4-2 7zM54 351l15 0-2-13-2-4-2-2-2-1-2 2-2 3-2 5zM95 351l15 0-1-8-2-6-2-4-2-1-2 0-2 2-2 4zM136 351l16 0-3-12-2-5-2-3-2 0-2 2-2 4-2 8zM177 351l14 0 0-6 2-10 0-4-2-3-4-3-4 0-2 1-2 3-1 4 0 10zM217 351l16 0 2-8 0-4-2-4-6-5-4-1-4 1-3 1-2 2 0 4 3 10zM255 351l18 0 0-4-1-4-3-4-2-1-2-1-4 1-4 3-1 2zM296 351l16 0 0-2-2-4-3-3-4-1-2 1-3 3-2 4zM339 351l11 0 0-2-3-4-2-1-4 2-2 3zM380 351l10 0-1-8 1-10-1-4-4-2-2 0-2 1-1 3 1 12zM418 351l14 0 0-8-1-4-2-4-4-2-5 0-2 2-1 2zM457 351l15 0-1-6-2-3-4-3-4 1-2 2-1 3zM498 351l12 0 0-2-3-4-4-1-2 1-2 2zM541 351l7 0 0-2-3-2-2 0-2 2zM582 351l5 0 0-2-2-2-2 0-1 2zM620 351l9 0 0-8-2-4-2-1-2 0-2 2zM659 351l11 0 0-2-3-5-2-1-2 0-2 2-2 4zM701 351l7 0 0-2-3-2-2 0-2 2zM344 333l3 0 3-2 2-4-1-4-4-4-4-2-4 0-4 1-1 1 1 4 6 8zM303 317l6 1 3-1 2-2 0-2-3-2-4-1-4-1-4 2 0 2zM263 313l4 0 4 0 3-2 1-2 0-2-5-4-5-2-34-10-6-1-6 0-3 1-2 2 0 2 2 2 8 4 21 5zM350 283l7 0 0-2-7-4-6-2-7-1-3 1 1 2 3 2zM277 271l12 1 4-1 1-2-5-4-8-4-20-7-18-3-8 0-5 2 1 2 8 4 23 8zM370 243l7 0-2-2-9-4-9-2-2 0-1 2 9 4zM293 231l14 2 6-2 0-2-6-4-8-4-20-7-18-3-8 0-6 2 1 2 9 4zM387 203l6 1 3-1-7-4-6-2-4-1-4 1 2 2zM320 193l9 0 3-2-1-2-2-2-8-4-22-8-18-3-12 0-5 1 1 2 4 2 11 4 24 8zM405 163l8 2 2-2-4-2-6-2-6-1-2 1zM336 153l11 1 2-1 2-2-4-4-8-4-22-7-18-3-12-1-7 1 2 2 15 6 24 8zM432 125l1 0 0-2-4-2-9-2 0 2 4 2zM353 113l12 1 4-1 0-2-1-2-7-4-22-8-22-4-14 0-7 0 2 2 16 6zM451 85l1 0-2-2-5-2-3 0 2 2zM371 73l10 2 4-1 3-1 0-2-3-2-7-4-10-4-13-4-18-3-20-1-7 0 9 4zM399 35l4 0 4-2-1-2-6-4-9-4-12-4-24-4-26-3-4 1 10 4 46 14z"/>
<path fill="#f25c1e" d="M13 351l15 0-1-7-2-6-2-3-2-1-2 0-2 2-2 3-2 8zM54 351l15 0-2-10-2-5-2-2-2 0-2 1-2 3-2 5zM95 351l15 0-1-7-2-6-2-3-2-1-2 0-3 5-2 6zM136 351l15 0-2-10-2-5-2-2-2 0-2 2-2 3-2 6zM178 351l13 0-1-8 2-10-1-4-4-3-2 0-3 1-3 4zM217 351l16 0 1-8 0-4-2-4-5-4-6-1-4 1-2 2-1 4 3 10zM256 351l17 0 0-4-2-4-4-4-2-1-4 0-2 2-3 3zM297 351l14 0 0-2-2-4-2-2-4-1-2 1-2 2-2 3zM340 351l9 0 0-2-2-3-2-1-2 1-3 3zM380 351l9 0-2-8 1-10-1-3-2-1-2 1-2 3 1 10-2 6zM419 351l12 0 0-8-1-4-1-2-4-3-4 0-3 3zM458 351l13 0 0-2-2-6-2-2-4-1-2 1-2 3zM499 351l11 0 0-2-3-3-4-1-2 1-2 2zM542 351l5 0 0-2-2-1-2 0-1 1zM621 351l7 0-1-8-2-2-2 0-1 2zM660 351l9 0 0-2-2-3-2-1-2 0-2 2zM703 351l3 0 0-2-3 0zM344 331l3 0 2-2 1-4-1-2-2-2-3-2-6 0-2 2 1 2 4 6zM305 315l4 0 0-2-4-1-1 1zM260 311l5 1 4 0 2-1 1-2 0-2-4-4-5-2-28-8-10-2-4 0-3 2-1 2 2 2 4 3 6 2 18 4zM271 269l10 1 7-1 0-2-5-4-9-4-12-4-11-2-8 0-4 0-2 2 2 2 4 2 15 6zM299 231l7 0 2-2-1-2-6-4-10-4-12-4-16-2-4 0-4 2 2 2 3 2 11 4 18 6zM315 191l10 0 1 0 1-2-2-2-7-4-17-6-8-2-12-2-8 2 2 2 3 2 22 8zM332 151l11 1 3-1 0-2-3-2-7-4-17-6-18-3-9 1 1 2 3 2 22 8zM349 111l10 1 6-1-1-2-6-4-10-4-13-4-18-2-4 0-2 2 8 4zM367 71l12 2 4-2-1-2-7-4-16-6-10-2-12-1-8 1 3 2 5 2zM395 33l4 0 2-2-4-4-9-4-17-5-16-1-6 0 1 2 5 2 30 10z"/>
<path fill="#ec3522" d="M13 351l14 0 0-4-2-7-2-3-2-1-2 0-3 3-2 6zM54 351l15 0-2-8-2-5-2-2-2 0-2 1-2 3-2 6zM95 351l15 0-2-8-3-6-2-1-2 0-2 3-3 6zM137 351l14 0-2-8-2-4-2-2-2-1-2 2-2 3-2 6zM178 351l12 0 0-8 1-10-2-4-2-1-4 0-3 3zM218 351l14 0 2-8-1-4-2-4-4-3-4-1-4 0-3 2-1 2 0 4 2 8zM256 351l17 0-1-6-3-4-2-2-2 0-4 0-2 1-2 3zM297 351l14 0 0-2-4-5-4-1-4 3-2 3zM340 351l8 0 0-2-3-2-2 0-3 2zM381 351l7 0 0-2-3-4-2 1-2 3zM419 351l11 0 0-10-3-4-2-2-2 0-2 1-2 3zM458 351l13 0 0-2-2-4-2-2-4-1-3 3zM500 351l9 0 0-2-2-2-4-1-3 3zM623 351l3 0 0-2-1-2-2 2zM662 351l5 0 0-2-2-2-2 1-1 1zM342 327l3 2 2-1 1-3-1-2-3-2-3 0-2 2zM258 309l5 1 4 0 2-1 0-2-4-4-6-2-26-7-8-1-2 0-2 2 1 2 4 2 21 5zM268 267l11 1 4-1-1-2-3-2-14-6-10-2-10 0 0 2 3 2 8 4zM295 229l7 0 1-2-2-2-8-4-11-4-15-2-2 0-2 2 12 6 11 4zM312 189l5 1 4-1 0-2-2-2-8-4-13-4-11-1-5 1 2 2 9 4zM329 149l8 1 3-1-1-2-3-2-14-6-10-2-10 0 1 2 4 2 9 4zM347 109l8 1 3-1-1-2-3-2-10-4-7-2-10-1-5 1 8 4zM365 69l8 1 3-1-1-2-4-2-10-4-10-2-7 0 1 2 3 2zM384 29l7 1 3-1-2-2-9-4-10-2-8 0 7 4z"/>
<path fill="#e82024" d="M14 351l13 0-2-9-2-3-2-1-2 0-2 2-2 4zM55 351l13 0-1-6-2-5-2-2-2 0-2 1-1 2-3 7zM96 351l13 0-1-6-3-6-2-1-2 0-2 2-2 5zM137 351l13 0-1-6-2-4-2-2-2 0-2 1-3 5zM179 351l11 0-1-8 1-10-1-2-2-1-2-1-2 1-2 3-1 10zM218 351l14 0 1-8 0-4-3-4-3-3-6-1-4 2-1 2 0 4zM257 351l15 0-1-6-4-5-2 0-4 0-2 1-2 4zM298 351l12 0 0-2-3-4-4-1-4 3-1 2zM341 351l6 0 0-2-2-1-2 0-2 1zM382 351l5 0 0-2-2-2-2 1zM420 351l9 0 0-9-2-3-2-2-2 0-2 2zM459 351l11 0 0-2-3-5-2-1-2 0-2 2-1 2zM501 351l7 0 0-2-3-2-2 0-2 2zM258 307l5 1 3-1-2-2-4-2-7-1-2 0 0 1zM233 299l7 0-4-2-5-1-2 0-1 1zM266 265l7 1 4-1-2-2-8-4-8-2-6 0 0 2 3 2zM285 225l8 2 2-1 1-1-7-4-6-2-8-1-3 1 3 2zM303 185l8 2 2 0 1-2-8-4-7-2-6 0 1 2zM322 145l7 2 2-1 0-1-9-4-5-1-3 1zM341 105l4 1 3-1-7-3-4 0 0 1z"/>
<path fill="#69b533" d="M-1 351l11 0-1-30-1-16-3-13-2-4-2-2-2 0zM31 351l20 0-1-30-1-15-4-16-2-4-2-2-2 0-2 3-2 5-2 10-2 19zM72 351l20 0 0-28-4-30-2-10-1-3-2-2-2 0-4 3-2 8-3 32zM113 351l20 0 0-18-2-20 3-20-2-6-3-3-2-1-4 0-4 2-4 4-1 4 0 6 0 14-1 18zM154 351l21 0-1-8-2-12 0-6 3-6 6-4 4 0 4 2 14 12 4 0 12-4 4 0 6 2 7 6 3 6 0 4-3 6 0 2 17 0-2-8 1-4 7-6 6-2 4 1 5 7 2 6 0 6 17 0 1-6 1-3 4-6 3-3 1-2-1-2-6-6-5-3-4-2-6 0-14 4-4-1-16-9-6-2-16-2-18-6-8-1-16 2-4-1-12-5-6-1-5 3-2 2-1 4 3 18-2 16zM194 351l20 0 0-2-1-4-4-6-4-4-2-1-4 3-3 4-2 4zM315 351l20 0 3-10-1-4-4-6-6-5-4-1-6 0-5 2-6 4 0 2 7 11zM353 351l23 0 0-6-2-6-3-5-4-4-4 0-4 3-4 4-2 6zM394 351l20 0-1-6-7-14 7-5 8-2 4 0 4 2 6 7 2 4 1 4-2 10 17 0-1-8 1-4 8-12 0-4-6-6-8-5-6-1-14-2-20-8-8-1-10 2-6 0-16-6-18-4-24-8-8-1-18-2-12-2-14-3-24-8-14-3-34-5-30-2-6 0-6 1-4 3-3 3 0 4 1 2 2 3 4 2 6 0 18 1 20 3 20 3 60 17 6 1 12-1 6 1 18 6 22 4 6 3 12 8 4-1 12-5 6 0 8 5 9 10-8 10-2 4zM476 351l17 0 1-8 6-10 0-4-3-4-4-5-6-3-4-1-6 2-4 3-3 4 0 4 5 12zM515 351l20 0 2-10-1-4-3-6-6-5-4-1-4 0-6 3-3 3 0 4 4 10zM554 351l21 0 0-8-2-6-4-7-4-3-4 2-6 8-2 6zM594 351l20 0-1-6-6-12 0-2 8-5 8-2 4 1 4 2 5 8 1 6-1 10 17 0-1-8 1-4 6-12 0-4-4-6-6-3-6-2-16-1-16-8-6-2-6-1-12 1-6 0-14-4-18-4-28-9-24-3-24-4-38-12-10-2-22-2-10-2-54-15-32-3-38-12-20-5-46-7-24-1-12 1-8 2-7 4-3 4-1 2 1 1 4 2 34 3 46 7 24 5 38 12 28 3 12 2 44 13 16 2 26 3 26 9 20 4 14 4 6 1 12-2 6 1 22 9 16 2 6 2 6 3 10 7 14-8 6 0 4 2 6 4 6 7 3 4-9 12zM676 351l17 0 1-8 6-10-1-4-4-6-6-5-4-2-4 0-6 3-3 2-2 4 1 4 5 12zM715 351l20 0 1-10 0-4-4-6-5-4-4-1-4 0-4 2-3 3-2 4 4 12zM754 351l21 0 0-6-1-6-5-8-4-3-2 0-2 1-4 4-2 3-2 7zM794 351l20 0 0-2-2-6-5-9-1-1 1-2 6-4 6-3 4-1 4 1 2 1 4 4 3 4 1 6-1 12 17 0-1-12 1-4 6-10-1-4-3-4-6-3-6-2-16 1-4-2-12-7-8-3-6 0-14-1-16-3-18-2-22-9-10-3-22-3-24-3-32-10-18-5-10-1-18-1-8-2-50-15-10-1-18-1-8-2-46-14-40-5-14-4-36-11-10-1-16-1-10-1-44-14-50-9-32-5-14 0-14 1-10 1-8 3-8 4-6 6 2 2 2 0 30 0 22 2 64 11 18 5 36 11 10 1 16 1 8 1 52 15 10 2 22 1 10 2 42 13 8 2 20 1 14 3 14 3 28 10 28 3 20 3 34 11 16 2 16 3 14 1 6 1 6 2 18 8 16 1 6 1 14 8 4 0 12-6 6 1 8 5 11 12 0 2-5 5-3 5-2 4zM876 351l17 0 1-8 5-10 0-4-3-4-5-5-6-3-4 0-4 0-4 2-3 4 0 4 6 14zM915 351l20 0 1-10-1-4-2-5-4-4-4-1-4 0-5 2-4 4 0 4 3 10zM954 351l21 0 0-6-1-6-3-4-4-5-2-1-4 1-5 5-2 6zM994 351l20 0-1-4-2-6-4-7-2-1 12-8 8-3 2 0 4 3 4 5 2 5 1 6-2 10 17 0-2-10 1-4 1-4 6-8 0-4-6-5-6-3-6 0-12 2-4 0-14-9-10-4-16-2-18-4-20-1-24-9-26-6-10-2-22-1-50-16-10-1-18-1-8-2-50-15-10-1-18-1-10-2-48-15-36-4-52-15-8-1-18-1-8-1-50-15-12-2-28-3-48-15-10-2-16 0-10-2-46-13-66-14-18-2-18-1-18 0-14 2-13 3-21 9-22 7-8 4-2 2 4 1 5-1 29-8 16-2 16 0 20 1 32 4 68 13 44 14 10 1 16 1 8 1 48 14 12 2 22 2 10 2 46 14 10 1 18 1 8 1 52 15 10 2 16 0 8 2 52 15 8 1 18 1 8 1 50 15 8 1 16 1 8 1 24 6 26 9 22 2 16 3 16 2 6 2 14 7 6 2 20 0 4 1 10 5 4 1 12-2 6 0 6 2 4 3 11 12 1 2-6 6-3 4-1 4zM1076 351l17 0 0-6 5-10 0-4-3-6-6-5-6-2-4 0-4 1-4 2-2 2 0 4 7 14zM1115 351l19 0 1-10 0-4-2-4-4-5-4-1-4 0-4 2-4 4 0 4zM1154 351l21 0 0-6-1-4-3-5-4-4-4-1-2 0-5 4-2 6zM1195 351l19 0-2-6-5-10-2-1-6 6-3 5zM1236 351l16 0-2-10 1-4 1-4 7-8 1-2-1-2-4-4-6-4-4 0-6 0-6 3-2 3 0 2 6 10 2 4 0 4zM1277 351l16 0 0-6 4-10 0-4-4-6-4-3-6-2-4-1-6 2-3 2-1 2 7 16 1 4zM1316 351l18 0 1-10 0-4-2-4-4-4-4-2-4 1-4 2-2 3-1 6zM1354 351l21 0-1-8-2-4-3-4-2-1-4-1-4 1-2 1-2 3-1 3zM1395 351l12 0 0-15-4 1-4 4-3 6zM1205 331l2 0 11-8 4-4 0-2-3-4-5-4-11-5-16-2-20-6-6 0-12 1-4 0-18-8-36-10-8-2-16 0-6 0-54-17-8-1-18-1-8-1-52-16-10-2-18-1-8-1-50-15-10-2-18-1-10-1-48-15-12-2-18-1-8-1-46-14-10-2-30-3-14-4-34-11-8-1-18-1-8-1-54-16-10-2-20-1-8-1-48-15-10-2-16 0-10-2-44-13-68-14-22-4-22-2-20 0-18 1-20 4-39 12-12 4-6 4 3 1 6 0 38-8 22-2 38 2 38 5 70 15 44 13 10 2 16 0 8 1 50 15 36 4 54 16 8 1 24 1 50 15 40 5 46 14 10 1 20 2 10 2 46 13 10 2 18 1 10 2 48 14 10 2 16 0 10 2 52 15 8 1 16 0 8 1 54 17 6 1 14-1 6 0 16 5 20 5 20 9 6 0 12-3 4 0 18 8 18 0 6 2 4 3zM1405 329l2 0 0-22-20-4-18-6-10-1-12 3-4 0-16-8-40-12-8-2-16 0-8-1-20-5-32-11-10-2-20-1-10-2-12-3-34-11-10-2-20-1-10-2-48-15-10-1-20-2-10-2-46-14-10-2-18-1-10-1-50-15-10-2-16-1-8-1-54-16-8-1-18-1-8-1-52-15-10-2-18-1-10-2-44-14-10-1-18-2-10-1-16-4-30-10-12-3-24-1-8-2-48-15-10-1-16-1-10-1-44-13-74-16-24-4-26-3-22-1-18 1-19 3-40 10-20 6-8 4 1 1 4 1 48-8 14-1 16 0 38 2 40 6 80 18 42 12 10 2 16 0 8 1 50 15 34 3 56 16 10 2 18 1 10 2 32 10 12 3 28 3 10 2 50 14 32 3 54 16 10 1 16 1 10 1 34 11 16 4 34 3 36 11 14 4 10 2 18 1 8 1 44 13 14 3 20 1 10 1 30 10 18 5 12 1 16 1 8 1 28 9 26 7 8 1 14-1 6 1 22 8 20 4 16 7 4 0 4 0 12-5 2-1 2 1 13 9 5 2 4 1 12 0 6 1 6 4zM1401 277l6 1 0-16-20-4-22-1-8-1-38-13-14-4-10-1-16-1-8-1-34-11-18-5-10-2-18 0-8-2-35-11-15-4-11-2-23-1-52-16-12-2-24-2-49-15-11-2-20-1-8-2-46-14-42-5-48-15-24-2-10-1-54-16-10-2-16 0-8-1-46-15-42-5-52-16-10-1-16 0-8-2-48-15-10-2-16 0-10-1-44-13-84-19-28-4-28-3-22-1-20 1-22 3-46 10-20 6-4 2-1 2 11 0 52-7 28-1 38 3 46 7 88 19 44 13 10 1 18 1 8 1 48 15 10 2 18 0 8 1 50 15 42 5 44 14 10 2 18 0 8 2 52 15 10 1 24 2 48 14 12 2 20 2 8 1 46 14 12 2 18 1 10 2 46 14 10 1 18 1 10 2 48 14 8 1 18 1 10 1 50 15 10 2 18 0 8 2 48 14 10 2 18 0 8 1 46 14 12 3 20 0 10 2 10 2zM114 251l5 0 4-2 3-4 0-2-5 0-6 2-2 2-1 2zM1402 231l5 1 0-13-20-1-10-2-48-15-12-2-18-1-10-2-48-15-10-1-24-2-14-4-36-12-10-2-18 0-10-2-52-16-10-1-22-1-56-17-10-2-22-1-54-16-10-2-18-1-8-1-42-13-12-3-22-2-12-2-48-14-10-2-16 0-8-1-50-15-12-2-22-2-10-2-46-15-8-1-18 0-10-2-50-16-8-1-16 0-8-1-19-5 0-2-85 0 0 2 48 10 42 13 8 1 18 0 8 1 50 16 10 1 16 1 8 1 48 14 12 2 30 4 52 15 8 1 16 0 8 1 46 14 14 3 20 1 10 2 36 11 10 3 26 2 10 2 50 14 10 2 16 0 8 1 52 16 10 1 16 0 8 2 52 15 10 2 16 0 8 1 35 11 15 4 12 2 16 0 8 1 34 11 15 4 13 2 22 1 10 2 26 9 14 4 12 2 22 0zM107 203l2 1 6-1 8-4 2-2-6 0-6 2-4 2zM1382 187l25 0 0-8-10-1-30-11-22-6-12-2-22-1-33-11-15-4-14-3-26-2-34-11-13-4-12-2-19-1-10-2-46-14-10-2-22-2-10-2-38-12-10-2-8-2-16 0-10-2-54-16-8-1-16 0-8-1-48-15-14-3-28-2-44-15-10-1-18-1-8-1-44-13-14-4-32-3-12-3 0-2-95 0 0 2 11 3 22 0 10 2 36 11 14 4 28 2 10 2 52 15 10 2 16 0 8 1 34 11 12 4 10 1 20 2 10 1 50 15 8 1 16 0 8 2 54 15 8 2 18 0 8 1 34 11 14 4 12 2 18 1 10 1 44 14 12 2 20 1 10 2 44 13 10 2 20 1 10 2 46 14 10 1 16 0 8 1 14 4 32 10zM1398 147l9 1 0-14-2 0-36-12-12-2-16 0-6 0-56-18-10-1-16 0-6-1-54-17-12-2-16 0-8-1-48-15-14-3-18-1-8-1-44-14-12-2-20-2-12-2-48-15-8-1-16 0-10-2-54-16-10-2-22-1-9-2 0-2-88 0 0 2 3 1 22 1 10 2 36 11 10 3 8 1 18 1 8 1 54 16 10 1 16 0 8 1 34 11 14 4 12 2 18 1 10 2 44 13 10 2 20 1 10 2 48 14 10 2 18 0 8 1 52 16 8 1 16 0 6 1 55 16 11 1 20 1 39 12zM1399 103l8 2 0-17-24-6-26-2-10-2-34-11-12-4-36-3-14-4-28-10-12-3-8-1-16 0-8-1-56-17-8-1-14 0-8-1-40-13-18-4-30-3-5-1 0-2-64 0 0 2 13 3 36 12 10 1 20 1 10 2 52 16 8 0 14 0 8 1 40 13 16 4 8 1 16 0 8 1 34 11 12 3 14 3 26 1 42 14 14 2 22 1 8 1 12 4zM1399 57l8 2 0-16-14-2-16 0-8-1-32-11-12-4-16-3-20-1-8-1-34-12-16-4-30-2-3-1 0-2-59 0 0 2 23 8 15 4 12 2 20 1 8 1 44 14 10 2 26 1 14 4 38 12 10 1 20 0zM1371 11l10 1 16 0 10 1 0-10-8 0-6-1-3-1 0-2-53 0 0 2z"/>
<path fill="#69b638" d="M-1 351l11 0-1-24-1-14-3-10-2-4-2-2-2 0zM31 351l20 0-1-24-1-14-4-12-2-3-2-1-2 1-2 2-3 11-2 16zM72 351l20 0-1-22-1-14-5-16-2-3-2 0-2 2-2 4-3 13-1 14zM113 351l20 0 0-18-4-22 1-16-1-4-2-2-2-1-4 1-2 2-3 6 0 14-2 20zM154 351l21 0-1-8-3-12 0-6 1-4 3-3 6-4 4 0 4 2 14 12 4 0 8-3 6-1 6 2 4 2 5 5 4 6-1 4-3 6 0 2 17 0-2-8 1-4 7-6 6-3 4 2 5 7 2 6 0 6 17 0 1-8 8-12-3-4-4-4-4-3-4-1-6 0-14 3-4-1-10-6-6-3-6-2-16-2-18-6-10 0-14 2-16-6-6 0-4 2-2 5 0 6 1 12-2 16zM194 351l20 0 0-2-1-4-4-6-4-3-2-1-4 3-3 3-2 4zM315 351l20 0 2-10 0-4-4-6-6-4-4-2-6 1-6 2-3 3 0 2 6 12zM354 351l21 0 0-6-1-4-2-4-3-5-4-2-2 1-6 4-4 6zM394 351l20 0 0-4-3-6-4-6-2-1-2 0-2 1-4 5-2 5zM436 351l17 0-1-8 1-4 7-12-1-4-2-4-6-4-6-3-20-2-14-7-6-2-6 0-10 2-6 0-16-6-20-5-22-7-8-2-18-1-10-2-16-4-26-8-18-4-30-4-26-1-10 2-4 2-2 4 1 4 3 2 4 1 18 2 20 4 20 3 60 17 6 0 12-1 6 1 18 7 22 4 18 10 4-1 10-4 6-2 4 2 4 2 12 11 14-6 6 0 6 4 6 8 1 6zM476 351l17 0 1-8 5-10 0-4-4-6-4-3-4-2-4-1-4 1-5 3-3 4 0 4 5 12zM515 351l20 0 1-10 0-4-4-6-5-4-4-1-4 0-4 2-4 3 0 4 4 12zM554 351l21 0 0-6-1-6-3-5-4-4-2-1-4 1-5 7-2 6zM594 351l20 0 0-2-2-6-5-7-2-2-2 1-4 3-4 7zM636 351l17 0-1-10 1-4 4-10 1-4-1-2-4-4-6-3-6-1-14-1-16-8-6-2-6-1-14 2-4 0-14-5-20-4-24-9-26-3-22-4-40-12-42-6-48-14-12-3-18-1-8-1-38-12-22-5-40-6-20-1-10 1-8 1-5 2-3 2-2 2 1 2 1 1 6 2 76 14 16 4 36 11 26 2 10 1 48 14 16 3 18 1 8 1 26 9 20 4 14 4 6 0 12-1 6 1 22 10 20 2 6 3 8 5 4 2 4-1 10-6 6-1 6 4 14 12 2 0 12-5 6 0 6 3 4 5 2 4 1 6zM676 351l17 0 1-8 4-10 0-4-2-4-5-5-6-2-4-1-4 2-3 2-2 4 0 4 4 12zM715 351l19 0 1-10 0-4-4-6-4-3-4-1-4 0-4 2-3 4 0 4 3 10zM754 351l21 0 0-6-2-6-2-4-4-4-4-1-4 2-2 3-3 6zM795 351l19 0 0-2-5-10-4-3-4 1-4 5-2 4zM836 351l16 0-1-12 1-4 4-8 0-4 0-2-5-4-6-3-6 0-10 1-4-1-12-7-10-4-6-1-14 1-16-5-18-2-20-8-10-3-24-4-24-2-29-10-17-5-12-2-18-1-8-1-34-11-16-4-10-2-18-1-10-2-44-14-12-2-22-2-10-2-40-12-12-3-22-1-10-2-38-12-20-4-48-9-22-2-12 0-13 2-7 2-4 2-2 2 0 2 4 2 44 7 52 10 18 4 36 11 10 2 22 1 52 15 10 2 20 1 10 2 46 14 10 1 16 1 12 2 16 4 30 10 26 2 20 4 10 2 24 9 20 2 14 3 18 1 8 2 16 8 6 1 16 1 4 1 12 6 4 0 10-4 6-1 6 3 16 14 4-1 12-5 6 0 6 5 5 8 0 6zM877 351l16 0 0-8 5-10-1-4-3-4-4-4-5-2-4-1-4 1-3 2-2 4 0 4 5 12zM916 351l18 0 1-10-1-4-3-5-4-3-4-1-4 1-4 2-1 2-1 4zM955 351l20 0-1-6-1-4-2-5-4-4-2-1-4 1-4 3-2 6zM995 351l18 0 0-2-4-9-4-3-4 2-4 4-2 4zM1037 351l15 0-2-10 0-4 4-10 1-4-2-4-6-4-4 0-4 0-4 2-3 2 0 2 1 2 4 8 2 6zM1077 351l15 0 0-6 4-10 0-4-3-6-4-3-4-2-4 0-4 0-4 3-1 2 1 4 4 12zM1116 351l18 0 0-10-1-4-2-4-4-3-6-1-4 3-2 2-1 5zM1155 351l19 0-1-8-1-4-3-3-2-2-4-1-4 2-2 2-2 4zM1196 351l17 0 0-2-4-7-4-3-2 0-4 3-3 5zM1237 351l14 0 0-2-3-8-1-4 1-2 5-8 1-4-2-4-5-2-4-1-3 1-2 2-1 2 0 4 4 8 1 4-5 12zM1278 351l13 0 1-6 2-10 0-4-2-4-5-4-4-1-7 1-2 2-1 2 1 4 4 10 1 4zM1317 351l16 0 0-12-2-5-4-3-2-1-4 1-4 4-1 4zM1356 351l17 0-1-8-3-5-2-2-4-1-4 2-2 2-1 4zM1396 351l11 0 0-10-4 0-2 1-4 5zM1005 327l4 0 4-2 6-4 2-2 0-2-3-4-5-4-10-5-6-1-14 0-16-4-16 0-4 0-20-10-14-4-22-4-24-2-30-10-20-6-10-1-18-1-8-1-48-16-10-1-18-1-10-2-48-15-10-2-20-1-10-2-52-15-10-2-16 0-8-1-48-15-12-2-24-3-10-2-44-14-10-1-16-1-8-1-48-14-56-11-20-3-20-2-20 1-16 3-4 2-2 2 0 2 6 2 50 7 68 14 48 14 10 2 18 0 8 1 46 14 42 6 48 14 10 1 16 1 8 1 52 15 10 1 16 1 8 1 51 15 9 1 18 1 8 1 50 15 8 2 16 0 8 1 24 7 26 8 8 1 16 0 16 4 14 2 8 3 14 7 6 2 6 0 14-2 4 1 10 5 4 1 14-3 4 1 6 3zM1204 325l3 1 2-1 4-2 3-4 0-4-3-3-4-3-10-3-14 0-11-5-7-2-4 0-4 1-3 3 3 4 6 3 6 1 10-2 4 1 6 4zM1402 321l5 1 0-11-8-1-5 1 0 2 1 2zM1365 307l4 1 6-1-1-2-2-2-7-1-3 1 0 2zM1122 305l5 1 6-1 4-2 2-2-1-2-4-4-9-4-34-10-10-1-5 1-6 2 0 2 11 6 6 2 18 4zM1321 301l5 0 2-2-1-2-3-2-34-12-7-1-4 1-2 0-1 2 5 4 6 3 20 4zM1041 287l6 1 6-1 8-2 2-2-6-4-9-4-37-12-12-2-16 1-6-1-41-14-13-4-10-1-16-1-10-1-48-15-12-3-18 0-8-2-48-15-13-2-19-1-10-2-42-13-12-3-22-2-10-1-48-15-8-1-22-2-12-2-46-14-10-2-18-1-10-2-48-15-10-1-16-1-8-1-48-14-64-13-22-4-24-1-22 0-9 1-9 2-4 2-2 2 1 2 7 2 56 7 76 17 52 14 8 1 16 1 10 1 44 14 10 2 20 1 10 2 52 14 10 2 16 0 8 1 48 15 12 2 20 1 10 2 44 13 10 2 20 1 10 2 46 14 10 1 18 1 10 1 48 15 10 1 16 0 8 1 34 11 20 5 10 2 14-1 8 1 21 7zM1227 281l12 2 4-1 3-1-1-2-4-2-32-12-8-2-8-1-6 1-2 2 6 4 13 6 13 4zM1404 273l3 0 0-6-10-1-2 0-2 1 2 2zM1151 265l9 0 6-2-1-2-9-4-21-8-14-5-12-2-24 0-52-18-10-1-20-1-8-1-50-17-10-1-24-2-12-3-42-13-10-2-16 0-8-1-54-17-10-1-16-1-8-1-34-11-18-5-12-2-18-1-10-2-32-10-12-4-10-1-18-2-10-1-56-16-32-3-12-4-28-9-12-4-32-2-48-14-68-15-26-4-30-2-22 0-12 1-9 2-5 2-2 2 4 2 4 1 50 6 32 6 74 17 44 13 8 1 18 0 8 1 48 15 10 2 24 1 56 16 10 2 18 0 8 2 42 13 12 2 20 1 10 2 52 15 8 1 16 0 8 1 52 16 10 1 16 0 8 1 36 12 16 4 10 1 16 0 8 1 35 12 13 3 12 2 18 0 6 1 10 3 27 9 11 3 12 2 20-1 6 1 36 13 10 2zM1329 259l10 0 2 0 0-2-2-2-8-4-12-4-14-3-4 0-4 1 1 2 8 4 16 6zM1251 243l7 0 4-2-1-2-2-2-9-4-23-8-16-2-4 0-4 2 1 2 4 2 15 6 18 6zM1162 225l13 1 5-1 3-2-2-2-3-2-9-4-16-6-14-4-16-2-18 1-33-13-20-6-13-2-24-1-37-13-13-4-12-2-26-1-46-15-10-2-20-2-12-2-46-14-10-2-18-1-10-1-44-14-12-3-8-1-16 0-8-2-44-14-12-2-22-2-12-2-50-15-10-2-18 0-8-2-38-13-12-3-8-1-16 0-8-1-50-15-30-6-44-10-28-4-32-3-24 0-15 1-10 2-5 2-1 2 6 2 53 7 38 7 50 11 36 8 42 13 8 1 18 0 8 1 48 15 10 2 16 0 10 1 50 15 12 2 22 2 10 1 44 14 8 1 16 0 8 1 54 16 10 2 18 0 8 1 42 14 14 2 22 1 8 2 34 11 12 3 12 1 18 1 8 1 48 15 10 1 18 0 8 2 41 13 9 2 10 1 18-1 4 0 39 14zM1347 219l8 1 5-1-1-2-2-2-8-4-11-4-13-2-5 0-2 2 3 2 7 4zM1268 203l11 0 3-2-2-2-8-4-21-8-14-3-6 0-5 1-1 2 3 2 8 4 16 6zM1180 185l9 1 8 0 6-1 0-2-7-4-10-4-16-6-13-4-14-1-11 1-3 1-40-15-20-6-10-1-20 0-44-15-14-4-10-1-16 0-8-1-34-12-14-4-14-3-18 0-8-1-42-14-12-3-24-2-10-2-48-15-8-1-18 0-8-2-50-15-12-2-24-2-10-2-46-15-8-1-18 0-8-2-12-3-28-10-12-3-8-1-16 0-8-1-20-6 0-2-82 0 0 2 46 10 40 12 10 1 16 0 10 2 48 15 10 1 18 1 8 1 44 13 12 3 24 2 10 1 50 15 8 1 16 0 8 1 46 14 14 3 20 1 10 2 35 11 11 3 10 1 16 1 8 1 52 15 10 1 14 0 8 1 42 13 16 4 8 1 14-1 6 0 34 12 22 5 10 1 14-2 6 1 28 11zM1374 181l4 0 2-2-4-4-15-6-16-3-4 0-3 1 1 2 4 2 9 4 12 4zM1283 163l12 1 5-1 0-2-5-4-9-4-18-6-11-2-6 0-4 0-4 2 3 2 9 4 15 6zM1209 147l6 0 4-1 1-1 0-2-7-4-13-6-19-6-14-2-24-1-36-13-14-4-10-2-18 0-8-1-14-4-38-13-10-2-18 0-6-1-54-17-12-2-16 0-8-1-47-15-15-3-20-1-8-1-44-15-12-2-16 0-8-1-56-17-10-2-26-2-15-4 0-2-90 0 0 2 9 2 22 0 8 1 38 12 12 4 10 1 18 1 10 2 52 15 10 1 16 0 8 1 35 12 11 3 10 1 20 1 10 2 50 15 8 1 16 0 6 1 40 12 15 4 11 1 16 0 6 1 36 12 12 3 12 2 20 0 6 1 10 3 26 9 10 3 12 1 20-1 6 1 38 14 10 3zM1393 141l4 0 2-2-6-4-16-6-12-3-7 1 1 2 2 2 8 4 13 4zM1313 125l6 0 2-2-1-2-7-4-28-10-12-2-4 0-4 2 0 2 3 2 14 6 20 6zM1222 107l13 1 4-1 2-2-2-2-3-2-8-4-17-6-13-4-15-2-6 0-7 2 1 2 13 6 24 8zM1399 99l8 2 0-9-18-4-6 0-2 1 1 2 3 2zM1135 89l14 1 9-1 3-2-6-4-14-6-24-8-18-4-18 0-8-1-44-15-12-3-20-1-10-1-14-4-30-11-10-2-28-2-46-14-14-4-8-1-22-1-15-4 0-2-72 0 0 2 15 1 10 2 30 10 12 3 10 1 16 1 10 1 52 16 10 1 16 0 8 1 33 11 15 4 12 2 18 0 8 1 46 15 10 1 18 0 6 1zM1329 85l6 0 4-2-2-2-7-4-20-8-8-2-7-1-5 1-3 2 5 4 13 6 12 4zM1240 67l15 1 6-1 0-2-7-4-14-6-24-8-13-1-6 1-4 2 6 4 14 6 12 4zM1403 53l4 1 0-6-8 1 1 2zM1164 51l11 0 7-2 0-2-18-8-31-10-14-3-22 1-37-14-21-6-10-1-20-1-16-4 0-2-48 0 0 2 36 12 12 2 18 0 8 1 46 15 10 2 10 0 16-1 38 13 14 4zM1342 45l7 1 6 0 3-1 1-2-2-2-7-4-17-6-18-4-6 1-4 1 1 2 9 4zM1255 27l8 2 8 0 6-2 0-2-6-4-13-6-19-6-14-2-16 2-4-1-19-7 0-2-41 0 0 2 11 4 21 5 14 1 18-2 34 14zM1362 5l13 2 5-2-1-2-3-2 0-2-28 0 0 2z"/>
<path fill="#69b63c" d="M-1 351l11 0-1-20-2-15-2-7-2-4-2-1-2 0zM31 351l20 0-1-20-2-14-3-10-2-2-2-1-2 0-2 3-3 10-2 14zM72 351l20 0-1-20-1-10-3-10-2-4-2-2-2 0-2 1-2 4-2 6-2 14zM113 351l20 0-1-18-4-22-1-12-2-4-2 0-2 1-1 3-5 25-1 11zM154 351l20 0 0-8-4-14 0-4 2-4 3-4 6-4 2 0 4 1 16 13 4 0 8-2 6-1 4 0 6 4 6 5 3 6-1 4-3 6 0 2 16 0-1-8 1-4 7-7 6-2 4 1 6 8 2 6 0 6 16 0 1-8 6-10 1-2-1-2-3-4-6-4-4-2-6 0-14 4-4-1-10-7-6-3-8-2-14-2-18-5-10-1-14 4-4-1-10-5-6-1-4 2-2 2-1 4 1 16-2 16zM194 351l20 0 0-2-1-4-4-6-4-3-2 0-4 2-2 3-2 4zM315 351l20 0 2-10-1-4-4-6-5-4-4-1-6 0-6 3-2 2 0 2 0 2 5 10zM354 351l21 0 0-6-1-4-5-8-2-1-4-1-6 5-3 5zM394 351l20 0 0-2-2-6-3-4-4-4-2 0-4 3-2 3-2 4zM436 351l17 0-1-8 0-4 7-12-1-4-2-4-5-4-6-2-20-3-14-6-6-2-6 0-12 2-4 0-17-7-19-5-20-7-8-1-18-1-12-2-16-4-24-8-16-4-32-4-20-1-8 1-6 1-4 3-1 2 1 3 4 2 16 3 20 4 22 4 56 16 6 1 14-1 8 1 16 6 22 4 18 10 4-1 12-5 4-1 6 3 12 10 2 1 4-1 10-3 6 0 6 3 4 5 2 4 1 6zM476 351l17 0 1-8 4-10 0-4-4-6-7-4-4-1-4 1-4 2-3 4 0 4 5 14zM515 351l19 0 2-10-1-4-4-6-4-3-4-2-4 1-4 2-3 2-1 4 4 12zM554 351l21 0 0-6-2-6-2-4-4-4-2-1-2 1-2 1-4 4-2 3-1 4zM595 351l19 0 0-2-5-10-4-3-2 0-4 3-2 3-2 4zM636 351l16 0-1-10 1-4 4-10 0-4-1-2-4-4-4-2-6-2-14 1-4-2-12-7-6-2-8 0-12 3-2 0-14-7-22-4-24-9-24-3-22-4-12-3-28-9-10-2-30-3-52-16-12-2-24-2-38-12-22-5-38-5-18-2-10 1-8 1-6 3-1 2 1 2 5 2 77 16 42 13 10 1 18 1 10 2 38 11 12 3 14 2 24 2 8 2 20 8 34 7 22 0 6 1 18 9 16 1 6 2 12 7 4 1 4-1 12-7 4 0 20 16 4 0 10-4 4-1 4 1 2 1 6 7 3 7 1 4zM677 351l16 0 0-8 4-10 0-4-2-4-5-4-5-2-4 0-4 1-3 3-1 2 0 4 4 12zM716 351l18 0 1-8-1-6-3-5-4-3-4-1-4 0-4 3-2 2 0 4zM755 351l19 0 0-6-1-5-2-4-4-4-2-1-4 1-4 4-2 7zM795 351l18 0 0-2-4-8-4-3-2 0-4 2-2 3-2 4zM837 351l15 0-2-12 4-12 0-4-3-4-6-3-8 0-4 1-3 2 1 2 7 12 1 4 0 4zM877 351l15 0 0-6 4-10 0-4-3-6-4-3-4-2-4 0-4 1-2 2-1 2 0 4 4 12zM916 351l17 0 1-8-1-6-2-4-4-3-6-1-3 2-3 3-1 5zM955 351l19 0-1-8-1-4-3-3-2-2-4-1-4 2-2 2-2 4zM996 351l17 0 0-2-4-7-2-2-4-1-4 3-2 3zM1037 351l14 0-3-14 4-10 0-4-3-4-4-1-6 1-2 2 0 4 4 8 1 4-5 12zM1078 351l13 0 0-6 3-10 0-4-3-5-6-4-4 0-4 1-2 2 0 2 0 4 3 10zM1117 351l16 0-1-12-1-4-4-3-2-1-4 0-4 4-1 4zM1156 351l17 0-1-8-3-5-2-2-4-1-4 2-2 3-1 3zM1196 351l16 0 0-2-3-5-2-2-4-1-5 4-2 4zM1238 351l12 0 0-2-3-5-2-1-2 0-4 5zM1279 351l11 0 0-6 2-8 0-4-1-3-2-2-6-3-4 1-2 1 0 2 3 14zM1318 351l14 0-1-11-2-4-2-2-4 0-2 0-2 3-1 4zM1357 351l15 0-1-6-2-4-4-3-2 0-3 1-3 4zM1398 351l9 0 0-7-4 0-2 1-3 4zM804 325l3 1 4-1 11-6 0-2-2-4-6-4-9-4-10-1-6 1-3 2 0 2 2 2zM1244 325l1 1 2-1-1-2-2 0zM1002 323l5 2 5-2 4-4 1-2 0-2-4-4-8-4-8-1-7 1-1 2 1 2zM1204 321l3 1 2-1 2-2 0-4-2-2-3-2-5-2-4 1-2 1 2 4zM760 313l5 1 4-1 8-4 2-2-1-2-8-4-21-3-20-9-8-2-10-2-40-5-26-9-16-5-16-3-24-1-32-11-16-4-12-3-20-1-8-1-46-15-10-2-20-1-10-2-54-16-8-1-18-1-8-2-36-11-14-3-49-9-21-2-12 0-10 1-8 2-3 1-1 2 2 2 6 2 90 19 42 13 10 1 16 1 10 1 50 14 12 2 20 2 10 2 42 12 10 2 18 1 10 1 48 15 26 1 18 4 10 3 26 9 52 5 8 3 16 8 6 1 16 0 4 1zM963 309l7 0 3-2 0-2-3-2-3-1-4 0-4 1-1 2 1 2zM925 305l4 1 6-1 5-2 1-2-1-2-5-4-8-4-8-3-30-5-6 0-9 2 2 2 3 2 26 7zM1120 301l7 1 3-1 0-2-1-2-2-2-6-2-30-8-4 1-2 1 3 2 5 2 14 3zM843 287l6 1 6 0 6-1 6-2-2-2-3-2-13-6-17-6-13-4-12-1-20-1-54-17-10-2-16 0-10-2-50-16-10-1-18-1-8-1-52-16-10-2-24-2-48-14-14-3-22-2-10-2-40-13-10-3-32-2-38-12-14-4-56-10-24-3-16 0-12 1-5 1-5 2-1 2 2 2 7 2 36 7 68 15 44 13 8 1 18 0 8 1 46 14 10 2 22 2 10 1 50 15 8 1 16 0 8 1 42 13 12 3 8 1 16 0 8 1 34 11 18 5 10 1 16 0 8 1 34 11 16 5 10 1 14-1 6 0zM1036 283l9 1 4-1 0-2-1-2-8-4-25-8-8-2-6 0-4 0-2 2 2 2 3 2 9 4zM1208 271l3 1 1-1zM949 265l14 1 5-1 1-2-6-4-9-4-27-9-8-1-8-1-6 1-4 2 7 4 14 6zM1134 259l9 0 0-2-6-4-12-4-10-2-2 0-2 2 2 2 8 4zM876 249l5 0 8-2 1-2-23-10-25-8-13-2-24-1-37-13-14-4-11-2-20-1-10-2-33-11-11-3-12-2-26-3-14-3-38-13-10-1-22-1-56-17-10-2-20-1-8-2-50-15-8-2-18 0-8-1-48-15-60-12-19-3-23-2-18 0-12 2-6 2 0 2 3 2 8 2 39 7 78 18 42 12 10 2 18 0 8 1 46 14 12 2 18 1 10 2 42 12 12 3 8 1 16 0 8 1 32 11 14 3 10 2 22 1 10 2 34 11 10 3 10 1 18 1 8 1 50 15 10 1 18 0 6 0 42 14 10 3zM1054 243l9 0 2 0 1-2-2-2-7-4-16-6-14-3-6 0-4 1 0 2 3 2 8 4 17 6zM966 225l13 2 4 0 5-2-1-2-7-4-20-8-11-4-14-2-12 2 0 2 13 6 16 6zM1152 219l9 2 2-1 2-1-5-4-11-4-12-3-6 1 1 2 4 2zM889 209l14 0 8-2-2-2-9-4-27-10-13-4-13-2-14 1-6-1-42-14-14-4-10-2-16 1-8-2-33-11-17-5-12-2-20-1-8-1-44-15-12-2-18-1-10-2-44-13-14-4-24-1-8-2-48-15-10-2-18 0-8-1-40-13-12-3-64-13-27-4-21-1-16-1-15 2-5 2 0 2 4 2 58 11 45 11 33 7 44 13 10 2 16-1 10 2 46 14 10 2 18 0 8 1 54 16 10 1 26 2 42 13 12 3 20 0 10 2 50 15 10 1 16 0 6 0 39 13 16 4 11 1 14-1 6 1 32 11zM1070 203l11 1 5-1 0-2-6-4-10-4-12-4-15-2-5 0-2 2 2 2 9 4zM991 187l10 0 2 0 3-2-1-2-3-2-8-4-23-8-10-2-10-1-8 1-2 2 29 12 12 4zM1169 179l10 1 3-1-5-4-10-4-8-2-8 0 0 2 3 2 9 4zM904 169l15 1 6-1 4-2-8-4-19-8-19-6-12-2-24-1-14-4-30-11-10-3-10-2-16 1-8-2-56-17-10-2-22 0-48-16-10-2-22-2-12-2-52-16-8-1-16 0-8-1-50-16-10-2-18 0-8-2-46-14-72-15-28-5-34-2-22 0-8 1-5 2 1 2 6 2 74 15 38 9 40 9 40 12 10 1 16 0 10 1 46 15 10 2 18 0 8 1 38 11 14 4 12 2 20 1 10 2 34 11 12 3 10 1 14 0 8 1 36 11 18 5 10 1 16 0 8 1 32 11 16 4 12 1 18 0 8 2 32 11zM1088 163l13 2 4-1 1-1-1-2-8-4-22-8-12-2-4 1-2 1 1 2 6 4 11 4zM1008 147l13 1 5-1 1-2-6-4-9-4-24-8-15-2-6 0-4 2 1 2 3 2 10 4 17 6zM1194 141l5 1 4-1-1-2-2-2-9-4-10-2-8 0 1 2 4 2 9 4zM933 131l10-1 2-1 1-2-6-4-14-6-26-8-13-2-18 0-6-1-36-13-12-4-10-1-20-1-8-1-14-4-31-11-11-3-8-1-14 1-8-1-48-16-12-2-24-2-10-2-38-13-12-3-10-1-16 0-8-2-38-13-12-3-10-2-16 0-8-1-21-6 0-2-79 0 0 2 44 10 40 12 10 1 16 0 8 1 12 3 36 12 12 2 16-1 8 1 46 14 12 3 22 1 10 2 52 15 8 1 14-1 8 1 32 11 16 4 14 2 20 1 10 2 32 11 10 3 12 1 20-1 12 4 34 11 10 3zM1113 125l9 0 2-2-2-2-7-4-16-6-8-2-6 0-4 0-2 2 5 4 9 4 11 4zM1025 107l12 1 8-1 0-2-7-4-19-8-12-4-8-1-6 0-6 1-1 2 5 4 9 4 11 4zM1213 101l6 1 4-1-2-2-9-4-15-4-4 0 0 2 3 2zM948 91l13 0 3 0 3-2-1-2-3-2-10-4-22-8-13-4-13-2-16 2-4 0-29-12-19-6-16-3-18-1-10-1-46-16-10-1-16-1-8 0-54-17-12-2-20-2-10-1-15-5 0-2-85 0 0 2 6 1 22 0 8 1 36 12 14 4 26 1 10 2 52 15 10 2 16-1 8 1 34 12 14 4 10 1 18 0 8 1 52 16 12 1 16-2 36 13zM1130 85l9 1 6-1-1-2-6-4-15-6-8-2-10-1-4 0-4 1 2 2 8 4zM1051 69l9 0 4-2-1-2-3-2-8-4-21-8-16-2-6 0-4 2 1 2 4 2 19 8 12 4zM1230 61l5 1 4-1-1-2-4-2-9-4-10-2-2 1-1 1 6 4zM965 51l14 1 5-1 3-2-3-2-9-4-32-12-8-2-8-1-18 2-36-13-26-8-10-1-20 0-21-7 0-2-48 0 0 2 43 14 12 2 16-1 6 1 45 14 15 3 10 1 16-2 31 12 13 4zM1148 45l11 2 4-1 1-1-1-2-3-2-21-8-14-3-4 0-4 1 1 2 6 4 11 4zM1067 29l12 1 5-1 0-2-2-2-7-4-9-4-13-4-10-2-10-2-6 1-4 1 1 2 8 4 22 8zM1254 23l6 0 0-2-2-2-9-4-8-2-5 0-1 2 3 2 9 4zM979 11l8 1 8 0 7-1 1-2-3-2-12-6 0-2-37 0 0 2 15 6zM1164 5l11 2 4-1 2-1-4-4 0-2-25 0 0 2z"/>
<path fill="#69b748" d="M-1 351l10 0 0-16-2-14-2-7-2-4-2-2-2 0zM31 351l20 0-2-20-1-12-3-7-2-3-2-1-2 1-2 2-3 8-2 14zM72 351l20 0-1-16-2-12-2-8-2-4-2-1-2-1-2 2-2 3-2 6-2 13zM113 351l20 0-1-14-1-9-4-13-2-4-2-2-2 1-2 4-4 11-1 10zM154 351l20 0 0-8-4-14 0-4 1-4 2-4 8-6 2-1 2 2 18 14 4 1 10-3 4 0 4 0 6 3 6 6 3 6 0 4-4 6 0 2 16 0-2-8 1-4 6-6 8-4 4 2 6 8 2 6 0 6 16 0 1-8 5-10 1-2-1-2-3-4-5-4-4-1-4-1-4 1-12 4-2 0-10-7-8-4-8-2-14-2-18-6-6-1-5 1-13 5-2 0-12-7-6 0-4 2-2 5 1 15-3 16zM194 351l20 0 0-2-2-4-3-5-2-2-4-2-4 3-2 2-2 4zM315 351l20 0 2-10-1-4-4-6-5-4-4-1-4 0-6 2-3 3 0 4 4 10zM354 351l21 0 0-6-1-4-5-7-2-2-4 0-6 4-2 3-1 4zM394 351l20 0 0-2-3-6-2-4-4-3-2 0-4 3-2 2-2 5zM436 351l16 0-1-8 1-4 5-10 1-4-1-2-2-4-4-3-6-3-6-1-12 0-16-7-6-2-6 0-14 2-18-7-20-5-20-7-8-2-18-1-10-1-16-4-26-9-14-3-28-4-16-1-18 2-4 2-2 2 1 2 4 2 29 7 24 4 54 16 8 1 14-1 8 2 16 6 22 4 18 9 4 0 10-5 6-2 4 2 12 10 4 2 4 0 10-4 6 0 6 4 4 4 3 5 1 6zM477 351l16 0 0-6 4-12 0-4-4-6-6-4-4 0-4 1-4 3-2 2 0 4 4 14zM516 351l18 0 1-10 0-4-4-6-4-3-4-1-4 1-4 2-3 3 0 4 3 10zM554 351l21 0-1-6-1-5-2-4-4-4-4 0-4 2-2 3-3 6zM595 351l18 0 0-2-4-9-2-2-4-1-4 3-2 2-2 5zM637 351l15 0-1-12 3-10 1-4-1-4-2-2-3-2-6-2-6 0-10 1-4-2-10-7-8-3-8 0-4 1-3 2-1 2 3 4 9 9 4 3 4 0 14-6 4 1 2 2 6 7 4 8 0 4zM677 351l15 0 1-8 3-10 0-4-5-6-6-3-6 0-3 3-2 2 0 4 4 14zM716 351l18 0 0-8-1-6-2-4-4-3-4-1-3 0-3 1-3 3-1 4zM755 351l19 0 0-6-1-4-2-4-4-3-4-1-2 0-4 4-2 6zM795 351l18 0 0-2-4-7-2-2-4-1-4 3-2 2zM837 351l14 0-2-12 3-14-1-4-2-2-4-2-4 0-4 1-2 1-1 2 7 16-1 4-3 8zM878 351l13 0 0-6 3-10 1-4-2-4-2-2-6-3-6 0-2 1-2 4 0 4 3 10zM917 351l16 0 0-12-2-4-4-3-2-1-4 0-4 2-1 2-1 4zM956 351l17 0-1-8-3-6-2-1-4-1-4 2-2 3-1 3zM996 351l16 0 0-2-3-5-2-2-4-1-2 1-3 3-2 4zM1038 351l12 0 0-2-3-6-2-2-2 0-2 3-3 5zM1079 351l11 0 0-6 3-10-1-4-2-4-5-3-4 0-2 1-2 3 0 3 3 12zM1118 351l14 0-1-12-2-3-2-2-4-1-2 1-3 3-1 4zM1157 351l15 0 0-6-3-5-4-3-4 1-2 1-2 4zM1197 351l14 0 0-2-4-5-4-1-4 3-2 3zM1240 351l9 0 0-2-4-3-2 0-3 3zM1281 351l7 0-1-8 2-6 0-3-1-3-3-2-3 0-2 2 1 4 2 8-2 6zM1319 351l11 0-1-10-2-3-2-1-2 0-2 2-1 4zM1358 351l13 0-1-4-1-3-4-3-4 0-2 4zM1399 351l8 0 0-5-4 0-2 1-2 2zM1042 329l3 2 2-2 1-2-1-4-2-1-2 0-2 1 0 3zM804 323l3 1 6-2 5-3 1-2-1-2-6-6-7-3-8-1-5 2-1 2 2 4 6 6zM1004 321l3 1 3-1 3-2 0-2 0-2-4-4-4-2-6-1-3 1-1 2 0 2 3 4zM561 315l4 1 4 0 7-5 2-2 0-2-4-4-4-2-23-5-22-9-8-2-18 0-24-5-38-13-10-1-20-2-10-2-50-15-12-2-18-1-8-2-36-11-16-4-40-6-18-2-10 1-8 1-4 2-1 2 1 2 11 4 65 14 40 12 34 4 14 3 28 9 12 2 38 4 28 10 32 6 6 1 12-1 6 0 6 2 16 8 6 2 16 1zM762 311l3 1 4-2 2-1 1-2-1-2-6-3-14-1-4-1-12-7-12-5-10-1-38-4-6-1-21-9-13-4-20-4-24-1-31-11-15-5-16-3-18-1-8-1-44-14-12-3-22-2-10-1-52-16-10-2-22-1-50-15-58-10-16-1-12 0-10 3-2 2 2 2 12 4 74 17 42 12 10 2 16 0 10 1 48 14 12 2 20 1 10 2 44 14 8 1 18 0 8 1 20 6 30 9 10 2 16-1 8 2 18 4 30 11 8 0 16 1 24 2 10 4 14 7 5 2 7 1 12-2 4 1zM925 303l6 0 4-2 0-2-4-4-10-4-12-2-4 0-2 1 0 1 9 6 8 4zM842 285l9 1 3-1 2-2-1-2-6-4-10-4-13-4-9-2-8-1-7 1-1 2 3 2 9 4zM757 267l8 1 6 0 6-1 1-2-6-4-9-4-28-9-14-2-16 2-46-17-12-4-10-1-16 0-6-1-56-17-10-2-16 0-8-1-35-12-14-4-13-2-28-3-14-4-28-10-12-3-8-1-16 0-8-2-36-11-16-4-53-10-19-2-14-1-11 1-8 2-2 2 2 2 6 2 93 21 42 13 10 1 16 1 10 1 43 13 11 2 22 2 10 1 52 15 8 1 16 0 6 1 40 12 14 3 10 2 16-1 6 1 33 11 19 5 12 1 16-2 4 1 23 9zM943 261l8 1 5-1-2-2-3-2-15-6-13-3-7 1 1 2 7 4zM861 245l12 1 3-1 1-2-6-4-9-4-19-6-14-2-4 0-3 2 1 2 4 2 9 4 11 4zM1045 237l2 0-1-2-4-2-5-1-2 1 3 2zM785 229l6 0 4-1 2-1-1-2-6-4-9-4-24-8-16-2-16 1-4-1-38-14-12-4-14-2-16 0-8-1-14-4-30-11-12-3-30-2-54-17-12-2-20-1-10-2-46-15-10-2-16 0-8-1-48-15-72-14-20-2-18 0-14 2-2 2 3 2 6 2 105 24 42 13 10 1 16 0 8 1 46 14 12 2 16 1 10 1 56 16 8 1 16 0 8 0 35 12 15 4 12 1 16 0 8 1 35 12 13 3 12 2 18-2 43 15 9 2zM959 221l10 2 2-1 3-1-5-4-15-6-13-2-2 0-2 2 6 4zM879 205l12 1 5-1-1-2-6-4-21-8-15-3-9 1 0 2 6 4 15 6zM800 189l13 0 2 0 3-2-2-2-3-2-9-4-30-10-13-2-12 2 0 2 12 6 23 8zM984 183l9 0 0-2-6-4-10-4-10-2-8 0 0 2 7 4 11 4zM712 171l9 1 6 0 8-1 3-2-7-4-14-6-26-9-16-3-18 0-8-1-36-13-10-3-10-2-18 0-10-2-54-17-12-2-16 0-8-1-48-16-12-2-16 0-10-2-36-11-16-5-62-12-22-3-18-2-16 0-13 2-2 2 3 2 7 2 117 27 42 13 10 1 16 0 8 1 48 15 10 1 24 1 54 15 12 2 24 1 12 4 26 9 10 2 10 2 18-1 8 2zM906 167l5 0 3-2-1-2-6-4-9-4-13-4-14-2-4 1-3 1 2 2 3 2 14 6 12 4zM817 149l14 1 4-1 1-2-6-4-9-4-16-6-10-3-6-1-8-1-6 1-4 2 1 2 4 2 14 6 11 4zM1003 143l6 1 4-1-1-2-3-2-10-4-14-4-7 0-1 2 7 4zM741 133l12 0 6-2 0-2-9-4-15-6-28-9-14-2-14 1-6-1-36-13-14-4-12-2-18-1-10-2-42-13-14-4-10-1-14 0-8-1-48-16-12-3-16 0-8-1-12-3-28-9-15-4-27-5-41-9-27-4-20-1-16-1-12 2-1 2 3 2 7 2 41 9 51 13 39 8 38 12 10 2 18-1 10 2 46 14 10 2 16 0 8 0 50 15 12 2 20 1 12 2 34 11 12 4 10 1 14-2 6 1 43 14zM921 127l10 1 4-1 0-2-2-2-8-4-16-6-16-3-6 0-4 1 1 2 7 4 16 6zM832 109l13 2 4 0 5-2 0-2-6-4-14-6-11-4-8-2-10-1-8 0-8 1 1 2 4 2 25 10zM1019 103l8 1 4-1-2-2-3-2-14-6-9-1-2 0-3 1 2 2 7 4zM758 93l15 0 9-2-4-2-26-10-24-8-13-2-14 1-6 0-29-11-19-6-14-3-24-2-10-2-40-13-12-3-8-1-16 0-8-1-38-14-14-4-8-1-18 0-8-1-22-7 0-2-77 0 0 2 43 9 38 12 10 1 18 0 8 1 48 15 10 2 18-1 8 1 44 14 12 2 22 2 10 1 50 15 12 1 14-1 6 0 38 14zM939 87l10 1 6-1-1-2-7-4-21-8-13-3-9 1 0 2 5 4 15 6zM858 71l11 1 3-1 2-2-1-2-3-2-8-4-23-8-10-2-10-1-11 1-1 2 31 12zM1044 65l6 0 1-2-5-4-11-4-10-2-2 0-2 2 2 2 8 4zM771 53l14 1 7-1 4-2-3-2-18-8-24-9-14-2-16 1-6-1-32-11-20-6-14-3-20-1-8-1-21-7 0-2-55 0 0 2 12 2 27 10 13 4 12 1 18 1 8 1 43 13 15 3 10 1 14-1 4 0 35 13zM955 47l12 1 5-1-1-2-7-4-20-8-11-2-4 0-3 2 0 2 7 4 9 4zM876 31l13 1 6-1 0-2-6-4-9-4-25-8-9-2-7-1-6 1-4 2 2 2 4 2 9 4 18 6zM1063 25l6 1 3-1-1-2-3-2-10-4-9-2-8 0 1 2 4 2zM787 13l10 2 6 0 8-2 2-2-7-4-13-6 0-2-39 0 0 2zM980 9l9 0 1 0 2-2-2-2-7-4 0-2-27 0 0 2 5 2 11 4zM521 1l8 1 10-1 0-2-18 0z"/>
<path fill="#6ab85b" d="M-1 351l10 0-2-26-2-7-2-4-2-2-2 0zM31 351l19 0-1-16-1-12-3-8-2-2-2-1-2 1-2 2-2 6-2 12zM72 351l20 0-1-16-2-11-2-6-2-3-2-2-2 0-2 1-2 4-2 5-2 12zM114 351l19 0-1-14-1-8-4-10-2-3-2-2-2 1-2 3-3 7-2 10zM155 351l19 0 0-8-5-14 0-4 2-6 6-8 1-2-1-2-3-2-5-2-6 0-2 1-2 3-1 4 1 12-4 16zM194 351l20 0 0-2-2-4-3-5-2-2-4-1-2 1-4 3-2 4zM236 351l16 0-2-8 1-4 4-5 10-7 2 0 2 3 6 8 2 5 0 8 15 0 1-7 6-11 0-4-6-6-4-2-4-1-8 1-9 4-1 1-12-9-8-4-8-2-14-2-18-5-10-1-6 2-3 2-2 2 0 2 2 2 11 10 4 3 4 0 10-2 6-1 4 2 6 4 6 6 2 4-1 4-4 6zM315 351l19 0 2-10 0-4-4-6-5-3-4-2-4 1-4 1-4 3-1 4 4 10zM354 351l21 0 0-6-2-4-4-7-4-2-2 1-6 4-3 6zM395 351l19 0 0-2-5-9-2-2-4-1-4 2-2 3-2 5zM437 351l15 0-1-8 0-4 5-10 1-4 0-2-3-4-5-3-4-2-6-1-14-1-14-7-8-2-6 1-12 4-17-9-19-5-20-7-10-2-18-1-10-2-16-4-26-9-12-2-28-4-14-1-14 2-5 1-2 2 1 2 5 2 12 4 11 3 22 4 24 7 30 9 8 1 14-1 6 1 18 6 22 4 18 9 6-1 14-7 4 2 12 11 4 2 4 0 10-4 6 0 4 2 4 4 5 8 1 6-2 8zM477 351l15 0 1-8 4-12-3-6-3-3-4-2-4 0-4 1-3 2-2 4 0 4 3 12zM516 351l18 0 1-10-1-4-3-5-4-3-4-1-4 0-4 2-2 3 0 4zM555 351l19 0-1-10-4-6-4-2-2 0-4 2-4 6zM595 351l18 0 0-2-4-8-4-3-2 0-4 3-2 2-1 4zM637 351l15 0-2-12 4-12-1-4-4-5-6-2-8 0-3 1-2 2 1 2 6 10 3 6 0 4-3 8zM678 351l14 0 0-8 3-8 0-4-1-4-2-2-3-2-4-2-6 1-2 1-2 4 0 4 3 10zM716 351l17 0 0-12-2-5-4-3-6-1-4 2-2 2-1 5zM755 351l19 0-1-8-4-7-4-2-2 0-4 2-2 3-1 4zM796 351l16 0 0-2-3-6-4-3-2 0-4 3-2 2zM838 351l13 0 0-2-3-8-1-4 3-8 0-4-2-4-5-2-4 1-2 1 0 2 5 14 0 4-4 8zM878 351l13 0 0-6 2-10 0-4-2-4-2-2-4-2-4 0-2 1-2 3 0 4 2 12zM917 351l15 0 0-8 0-4-3-4-2-2-2-1-4 0-2 1-2 3-1 3zM956 351l17 0-1-6-3-6-2-2-4-1-4 2-2 5zM997 351l14 0 0-2-4-6-4-1-4 3-2 4zM1039 351l11 0 0-2-3-4-2-1-2 0-4 5zM1080 351l9 0 0-8 2-10-2-4-4-2-4 0-2 2 0 4 3 10zM1118 351l13 0-1-10-3-5-4-1-2 1-2 3zM1158 351l13 0 0-5-2-4-4-3-4 1-2 3zM1199 351l11 0 0-2-3-3-4-1-4 3zM1242 351l5 0 0-2-2-1-2 0-1 1zM1284 351l2 0-1-3-1 1zM1321 351l7 0-1-7-2-2-2 1-2 5zM1360 351l9 0 0-2-2-4-2-1-2 0-2 1zM1402 351l5 0 0-3-4 0-1 1zM604 323l5 1 7-3 6-4-1-2-7-6-7-3-8-1-6 2-1 2 1 4 6 6zM803 321l4 1 5-1 3-2 1-2 0-2-4-4-5-3-6-1-4 0-2 2 0 2 0 2 4 4zM1003 317l4 1 2-1 0-2-2-2-2-1-4 0-1 1 1 2zM559 313l6 2 4-1 4-3 2-2 0-2-1-2-3-2-4-2-18-4-18-7-8-3-6-1-14 1-6-1-26-6-32-12-10-1-30-3-52-17-12-2-18-1-8-1-37-12-17-4-30-4-22-2-14 0-5 2-1 2 1 2 9 4 62 15 36 11 10 1 16 1 10 1 14 4 26 8 14 3 36 3 8 2 24 9 30 5 6 1 12-2 6 1 22 10 6 2 16 1 4 1zM724 303l9 1 6-1 2-2-1-2-2-2-11-6-12-2-6 0-4 0-1 2 3 2 9 6zM922 299l5 0 0-2-3-2-3-1-2 0-2 1 2 2zM647 287l8 1 6 0 4-1 2-2-4-4-13-6-20-6-11-2-8 0-7 0-7 2zM836 281l9 2 3-2-1-2-4-2-10-4-12-2-7 0 2 2 4 2zM572 271l9 0 11-2 0-2-18-8-16-6-14-4-15-3-22 0-12-4-24-9-14-4-10-2-20-1-10-2-50-16-10-2-18-1-10-1-34-11-14-4-48-8-18-2-16 1-6 1-2 2 2 2 10 4 70 17 38 11 12 2 22 1 52 15 10 1 20 1 8 1 48 15 8 1 16-1 8 1 20 6 26 9zM755 265l10 1 4-1 0-2-3-2-8-4-10-4-13-4-12-1-2 1-1 2 5 4 10 4zM679 249l7 0 5-2-1-2-8-4-20-8-13-4-8-1-8 0-7 1-1 2 12 6 16 6 14 4zM854 241l7 1 5-1-2-2-4-2-10-4-11-2-2 0-1 2 7 4zM589 231l14 1 7-1 4-2-3-2-14-6-36-12-12-2-16 1-6-1-46-16-16-3-20-2-10-2-40-13-12-3-8-1-16-1-8-1-38-12-16-4-48-8-18-3-20 0-7 1-4 2 2 2 10 4 39 10 42 10 38 11 10 2 18 0 8 1 44 13 12 2 22 2 10 1 38 12 12 3 10 1 14-1 6 0 38 13zM772 225l9 1 4 0 3-1-1-2-6-4-15-6-17-3-6 0-4 1 2 2 8 4zM692 209l11 0 2 0 3-2-1-2-3-2-9-4-22-8-10-2-8 0-6 0-6 2 28 12 12 4zM872 201l7 1 4-1-6-4-10-4-10-1-3 1 6 4zM605 191l10 1 8 0 10-1 1-2-36-14-15-5-12-2-16 1-6-1-32-11-20-6-14-3-20-1-8-1-48-16-12-2-16-1-8-1-38-12-14-4-60-11-15-2-23-1-7 1-5 2 1 2 11 4 46 12 46 10 38 12 12 2 16-1 8 1 44 14 12 2 26 2 14 3 28 9 16 4 8 1 16-1 6 0 33 12zM801 187l4 0 3-2-2-2-7-4-17-6-15-3-4 0-4 1 1 2 3 2 8 4 19 6zM709 169l8 1 6 0 5-1 0-2-6-4-8-4-11-4-14-4-16-2-10 2 1 2 10 4zM897 163l6 0 0-2-3-2-9-4-8-2-5 0-1 2 3 2 9 4zM634 153l7 0 6-2 2 0 0-2-27-12-19-6-10-1-16 0-8-1-54-18-12-2-20-1-8-1-46-16-12-3-18 0-8-1-38-12-15-4-61-12-16-3-28-1-8 0-7 2 1 2 11 4 62 16 41 9 38 12 10 1 18 0 8 1 46 14 10 2 20 0 8 1 38 12 16 4 10 1 22 0 8 2 30 11 10 3zM817 147l6 0 2-2-2-2-7-4-16-6-13-2-4 0-2 2 2 2 3 2 8 4 12 4zM740 131l5 0 4-2-1-2-3-2-9-4-16-6-13-4-14-1-6 1-1 2 6 4 21 8 14 4zM915 123l6 1 3-1-2-2-9-4-8-2-7 0 2 2 4 2zM647 113l12 1 5-1 3-2-1-2-11-6-15-6-13-4-12-2-20-1-10-2-40-13-16-5-10-1-14 0-8-1-38-13-14-4-10-2-16 0-8-1-48-15-79-16-17-2-20-2-12 1-8 1 0 2 12 4 77 20 35 8 38 11 12 2 18 0 6 0 8 2 30 10 12 4 10 1 16-1 6 1 10 2 29 10 15 4 10 1 20 0 8 2 34 11zM831 107l8 1 6-1 0-2-6-4-15-6-11-3-6 0-4 1 0 2 6 4 10 4zM755 91l8 0 4-2-2-2-7-4-27-10-14-2-4 0-5 2 1 2 3 2 13 6 18 6zM935 83l4 0-1-2-8-4-8-2-6 0 1 2 4 2zM664 73l15 2 8-2 1-2-6-4-9-4-26-9-16-3-20-1-6-1-12-3-30-11-14-4-10-1-14 0-6 0-8-2-42-16-12-2-20 0-8-1-23-8 0-2-74 0 0 2 41 9 38 11 10 2 18-1 8 1 38 13 14 3 8 1 16-1 6 1 34 11 15 4 11 2 18 0 10 1zM859 69l4 0 3-2-1-2-7-4-18-6-13-2-4 1-1 1 6 4 10 4 11 4zM768 51l7 1 6-1 2 0 1-2-5-4-8-4-10-4-12-4-12-1-6 1-1 2 5 4 9 4 11 4zM949 43l6 1 4-1-2-2-8-4-8-2-3 0-1 1 0 1 2 2zM692 35l11 0 6-2-1-2-7-4-27-10-15-4-8-1-20-1-8-1-25-9 0-2-46 0 0 2 41 14 14 2 18 0 8 0 42 14zM878 29l6 0 1-2-2-2-8-4-19-6-11-2-5 2 2 2 3 2 10 4 13 4zM785 11l12 2 4-1 3-1 0-2-3-2-11-6 0-2-32 0 0 2 15 6zM974 5l7 0-1-2-3-2 0-2-14 0 0 2z"/>
<path fill="#6bb96e" d="M-1 351l10 0-1-12-1-12-3-8-3-4-2 0zM31 351l19 0-1-17-2-10-2-6-2-2-2-1-2 1-2 2-2 5-2 12zM73 351l18 0 0-14-2-10-2-6-2-4-2-1-2 0-2 1-3 8-2 12zM114 351l18 0 0-14-2-8-3-8-2-2-2-2-2 1-2 2-3 7-2 10zM155 351l19 0-1-10-5-16 1-4 6-10 0-2-1-2-5-3-4 0-2 0-2 2-1 3 0 14-5 16zM194 351l20 0 0-2-2-4-3-5-4-2-2-1-2 1-4 4-2 4zM237 351l15 0 0-2-2-6 0-4 4-4 9-8 0-2-3-4-7-5-8-3-20-3-18-6-6-1-4 1-7 3-2 2 0 2 1 2 8 8 6 4 4 1 10-3 6 0 6 2 5 4 5 6 2 4-1 4-3 6zM277 351l15 0 1-8 5-10 0-2 0-2-3-4-6-4-4-1-6 1-6 2-3 2-1 2 7 14 1 4zM316 351l18 0 2-10-1-4-4-6-4-3-4-1-4 0-4 1-4 3 0 4 4 11zM354 351l21 0-1-8-2-4-3-4-2-1-4-1-2 1-4 3-3 6zM395 351l18 0 0-2-4-9-4-3-2 0-4 3-2 2-2 5zM437 351l15 0-2-8 0-4 5-10 1-4-1-3-2-3-4-3-6-2-18-1-12-6-8-3-8 1-6 2-2 2 1 2 8 8 5 4 2 1 4 0 14-4 4 1 4 3 6 7 3 6 0 4-3 8zM477 351l15 0 0-8 4-12-1-3-2-3-6-4-4-1-4 2-4 3 0 2 0 4 3 12zM516 351l18 0 0-10 0-4-3-4-4-3-4-2-4 1-4 2-1 2-1 4zM555 351l19 0-1-8-4-7-4-3-4 1-2 2-2 3-2 4zM596 351l17 0 0-2-4-7-2-2-4-1-4 2-2 3zM637 351l14 0-2-12 3-10 1-4-2-4-2-2-6-2-6 0-4 2 0 2 8 16 0 4-4 8zM678 351l13 0 0-8 3-8 0-4-1-3-2-3-6-3-5 1-3 2-1 2 0 4 3 10zM717 351l16 0 0-8 0-4-2-4-4-3-6-1-4 2-1 2-1 4zM756 351l17 0-1-8-3-5-2-2-4-1-4 3-3 5zM796 351l16 0 0-2-3-5-2-2-4-1-2 1-3 3-2 4zM838 351l12 0-1-5-4-5-2 1-2 2-3 5zM879 351l11 0 0-8 2-8 0-4-3-4-4-2-4 0-2 2-1 2 2 14zM918 351l14 0-1-11-1-3-3-3-4-1-2 1-3 3-1 4zM957 351l15 0-1-6-2-5-4-2-2 0-3 1-2 4zM998 351l13 0 0-2-4-5-4 0-4 2-1 3zM1040 351l9 0 0-2-4-3-2 0-3 3zM1081 351l7 0 0-2-3-5-4 5zM1119 351l11 0-1-8-2-4-2-1-2 0-3 3zM1158 351l12 0-1-6-2-3-2-1-2 0-2 1-2 4zM1200 351l8 0 0-2-3-2-2 0-3 2zM1325 351l0-2zM1362 351l5 0 0-2-2-2-2 0-1 2zM1084 339l1 2 2-2 1-4-1-4-2-1-2 0-1 3 1 4zM843 331l2 1 2-2 1-3 0-2-2-2-3-1-3 1 0 2zM603 321l4 2 4-1 6-3 1-2 1-2-4-4-7-4-5-1-6 1-3 2 1 4 3 4zM804 319l3 1 4-1 2-2 0-2-4-4-4-2-5 0-2 2 0 2 3 4zM364 317l5 0 5-2 5-4 2-2-1-2-5-4-8-4-20-5-19-7-9-2-16 0-8-2-20-5-26-8-16-4-24-2-12-1-12 2-4 2 1 2 3 2 17 6 23 5 24 7 32 9 6 0 14-1 6 1 19 7 21 4zM563 313l4 0 3-2 2-2 0-2-1-2-3-2-5-2-16-3-15-7-9-3-6 0-6 0-6 1-2 2 13 8 9 5 6 1 16 1zM723 301l8 1 4-1 1-2-4-4-5-2-8-2-6 1-1 1 2 2zM479 293l10 0 7-2 1-2-10-4-18-5-18-7-12-4-10-2-20-1-10-2-48-15-14-3-26-2-36-12-14-3-22-4-30-3-14 0-3 1-3 2 0 2 8 4 58 14 34 11 10 1 18 1 10 1 12 3 27 9 13 3 12 1 24 1 8 2 24 10zM645 285l10 1 5-1 0-2-2-2-6-4-15-5-18-3-4 0-3 2 7 4zM566 269l11 1 3-1 3-2-1-2-3-2-8-4-10-4-13-4-19-3-18 1-4-1-27-11-19-6-12-3-28-2-14-4-38-13-12-2-18-1-8-1-36-12-16-4-56-8-16-1-4 1-4 2 0 2 3 2 12 4 59 15 38 11 10 2 24 0 50 15 12 2 20 0 8 1 36 12 12 3 12 1 16-2 41 14zM748 261l7 1 4-1-7-4-10-4-9-2-2 1-2 1 7 4zM665 245l12 2 5-2-2-2-3-2-20-8-14-3-4 0-5 1 1 2 6 4 10 4zM585 229l14 1 5-1 0-2-6-4-10-4-25-8-14-2-6 0-6 2 2 2 14 6 17 6zM773 223l4 0 1-2-7-4-6-2-8-2-4 0-1 2 3 2 10 4zM505 213l12 0 9-2-1-2-7-4-15-6-18-6-17-4-21-2-10-1-50-17-10-1-18-1-8-1-36-12-14-4-66-11-17 0-9 2 0 2 3 2 12 4 29 8 40 9 36 11 12 2 18 0 8 1 42 13 14 3 20 0 10 2 42 13zM690 207l9 0 1-2-1-2-7-4-17-6-14-2-4 1-1 1 5 4 9 4 11 4zM601 189l14 2 7-2 0-2-7-4-20-8-12-4-14-1-7 1-2 2 7 4 14 6zM784 181l9 2 2-1 0-1-8-4-6-2-8-1-3 1 3 2zM522 173l15 1 7-1 3-2-2-2-14-6-30-10-18-4-24-1-12-4-38-13-12-3-18 0-8-1-36-12-16-4-70-13-12 0-10 0-6 1-2 2 8 4 13 4 30 8 45 11 34 10 12 2 18 0 6 0 8 2 38 13 12 2 18-1 10 2 36 11zM707 167l8 1 6-1-1-2-6-4-16-6-15-3-6 0-3 1 2 2 8 4zM627 151l10 0 4-2-2-2-2-2-8-4-22-8-10-2-6 0-6 1-4 1 1 2 18 8 17 6zM808 143l6 0-1-2-7-4-9-2-4-1-2 1 1 2 4 2zM540 133l9 1 8 1 10-2 0-2-18-8-32-11-14-2-18 0-8-2-48-17-12-2-18 0-8-1-38-13-16-4-58-11-18-3-22 0-5 0-4 2 2 2 5 2 13 4 44 12 39 9 36 11 12 2 18-1 8 1 36 12 16 4 8 0 14 0 8 1 35 11zM725 127l10 1 5-1-1-2-8-4-16-6-12-3-9 1 1 2 6 4 10 4zM643 111l12 1 5-1 1-2-2-2-7-4-21-8-16-3-8 0-7 1 0 2 4 2 26 10zM825 103l8 2 3-2-7-4-5-2-7-1-3 1 2 2zM573 95l6 0 8-2-2-2-9-4-39-14-14-3-18 1-6-1-41-15-13-4-10-1-16 0-6-1-50-16-72-14-16-2-18-2-10 0-7 2 1 2 5 2 13 4 51 14 43 10 36 11 12 1 16 0 8 0 48 16 12 1 16-1 6 0 41 14 13 3zM742 87l11 1 4-1-1-2-7-4-16-6-12-2-4 1-2 1 2 2 7 4zM672 73l5 0 4-2-1-2-2-2-8-4-10-4-13-4-11-2-7 0-8 0-3 2 8 4 22 8 13 4zM845 63l8 2 1-2-9-4-6-1-2 1zM584 55l13 0 7-2-2-2-14-6-21-8-12-4-14-2-14 1-6 0-52-19-12-2-18 0-8-1-26-9 0-2-71 0 0 2 39 9 38 11 10 1 18-1 8 1 36 13 12 3 12 1 14-2 6 1 38 13zM766 49l9 0 2-2-6-4-14-6-12-3-7 1 0 2 5 4 9 4zM688 33l11 0 2-2-5-4-8-4-25-8-16-2-4 0-5 2 2 2 4 2 16 6 19 6zM859 21l6 1 0-1-4-1zM598 15l7 1 8 0 4-1 3-2-6-4-18-8 0-2-40 0 0 2 16 6 17 6zM783 9l10 1 4-1-1-2-2-2-8-4 0-2-23 0 0 2 4 2z"/>
<path fill="#6abb80" d="M-1 351l10 0-2-22-2-6-2-3-2-2-2 0zM32 351l18 0-1-14-2-11-2-5-2-3-2 0-2 0-2 3-2 5-2 11zM73 351l18 0-2-22-2-6-2-3-2-2-2 0-2 2-3 5-2 10zM114 351l18 0 0-12-2-8-3-8-2-2-2-1-2 0-2 2-3 7-1 8zM155 351l19 0-1-10-6-16 0-4 6-10 0-2-2-2-2-1-4 0-2 1-2 3 0 11-5 16zM195 351l19 0 0-2-2-4-3-4-4-3-2 0-4 2-2 2-2 4zM237 351l15 0-3-10 2-4 11-10 0-2-3-4-6-4-8-4-20-3-18-6-8 0-8 3-1 2-1 2 1 2 7 7 6 5 4 0 10-2 6 0 6 2 6 5 5 5 1 4 0 4-4 6zM277 351l15 0 1-8 4-8 1-4-3-5-6-4-4-1-6 0-5 2-3 2-1 2 0 2 7 12 1 4zM316 351l18 0 2-10-1-4-4-6-4-3-4-1-4 0-4 2-3 2-1 4 4 12zM355 351l19 0 0-8-2-4-3-3-2-2-4 0-5 3-3 6zM395 351l18 0 0-2-4-8-4-3-2 0-4 2-2 3-2 4zM437 351l15 0-2-8 0-4 5-10 0-4-1-4-2-2-5-3-6-2-6 0-8 1-2 0-12-7-7-3-7 0-6 3-1 1 0 2 1 2 6 6 6 4 6 0 12-5 2 0 4 3 7 8 4 8 0 4-3 8zM478 351l14 0 0-8 2-8 1-4-1-4-2-2-5-3-6 0-4 2-2 3 0 4 3 12zM516 351l17 0 1-12-3-6-4-3-6-1-4 2-2 2-1 4zM555 351l19 0-1-8-4-6-4-3-2 0-4 3-3 6zM596 351l16 0 0-2-3-6-2-2-4-1-4 2-2 3zM638 351l13 0 0-2-3-10 3-10 0-4-2-4-6-3-6 1-2 2 1 4 6 12 0 4-4 8zM678 351l13 0 0-8 2-8 0-4-2-4-2-2-4-2-4 1-2 1-1 2-1 4 2 12zM717 351l15 0 1-8-1-4-2-4-3-2-2-1-4 0-3 1-1 2-1 4zM756 351l17 0-1-6-3-6-2-2-4-1-4 3-2 4zM797 351l14 0 0-2-2-4-2-2-4-1-4 3-2 4zM839 351l11 0 0-2-3-4-2-2-2 1-2 2-2 3zM880 351l9 0-1-8 2-10-1-4-4-2-3 0-2 2 0 4 2 10zM918 351l13 0-1-10-2-4-3-2-4 1-2 2-1 3zM957 351l14 0 0-5-2-4-4-3-4 1-3 5zM998 351l12 0 0-2-3-3-4-1-2 1-2 2zM1041 351l6 0 0-2-2-2-2 1-2 1zM1083 351l3 0 0-2-1-1-2 1zM1121 351l8 0-2-8-2-2-2 1-1 1-1 3zM1160 351l9 0 0-2-2-5-2-1-2 0-2 2zM1202 351l5 0 0-2-4-1-1 1zM606 321l3 0 5-2 2-2 0-2-1-2-5-4-5-2-4 0-4 2-1 2 2 4 4 4zM806 317l1 0 2-2-2-2-4-1-1 1 1 2zM361 315l4 2 6-2 7-4 1-2-1-2-4-4-7-3-20-6-18-6-10-2-16-1-8-1-52-15-12-2-28-3-12 1-5 2 0 2 3 2 14 5 20 5 27 8 31 8 6 1 14-2 6 1 20 8 20 3zM563 311l4 0 2-2 0-2-2-2-4-2-14-2-15-8-11-4-9 0-4 2 0 2 5 4 10 6 8 1 16 0zM724 299l3 1 3-1 0-2-3-2-6-1-2 1 2 2zM476 291l9 0 4-2-3-2-15-5-22-9-8-3-10-2-20 0-10-2-52-17-12-2-18-1-8-2-35-11-15-4-18-3-30-3-12 0-6 2-1 2 3 2 11 4 45 11 36 11 10 2 18 0 8 1 14 4 28 9 11 2 11 1 20 0 6 1 10 3 23 9zM643 283l6 1 5-1 0-2-2-2-9-4-10-2-8 0 1 2 3 2zM562 267l11 1 4-1 0-2-2-2-7-4-17-6-18-3-6 0-3 1 1 2 8 4zM483 251l10 0 6-2 0-2-3-2-9-4-15-6-11-4-13-2-19-1-6-1-56-18-12-2-22-1-39-13-13-3-44-7-14-1-14 0-3 1-1 2 2 2 5 2 12 4 51 13 34 10 12 2 16 0 8 1 40 12 14 3 12 1 14 0 8 1 34 11zM664 243l8 0-1-2-3-2-9-4-10-2-7 0 1 2 7 4zM581 227l10 1 4 0 2-1 0-2-7-4-22-8-8-2-7-1-6 1-2 2 6 4 10 4zM499 211l8 1 6 0 5-1 1-2-5-4-8-4-23-8-16-3-26-2-8-2-42-15-12-3-20 0-8-1-34-12-16-4-62-10-16-1-4 1-3 2 2 2 4 2 12 4 59 15 36 11 12 2 18-1 8 2 35 11 15 3 10 1 16 0 8 1zM680 203l9 2 2-1 2-1-6-4-11-4-7-1-4 1 1 2 4 2zM597 187l12 2 4-1 2-1-1-2-7-4-21-8-11-2-4 1-3 1 0 2 7 4 9 4zM517 171l14 2 4 0 5-2-1-2-6-4-27-10-21-5-24 0-10-4-30-11-14-4-10-2-16 0-8-1-48-16-62-11-22-2-8 0-5 2 1 2 4 2 17 6 22 6 39 9 36 11 14 3 16-1 8 1 10 2 26 9 16 4 10 1 14-1 8 1zM708 165l3 0 1-2-7-4-6-2-10-2-2 1-1 1 8 4zM623 149l8 0 2 0 1-2-1-2-7-4-16-6-9-2-6 0-4 0-2 2 6 4 8 4 11 4zM547 133l8 0 4-2-1-2-8-4-27-10-10-3-10-1-8 0-12 1-38-15-20-6-10-1-14 0-6-1-8-2-29-10-14-4-65-12-14-2-14-1-10 1-1 2 8 4 26 8 22 6 37 9 36 10 12 2 16-1 8 1 39 13 13 3 10 0 14-2 4 0 35 13 15 4zM718 123l7 1 2 0 1-1-3-2-10-4-8-1-2 0-1 1 3 2zM640 109l9 1 6-1-1-2-6-4-15-6-14-3-6 0-3 1 1 2 7 4zM562 93l12 0 3-2-5-4-9-4-16-6-14-4-8-1-8 0-7 1-2 2 14 6 16 6 13 4zM743 85l4 0 0-2-8-4-6-2-6-1-3 1 1 2 4 2zM479 77l12 0 7-2 1-2-26-12-22-8-14-2-16 0-8-1-38-13-15-4-75-14-24-2-6 0-4 2 2 2 5 2 32 10 22 6 41 9 34 11 14 2 16-1 8 1 38 12zM669 71l4 0 2-2-4-4-15-6-7-2-12-2-6 0-2 2 7 4 10 4 12 4zM577 53l12 1 4-1 2-2-6-4-9-4-25-9-14-2-7 1-3 2 1 2 4 2 14 6 13 4zM758 45l7 1 3-1-2-2-8-4-11-2-1 2 2 2zM494 37l13 1 6-1 4-2 0-2-8-4-18-8-17-6-15-3-20 0-8-1-27-10 0-2-68 0 0 2 35 8 40 11 12 1 16-1 8 2 33 11zM686 31l6 0 2-2-2-2-8-4-19-6-12-2-5 2 6 4 10 4 13 4zM593 13l14 1 6-1 0-2-6-4-14-6 0-2-34 0 0 2 5 2 15 6zM784 7l5 0-1-2-7-4 0-2-12 0 0 2 3 2z"/>
<path fill="#69bd93" d="M-1 351l10 0-3-20-1-6-2-3-2-2-2 0zM32 351l18 0-1-12-2-11-2-5-2-2-2-1-2 0-2 3-2 5-2 9zM73 351l18 0-2-20-2-6-2-3-2-2-2 0-2 2-3 5-2 10zM114 351l18 0-1-12-1-8-3-6-2-3-2 0-2 0-2 2-2 4-2 10zM155 351l19 0-2-10-7-17-2 0-4 6-2 5-1 6zM195 351l18 0 0-2-4-8-4-3-2 0-4 2-2 2-2 5zM237 351l14 0 0-2-2-8 2-4 10-10 0-2-3-4-5-4-8-4-6-1-14-2-18-5-8 0-6 2-2 2 0 2 0 2 5 6 7 5 4 1 10-3 6 0 6 3 6 4 5 6 2 4 0 2-5 8zM278 351l14 0 0-8 4-8 1-4-2-5-6-4-4-1-6 1-7 3-1 2 0 2 5 10 2 4zM316 351l18 0 1-10 0-4-4-5-4-3-4-1-4 0-4 1-3 4 0 4 4 10zM355 351l19 0-1-8-4-7-4-2-2 0-5 3-3 6zM395 351l18 0 0-2-4-7-2-2-4-1-4 2-2 3-1 3zM437 351l14 0-2-8 0-4 5-12 0-4-3-4-4-2-6-2-6 0-6 2 0 2 9 12 3 6 0 4-4 8zM478 351l13 0 0-8 3-8 0-4-1-4-2-2-4-2-6 0-3 2-2 2 0 4 2 12zM517 351l16 0 0-12-2-5-4-3-6-1-3 1-2 2-1 4zM556 351l17 0-1-8-3-6-4-2-4 1-2 2-3 5zM596 351l16 0 0-2-3-6-4-2-2-1-2 1-3 4zM638 351l12 0 0-2-1-4-4-6 1-2 4-8 0-4-3-4-4-2-4 1-2 1 0 2 1 4 6 10 0 2-6 10zM679 351l11 0 0-8 2-8 0-4-2-4-5-3-4 1-2 2-1 2 2 12zM718 351l14 0 0-8-1-4-2-4-2-1-2-1-4 0-3 2-1 4zM757 351l15 0 0-6-3-5-4-3-4 1-3 5zM797 351l14 0 0-2-4-5-4-1-4 3-2 3zM840 351l9 0 0-2-2-3-2-1-2 0-3 4zM881 351l8 0 0-2-3-6 2-10-1-3-2-1-2 1-1 1 0 4 2 6 0 2-3 6zM919 351l11 0-1-10-2-3-2-1-3 0-2 2-1 4zM958 351l13 0-1-4-1-3-2-3-2-1-2 0-2 2-2 3zM999 351l10 0 0-2-2-2-4-1-4 3zM1044 351l1 0 0-2-1 0zM1122 351l5 0 0-3-2-2-2 1zM1161 351l7 0 0-2-1-2-2-1-2 0-2 3zM403 321l4 1 4 0 10-5 0-2-4-4-8-4-6-1-6 1-3 2-1 2 3 4zM164 319l1 1 5-7 1-2-2-3-4 0-2 2 0 5 0 2zM605 319l2 1 4-1 2-2 1-2-1-2-4-3-4-1-4 0-2 2 0 2 3 4zM362 315l5 1 4-1 5-4 1-2 0-2-5-4-5-3-20-5-18-7-10-2-20 0-22-6-26-9-16-3-34-3-8 1-2 1-1 2 2 2 9 4 22 5 28 9 32 8 6 0 10-1 6 0 20 8 22 4zM560 307l4 0-3-1zM524 301l9 2 8-2 0-2-2-2-10-5-8-2-6 1-1 2 1 2zM451 287l22 1 4 0 1-1-26-12-11-4-14-2-18 1-54-19-18-4-24-2-38-12-14-4-16-2-30-3-12 1-2 0-2 2 2 2 10 4 44 12 34 10 10 2 18 0 8 1 38 11 16 3 14 1 18-1 6 2 26 11zM640 279l3 1 2 0 0-1-5-2-2 0zM560 265l7 1 5-1-1-2-2-2-15-6-13-3-6 0-2 1 1 2 4 2zM477 249l12 1 4-1 1-2-2-2-7-4-22-8-16-3-17 1 2 2 15 6 16 6zM398 233l15 1 8-1 7-2-3 0-35-14-19-6-14-3-16 0-8-1-36-13-16-4-52-7-14 0-4 2 1 2 4 2 11 4 48 12 32 10 14 3 16-1 8 1 35 11zM579 225l8 1 3-1-1-2-4-2-15-6-9-2-8 0 0 2 7 4zM495 209l12 2 4 0 3-2 0-2-3-2-8-4-10-4-13-4-11-2-8 0-7 0-4 2 26 10zM413 193l16 1 10-1 3-2-34-14-18-6-13-2-16 0-8-1-37-13-15-4-56-9-14-1-8 2 1 2 3 2 10 4 58 15 30 10 14 2 20 0 6 0 33 11zM595 185l8 1 5-1-2-2-3-2-15-6-9-2-4 1-1 1 1 2 4 2zM523 171l9 0 2-2-1-2-7-4-23-8-10-2-10-2-6 1-5 1 2 2 4 2 16 6 19 6zM429 153l10 2 8 0 9-2 1-2-7-4-14-6-23-8-14-3-18 0-6-1-42-14-14-4-62-10-16 0-4 0-2 2 7 4 18 6 53 13 34 11 14 2 16-1 6 0 8 2 24 9zM620 147l7 0 1-2-6-4-10-4-9-2-6 0-1 2 6 4 10 4zM540 131l11 0 2-2-2-2-8-4-23-8-15-3-10 1-1 2 12 6 17 6zM455 115l12 0 8-2-1-2-11-6-20-8-16-5-10-2-16 1-6-1-50-16-60-12-24-3-8 1-5 1 1 2 4 2 23 8 59 15 30 9 16 3 16-2 6 1 10 2 26 10zM638 107l7 1 4-1-1-2-3-2-10-4-10-2-7 0 1 2 3 2zM556 91l11 1 3-1 0-2-2-2-8-4-23-8-14-2-4 0-4 2 2 2 3 2 9 4 12 4zM471 75l14 1 6-1 2-2-1-2-7-4-14-6-16-6-16-4-18 1-6 0-41-15-15-4-63-12-13-2-18 0-3 0-1 2 7 4 31 10 54 13 32 10 14 2 18-1 8 0 32 12zM657 67l8 1 3-1-6-4-11-4-8-1-4 1 7 4zM572 51l11 1 5-1 0-2-6-4-20-8-15-3-6 0-4 1 0 2 6 4 15 6zM500 37l9-1 3-1 0-2-5-4-13-6-15-6-12-3-10-2-16 1-6 0-32-12 0-2-65 0 0 2 33 7 38 11 12 2 16-2 8 1 36 13 10 3zM676 27l7 1 2-1-2-2-10-4-8-2-7 0 2 2 4 2zM601 13l4 0 3-2-2-2-2-2-13-6 0-2-28 0 0 2 13 6 13 4z"/>
<path fill="#68bfa8" d="M-1 351l10 0-1-12-2-8-3-7-2-1-2 0zM32 351l18 0-1-10-2-10-2-5-2-3-2-1-2 1-2 2-2 5-2 10zM73 351l18 0-1-12-2-8-2-6-3-3-2 0-2 2-2 4-2 9zM114 351l18 0-1-12-2-8-2-4-2-3-2 0-2 0-2 2-2 5-2 9zM155 351l18 0 0-6-2-6-2-6-4-5-2-1-2 2-3 6-2 6zM195 351l18 0 0-2-4-7-2-2-4-1-4 2-2 2-2 4zM237 351l14 0 0-2-3-8 2-4 10-10 0-2-2-4-5-4-8-3-22-4-16-5-8 0-4 2-2 2-1 2 2 4 5 6 4 2 4 1 12-2 4 0 6 2 6 5 5 6 3 4 0 2-6 8zM278 351l14 0 0-8 4-8 0-4-1-4-6-4-4-1-6 0-5 3-2 2 1 4 5 12zM316 351l18 0 1-10-1-4-3-5-4-3-4-1-4 0-4 2-2 3 0 4 3 10zM355 351l19 0-1-8-4-6-4-2-4 1-2 1-2 2-2 4zM396 351l17 0 0-2-4-7-2-2-4-1-4 3-2 2zM438 351l13 0-3-12 5-12 0-4-3-4-5-2-4-1-6 0-2 1-2 2 1 2 10 16 0 4-4 8zM478 351l13 0 0-8 2-8 0-4-2-4-4-3-4-1-2 1-2 1-2 4 2 14zM517 351l16 0 0-8 0-4-2-4-4-3-6-2-4 3-1 2-1 4zM556 351l17 0-1-8-3-5-4-2-4 1-2 2-2 4zM597 351l15 0 0-2-3-5-2-2-4-1-2 1-3 3-1 4zM639 351l11 0 0-2-3-5-2-2-2 1-2 2-2 4zM679 351l11 0-1-8 2-8-1-4-1-3-4-2-3 1-2 2 0 4 1 8zM718 351l13 0 0-10-2-4-2-2-4-1-2 0-3 3-1 4zM757 351l15 0-1-6-2-4-4-2-4 1-3 3zM798 351l12 0 0-2-3-4-4-1-4 3zM841 351l7 0 0-2-3-2-2 0-2 2zM882 351l5 0 0-2-2-2-2 1-1 1zM920 351l9 0-1-8-1-2-2-2-2 0-2 2zM959 351l11 0-1-5-2-3-2-1-2 0-3 3zM1001 351l7 0 0-2-3-2-2 0-2 2zM643 331l2 1 1-1 2-4-2-4-3-1-2 0-1 1 0 2zM406 321l3 0 6-2 3-2 0-2-1-2-5-4-5-2-6 0-4 1-2 3 2 4 4 4zM607 317l2 0 1-2-1-2-4-2-2 1-1 1 1 2zM359 313l6 2 4-1 5-3 1-2 0-2-4-4-4-2-20-6-18-6-10-2-14 0-8-1-44-14-10-3-14-2-22-1-9 1-3 2 1 2 8 4 21 5 27 9 31 7 18-1 4 0 20 8 22 4zM530 301l5-1 1-1-1-2-8-4-4-1-4 1-1 2 2 2 5 3zM447 285l10 1 6 0 3-1-1-2-7-4-14-6-9-2-6 0-4 0-2 2 2 2 7 4zM374 271l17 1 5-1 1-2-3-2-13-6-28-10-14-3-18-1-8-1-33-11-15-4-16-3-24-2-12-1-7 2 1 2 9 4 39 11 30 10 14 2 18 0 6 0 14 4 28 9zM555 261l4 1 3-1-4-2-7-2-3 0 2 2zM474 247l9 1 5-1 0-2-6-4-15-6-14-3-6 0-5 1 1 2 8 4zM391 231l10 1 8 0 6-1 0-2-7-4-10-4-27-10-12-2-18 0-6-1-37-13-15-4-14-3-36-4-12 1-2 0-1 2 3 2 10 4 42 11 34 11 14 2 16-1 6 0 33 11zM492 207l11 2 4-1 1-1-1-2-7-4-17-6-16-2-3 0-2 2 12 6zM421 193l6 0 5-2 0-2-12-6-20-8-13-4-10-1-20 0-42-15-22-5-50-7-8 0-4 2 1 2 4 2 11 4 48 13 30 9 16 3 16-2 6 1 37 12 11 3zM590 181l6 0-4-2-3-1-2 0-1 1zM521 169l4 0 2-2-2-2-8-4-19-6-11-2-4 1-2 1 2 2 4 2 11 4 12 4zM433 153l12 0 2 0 3-2-1-2-3-2-8-4-14-6-15-5-12-1-16 1-6-1-37-14-23-6-50-8-12-1-9 1 0 2 3 2 16 6 50 13 30 9 10 3 8 0 20-2 6 2 30 11zM610 141l3 1 2-1-4-1zM539 129l4 0 2-2-6-4-16-6-14-3-7 1 1 2 3 2 9 4 13 4zM449 113l8 1 6 0 5-1 1-2-2-2-7-4-25-10-16-3-18 1-4 0-36-14-20-6-64-11-14-1-4 1-2 1 2 2 4 2 16 6 52 13 34 11 16 2 20-3 34 13zM554 89l8 0 0-2-2-2-8-4-13-4-12-2-3 0-1 2 2 2 8 4 12 4zM477 75l8 0 3-2 0-2-6-4-8-4-23-8-8-2-8-1-16 3-35-14-21-7-72-13-12-1-8 1 0 2 3 2 22 8 21 6 36 9 31 9 11 2 8 0 12-2 4-2 2 0 2 2 30 12 13 4zM569 49l8 1 4-1 0-2-3-2-14-6-13-3-4 0-4 1 1 2 7 4zM492 35l11 1 3-1 2-2-1-2-3-2-8-4-14-6-12-4-9-2-6 0-10 2-1 2 8 4 20 8zM410 19l9 1 8-1 7-2 0-2-12-6-20-8 0-2-61 0 0 2 30 7zM586 9l11 2 2-1 2-1-5-4-9-4 0-2-20 0 0 2 3 2z"/>
<path fill="#64c1bd" d="M-1 351l9 0 0-10-2-8-3-7-2-1-2 0zM32 351l18 0-3-18-2-5-2-3-2-1-2 1-2 3-2 4-2 10zM73 351l18 0-3-18-2-6-3-2-2-1-2 2-2 4-2 9zM114 351l18 0-2-16-3-7-2-2-2-1-2 1-3 5-2 8zM155 351l18 0 0-6-2-6-4-8-2-1-2-1-2 1-3 5-2 6zM195 351l18 0 0-2-4-7-2-2-4-1-4 2-2 2-2 4zM237 351l14 0 0-2-4-8 1-2 8-8 3-4 0-2-2-4-5-4-7-3-6-1-14-1-18-6-8 0-5 3-1 2 2 4 3 4 5 4 4 0 12-2 4 0 6 3 6 5 9 10 0 2-7 8zM278 351l13 0 1-8 3-8 1-4-3-5-6-4-4 0-4 1-4 2-2 2 0 4 5 12zM316 351l17 0 2-8 0-4-4-6-4-3-4-2-4 1-4 2-2 2 0 4 3 10zM355 351l19 0-1-6-2-5-2-2-4-3-2 1-3 1-3 3-1 3zM396 351l16 0 0-2-3-6-4-3-2 0-4 2-2 3zM438 351l13 0 0-2-4-10 5-10 0-4-1-3-3-3-7-2-4 0-3 2 0 4 8 12 2 4-6 10zM479 351l12 0-1-8 2-8 0-4-2-4-3-2-4-1-2 1-2 2-1 2 2 14zM517 351l15 0 1-8-1-4-2-4-3-3-4-1-2 0-3 2-2 2 0 4zM556 351l17 0-1-6-3-6-4-2-2 0-3 2-3 5zM597 351l14 0 0-2-4-6-4-1-4 3-2 4zM639 351l10 0 0-2-2-4-2-1-2 0-2 2-2 3zM680 351l9 0-2-8 2-10-2-4-2 0-2 0-1 2 1 10zM719 351l12 0-1-10-2-4-3-2-4 0-2 3-1 3zM758 351l13 0 0-4-2-4-4-3-4 1-2 4zM799 351l11 0 0-2-3-3-4-1-2 1-2 2zM842 351l5 0 0-2-2-1-2 0-1 1zM921 351l7 0-1-7-2-2-2 1zM960 351l9 0 0-2-2-3-2-2-2 1-2 2zM1003 351l3 0 0-2-3 0zM404 319l3 1 5-1 3-2 1-2-1-2-4-3-4-2-4 0-4 1-1 2 0 2 3 4zM362 313l3 1 4-1 3-2 1-2 0-2-4-4-4-2-18-5-20-7-10-1-16 0-46-15-16-4-28-2-6 1-5 1 0 2 3 2 6 2 12 3 32 11 30 7 6-1 12-2 4 1 20 8 22 4zM444 283l11 2 4-2-1-2-3-2-9-4-9-2-7 0-1 2 3 2zM368 269l15 2 4-1 4-1-1-2-7-4-14-6-12-4-18-4-24-1-36-13-14-4-14-2-22-2-12 0-4 2 2 2 11 4 59 18 12 2 20 0 8 1zM471 245l8 1 3-1-1-2-3-2-9-4-12-3-7 1 1 2 4 2zM397 231l9 0 3-2-1-2-7-4-26-10-16-3-18 1-4-1-35-13-19-6-14-2-26-3-12 0-5 1 0 2 9 4 70 21 8 2 8 0 20-2 37 13zM490 205l9 1 3-1-6-4-11-4-10-1-3 1 7 4zM411 191l12 0 2 0 2-2-5-4-8-4-22-8-15-2-8 0-6 2-4 0-34-14-20-6-14-3-39-5-12 0-2 2 3 2 10 4 46 13 30 9 8 2 8 0 18-4 29 12zM510 165l5 1 4-1-3-2-9-4-8-2-8 0 2 2 4 2zM427 151l8 1 6 0 4-1 0-2-5-4-8-4-10-4-13-4-14-1-8 1-1 2 17 8zM353 137l14 0 7-2 1-2-8-4-19-8-25-8-54-8-12-1-6 1 1 2 4 2 11 4 48 13 28 9zM528 125l7 0-2-2-10-4-8-2-3 0 0 2 3 2zM455 113l6 0 4-2-1-2-6-4-13-6-12-4-9-2-7-1-5 1-4 2 1 2 4 2 13 6 18 6zM369 97l14 1 5-1 4-2 0-2-12-6-20-8-15-5-66-11-11 0-3 2 7 4 17 6 42 11zM544 85l7 1 2-1-2-2-10-4-8-1-2 1 2 2zM470 73l11 0 2 0 1-2-1-2-7-4-21-9-14-2-6 0-5 1-1 2 3 2 8 4 16 6zM386 57l9 1 6 0 8-1 2-2-1-2-4-2-13-6-16-6-13-4-68-12-11-1-6 1 1 2 3 2 16 6 21 6 31 8zM561 45l10 2 1-2-7-4-7-2-7 0 2 2zM487 33l12 1 4-1 0-2-2-2-7-4-21-8-14-3-6 1-3 2 2 2 3 2 9 4zM415 19l10-1 3-1 1-2-2-2-7-4-20-8 0-2-56 0 0 2 29 7 30 9zM586 7l7 0-2-2-9-4 0-2-10 0 0 2 3 2z"/>
<path fill="#51bed5" d="M-1 351l9 0-2-16-3-6-2-2-2 0zM32 351l17 0-2-16-2-5-2-3-2 0-2 0-2 3-2 5zM74 351l16 0-2-16-3-7-2-1-2 0-2 1-2 4-2 9zM115 351l17 0-1-8-2-8-2-5-2-2-2-1-2 1-2 3-3 8zM156 351l17 0 0-6-2-5-2-4-4-5-2 0-2 1-2 2-2 7zM195 351l18 0 0-2-4-7-4-2-2 0-4 2-2 2-1 3zM238 351l13 0 0-2-4-6-2-2-6 6-1 2zM278 351l13 0 0-8 3-8 1-4-2-4-6-4-6 0-5 2-2 2 0 4 5 12zM317 351l16 0 1-8 0-4-3-6-4-3-4-1-4 0-3 2-2 2 0 4 2 10zM356 351l17 0 0-6-2-4-4-4-2-1-4 1-3 2-2 4zM396 351l16 0 0-2-4-6-3-2-2 0-2 0-3 4zM438 351l12 0 0-2-3-6-2-1-4 3-3 4zM479 351l11 0-1-8 2-8 0-4-2-3-2-2-4 0-2 1-1 2-1 4 1 10zM518 351l14 0 0-8-1-4-2-4-2-2-2-1-4 0-3 3-1 4zM557 351l15 0-1-6-2-4-4-3-4 1-3 4zM598 351l13 0 0-2-4-5-4-1-4 3-1 3zM640 351l9 0 0-2-4-3-2 0-3 3zM681 351l7 0 0-2-1-3-2-2-2 2-2 3zM719 351l11 0-1-10-2-3-2-1-3 0-2 2-1 4zM758 351l12 0-1-6-2-3-2-1-2 0-2 2-1 2zM800 351l9 0 0-2-4-3-2 0-3 3zM923 351l3 0 0-2-1-1-2 1zM962 351l5 0 0-2-2-2-2 0-1 2zM244 337l1 2 2-1 8-7 3-4 0-4-7-6-10-4-18-1-16-5-6 0-5 2-1 2 1 4 6 6 5 2 12-3 6 1 8 5zM445 335l2 0 4-6 0-4-1-2-1-2-4-2-4-1-4 1-2 2 2 4 4 6zM403 317l4 1 4-1 2-2 0-2-4-3-6 0-3 1 0 2zM359 311l4 1 4 0 2-1 2-2 0-2-2-2-6-3-14-4-20-8-12-1-9 2 1 2 3 2 11 6 8 2 16 2zM272 293l9 2 6 0 8-2 3-2-1-2-9-4-41-14-12-2-14 0-11 0-4 2 3 2 5 2 28 10zM444 281l5 1 3-1-2-2-5-2-6-1-2 1zM374 269l7 0 4-2-2-2-7-4-22-8-15-3-14 1-1 2 15 6 24 8zM287 253l8 1 8 0 10-1 3-2-27-12-12-4-14-4-14-2-16-1-10 1-1 2 3 2 11 4zM391 229l10 0 1 0 1-2-2-2-8-4-22-8-14-2-4 0-5 2 2 2 13 6 18 6zM314 215l11 0 7-2 0-2-6-4-14-6-25-8-14-3-16-1-16-1-7 1 2 2 10 4 51 16zM406 189l11 1 4-1 0-2-10-6-16-6-14-3-9 1-1 2 6 4 15 6zM329 175l14 1 4-1 4-2-1-2-3-2-8-4-21-8-14-4-13-2-34-4-8 0-2 2 4 2 10 4zM423 149l12 2 5-2-1-2-6-4-9-4-11-4-14-2-4 1-3 1 2 2 7 4zM346 135l9 1 6 0 7-1 1-2-1-2-3-2-9-4-15-6-14-4-18-4-32-4-12-1-5 1 2 2 9 4zM449 111l8 0 1 0 2-2-2-2-7-4-14-6-14-3-9 1 0 2 2 2 8 4 17 6zM375 97l8 0 4-2 1-2-6-4-8-4-15-6-14-4-60-9-8-1-3 2 7 4 12 4 40 11 30 9zM466 71l7 1 4 0 2-1 0-2-2-2-8-4-15-6-13-2-4 0-2 2 1 2 7 4 10 4zM390 57l7 1 6-1 3-2 0-2-6-4-13-6-24-8-62-10-12 0 0 2 3 2 17 6 42 11 30 9zM483 31l10 2 4-1 1-1-1-2-6-4-14-6-12-3-6 0-3 1 0 2 6 4 9 4zM406 17l13 1 4-1 2-2-1-2-6-4-19-8 0-2-52 0 0 2 22 5z"/>
<path fill="#2bb0ec" d="M-1 351l9 0-1-9-2-7-2-4-2-2-2 0zM33 351l16 0-1-8-2-8-3-5-2-1-2 1-3 5-2 8zM74 351l16 0-1-10-2-6-2-4-2-2-2 0-2 2-2 3-2 7zM115 351l16 0-2-15-2-4-2-2-2-1-2 1-2 2-2 7zM156 351l17 0-2-10-2-4-4-4-2-1-2 1-2 3-2 5zM196 351l17 0 0-2-4-6-4-3-2 0-4 2-2 3zM238 351l12 0 0-2-3-5-2-1-2 1-4 4-1 1zM279 351l12 0 0-8 3-8 0-4-2-4-5-3-4-1-4 1-3 3-1 2 4 14zM317 351l16 0 1-8 0-4-3-5-4-3-6-1-4 1-2 2-1 4 3 10zM356 351l17 0 0-4-2-5-4-4-2-1-4 1-2 1-2 4zM397 351l15 0 0-2-3-5-2-2-4-1-2 1-3 3-1 4zM439 351l11 0 0-2-3-4-2-1-2 0-2 2-2 3zM480 351l10 0-2-8 2-10-2-4-3-1-2 0-2 3 0 10zM518 351l13 0 0-8 0-4-2-3-4-2-4 0-2 1-1 2zM557 351l15 0-1-5-2-4-4-3-4 1-3 5zM598 351l12 0 0-2-3-4-4-1-2 1-2 2zM641 351l7 0 0-2-3-2-2 0-2 2zM682 351l5 0 0-2-2-1-2 0zM720 351l9 0-1-8-1-2-2-2-2 0-2 3zM759 351l11 0 0-2-3-5-2-1-2 0-3 4zM801 351l6 0 0-2-2-1-2 0-2 1zM243 335l2 2 4-1 6-5 2-4 1-2-3-4-6-5-10-2-16-1-16-6-6 1-3 1-2 2 1 4 4 4 2 2 6 1 10-2 6 0 6 4zM443 331l2 1 2 0 2-3 0-4-3-4-5-1-3 1 0 2 2 4zM406 313l1 1 0-1zM359 309l6 1 3-1 0-2-2-2-3-2-14-3-15-7-7-2-10 0-2 0-2 2 5 4 7 3 6 2 16 1zM276 293l7 1 6-1 4-2-1-2-3-2-9-4-33-11-14-2-17 1 0 2 3 2 19 8 13 4zM371 267l5 0 2-2-6-4-15-6-14-3-6 0-3 1 1 2 3 2 11 4 12 4zM290 253l11 0 3 0 4-2 0-2-3-2-8-4-15-6-13-4-20-3-12 0-6 1 0 2 4 2 10 4 30 10zM388 227l7 0 1-2-3-2-8-4-12-4-12-2-4 0-1 2 2 2 8 4 12 4zM307 213l8 1 6 0 5-1 1-2-1-2-3-2-8-4-16-6-14-4-12-2-10-1-12 0-6 1 2 2 9 4zM403 187l8 1 3-1 0-2-3-2-13-6-13-3-4 0-4 1 1 2 7 4zM324 173l9 2 6 0 6-2 1-2-5-4-9-4-16-6-9-3-16-3-10-1-16 0-4 0-2 1 3 2 11 4zM421 147l8 1 4 0 1-1-1-2-3-2-15-6-12-2-2 0-2 2 5 4zM350 135l11 0 4-2-1-2-2-2-8-4-15-6-13-4-17-3-29-3-6 0-1 2 16 6 46 14zM447 109l5 0 1-2-5-4-9-4-12-3-7 1 1 2 7 4 10 4zM367 95l12 1 3-1 1-2-1-2-2-2-8-4-15-6-12-3-14-3-32-4-8-1-5 1 2 2 10 4zM464 69l5 1 3-1 0-2-2-2-14-6-11-2-2 0-2 2 2 2 8 4zM384 55l7 1 6 0 4-1 1-2-5-4-8-4-10-4-14-4-56-9-6 0-3 1 3 2 11 4 39 11zM482 29l7 1 3-1-1-2-3-2-9-4-10-2-6 0 0 2 3 2zM401 15l14 2 5-2 0-2-2-2-7-4-15-6 0-2-44 0 0 2 19 5z"/>
<path fill="#2b91d7" d="M-1 351l9 0-1-6-2-8-2-4-2-1-2 0zM33 351l16 0-2-11-2-5-2-3-2-1-2 1-2 2-2 7zM74 351l16 0-1-7-2-7-2-4-2-2-2 0-2 2-2 4-2 7zM115 351l16 0-2-12-2-5-2-2-2-1-2 1-2 2-2 7zM156 351l16 0 0-6-2-4-3-5-2-2-2 0-2 1-2 3-2 6zM196 351l16 0 0-2-3-5-2-2-4-1-4 2-2 2zM238 351l12 0 0-2-3-4-2-1-4 2-3 3zM279 351l11 0 0-8 3-8 0-4-2-3-4-3-4-1-3 1-3 2-1 2 1 4 3 10zM317 351l15 0 1-8 0-4-2-4-4-3-6-2-2 1-3 2-1 4zM356 351l17 0-2-8-4-4-2-1-4 1-4 4zM397 351l14 0 0-2-4-6-4-1-4 3-2 4zM440 351l9 0 0-2-2-3-2-1-2 1-3 3zM480 351l9 0 0-2-3-8 1-8-2-2-2 2 1 8-4 8zM519 351l12 0-1-10-2-4-3-2-4 0-2 3zM558 351l13 0 0-2-2-5-2-2-2-1-2 0-2 1-2 3zM599 351l10 0 0-2-2-3-4-1-2 1-2 3zM643 351l3 0 0-2-3 0zM722 351l6 0-1-5-2-3-2 1zM761 351l7 0 0-2-1-2-2-1-2 0-2 2zM244 335l3 0 4-2 4-4 1-2 0-4-3-3-4-3-10-3-16 1-8-4-8-2-6 0-2 2-1 2 1 2 3 4 3 1 6 0 10-2 4 0zM442 327l3 2 2-2 0-2-2-2-3 0-1 2zM326 299l7 1 4 0 2-1-1-2-4-2-5-2-6-1-4 1 0 2zM271 291l12 1 4-1 1-2-2-2-9-4-28-10-16-2-6 0-4 2 1 2 3 2 14 6 12 4zM360 263l7 1 2-1-2-2-10-4-8-2-4 0 0 2 4 2zM284 251l13 1 6-1 0-2-5-4-8-4-19-7-20-3-8 0-5 2 2 2 8 4zM378 223l5 1 3-1-2-2-9-4-8-1-3 1 8 4zM313 213l4 0 4-1 2-1-1-2-10-6-15-6-12-3-12-2-12 0-6 1 2 2 4 2 10 4 30 10zM396 183l7 1 2-1-7-4-8-2-3 0 0 2zM328 173l9 0 2 0 3-2-2-2-2-2-8-4-10-4-13-4-18-3-10 0-7 1 2 2 14 6 24 8zM415 143l8 2 1-2-9-4-4-1-3 1 2 2zM345 133l6 1 6 0 2-1 1-2-4-4-9-4-20-7-18-3-14-1-7 1 2 2 15 6zM441 105l2 0-1-2-5-2-4-1-2 1 3 2zM362 93l7 1 6 0 4-1 0-2-6-4-8-4-18-6-20-3-16-1-8 0 3 2 17 6zM454 63l3 1 2-1zM379 53l12 2 4-1 2-1 0-2-3-2-7-4-10-4-14-4-12-2-20-2-10-1-4 1 10 4zM407 15l6 0 3-2-1-2-6-4-15-6 0-2-37 0 0 2 40 12z"/>
<path fill="#296dbc" d="M-1 351l8 0-2-11-2-4-2-2-2 0zM33 351l15 0-1-9-2-5-2-3-2 0-2 0-2 3-2 6zM74 351l16 0-1-5-2-7-2-4-2-1-2 0-2 1-2 4-2 7zM116 351l15 0-2-10-2-5-2-2-2-1-2 1-2 3-2 5zM157 351l15 0-1-6-1-4-3-4-2-1-2-1-2 2-2 2-2 6zM196 351l16 0 0-2-2-4-3-3-4-1-2 1-3 3-2 4zM239 351l11 0 0-2-3-3-2-1-2 1-4 3zM280 351l10 0-1-8 3-8 0-4-3-4-4-1-4 0-2 1-1 2 0 4 3 10zM318 351l14 0 1-8-1-4-3-5-4-2-4-1-2 1-3 3 0 4zM357 351l15 0-1-6-4-5-2-1-4 1-2 1-2 4zM398 351l13 0 0-2-4-5-4-1-4 3-1 3zM440 351l8 0 0-2-3-2-2 0-3 2zM481 351l7 0 0-2-3-3-2 1-2 2zM520 351l10 0-1-10-2-3-2-1-3 0-2 2zM559 351l11 0 0-2-1-3-2-3-2-1-2 0-3 3-1 3zM600 351l8 0 0-2-3-2-2 0-3 2zM763 351l3 0 0-2-1-1-2 1zM243 333l4 1 4-2 3-3 1-4-2-4-6-4-6-2-7 0-6 2 1 2 1 2zM206 319l7 0 4-2 1-2-2-2-5-2-4-1-4 0-3 3 1 2 2 2zM266 289l11 1 5-1-1-2-7-4-23-9-8-1-8-1-5 1-1 2 2 2 3 2 9 4 13 4zM280 249l13 2 4-1 2-1-1-2-6-4-9-4-13-4-17-2-5 0-2 2 2 2 4 2zM307 211l8 0 1 0 2-2-2-2-6-4-10-4-11-3-18-3-4 1-3 1 2 2 3 2 22 8zM323 171l10 1 3-1 0-2-2-2-7-4-16-6-9-2-11-1-9 1 2 2 3 2 22 8zM341 131l8 1 4 0 2-1 0-2-6-4-15-6-19-4-6-1-7 1 0 2 3 2zM358 91l11 2 5-2-1-2-7-4-15-6-9-2-15-2-4 0-3 2 3 2 5 2zM376 51l11 2 4-1 1-1-1-2-7-4-17-6-20-3-8 1 2 2 5 2zM404 13l5 0 1-2-5-4-15-6 0-2-26 0 0 2 23 8z"/>
<path fill="#2355aa" d="M-1 351l8 0-2-9-2-4-2-2-2 0zM34 351l14 0-2-8-3-6-2-1-2 0-2 3-2 5zM75 351l14 0-2-10-2-4-2-1-2 0-3 3-2 6zM116 351l14 0-1-8-2-5-2-2-2-1-2 1-2 3-2 5zM157 351l15 0-1-6-4-7-2-1-2 0-2 1-3 5zM197 351l15 0 0-2-3-4-2-2-4-1-2 1-2 2-2 3zM240 351l9 0 0-2-4-3-2 0-3 3zM280 351l9 0-1-8 2-10-1-4-4-2-4 1-2 3 3 12zM318 351l13 0 1-8-1-4-2-4-4-2-5 0-3 3zM357 351l15 0 0-2-3-6-2-2-4-1-2 1-2 2-2 4zM398 351l12 0 0-2-3-4-4-1-2 1-2 2zM442 351l5 0 0-2-2-1-2 0-1 1zM483 351l3 0 0-2-1-1-2 1zM521 351l8 0-1-8-1-2-2-2-2 0-1 2zM560 351l9 0 0-2-2-4-2-1-2 0-2 3zM602 351l5 0 0-2-2-1-2 0-1 1zM242 331l3 2 2 0 4-2 3-4-1-4-4-4-4-2-6-1-7 1-1 2 1 2zM207 317l3 0 3-2-2-2-4-1-2 1-1 2zM262 287l7 1 5-1-1-2-3-2-15-6-12-3-6 0-3 1 1 2 6 4 12 4zM287 249l4 0 2-2-4-4-16-6-10-2-9 0-1 2 8 4 16 6zM303 209l8 0 1-2-2-2-8-4-12-4-13-2-5 2 3 2 9 4zM321 169l6 1 4-1-1-2-2-2-15-6-12-2-9 0 1 2 9 4zM338 129l7 1 4-1-1-2-3-2-15-6-13-2-2 0-3 2 13 6zM356 89l7 1 4-1-1-2-3-2-10-4-10-2-6-1-4 1 2 2 4 2zM375 49l6 1 4-1-5-4-12-4-9-1-4 1 8 4zM393 9l6 1 3-1-6-4-5-2-10-2 0-2-3 0 0 4z"/>
<path fill="#204da2" d="M-1 351l7 0-1-7-2-4-2-2-2 0zM34 351l14 0-2-6-3-6-2-1-2 0-2 3-2 5zM75 351l14 0-2-8-2-4-2-1-2 0-2 1-3 6zM116 351l14 0-2-8-3-5-2-1-2 1-2 3-2 5zM157 351l14 0-1-6-3-5-2-1-2-1-2 2-3 5zM197 351l14 0 0-2-4-5-4-1-4 2-2 4zM240 351l8 0 0-2-3-2-2 0-3 2zM281 351l7 0 0-2-2-6 3-10-2-3-2-1-2 0-2 2 0 4 3 8-3 6zM319 351l12 0 0-8-1-4-1-3-4-2-4 0-2 1-1 2zM358 351l13 0 0-2-3-6-3-2-2 0-2 1-2 3zM399 351l10 0 0-2-2-3-4-1-3 2-1 2zM522 351l5 0 0-5-2-3-2 1zM561 351l7 0 0-2-3-3-2 0-2 3zM244 331l3 0 4-2 1-2 0-4-5-4-4-2-4 0-4 1-1 1 1 4 6 6zM251 283l10 2 2 0 1-2-7-4-6-2-6-1-4 1 1 2zM276 245l9 1 2-1-2-2-10-4-10-2-3 2 3 2zM294 205l9 2 2-2-7-4-7-2-6-1-3 1 2 2zM312 165l9 2 2-2-4-2-8-3-6-1-2 2zM331 125l6 1 2 0 1-1-11-4-5 0 2 2zM351 85l4 0-2-1z"/>
</g></g>
<g stroke="#000" stroke-width="2.9" fill="none">
<rect x="171.5" y="1418.7" width="1407.0" height="350.3"/>
<line x1="171.50" y1="1756.5" x2="171.50" y2="1781.5"/>
<line x1="347.38" y1="1756.5" x2="347.38" y2="1781.5"/>
<line x1="523.25" y1="1756.5" x2="523.25" y2="1781.5"/>
<line x1="699.12" y1="1756.5" x2="699.12" y2="1781.5"/>
<line x1="875.00" y1="1756.5" x2="875.00" y2="1781.5"/>
<line x1="1050.88" y1="1756.5" x2="1050.88" y2="1781.5"/>
<line x1="1226.75" y1="1756.5" x2="1226.75" y2="1781.5"/>
<line x1="1402.62" y1="1756.5" x2="1402.62" y2="1781.5"/>
<line x1="1578.50" y1="1756.5" x2="1578.50" y2="1781.5"/>
<line x1="159" y1="1418.7" x2="184" y2="1418.7"/>
<line x1="159" y1="1593.8" x2="184" y2="1593.8"/>
<line x1="159" y1="1769.0" x2="184" y2="1769.0"/>
</g>
<text x="3" y="1427.2" font-weight="bold">(E)</text>
<text x="147" y="1431.3" text-anchor="end">200</text>
<text x="147" y="1606.4" text-anchor="end">100</text>
<text x="148.5" y="1781.6" text-anchor="end">0</text>
<text transform="translate(46,1595.7) rotate(-90)" text-anchor="middle">z (mm)</text>
<text x="200.5" y="1680.5" style="font-size:41.2px">SWs</text>
<line x1="176" y1="1700" x2="292" y2="1700" stroke="#000" stroke-width="3.8"/>
<path d="M314 1700 L288 1685.5 L288 1714.5 Z" fill="#000"/>
<line x1="876.5" y1="1679" x2="978.4" y2="1471.6" stroke="#000" stroke-width="3.8"/>
<path d="M988.5 1451.0 L990.1 1480.7 L964.0 1467.9 Z" fill="#000"/>
<text x="1018" y="1483.5" style="font-size:41.2px">PWs</text>
<text x="1335.5" y="1460.7" style="font-size:41.2px">PCR=0.8</text>
<rect x="1616.5" y="1496.5" width="51.5" height="198.5" fill="url(#cb)"/>
<text x="1614" y="1474.5" style="font-size:40.5px">E<tspan dy="12.7" dx="1.5" style="font-size:30px">x</tspan></text>
<text x="1685" y="1514">1</text>
<text x="1684" y="1707.5">-1</text>
</g>
<text x="169.5" y="1823.8" text-anchor="middle">-100</text>
<text x="347.9" y="1823.8" text-anchor="middle">0</text>
<text x="523.8" y="1823.8" text-anchor="middle">100</text>
<text x="699.6" y="1823.8" text-anchor="middle">200</text>
<text x="875.5" y="1823.8" text-anchor="middle">300</text>
<text x="1051.4" y="1823.8" text-anchor="middle">400</text>
<text x="1227.2" y="1823.8" text-anchor="middle">500</text>
<text x="1403.1" y="1823.8" text-anchor="middle">600</text>
<text x="1579.0" y="1823.8" text-anchor="middle">700</text>
<text x="891.5" y="1892.5" text-anchor="middle">x (mm)</text>
</svg></body></html>
